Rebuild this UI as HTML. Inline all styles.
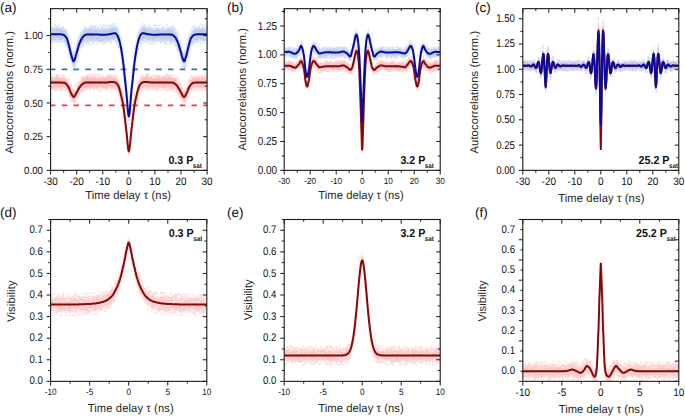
<!DOCTYPE html>
<html><head><meta charset="utf-8"><style>html,body{margin:0;padding:0;background:#fff;}svg{display:block;}</style></head>
<body><svg width="685" height="416" viewBox="0 0 685 416" text-rendering="geometricPrecision">
<rect width="685" height="416" fill="#fff"/>
<filter id="blur" x="-5%" y="-20%" width="110%" height="140%"><feGaussianBlur stdDeviation="1.6"/></filter>
<clipPath id="ca"><rect x="50.6" y="8.65" width="156.5" height="161.7"/></clipPath>
<clipPath id="cb"><rect x="284.2" y="8.65" width="156.0" height="161.7"/></clipPath>
<clipPath id="cc"><rect x="522.8" y="8.65" width="156.0" height="161.7"/></clipPath>
<clipPath id="cd"><rect x="50.6" y="219.5" width="156.20000000000002" height="161.85000000000002"/></clipPath>
<clipPath id="ce"><rect x="284.2" y="219.5" width="156.0" height="161.85000000000002"/></clipPath>
<clipPath id="cf"><rect x="522.8" y="219.5" width="156.0" height="161.85000000000002"/></clipPath>
<g clip-path="url(#ca)">
<path d="M50.6 28.0L51.3 28.0L51.9 28.0L52.6 28.0L53.3 28.0L54.0 28.0L54.6 28.0L55.3 28.0L56.0 28.0L56.6 28.0L57.3 28.0L58.0 28.0L58.7 28.0L59.3 28.0L60.0 28.0L60.7 28.0L61.3 28.1L62.0 28.1L62.7 28.2L63.4 28.5L64.0 28.9L64.7 29.4L65.4 30.1L66.0 30.8L66.7 31.9L67.4 33.7L68.1 36.1L68.7 38.7L69.4 41.2L70.1 43.9L70.8 46.8L71.4 49.5L72.1 51.7L72.8 53.8L73.4 55.0L74.1 54.5L74.8 52.7L75.5 50.8L76.1 48.5L76.8 46.0L77.5 43.6L78.1 41.3L78.8 39.1L79.5 37.2L80.2 35.5L80.8 34.0L81.5 32.6L82.2 31.5L82.8 30.7L83.5 30.0L84.2 29.3L84.9 28.8L85.5 28.5L86.2 28.4L86.9 28.3L87.5 28.3L88.2 28.3L88.9 28.3L89.6 28.3L90.2 28.3L90.9 28.3L91.6 28.2L92.2 28.2L92.9 28.2L93.6 28.2L94.3 28.2L94.9 28.2L95.6 28.2L96.3 28.2L96.9 28.3L97.6 28.3L98.3 28.3L99.0 28.3L99.6 28.4L100.3 28.4L101.0 28.4L101.6 28.5L102.3 28.5L103.0 28.5L103.7 28.5L104.3 28.5L105.0 28.5L105.7 28.4L106.3 28.4L107.0 28.3L107.7 28.2L108.4 28.1L109.0 28.0L109.7 27.9L110.4 27.8L111.1 27.6L111.7 27.5L112.4 27.3L113.1 27.1L113.7 27.0L114.4 26.9L115.1 26.9L115.8 27.2L116.4 27.8L117.1 28.7L117.8 29.8L118.4 31.6L119.1 33.5L119.8 35.9L120.5 38.7L121.1 42.2L121.8 46.3L122.5 50.7L123.1 55.5L123.8 61.3L124.5 67.8L125.2 74.5L125.8 80.5L126.5 86.5L127.2 95.2L127.8 103.0L128.5 109.1L129.2 109.1L129.9 103.0L130.5 95.2L131.2 86.5L131.9 80.5L132.5 74.5L133.2 67.8L133.9 61.3L134.6 55.5L135.2 50.7L135.9 46.3L136.6 42.2L137.2 38.7L137.9 35.9L138.6 33.5L139.3 31.6L139.9 29.8L140.6 28.7L141.3 27.8L141.9 27.2L142.6 26.9L143.3 26.9L144.0 27.0L144.6 27.1L145.3 27.3L146.0 27.5L146.6 27.6L147.3 27.8L148.0 27.9L148.7 28.0L149.3 28.1L150.0 28.2L150.7 28.3L151.4 28.4L152.0 28.4L152.7 28.5L153.4 28.5L154.0 28.5L154.7 28.5L155.4 28.5L156.1 28.5L156.7 28.4L157.4 28.4L158.1 28.4L158.7 28.3L159.4 28.3L160.1 28.3L160.8 28.3L161.4 28.2L162.1 28.2L162.8 28.2L163.4 28.2L164.1 28.2L164.8 28.2L165.5 28.2L166.1 28.2L166.8 28.3L167.5 28.3L168.1 28.3L168.8 28.3L169.5 28.3L170.2 28.3L170.8 28.3L171.5 28.4L172.2 28.5L172.8 28.8L173.5 29.3L174.2 30.0L174.9 30.7L175.5 31.5L176.2 32.6L176.9 34.0L177.5 35.5L178.2 37.2L178.9 39.1L179.6 41.3L180.2 43.6L180.9 46.0L181.6 48.5L182.2 50.8L182.9 52.7L183.6 54.5L184.3 55.0L184.9 53.8L185.6 51.7L186.3 49.5L186.9 46.8L187.6 43.9L188.3 41.2L189.0 38.7L189.6 36.1L190.3 33.7L191.0 31.9L191.7 30.8L192.3 30.1L193.0 29.4L193.7 28.9L194.3 28.5L195.0 28.2L195.7 28.1L196.4 28.1L197.0 28.0L197.7 28.0L198.4 28.0L199.0 28.0L199.7 28.0L200.4 28.0L201.1 28.0L201.7 28.0L202.4 28.0L203.1 28.0L203.7 28.0L204.4 28.0L205.1 28.0L205.8 28.0L206.4 28.0L207.1 28.0L207.1 40.5L206.4 40.5L205.8 40.5L205.1 40.5L204.4 40.5L203.7 40.5L203.1 40.5L202.4 40.5L201.7 40.5L201.1 40.5L200.4 40.5L199.7 40.6L199.0 40.6L198.4 40.6L197.7 40.6L197.0 40.6L196.4 40.6L195.7 40.7L195.0 40.8L194.3 41.0L193.7 41.5L193.0 42.0L192.3 42.7L191.7 43.4L191.0 44.5L190.3 46.3L189.6 48.7L189.0 51.3L188.3 53.8L187.6 56.5L186.9 59.4L186.3 62.0L185.6 64.2L184.9 66.4L184.3 67.6L183.6 67.0L182.9 65.3L182.2 63.4L181.6 61.1L180.9 58.6L180.2 56.2L179.6 53.9L178.9 51.7L178.2 49.7L177.5 48.1L176.9 46.6L176.2 45.2L175.5 44.1L174.9 43.3L174.2 42.6L173.5 41.9L172.8 41.4L172.2 41.1L171.5 40.9L170.8 40.9L170.2 40.9L169.5 40.9L168.8 40.9L168.1 40.9L167.5 40.8L166.8 40.8L166.1 40.8L165.5 40.8L164.8 40.8L164.1 40.8L163.4 40.8L162.8 40.8L162.1 40.8L161.4 40.8L160.8 40.8L160.1 40.9L159.4 40.9L158.7 40.9L158.1 41.0L157.4 41.0L156.7 41.0L156.1 41.0L155.4 41.1L154.7 41.1L154.0 41.1L153.4 41.1L152.7 41.1L152.0 41.0L151.4 40.9L150.7 40.9L150.0 40.8L149.3 40.7L148.7 40.6L148.0 40.5L147.3 40.4L146.6 40.2L146.0 40.1L145.3 39.9L144.6 39.7L144.0 39.6L143.3 39.5L142.6 39.5L141.9 39.8L141.3 40.4L140.6 41.3L139.9 42.4L139.3 44.1L138.6 46.1L137.9 48.5L137.2 51.3L136.6 54.7L135.9 58.9L135.2 63.3L134.6 68.0L133.9 73.9L133.2 80.4L132.5 87.1L131.9 93.1L131.2 99.1L130.5 107.8L129.9 115.6L129.2 121.7L128.5 121.7L127.8 115.6L127.2 107.8L126.5 99.1L125.8 93.1L125.2 87.1L124.5 80.4L123.8 73.9L123.1 68.0L122.5 63.3L121.8 58.9L121.1 54.7L120.5 51.3L119.8 48.5L119.1 46.1L118.4 44.1L117.8 42.4L117.1 41.3L116.4 40.4L115.8 39.8L115.1 39.5L114.4 39.5L113.7 39.6L113.1 39.7L112.4 39.9L111.7 40.1L111.1 40.2L110.4 40.4L109.7 40.5L109.0 40.6L108.4 40.7L107.7 40.8L107.0 40.9L106.3 40.9L105.7 41.0L105.0 41.1L104.3 41.1L103.7 41.1L103.0 41.1L102.3 41.1L101.6 41.0L101.0 41.0L100.3 41.0L99.6 41.0L99.0 40.9L98.3 40.9L97.6 40.9L96.9 40.8L96.3 40.8L95.6 40.8L94.9 40.8L94.3 40.8L93.6 40.8L92.9 40.8L92.2 40.8L91.6 40.8L90.9 40.8L90.2 40.8L89.6 40.9L88.9 40.9L88.2 40.9L87.5 40.9L86.9 40.9L86.2 40.9L85.5 41.1L84.9 41.4L84.2 41.9L83.5 42.6L82.8 43.3L82.2 44.1L81.5 45.2L80.8 46.6L80.2 48.1L79.5 49.7L78.8 51.7L78.1 53.9L77.5 56.2L76.8 58.6L76.1 61.1L75.5 63.4L74.8 65.3L74.1 67.0L73.4 67.6L72.8 66.4L72.1 64.2L71.4 62.0L70.8 59.4L70.1 56.5L69.4 53.8L68.7 51.3L68.1 48.7L67.4 46.3L66.7 44.5L66.0 43.4L65.4 42.7L64.7 42.0L64.0 41.5L63.4 41.0L62.7 40.8L62.0 40.7L61.3 40.6L60.7 40.6L60.0 40.6L59.3 40.6L58.7 40.6L58.0 40.6L57.3 40.5L56.6 40.5L56.0 40.5L55.3 40.5L54.6 40.5L54.0 40.5L53.3 40.5L52.6 40.5L51.9 40.5L51.3 40.5L50.6 40.5Z" fill="#9fb8e2" fill-opacity="0.5" filter="url(#blur)"/>
<path d="M50.7 37.5h0m0-1.6h0m.1-.5h0m0-7.8h0m0 9.6h0m.1-4.7h0m0-1.7h0m0 1.1h0m0 11.8h0m0-3h0m.1-9.2h0m.3 11.4h0m.1-7.2h0m0 6h0m0-8.8h0m.1 2.1h0m0 7h0m0-6.1h0m.1 3.8h0m.1-2.3h0m.3-8.4h0m0 4.5h0m0-.3h0m0-5.5h0m.1 6.6h0m.2-5.6h0m0 4.3h0m0 .6h0m0 2.9h0m.1 2.1h0m.2 1h0m0-.5h0m0-6.7h0m0 .5h0m.1 5.8h0m0-9.6h0m.1 8.6h0m.1-1.1h0m0 4.5h0m.1-2.5h0m0-7.8h0m.1 2h0m.1 4.9h0m0-8.6h0m.1 6h0m0-.7h0m0-4.5h0m.2 2.8h0m0 3.6h0m.1 3.3h0m0-10.7h0m.2 14.8h0m0-6.1h0m.2 5.2h0m.1-5.3h0m.1-6.6h0m0 5.4h0m.1 .4h0m0-1.7h0m0-9.2h0m.2 2.7h0m.1 5.2h0m.1 4h0m.1-1.1h0m0-3.4h0m0 2.6h0m.1-.5h0m.1 4.2h0m.2 1.5h0m0-1.2h0m.1-6.2h0m0 5.3h0m.1-14.1h0m0 7.3h0m.1-.4h0m.1-1.6h0m0 9.3h0m.1 .6h0m.3-4.4h0m0-3.7h0m.1 .1h0m.1-5h0m0 1.1h0m.1 1.6h0m.2-.5h0m.1 3.9h0m0-2.7h0m0 5.2h0m.1 .6h0m0-6.3h0m.1 11.8h0m0-13.9h0m0-2.1h0m0 10.6h0m.2-5.7h0m0 2.7h0m0 5.2h0m.2-6.2h0m.1-.7h0m.1-2.3h0m.1 6.1h0m.1-2.1h0m.1 3.4h0m0-7.4h0m.1 5.1h0m.2-4.4h0m0 7h0m0-3.6h0m0 4.6h0m.1-.7h0m.2-8.4h0m.1 5.8h0m0-.4h0m.1-3.7h0m.1 7h0m.1-12.5h0m0 12.3h0m0-1.7h0m.1-10.9h0m0 16.9h0m.1-15.8h0m.1 6.3h0m.1-.6h0m.1 7.1h0m0-5.5h0m0 6.5h0m.1-10.3h0m0 5.7h0m.2 1.8h0m0-.7h0m.2-1.5h0m.1-5.1h0m.2 2.8h0m.1 5.1h0m0 .5h0m.2 .7h0m0-8.2h0m0 1.4h0m.1 7.2h0m0 2.4h0m.2-7.1h0m0 2.4h0m.1-5h0m0 2.9h0m.1-2.2h0m.1-2h0m0-1h0m0 5.7h0m.1-4.2h0m0 5.8h0m0 2.9h0m0-6.5h0m0-4.4h0m0-1h0m.1 6.8h0m0 7.5h0m0-9.3h0m.1 2.5h0m0-3.8h0m0-2h0m.1 6.8h0m.1 1.2h0m0-1.4h0m.1 1.3h0m0 1.4h0m.1-5.4h0m.1 4.3h0m.1-2h0m0 .2h0m0 1.3h0m.3-5.5h0m.1 4.8h0m.1-1.7h0m0-3.9h0m.1 4.2h0m.1 5.9h0m0-4.4h0m.1 .1h0m0-5h0m.1-4.6h0m.1 6.6h0m0 1.5h0m.3-7h0m.1 9.7h0m0-4.4h0m.1-.8h0m0 2.3h0m0 .7h0m.1-1.6h0m0-6h0m.1 4.3h0m0 5.2h0m.3-3.7h0m.2-3h0m0-3.6h0m.1 4.5h0m0 2.7h0m.1-5.3h0m0 2.3h0m0 3.3h0m.1 3.6h0m0-3.3h0m.1-3.8h0m0 9h0m.1 2.5h0m.1-9.4h0m0 9.2h0m.1-.9h0m.2-4.7h0m0 .2h0m0-1.3h0m.2-.4h0m0-1.6h0m0 2.9h0m.1 3.2h0m.1 5.7h0m.1-14.7h0m.1 2.2h0m.1 .9h0m0 2.9h0m0 3.8h0m.1-6h0m0 2.5h0m0 5.8h0m.1-10.5h0m.2 11.1h0m.2-4.2h0m0-9.8h0m0 11.5h0m0-4.3h0m0-4h0m.2 4.9h0m0 6.4h0m0-4.1h0m0-1.9h0m.1 6.5h0m.1-12.9h0m0 5h0m.2-1.3h0m.1 2.4h0m.2-.1h0m.1 3.7h0m.2 5.6h0m.1-9.3h0m.1 3.2h0m0-6.8h0m0 12.3h0m.1-5.8h0m0-8.9h0m0 15.8h0m.1-.5h0m.1-5.9h0m0-6.5h0m0 12.9h0m0-5.5h0m.1 1.5h0m0 1.7h0m.2-.9h0m0-6.3h0m0 4.9h0m.1 6.5h0m0-2.7h0m.1-3.1h0m0 7h0m.1-3.1h0m0-1h0m.1 7.2h0m.1-16.6h0m0 15.6h0m.1-7.1h0m.1 1.1h0m0 2h0m.1-7.8h0m0 5.1h0m0 4.2h0m.1-8.7h0m0 2.9h0m0 7.1h0m.1 2.6h0m0-10.7h0m.1 4.6h0m0 6.1h0m.1-8.8h0m0 9.1h0m0-3.3h0m0 .6h0m.2 5.7h0m0-11.9h0m0-6.7h0m.1 7.2h0m0 1.1h0m0 3.2h0m0-.8h0m.1-1.3h0m0-1.3h0m.1 5.1h0m0-2.2h0m0 1.2h0m.1-3.4h0m0-1.7h0m.1-.1h0m.1 7.1h0m0 .1h0m0-5h0m.1 4.7h0m0-.2h0m.1-2.9h0m0 .5h0m0-4.2h0m.2 12h0m.1-10.1h0m0 7.3h0m.1-4.6h0m0 8.9h0m.1-5.1h0m.1 2.9h0m.2-10.2h0m.1 12.5h0m0-9.3h0m.1 9.1h0m.3 2.4h0m.2-5.8h0m0-3.3h0m.1 5.4h0m0-2.9h0m.1 1.9h0m.1 1.6h0m0-6.4h0m.2 6.7h0m.2-3.3h0m0 9.3h0m.1-4.2h0m.2-4.6h0m.1 6.5h0m0 7.4h0m0-12.8h0m0 .8h0m0 3.9h0m0-1.7h0m.1 2.1h0m.1-3.1h0m0-3.2h0m.1 3.7h0m0 1.8h0m0 1.8h0m.1-1.4h0m0 1.5h0m.1-6.5h0m.1 9.1h0m0-2.2h0m0-4.2h0m.1 .1h0m0 .3h0m0 3.1h0m0-2.9h0m0 7.4h0m0 .4h0m.1-1.2h0m.1-7.6h0m0-4.5h0m.1 8h0m0 .5h0m.1-1.2h0m0-9.6h0m0 7.2h0m.1 .3h0m0 2.9h0m0-4.8h0m.1-3.9h0m.1 4.9h0m0 4.5h0m0-9.6h0m0 6h0m0-8.2h0m0 12.7h0m.1-4.2h0m0-2h0m.1 9.1h0m0-8.6h0m0-2.3h0m.1 3h0m.1-2.7h0m.1 .9h0m.1 4.3h0m.1-7.3h0m0 6.6h0m0-2.1h0m.1 1.9h0m0-6.3h0m0 5h0m.1-.1h0m0 7.3h0m.1-8.7h0m.1-5.9h0m0 13.8h0m.1-11.1h0m0 1.6h0m.1 7.5h0m.1-6.3h0m0-6.2h0m0 4.2h0m0-1.6h0m.1-3.6h0m.1 6h0m0-5.5h0m.1 9.2h0m0-1.8h0m0-10.3h0m.1 .2h0m0 1.7h0m0 10.8h0m0-5.8h0m0 3h0m.1-12.7h0m.1 14.1h0m0-.4h0m.1-3.3h0m0-4.2h0m0 4h0m.1-1.3h0m0-2.7h0m.1 .5h0m.1 8.4h0m0-2.9h0m.1-13.2h0m0 7.1h0m0-8h0m0 1.6h0m0 1.4h0m.1 4.6h0m0-6.7h0m0 8.8h0m0-11.2h0m0 6.4h0m.1-.2h0m0 4.4h0m0 .7h0m0-1.5h0m.1 1h0m0 1.4h0m.2 .2h0m.1-5.9h0m.2-5.3h0m0-3.4h0m0 5.3h0m0 3.8h0m.1-3.5h0m0-4.9h0m.1 6.8h0m0-3.9h0m0 2.7h0m.1 .8h0m0 3.1h0m.2-6.5h0m0 6.9h0m0 .7h0m.2-6.5h0m0-2.9h0m0 .2h0m0 .3h0m.1 4.9h0m0-.8h0m0-5.6h0m.1-4.1h0m0 18.8h0m0-15.6h0m.1 4.4h0m.1 .8h0m0 3.1h0m.3-1.4h0m0 2.5h0m.1-6.8h0m0 5.4h0m.1-3.7h0m.2 5.4h0m0-12h0m.1 2h0m.2 7.7h0m.1-7.3h0m.1 3.5h0m.1 1.9h0m.1-4.4h0m0-3.5h0m.1-3.3h0m0 5.5h0m.3-4.5h0m.1 1.9h0m.1-.2h0m0-1.4h0m0 10.4h0m.1-4.4h0m0-8.4h0m0 12.5h0m.2-2.6h0m.1-12.2h0m0 12.8h0m.1-5.3h0m0-.6h0m0 2.5h0m.1-5.6h0m0 .3h0m0 6.9h0m0-10.9h0m.1 11.3h0m.1-1.7h0m.1-1.5h0m0-1.6h0m0 5.8h0m.1-6.2h0m.2 10.5h0m0-7.4h0m0 1.8h0m.1-1h0m0-2.8h0m.2-1.5h0m0 4.3h0m.2-3.6h0m0 6.8h0m0-5h0m0-5.8h0m.1 7.1h0m0-1.7h0m0-1.3h0m.1-3.7h0m0 1.9h0m.1 2.3h0m0 3.7h0m.1-5.6h0m0 10.4h0m.4-11.6h0m.2 5h0m.1-6.2h0m0 3.1h0m0-6.3h0m0 8.8h0m.1 5.8h0m0-8.9h0m0 2.3h0m.1-1.7h0m0-5.7h0m0 9.2h0m0-7h0m0-1h0m.1-.8h0m0 13.5h0m0-9.5h0m.1 3.7h0m.2-2.2h0m.1 2.5h0m0-2.2h0m0-5.6h0m.1-3.5h0m0 4.5h0m.1 8.4h0m0-10.9h0m0 10.9h0m.1-3.8h0m0-6.7h0m0 7.6h0m0-5.8h0m.1 4.3h0m0 3.9h0m.2-6.1h0m0 3.3h0m.1-10.2h0m.1-.4h0m0 1.1h0m.1 11.4h0m0-12.9h0m0 7h0m0-.9h0m0 1.4h0m.1 3.2h0m.1-3h0m0-3.3h0m.1-3h0m0 4.3h0m0 2.5h0m0 2.1h0m.2-.7h0m.2-8.7h0m.1 4.2h0m.1 2h0m0 8.3h0m0 .5h0m.1-10.8h0m0 .2h0m0-2.1h0m.1 4h0m.1 3.8h0m.2 4.7h0m0-3.5h0m.1 5.2h0m0-10.6h0m0-.8h0m0-4h0m.1 14.2h0m0-1.8h0m.1-9h0m.1 1.2h0m0 10.4h0m.1-5.7h0m.1-3.6h0m.1 2.1h0m0-3.3h0m.1 1.5h0m.1 2.6h0m0-4.2h0m0 2.1h0m.2-5.5h0m.1 11.6h0m.3-5.4h0m0 1.9h0m0-1.9h0m.1-2.9h0m0-1.1h0m0 12.1h0m.1-14.3h0m0 2.7h0m0 .1h0m0 2h0m.4-3.9h0m0 2.4h0m0 9.8h0m.1-5h0m0-1.9h0m.1 .5h0m0 .4h0m0-4.7h0m.1 7.7h0m.1-1.6h0m0 1h0m.1-4.3h0m0-2.1h0m0 6.1h0m0-5.8h0m.1 4.2h0m0-8.8h0m0 15.5h0m0-9.1h0m0-5.2h0m.1 6.8h0m0 3.3h0m0-1.1h0m.1-6.4h0m0 4.9h0m0-7.1h0m.1 4.5h0m0 2.7h0m0-.6h0m.1-4.1h0m0-2.4h0m.1 8.2h0m0 1.6h0m.1 0h0m.2-7.4h0m.1-6h0m0 10.5h0m.1-5.4h0m0 4.8h0m.1-6h0m.1 10.8h0m0-9.3h0m0 8.5h0m.1-2h0m0-5.3h0m.1 2.5h0m0-.7h0m.1-2.7h0m0 1.5h0m0-5.8h0m0 3.3h0m.1 7.2h0m.1-3.5h0m0 2.1h0m0-.6h0m.1-9.9h0m0 11.5h0m0-9.2h0m0-1h0m.1-2.8h0m0 9.5h0m.1-1.2h0m0-.1h0m.1 2.9h0m0-9.6h0m0-.8h0m0 18.2h0m0-8h0m0-6.8h0m.1 10.1h0m0-1.6h0m0-3.2h0m.1 .2h0m0 .7h0m.2-.1h0m0-8.8h0m0 17.5h0m.1-7.1h0m0 2.9h0m0-6.2h0m0 3.1h0m.1-4.2h0m.2 2.1h0m.1-9.5h0m.1 15.5h0m.1-3.8h0m0-6.1h0m.1 5.7h0m0-2.4h0m.2 7.6h0m.1-10.2h0m0 3.8h0m.1-3.1h0m0 6.7h0m0-1.6h0m0 1.4h0m0-11.4h0m.1 15.4h0m0-9.8h0m.1 .7h0m.1-4.6h0m.1 4.5h0m0 6h0m0-7h0m0 10.2h0m.3-12.7h0m0 5.3h0m0 2.9h0m.1-1.1h0m0-4.9h0m.1 10.2h0m0-15.3h0m.1 10.9h0m0-10.1h0m0 6.2h0m.1-8h0m0 14.3h0m0-9.6h0m.2 4.3h0m.2 2.6h0m.1-6.7h0m0 4.9h0m.1 2.3h0m0-2.4h0m0 2.6h0m.1-2.5h0m0-.8h0m.1-5.2h0m0 5.4h0m.1 3.1h0m.1-7h0m0 5.1h0m.1 2.8h0m0 1.1h0m.1-13.5h0m0 8.5h0m.2-7.9h0m.1 11.9h0m0 .3h0m.1-12.6h0m0 9h0m.1-.3h0m0 .1h0m.1 3.7h0m0-9.3h0m.1 10.2h0m0-9.1h0m.2 8.4h0m0-14.6h0m0 6.4h0m.1-1.7h0m0 12.8h0m0-9.4h0m.1 4.5h0m.1 1.1h0m.2-.1h0m.1-7.6h0m.1 3.6h0m.1 2.4h0m.1 .5h0m.1 .2h0m0-.5h0m.1-1.2h0m.1 4h0m.1-1.1h0m0 5h0m0-9h0m0-2.7h0m.1 4.8h0m0-8.5h0m.1 9.8h0m.1-3.7h0m0-5.1h0m0 4.2h0m0 4.7h0m0-5.3h0m.1 3.5h0m.2-6.9h0m0 1.6h0m0 4.5h0m0-3.4h0m.1-5.5h0m0 2.7h0m.2 1.2h0m0 4.8h0m.1 1.8h0m0 .8h0m.2-8.1h0m0 9.6h0m.1-6.8h0m0-5.4h0m.1 14.5h0m0-8.8h0m.1 6.1h0m.3-3.9h0m0-3h0m.1 6.9h0m0 1.5h0m0-4.2h0m.1-2.8h0m.1 2.8h0m0 2.5h0m0-7.4h0m0 8.2h0m.1 1.5h0m.1-7.1h0m0-9.2h0m.2 12h0m0-1.9h0m0 4.3h0m.1-1.9h0m.1 2.4h0m0-6.4h0m.1 4.3h0m.1 .5h0m.3-7.8h0m0 10.9h0m0-10.9h0m.1 5.1h0m0 3.3h0m.1-4h0m.1 1.1h0m.1-2.7h0m0 2.4h0m.1-9.5h0m0 3.8h0m.1-.3h0m.1 10.5h0m0-3.9h0m0-7h0m0 2.7h0m.2 2.6h0m0 .5h0m.1-5.1h0m0 13.4h0m.1-4.7h0m0 2.3h0m.2-11.5h0m0 11.5h0m.1-5.1h0m0-7.3h0m.1 7.5h0m0-2.7h0m0 1.2h0m.1-3h0m0-6.5h0m0 14.9h0m0-5.1h0m.1-7.7h0m0-2.1h0m.1 10.6h0m0-7.3h0m0 3.2h0m.2 .2h0m0 9.3h0m0 1h0m.1-8h0m0 1.1h0m0-.1h0m0 5h0m.1-12h0m0 7.4h0m0-10.4h0m0 10.6h0m.1-2.7h0m.2-1.8h0m0 5.1h0m.1 2.9h0m0-2h0m.1-2.6h0m0 2.4h0m.2-11.4h0m.1 11.4h0m0-5.9h0m.1-.1h0m0 2.8h0m0 5.7h0m0-7.2h0m.1-2h0m.1 3.5h0m0 .7h0m0 9.5h0m0-4.4h0m.1-4.1h0m.1-1.7h0m.1-2.6h0m.1 4.8h0m0-2.2h0m.1 5.5h0m0-7.5h0m0-.5h0m0 3.8h0m.2-4.9h0m0 5.8h0m.1 .8h0m0-.9h0m.1-10.4h0m0 16.4h0m0-8.2h0m.1 2.5h0m0-2.1h0m0 7.2h0m0-10h0m.1 .3h0m0 4.2h0m.1 .7h0m0-2.2h0m.1-4.1h0m.1 11.3h0m0-13.3h0m0 7.7h0m.2-5.2h0m.2 7.5h0m0-12.6h0m.1 7.6h0m.1-6.8h0m.1 10.8h0m0 .1h0m.1-8.1h0m0 1.9h0m0 1.7h0m0-4.1h0m0 3.7h0m.1 3.4h0m.1 7h0m.1 1.1h0m0-12.6h0m.1 .4h0m0 6.6h0m.2-6.6h0m.3 3.4h0m0-1.1h0m0-4.2h0m.1 11.5h0m0-8.8h0m0-.8h0m.1 3.3h0m.1-1.7h0m.1 6h0m0-5.9h0m.1-2.2h0m0-.7h0m.1 6.7h0m.1-6.8h0m.1 2.2h0m0-1.6h0m0 3.2h0m0-3.1h0m0 2h0m0-8.3h0m.1 10.6h0m0-6.5h0m.1 5.2h0m0 6.7h0m0-8.9h0m0-3.4h0m.2 2.1h0m.1-.2h0m.1 7.2h0m.1-5h0m0 7.6h0m.1-14.3h0m0 1h0m0 11.7h0m0-2.9h0m0 3.8h0m0-2.2h0m.2-1.4h0m0 3.3h0m.1-3.2h0m0-5h0m0 4.2h0m.1-4.6h0m.4 4h0m.2-1.3h0m0 6.2h0m.1-9.9h0m0 9.4h0m.1-3.6h0m.1 4.2h0m0-8.1h0m0 7h0m0-7.3h0m.1-6.2h0m0 7.2h0m.1 11.1h0m0-14.1h0m.1 3.7h0m0-2h0m0 .9h0m0-3.4h0m0 .7h0m0 4.8h0m0 5.4h0m.1-5.3h0m0-3.9h0m.1 12h0m.1-9.2h0m0 8.9h0m.1-13.3h0m.1-3.4h0m.1 4.4h0m0 5.9h0m.1-5.5h0m0-2.5h0m.1-1.6h0m0 1.2h0m.2 1.4h0m0 9.5h0m.1-4.1h0m.1-2.6h0m0 1.9h0m.1 9.1h0m0-8.1h0m0 2.4h0m.1-4.1h0m0-.7h0m0 8.1h0m0-3.1h0m.1-4.1h0m0 5.5h0m.1-4.7h0m0 3.7h0m0-.6h0m0-7.2h0m.1 4.6h0m.1 1.9h0m0-9.5h0m.2 8.4h0m0-1.3h0m0-.3h0m.1-9.1h0m.1 6.3h0m0-1.1h0m.1 5.6h0m0-5.5h0m.1-1.3h0m.1 10.4h0m0-7.3h0m.1-5.5h0m0-.8h0m0 7.1h0m0-8.1h0m.2 12.3h0m0-7.9h0m.1 2.3h0m0 7.2h0m0-9.4h0m0 10.4h0m0-2.8h0m.2-2.6h0m0 5h0m.1-10.8h0m0 7.4h0m.1 3.6h0m0-6.9h0m.1 1.2h0m.1 4.9h0m0-2.4h0m.1-6.6h0m0 .3h0m.1 10.9h0m0-11.6h0m.1 0h0m0-.8h0m0 7.4h0m.1 1.3h0m0-3.1h0m.2 2.5h0m.1-1.8h0m.1 1.6h0m0-1.5h0m.1 1h0m.1-2.4h0m0-.6h0m0 1.9h0m0 1.3h0m.1-9.8h0m.1 3.1h0m.1 2h0m.1 6.2h0m0-6.8h0m.1 3.6h0m0-3.4h0m.1 1.6h0m0-8h0m.1 9h0m0 4.7h0m.1-9.4h0m.1-.3h0m.1-.7h0m.1 15.9h0m0-5.4h0m.1-.5h0m.1 3.8h0m0-7.9h0m.1-2.4h0m.1-1.8h0m0 .8h0m.1 4.1h0m.1-6.8h0m.1 6.1h0m0 10.8h0m0-8.1h0m.1 2.1h0m.1-4.9h0m0 3.6h0m.2-.2h0m.1-7.7h0m0 9.8h0m.1 2.9h0m0-7.3h0m0-1.8h0m.2 3.7h0m0-.5h0m0 2.7h0m0 3.4h0m0-2.5h0m.1 1.5h0m0-10.5h0m0 6.9h0m.1-7.5h0m0 7.1h0m0 3.6h0m0-5h0m.1 .1h0m.1-5h0m.1 15.7h0m.1-7.2h0m.1-3.5h0m0 5.4h0m.2-3.7h0m0 2h0m0-7.8h0m.1 1h0m0 15.1h0m.3-1.5h0m0-3.4h0m0-3.2h0m.1 .7h0m.1 1.7h0m.1-4.7h0m0-1.1h0m0 3.6h0m.1 2h0m.1-1.2h0m0 4h0m.2-7.1h0m0 0h0m.1 8.3h0m0-10.8h0m0 6.9h0m0-4h0m.1 4h0m0 1h0m0-4h0m.1 8.1h0m0-3.3h0m.1 4.4h0m0-7.7h0m.3 4.6h0m.2 1.5h0m.1 1h0m0-5.2h0m.1 2.1h0m0 2.3h0m0 1.4h0m.1-9.9h0m0 1.4h0m0 12h0m.1-10.4h0m0 3.2h0m0 1.1h0m.1-.1h0m.3 9.6h0m0-15.5h0m.2 1h0m0 9.3h0m0 .3h0m0-.6h0m.1 3.9h0m0-5.4h0m0 2.9h0m.1 5.1h0m0-2.2h0m.1 1h0m.1 .7h0m.2 0h0m0-4.1h0m.1 4.9h0m.1 6.2h0m.1-13.3h0m0 9.5h0m.1-9h0m0 5.5h0m0-1.1h0m.2 7.3h0m0-4.1h0m0 2.4h0m0-1.5h0m.1-1.6h0m.1 4.1h0m.2-3.9h0m0 10.5h0m.1-.9h0m.1-6.3h0m.1 .1h0m0-2.4h0m.1-1.7h0m0 5.7h0m.1-.7h0m0 2.3h0m.1 1.1h0m.2 3.2h0m.1 0h0m0 3h0m0-1.6h0m.1-3.9h0m0 1.4h0m.1-1.6h0m0 7.5h0m.1 .2h0m.1-3.2h0m0 6h0m.1 .9h0m0-6.8h0m.2 6.9h0m.1-4.5h0m.2 5h0m0 3.2h0m.1 3.5h0m.1-9.6h0m0 5.8h0m0 4.4h0m.2 3.9h0m0-.9h0m0-3.3h0m.1-7h0m0 9.9h0m0-5.2h0m.1 .8h0m0 10.2h0m0-2.9h0m0-9.4h0m.1 13.3h0m0-13.7h0m.1 5.4h0m0 7.8h0m0-15.8h0m0 9.1h0m.2-5.9h0m0 6.3h0m.1 4.8h0m0-8.3h0m.1-2.3h0m.1 2.8h0m0 11.6h0m.1-7.8h0m0 8.4h0m0-2.3h0m.1-8.1h0m0 12.9h0m0-16.2h0m.1 17.1h0m.1 .5h0m0-9.2h0m0 4.4h0m.1 .4h0m.1 4.7h0m.1-6.4h0m0 2.9h0m.1 1.9h0m.1 4.7h0m0 3.7h0m0-6.7h0m.1 9.4h0m0-5h0m0-5.7h0m.1 .8h0m.1 5.6h0m0 8.2h0m0-11.3h0m0-1.5h0m.1 4.1h0m.1-3.9h0m.1 1.4h0m0 12.8h0m0-6.5h0m.1 2.5h0m0-9.3h0m0 2.3h0m.1 5.3h0m0-2h0m.1-1.3h0m0 7.6h0m.1-1.3h0m.1 .5h0m.1 2.5h0m0-.2h0m.1-2h0m0 7.6h0m.1-.5h0m.1-7.8h0m.1-2.9h0m0-1.5h0m0 16.8h0m.2-9.4h0m.1 5.5h0m0-1.3h0m.1-1.6h0m.1-3.3h0m0-.9h0m.3 9.7h0m0-6.4h0m.1-8.4h0m0 4.2h0m.1 7.3h0m0-3h0m0-1h0m.1-8.6h0m0-3.5h0m0 13h0m.1-8.3h0m.1 2.6h0m0-4.1h0m0 3.6h0m.1 3.1h0m0-2.3h0m.4-4.8h0m0-9.7h0m.1 8.7h0m0-6.1h0m0 6.2h0m.1-1.3h0m.1-5.3h0m.1 2h0m.1-12.8h0m0 2.8h0m.1 9.2h0m.1-8.1h0m.1-5.8h0m0 12h0m.1-3.7h0m0-9h0m.1 9.9h0m0-7h0m.1 2.4h0m0-1.3h0m.1 5h0m0-4.5h0m0 1.2h0m.1-10.8h0m.1 4.3h0m.1 1.4h0m0 .5h0m.1-3.7h0m0 10.1h0m.1-3.1h0m.1-1h0m0-.8h0m0 3.9h0m.1-10.5h0m0 4.4h0m.1-9.2h0m.1 5.4h0m.1 .3h0m0-4.2h0m.1-.1h0m.1 2.4h0m0-4.9h0m.4-6.3h0m.2 5.3h0m.3-10.8h0m0 6.5h0m.2-6.7h0m.1 3.9h0m.1 .1h0m0-3.2h0m0 6.5h0m0 2h0m.1-7.3h0m.1-.1h0m0 3.8h0m0-14.9h0m0 7.6h0m.1 4.5h0m0-5.8h0m.1-.7h0m0 4.2h0m0-.8h0m0 7.4h0m.1-10.3h0m.1-7.9h0m.2 1.7h0m.1 0h0m0 7.2h0m.1 1.4h0m.2-9.7h0m0 2.3h0m0 2.3h0m.1-.1h0m.1-6.3h0m0 1.1h0m.3 3.5h0m0-1.8h0m.1 6.3h0m.1-2.6h0m0-8.4h0m.1 4.5h0m0 1.6h0m0-5.3h0m0-4.5h0m.2 8.7h0m0-2.7h0m.2-1.4h0m.4-13.2h0m0 5.1h0m0 3.4h0m0 7.6h0m.1-10.2h0m0 .8h0m.1 3.1h0m.1 2.1h0m0-1.4h0m.1 5.2h0m0-6.1h0m0 .3h0m.1 1.8h0m.1-3.1h0m.1 5.4h0m.1-13h0m.1 5.7h0m.1 4.3h0m0-9h0m0 .8h0m.1 4.7h0m0 3.7h0m.1-6.2h0m0-2.5h0m0-.8h0m0-1.3h0m.1 .2h0m0 10.5h0m0-7.3h0m0 8.9h0m.2-13.3h0m0 2.4h0m0-2.5h0m.4 2.9h0m0 .2h0m0 2.4h0m0 6.2h0m.1-8h0m0-11.1h0m0 4.3h0m.2 6.3h0m0-2.6h0m.1-.8h0m0 4.7h0m0-2.7h0m0-1.5h0m.1 3.7h0m0-4.5h0m.1-3.8h0m0 1.8h0m.1 2.3h0m.2 1.5h0m0-4.1h0m0 5.7h0m.1 .4h0m0-8.8h0m0 7.4h0m.1 4.2h0m.1-10.2h0m0 .6h0m.1-1.9h0m.1 5.3h0m0-5.7h0m0 5.7h0m.1 3.9h0m0-3.8h0m.1-2.2h0m.1 6h0m0-4.1h0m0-2h0m.1 3h0m.1-2.5h0m.1 .4h0m0 3.5h0m.1-5.2h0m0-1.2h0m.1 11.4h0m0-5.9h0m0-6.7h0m0 1.6h0m.3 10.3h0m.1-9.8h0m0-5.3h0m.1 2.3h0m0 .4h0m.1 3.9h0m0-.9h0m0 5.5h0m.1-5.3h0m0-9.8h0m.1 9.8h0m.1 4h0m0-6.5h0m0 11.4h0m.2-19h0m.1 6.9h0m0 4h0m.1 .4h0m.1 2.4h0m.2-4.6h0m0 .3h0m.1 7.1h0m0-11.4h0m0 6.1h0m0 3.2h0m.1-9.1h0m0 .9h0m0 5.9h0m0 .4h0m.1-7.9h0m0 6.7h0m0-2.7h0m.1-5.3h0m0 11.6h0m0 1.4h0m.1-3h0m.1-1.2h0m.1-2.7h0m.2-4.3h0m0 6.3h0m0-9.5h0m.1 6.6h0m.1 9.9h0m0-8.8h0m.1-3.3h0m0-1.8h0m0 8.2h0m.1-2.8h0m0-9.9h0m.1 8.8h0m0 4.8h0m0 2.7h0m.1-4.8h0m0-3.7h0m.1 6.7h0m0-11.1h0m0 9.5h0m.1 5.2h0m0-11.5h0m.2 2.8h0m0 1.2h0m0-6.8h0m0 8.4h0m.1-5.8h0m0 5.5h0m0-9.7h0m.1 7.3h0m0-.1h0m.1-2.5h0m0 3h0m0-2.4h0m.1 3.1h0m0-3.8h0m.1 2.5h0m0 2.7h0m.1-4.9h0m.1 .4h0m0 6.9h0m0-3.4h0m.1 6.2h0m0-8h0m0-3.3h0m.1-5.6h0m.1 8.1h0m.2-3.4h0m0-1.9h0m.2 3.4h0m0 11.6h0m.3-6.2h0m0-3.6h0m.2 .3h0m0 .8h0m.1 4.6h0m0 4.3h0m.2-10h0m0-3.5h0m.1 7.3h0m.1-4.6h0m0 4.9h0m0-1.8h0m.1 2h0m.1-6.2h0m0 7.8h0m0-4.8h0m.1-3.4h0m.1 4.2h0m0 5.4h0m0-7.2h0m.1 2.5h0m0 5h0m0-5h0m0 .5h0m.1-4h0m.1 4.9h0m0-2.6h0m0-2.3h0m0 11.3h0m0-12.9h0m.2 4.3h0m.2 4.6h0m0-5.1h0m0-4h0m.1 7.7h0m0-.6h0m.1-8.5h0m.2-.9h0m.3-1.8h0m.1 8.6h0m.1 4.5h0m0 0h0m0-2.8h0m0 3h0m.1-6.4h0m0-3.7h0m0 10.4h0m0-11.3h0m.1 10.6h0m0-.9h0m.1 3h0m0-9.3h0m.1 3.6h0m0-.5h0m0 9.6h0m.1-6.8h0m.1-4h0m.1 10.8h0m.1-18.2h0m.1 7.4h0m0-3.5h0m.1 6.2h0m0-5.4h0m0-1.7h0m.2-3.5h0m0 13.9h0m0-13.9h0m.1 14h0m.1-5.5h0m0 2.4h0m.1-.9h0m.2 7.8h0m0-7.3h0m0 4h0m0-4.4h0m0-2.1h0m0 .9h0m.1 .7h0m.1-6.7h0m0 4.7h0m.1-1.1h0m.1-3.4h0m0 6.3h0m.1-.7h0m0-2.6h0m0 4.2h0m.3-6.7h0m0 8.4h0m.1-1.9h0m0-.3h0m0 .8h0m.1-1.3h0m0 2.1h0m0 7.6h0m.1-14.9h0m.1 7.1h0m0-5.2h0m.1 8.1h0m.1-7.4h0m0 8.4h0m.1-12.3h0m0 7.2h0m.1 1.4h0m0 7.7h0m.1 0h0m.1-7.4h0m.2 .6h0m0 0h0m0-.4h0m.2-6.6h0m0 6.1h0m0 0h0m0 1.6h0m0 1.4h0m0-6.4h0m0 3.5h0m.1-.2h0m.1-3h0m0 1.1h0m0-3.3h0m0 .2h0m0 9.1h0m.1-2.2h0m0-7.9h0m0 6h0m.1-4.5h0m.2 6.8h0m.2 5.5h0m0 0h0m0-6.4h0m.3-1.1h0m.1-11.3h0m0 5.9h0m0 .3h0m.3-1h0m0 11.2h0m0-7.4h0m.2 .7h0m.1-9.3h0m.1 11.9h0m0 3.4h0m0-6.8h0m.1 1.1h0m0-1.3h0m.1-.6h0m.1 .3h0m0 3.6h0m.1-.9h0m0-11.2h0m.1 12h0m.1-5.1h0m.1 6.7h0m0 3.2h0m0-11.7h0m.1 3.1h0m.1-5.1h0m.2 1.2h0m0 3.5h0m.1 4.5h0m0-12.1h0m.1 8.3h0m.1-8.5h0m.1 5.6h0m.1-1h0m.1 1.2h0m0 .7h0m0 2.9h0m0-9.4h0m0 12.4h0m0 2.8h0m0-8.1h0m.1 4.3h0m0-7.3h0m.2 5.1h0m.1-6.1h0m.1 4.9h0m.2 3.9h0m.1-2h0m.1-4.6h0m0 5.9h0m.1 .9h0m0-2.9h0m0-2.2h0m.2-4.1h0m0 3.6h0m0-1.9h0m.1 4.7h0m.1-9.1h0m0-.3h0m0 11.5h0m.2-4h0m.1 1.6h0m.1-2h0m.1 2.8h0m.1 1.8h0m0 2.6h0m.2-3.5h0m.1-2.3h0m0-4.6h0m.3 2.1h0m0 4.4h0m0 1.1h0m.2 3.8h0m0-9.8h0m0 2.6h0m.3-2.2h0m0-.7h0m0 .9h0m0 2.9h0m.2 .9h0m0 3.2h0m.1-1.6h0m0-4.8h0m0-6.7h0m.1 10.5h0m.1-2.9h0m.1-7.7h0m.2 8.3h0m0 2h0m0-1.6h0m.1 1.2h0m0 7.5h0m.1-12.3h0m.1 11.7h0m.1-5.4h0m0-.5h0m0-3.9h0m.2 3h0m0 1.2h0m.1 1.8h0m.1-4.9h0m0 2.6h0m.2 1.7h0m.1 2.8h0m.1-2h0m0-4.5h0m.1 7.7h0m0-7.6h0m.1 .2h0m.1-4.7h0m.1 8.2h0m0 1.3h0m0-3.9h0m.1 1.4h0m.1 7.6h0m0-14.6h0m0 4.2h0m.1 .5h0m.1 4.2h0m0-5.2h0m.2 2.9h0m0-8.4h0m0 4h0m.1-3.3h0m0 11.9h0m0-1.6h0m.2-2h0m.2 .8h0m.2-9.9h0m0 5.6h0m0 6.4h0m.1-3.6h0m.2-9.4h0m.1 9.5h0m0-4.1h0m0 10.4h0m.1-5.1h0m.1-1.8h0m0 .4h0m0-1.1h0m.1-1.6h0m0-3.5h0m.1 12.9h0m.2-8.1h0m0-2.9h0m.2 2.2h0m0-4.1h0m.1 5.7h0m0 1.3h0m0 1.8h0m.1-7.8h0m0 9.8h0m0-3.8h0m0-1.7h0m0-2.9h0m.1 4h0m0 2.9h0m.1-6.8h0m0 7.8h0m.1-1.9h0m.2 5.7h0m0-9.7h0m0 .2h0m0 8.4h0m0-6.7h0m.1-3.5h0m.1 5.5h0m0 4.5h0m0-7h0m.1-3.2h0m.1 11h0m0-12.1h0m.1 4.1h0m0-4.3h0m.1 8.7h0m0-8.8h0m.2 2.7h0m.1-2h0m0 3.1h0m0-4h0m0 5.1h0m.1 1.2h0m0 2.6h0m0 2.4h0m0-7.3h0m.1 1.9h0m0-1.1h0m0 .8h0m.1-2.8h0m0 1.3h0m0 2.9h0m.1-6h0m.1-6.1h0m0 13.3h0m.1-1.9h0m0-4.4h0m.1 5.6h0m0-7.8h0m.1 7.6h0m0 2.3h0m0-1.1h0m.1-9h0m0 13.7h0m.1-9.5h0m0 9.7h0m0-12.5h0m.1 1.5h0m0-1.2h0m0-6.7h0m.1 9.8h0m0-5.5h0m.1 2.5h0m.3-2.1h0m0 8h0m0-8.4h0m0 6.3h0m.1-8h0m.1 2.3h0m.1 3.9h0m.2-2.4h0m0 .2h0m0 1.3h0m0-7.9h0m0 12.6h0m.1 2.4h0m0-.2h0m.2-4.8h0m0-1h0m0-3.2h0m0-1.4h0m0 3.3h0m.1 .4h0m.1 4.8h0m.1-8.6h0m.1-1.7h0m0 6.6h0m.1-3.7h0m0 6h0m.2-2.7h0m0-.6h0m0-3.4h0m.1 10.4h0m0-6.8h0m0-3.7h0m.1 2.5h0m0-1.5h0m.1 13.2h0m0-6.3h0m.1-1.9h0m.1 1.5h0m.1 6.7h0m.2-14.8h0m0 3.7h0m.1 9.9h0m0-6.5h0m.1-2.3h0m0-4.2h0m.1 1.4h0m.1 7.5h0m0-1.6h0m0-3.9h0m0-3.4h0m0 6.4h0m0 .9h0m.1-5.4h0m0 2h0m0-5.6h0m.1 4h0m0-2.3h0m0 13.4h0m0-2.8h0m.1 .8h0m0-3.7h0m.1-4.7h0m.1 2.9h0m0-3.5h0m0 5.7h0m.1-7.8h0m.1 .6h0m0 11.6h0m0-2.9h0m.1-2h0m.1-6.5h0m.1 .2h0m0-4.6h0m.1 14.9h0m0-7.7h0m.2 1h0m.1 1.2h0m.1-.6h0m.1 8.8h0m.1-10.7h0m0 3.3h0m0 3.8h0m.2-12h0m.1 9.5h0m0-4.1h0m0 4.2h0m0 3.9h0m.1-4.9h0m0-3.5h0m.1 6h0m0-6.8h0m.1-5.5h0m0 2.4h0m.1 6.8h0m0 2.2h0m0-7.8h0m.1 10.6h0m.1-1.6h0m0-12.6h0m.1 6.1h0m.1-.4h0m0 3.5h0m0-10.7h0m.1 .1h0m.1 10h0m.1-4.4h0m0 5.1h0m.2-3.3h0m0-4h0m0 .2h0m.2 7.1h0m0-3h0m.1-7h0m.2 4.7h0m0-2.1h0m.3 4.2h0m0 3.1h0m.1 4.6h0m.4 0h0m.2 3.3h0m0-2.6h0m.1-.9h0m0-7.3h0m.1 11h0m0-9.4h0m.1 11h0m0-18h0m0 11.6h0m0-3.3h0m.2-7.1h0m.1 9.1h0m.1-1.2h0m0-.2h0m.1-1.7h0m.1 4.9h0m0-10.3h0m0 2.9h0m0 4.6h0m.2-4.7h0m0 6h0m.1 2.2h0m0-1.9h0m0-2.6h0m.1 9.4h0m.1-5.4h0m.2-3.1h0m.1 7.4h0m.3-6.1h0m0 6.7h0m0-5.9h0m.1 1.3h0m0-1.8h0m0 5h0m0 5.7h0m0 .7h0m0-18.8h0m.1 16h0m0-2.6h0m0 3.6h0m.1-13.8h0m.1 3.2h0m0-.5h0m.1 9.3h0m0-9.8h0m0 8.2h0m.3-8.6h0m0 6.2h0m0 9.4h0m.2-8.9h0m0 3.7h0m0-13.2h0m.1 15.6h0m.1-4.7h0m0 0h0m.1 2.8h0m0-.4h0m0-3h0m0-1.8h0m0 3.6h0m.2-.4h0m0-1.2h0m.1 4.9h0m.1-3.1h0m.1-1h0m0-4.6h0m.1 2h0m.1 1.2h0m.1-1.7h0m0 8h0m0-8.8h0m.1 7.1h0m0-1h0m0 1.4h0m.1-4.6h0m.1 6.2h0m.3-4.6h0m.1 4.6h0m0 .9h0m.1-4h0m0 5.9h0m.1-9.1h0m0 8.8h0m.2-.3h0m0-7.7h0m.1 12.4h0m.1-10.5h0m0 4h0m.1 .1h0m0-.4h0m0 5.1h0m.1-11.4h0m0 5.2h0m.1-.5h0m0-.6h0m0-.5h0m.1 3.4h0m0 5.8h0m.2 2h0m0 .5h0m0-4.1h0m0-6.5h0m.1 10.6h0m.1-3.8h0m0-4.2h0m.2 4.8h0m.1 .3h0m.1 4h0m.1-5.3h0m.1 3.6h0m0 .7h0m0-1.3h0m.1-3.2h0m.1-2.3h0m.1 9.8h0m0-7.4h0m0 7.3h0m.1 3.8h0m.1-5.4h0m0-3.2h0m0 .6h0m.3-1.3h0m0 10.9h0m0-15.4h0m.1 2.7h0m.3 1.8h0m.1 10.5h0m0-9.3h0m0 4.4h0m.2 .3h0m0-2.2h0m.1 7.5h0m.1-12h0m0 .3h0m0 1h0m.1-2.6h0m.1 14.2h0m0-6.3h0m.2 .3h0m.1 4.2h0m0-9.4h0m.1-5.9h0m.2 14.3h0m0-7.4h0m.1 2.1h0m.1-.5h0m0 .2h0m.3-3.3h0m0 5.8h0m.2-1.4h0m0-9.4h0m0 7.4h0m0-.1h0m.2 7.6h0m0-10.1h0m0-.7h0m0 1.5h0m0-5.9h0m0 16h0m.1-13.2h0m0 11.3h0m.1-2.8h0m0 4.1h0m.1-12.8h0m0 4.3h0m0 1.2h0m0-2.2h0m.1 9.3h0m0-6.4h0m0-3.8h0m0 3.5h0m.1-2.5h0m0 6.8h0m.1-8.3h0m.1 1.9h0m.1-2.5h0m0-6h0m.1 6.1h0m0 3.1h0m.1-4.5h0m0 6.5h0m.1-12.7h0m.1 7.1h0m.1-.3h0m0-2.3h0m0 7.7h0m.2-6h0m0 .7h0m0-10.8h0m0 3.2h0m0-1.8h0m.2 7.6h0m0-.5h0m0-4.2h0m0 7.8h0m0 1h0m.1-11.5h0m0 4.7h0m.1-.2h0m0 9.8h0m.1-6h0m.2-1.1h0m.1 .7h0m0-4.7h0m.1 5.3h0m.1 .7h0m.1-14.4h0m0 6.5h0m.1 6.7h0m0-14.3h0m0 6.7h0m.1 .8h0m0 10.2h0m.1-15.8h0m0 5.9h0m0-4.9h0m.1-2.7h0m.1 13.4h0m0-14.4h0m0 4.6h0m.1 2.9h0m0 9.7h0m0-18.3h0m.1 7h0m.1-1.6h0m0 8h0m.1-8.4h0m0 .1h0m0-4.2h0m.1 10.7h0m0 5h0m.1-6.5h0m0 1.6h0m0-5.9h0m.1 1.7h0m0-1.8h0m.1-5.1h0m.1-2.1h0m0 7.2h0m0 7.3h0m.1-7.3h0m.1 .6h0m.1-1.1h0m.1-.1h0m.1-.6h0m0 9h0m0-11.7h0m0 .1h0m.1 .6h0m0 2h0m0-4.7h0m.2 11.2h0m.1-7.7h0m.1-3.2h0m0 4.7h0m.1-2h0m.1-5.2h0m0 5.2h0m0 3.1h0m.1-1.9h0m0-3.8h0m0 6.3h0m0-4.8h0m0 1.8h0m0-2.1h0m.1-3.2h0m0 0h0m.2 2.6h0m0-.8h0m0-2.6h0m0 7h0m.1-4.3h0m0 5.8h0m0-10.7h0m0 5h0m.1 6.1h0m.1-3.9h0m0-5.5h0m0 2.1h0m0 8.6h0m.2-15.5h0m.1 6.8h0m0-.8h0m.1 3h0m0 2.2h0m.2 2.9h0m.1-7.5h0m.1 .6h0m0 1.1h0m0-4.6h0m.2 1.8h0m.1 5.8h0m.1-2.8h0m0-6.8h0m.1 11h0m0-15.6h0m.1 11.8h0m.2-12.4h0m0 7.7h0m.1 9.1h0m.1-9.3h0m.1 1.5h0m.1 2.2h0m.1-2.2h0m0 0h0m0 9.4h0m.1-12.5h0m0 4.5h0m.1-1.4h0m0-3.1h0m0 3.2h0m.1 5.3h0m0-9.1h0m.3 4.9h0m.1-2.5h0m0 4.2h0m0-2.5h0m0 3.7h0m.1-11.5h0m0 11.7h0m.1-9h0m0 12.6h0m0-9.5h0m0 2.4h0m0-5.7h0m.3 3.3h0m0-8.7h0m0 0h0m.1 12.1h0m.1-5.6h0m0 7.3h0m0 .1h0m.1-4.1h0m.3-4.3h0m0 1h0m0 3.7h0m.2-5.9h0m0 10.3h0m.3-1.3h0m0-3.7h0m.1 7.8h0m0-14.1h0m.1 6.6h0m0 .8h0m0-3.4h0m.1 7.9h0m0-5.5h0m.1 7.1h0m0-6.9h0m0-1.3h0m.1-6.5h0m0 7h0m.1-6h0m0 6.1h0m.1 7.2h0m.1-10.6h0m.1 3h0m0 2.9h0m.1-6.7h0m.1 8.9h0m0-3h0m.1-4.9h0m.1-.6h0m0 6.7h0m0-4.3h0m0 1h0m.1-2.4h0m0 3.8h0m.1 8.4h0m.1-7.8h0m.1-8.4h0m.1 10.5h0m0-2.8h0m.3-4.7h0m0 4.8h0m.1 3.8h0m0-4.7h0m.2 .7h0m0 3h0m0-3.2h0m.1 5.5h0m0 .8h0m.1-1.9h0m0-4.2h0m0-.9h0m.2 2.7h0m.1-7.6h0m.2 2.2h0m0 2.5h0m0-4.9h0m.1-1.6h0m.2 3.5h0m.1 5.7h0m0-6.4h0m0-1.5h0m0 3.4h0m.1 2.4h0m.1-1.7h0m0-.3h0m.1 9.7h0m.1-15.3h0m.1 6.9h0m0-8.7h0m.1 8.6h0m.1 3.9h0m.2-7.3h0m.1 3.3h0m.2-3.6h0m0 5.9h0m0 .1h0m0 1h0m.1 0h0m0-4.9h0m0 7.5h0m0-6.4h0m.1-4.1h0m0 9.2h0m.1-3.3h0m0 2.5h0m0-1.7h0m.1-2.4h0m0-2.4h0m0-.9h0m0 7h0m0-6h0m0 5.8h0m.1 2.3h0m0-.8h0m.1 4.4h0m.1-8.8h0m0 8.4h0m.1-9.1h0m0-8.7h0m0 13.7h0m.1 5.2h0m0-11h0m0 6.3h0m.1-4.5h0m0-.1h0m.1-1.1h0m0-8.5h0m.1 8.1h0m0 .2h0m.1 1.6h0m0 2.8h0m.1-.4h0m0 1.9h0m0-8.6h0m.1 4.5h0m0-3.7h0m.1 1.5h0m.2-7.9h0m.1 9.8h0m0-3.2h0m0 5.4h0m.1-7.9h0m0 6.1h0m.1-1.1h0m.1 6.3h0m.1-8.7h0m.1-5h0m.1 1.4h0m0 10.9h0m0-8.8h0m.1 7.1h0m.2 4.2h0m0-1.8h0m.2-11.2h0m0 7h0m.1 4.1h0m0-7.1h0m0 .2h0m0 2.8h0m0-3.6h0m0 3.9h0m.1-7.2h0m.1 2.1h0m0 3.7h0m.1-1.9h0m0-2.4h0m.1 4.5h0m.2-2.8h0m0 2.9h0m.1 1h0m0 7.1h0m0-2.9h0m.1-1.1h0m0-4.7h0m0-9.1h0m.1 13.6h0m0-2.2h0m0 3.8h0m.2-4h0m.3-.7h0m0-4.1h0m.1 9.3h0m0-8.5h0m.1 1.2h0m0 2.4h0m0 4.3h0m.1-.8h0m0-3.9h0m.1-3.5h0m.1 3.1h0m0 2.9h0m.1-4.7h0m.1 6h0m.1-8.2h0m.1-6h0m0 12.1h0m.2-7.3h0m0 9h0m.1-4.7h0m0-2.1h0m0-3h0m.1 5.3h0m0-6h0m0 11.8h0m0-4.7h0m.1-1h0m0-.4h0m.1 1h0m.1-9h0m.1 10.1h0m0-6.3h0m.1 2.6h0m0-7.3h0m0 10.2h0m.1-4.2h0m0 .6h0m.2 12.2h0m.1-11.5h0m0-2.8h0m0-2.3h0m.1 11.7h0" stroke="#9fb8e2" stroke-opacity="0.45" stroke-width="1.4" stroke-linecap="round" fill="none"/>
<path d="M50.6 77.2L51.3 77.2L51.9 77.2L52.6 77.2L53.3 77.2L54.0 77.2L54.6 77.2L55.3 77.2L56.0 77.2L56.6 77.2L57.3 77.2L58.0 77.2L58.7 77.2L59.3 77.2L60.0 77.2L60.7 77.2L61.3 77.2L62.0 77.3L62.7 77.3L63.4 77.4L64.0 77.4L64.7 77.5L65.4 77.9L66.0 78.5L66.7 79.2L67.4 80.1L68.1 81.1L68.7 82.3L69.4 84.0L70.1 85.8L70.8 87.3L71.4 88.6L72.1 89.9L72.8 90.9L73.4 91.5L74.1 91.4L74.8 90.6L75.5 89.5L76.1 88.3L76.8 87.1L77.5 85.8L78.1 84.4L78.8 83.2L79.5 82.2L80.2 81.2L80.8 80.3L81.5 79.6L82.2 78.9L82.8 78.5L83.5 78.0L84.2 77.6L84.9 77.3L85.5 77.1L86.2 77.0L86.9 77.1L87.5 77.1L88.2 77.1L88.9 77.1L89.6 77.1L90.2 77.1L90.9 77.1L91.6 77.1L92.2 77.1L92.9 77.1L93.6 77.2L94.3 77.2L94.9 77.2L95.6 77.2L96.3 77.2L96.9 77.2L97.6 77.2L98.3 77.2L99.0 77.3L99.6 77.3L100.3 77.3L101.0 77.3L101.6 77.3L102.3 77.3L103.0 77.3L103.7 77.3L104.3 77.3L105.0 77.3L105.7 77.3L106.3 77.2L107.0 77.1L107.7 77.0L108.4 77.0L109.0 76.9L109.7 76.8L110.4 76.7L111.1 76.7L111.7 76.7L112.4 76.6L113.1 76.7L113.7 76.8L114.4 76.9L115.1 77.1L115.8 77.3L116.4 77.8L117.1 78.6L117.8 79.5L118.4 80.7L119.1 82.5L119.8 84.6L120.5 87.1L121.1 89.9L121.8 92.8L122.5 95.7L123.1 99.4L123.8 104.1L124.5 109.7L125.2 115.9L125.8 121.9L126.5 128.0L127.2 135.3L127.8 142.4L128.5 148.0L129.2 148.0L129.9 142.4L130.5 135.3L131.2 128.0L131.9 121.9L132.5 115.9L133.2 109.7L133.9 104.1L134.6 99.4L135.2 95.7L135.9 92.8L136.6 89.9L137.2 87.1L137.9 84.6L138.6 82.5L139.3 80.7L139.9 79.5L140.6 78.6L141.3 77.8L141.9 77.3L142.6 77.1L143.3 76.9L144.0 76.8L144.6 76.7L145.3 76.6L146.0 76.7L146.6 76.7L147.3 76.7L148.0 76.8L148.7 76.9L149.3 77.0L150.0 77.0L150.7 77.1L151.4 77.2L152.0 77.3L152.7 77.3L153.4 77.3L154.0 77.3L154.7 77.3L155.4 77.3L156.1 77.3L156.7 77.3L157.4 77.3L158.1 77.3L158.7 77.3L159.4 77.2L160.1 77.2L160.8 77.2L161.4 77.2L162.1 77.2L162.8 77.2L163.4 77.2L164.1 77.2L164.8 77.1L165.5 77.1L166.1 77.1L166.8 77.1L167.5 77.1L168.1 77.1L168.8 77.1L169.5 77.1L170.2 77.1L170.8 77.1L171.5 77.0L172.2 77.1L172.8 77.3L173.5 77.6L174.2 78.0L174.9 78.5L175.5 78.9L176.2 79.6L176.9 80.3L177.5 81.2L178.2 82.2L178.9 83.2L179.6 84.4L180.2 85.8L180.9 87.1L181.6 88.3L182.2 89.5L182.9 90.6L183.6 91.4L184.3 91.5L184.9 90.9L185.6 89.9L186.3 88.6L186.9 87.3L187.6 85.8L188.3 84.0L189.0 82.3L189.6 81.1L190.3 80.1L191.0 79.2L191.7 78.5L192.3 77.9L193.0 77.5L193.7 77.4L194.3 77.4L195.0 77.3L195.7 77.3L196.4 77.2L197.0 77.2L197.7 77.2L198.4 77.2L199.0 77.2L199.7 77.2L200.4 77.2L201.1 77.2L201.7 77.2L202.4 77.2L203.1 77.2L203.7 77.2L204.4 77.2L205.1 77.2L205.8 77.2L206.4 77.2L207.1 77.2L207.1 87.8L206.4 87.8L205.8 87.8L205.1 87.8L204.4 87.8L203.7 87.8L203.1 87.8L202.4 87.8L201.7 87.8L201.1 87.8L200.4 87.8L199.7 87.8L199.0 87.8L198.4 87.8L197.7 87.8L197.0 87.8L196.4 87.9L195.7 87.9L195.0 87.9L194.3 88.0L193.7 88.0L193.0 88.1L192.3 88.5L191.7 89.1L191.0 89.9L190.3 90.7L189.6 91.7L189.0 92.9L188.3 94.6L187.6 96.4L186.9 97.9L186.3 99.2L185.6 100.5L184.9 101.6L184.3 102.2L183.6 102.1L182.9 101.3L182.2 100.1L181.6 98.9L180.9 97.7L180.2 96.4L179.6 95.0L178.9 93.8L178.2 92.8L177.5 91.8L176.9 91.0L176.2 90.2L175.5 89.5L174.9 89.1L174.2 88.6L173.5 88.2L172.8 87.9L172.2 87.7L171.5 87.7L170.8 87.7L170.2 87.7L169.5 87.7L168.8 87.7L168.1 87.7L167.5 87.7L166.8 87.7L166.1 87.7L165.5 87.8L164.8 87.8L164.1 87.8L163.4 87.8L162.8 87.8L162.1 87.8L161.4 87.8L160.8 87.8L160.1 87.9L159.4 87.9L158.7 87.9L158.1 87.9L157.4 87.9L156.7 87.9L156.1 87.9L155.4 87.9L154.7 87.9L154.0 87.9L153.4 87.9L152.7 87.9L152.0 87.9L151.4 87.8L150.7 87.7L150.0 87.7L149.3 87.6L148.7 87.5L148.0 87.4L147.3 87.4L146.6 87.3L146.0 87.3L145.3 87.3L144.6 87.3L144.0 87.4L143.3 87.5L142.6 87.7L141.9 87.9L141.3 88.5L140.6 89.2L139.9 90.2L139.3 91.3L138.6 93.1L137.9 95.3L137.2 97.7L136.6 100.6L135.9 103.4L135.2 106.4L134.6 110.0L133.9 114.5L133.2 119.4L132.5 124.9L131.9 130.1L131.2 135.4L130.5 141.9L129.9 148.3L129.2 153.1L128.5 153.1L127.8 148.3L127.2 141.9L126.5 135.4L125.8 130.1L125.2 124.9L124.5 119.4L123.8 114.5L123.1 110.0L122.5 106.4L121.8 103.4L121.1 100.6L120.5 97.7L119.8 95.3L119.1 93.1L118.4 91.3L117.8 90.2L117.1 89.2L116.4 88.5L115.8 87.9L115.1 87.7L114.4 87.5L113.7 87.4L113.1 87.3L112.4 87.3L111.7 87.3L111.1 87.3L110.4 87.4L109.7 87.4L109.0 87.5L108.4 87.6L107.7 87.7L107.0 87.7L106.3 87.8L105.7 87.9L105.0 87.9L104.3 87.9L103.7 87.9L103.0 87.9L102.3 87.9L101.6 87.9L101.0 87.9L100.3 87.9L99.6 87.9L99.0 87.9L98.3 87.9L97.6 87.9L96.9 87.8L96.3 87.8L95.6 87.8L94.9 87.8L94.3 87.8L93.6 87.8L92.9 87.8L92.2 87.8L91.6 87.7L90.9 87.7L90.2 87.7L89.6 87.7L88.9 87.7L88.2 87.7L87.5 87.7L86.9 87.7L86.2 87.7L85.5 87.7L84.9 87.9L84.2 88.2L83.5 88.6L82.8 89.1L82.2 89.5L81.5 90.2L80.8 91.0L80.2 91.8L79.5 92.8L78.8 93.8L78.1 95.0L77.5 96.4L76.8 97.7L76.1 98.9L75.5 100.1L74.8 101.3L74.1 102.1L73.4 102.2L72.8 101.6L72.1 100.5L71.4 99.2L70.8 97.9L70.1 96.4L69.4 94.6L68.7 92.9L68.1 91.7L67.4 90.7L66.7 89.9L66.0 89.1L65.4 88.5L64.7 88.1L64.0 88.0L63.4 88.0L62.7 87.9L62.0 87.9L61.3 87.9L60.7 87.8L60.0 87.8L59.3 87.8L58.7 87.8L58.0 87.8L57.3 87.8L56.6 87.8L56.0 87.8L55.3 87.8L54.6 87.8L54.0 87.8L53.3 87.8L52.6 87.8L51.9 87.8L51.3 87.8L50.6 87.8Z" fill="#f5a2a2" fill-opacity="0.5" filter="url(#blur)"/>
<path d="M50.6 82.9h0m.1 2.2h0m0-2.4h0m0-1h0m0-3.6h0m.1 6.2h0m0 .7h0m0 .2h0m0-10.7h0m.1 3.6h0m0-.2h0m.1 2.4h0m0 1.2h0m.1-4.5h0m0 5.7h0m0 5.4h0m0 .3h0m0-13.9h0m0 11.8h0m.1-1.3h0m.1-2h0m0-4.6h0m0 8.3h0m.1-3.4h0m0-2.3h0m.1 6.3h0m0-5.1h0m.2-3.9h0m.2 3.3h0m0 .5h0m.1-1.5h0m0 2.1h0m.1 1.5h0m.1 .3h0m.1-5.2h0m0 9.4h0m.1-1.6h0m.2-7.6h0m0-1.5h0m.3 4.2h0m0 3.6h0m0 2.9h0m.1-8.4h0m.1 1.6h0m.1-.6h0m.1-.2h0m.1 5.5h0m.1-1h0m0-2.5h0m0 .3h0m0 5.5h0m.1-1.4h0m0-4h0m0-6h0m.1-3h0m0 7.4h0m0 2.2h0m.2-2.4h0m0 .9h0m.1 3.5h0m.3 4.4h0m.1-8.3h0m0 3h0m0-2.1h0m0 3.5h0m0-2.5h0m.1-1.9h0m.1 5.7h0m0-2.4h0m0-5.1h0m.1-.6h0m.1 9.7h0m.2-9.8h0m.2-2h0m0 3.4h0m.1-.2h0m.2 1.2h0m.1-1h0m0 3.3h0m0-6.7h0m.1 5h0m0 5.4h0m0-7.5h0m0-1.4h0m.1 1.9h0m0 5.3h0m0-6.1h0m.1 10.2h0m0-14.3h0m0 4.3h0m.1 9h0m0 1h0m0-16h0m0 7.3h0m.1 3.6h0m0-4h0m0 2.1h0m.1-.1h0m.1-1.9h0m.1 .1h0m0 5.1h0m0-5.2h0m.1 .4h0m0 4.5h0m.1-7.4h0m0 1.6h0m0 5.9h0m0-10.7h0m.1 4.7h0m0-3.1h0m.1 8h0m.1-1h0m0-2.3h0m0 2.6h0m.2-1.3h0m0 4.6h0m0-13.2h0m0 5.8h0m.2-3h0m0-1.6h0m0 6.8h0m0-7.8h0m.1 15.5h0m0-6.5h0m0 .7h0m.3-1.9h0m.1 4.2h0m.1-7.7h0m0-4.2h0m0 6.7h0m.1-1.4h0m0 10.1h0m.1-5h0m0-4.4h0m.1 4.1h0m0-3.7h0m.1 2.7h0m0-2.9h0m0 6.6h0m.1-7.2h0m.1-3.5h0m0 2.8h0m0-5.5h0m.1 8.4h0m.1-3.7h0m0 8.3h0m.1-8.6h0m0 1.7h0m.1 2.9h0m.1-5.3h0m0 8.7h0m0-3.4h0m0-2.2h0m.1 5h0m0-.1h0m0-7.5h0m.1 5.2h0m0 2.6h0m.1-2.2h0m0 .4h0m0 .7h0m.4-4.2h0m.1 5.4h0m0 1.6h0m0-5.8h0m.1 .5h0m.2-4.9h0m0 9.6h0m.1-2.8h0m.1-6h0m.1 2.5h0m0 3.5h0m.2 1h0m0-5.7h0m.1 2.7h0m0 3h0m.1-1.4h0m.1-.2h0m0-5h0m0 11.3h0m.1-5.6h0m.1-6.7h0m0 10.9h0m0-5.2h0m0-4.3h0m0 8.2h0m.1-2.9h0m0 1.2h0m.2-3.9h0m.1 3.2h0m0 1.5h0m.1-4.3h0m0-.5h0m.2-3.5h0m.3 5.8h0m0-.9h0m.1 1.6h0m0-6.6h0m.1-.1h0m0 7.5h0m0 4.7h0m.1-15h0m.2 14.3h0m0-.4h0m0-4.5h0m0-9.2h0m.2 3h0m0 5.1h0m0-3.6h0m.1 3.3h0m0-4.8h0m.1 5.8h0m0-7.6h0m.1 3.8h0m0 4.3h0m0 4.4h0m.1-10.8h0m.1 2.3h0m0 5.7h0m.1-.2h0m0-1.6h0m.2-.5h0m0-.6h0m0-.6h0m0-.1h0m.1 2.2h0m.1-9.9h0m.1 8.8h0m0 1.4h0m.1-4.5h0m0 5.3h0m.1-4.9h0m0 1.1h0m.3-3.3h0m0 7.5h0m.1 3.5h0m0-11.5h0m0 5.1h0m.3-7.2h0m.1 3.8h0m0 4.5h0m0-3h0m.1 5.7h0m.1-.7h0m.1-3.7h0m.2-.2h0m0 6.7h0m.2-9.1h0m0 1h0m.1-1.9h0m0 9.4h0m.1-7.6h0m.1 4.6h0m.1-.5h0m0-5.6h0m.1 3.7h0m.1-1.8h0m.1-1.1h0m.1-.8h0m.1 7.8h0m0 .1h0m0-4.9h0m0-.7h0m0 4.7h0m.1-4.1h0m.4 5.2h0m0-2.2h0m0-.6h0m.1-1.2h0m0-1.7h0m0 3.7h0m.1-1.8h0m.2 4h0m.1-5.8h0m0 .7h0m.2 4.2h0m0-9.1h0m0 7.3h0m0 .7h0m.1 .7h0m0-3h0m0 .8h0m.1 2.9h0m0-4h0m.2-1.9h0m.1-1.4h0m0 3.2h0m0 3.3h0m.1 1.7h0m.2-4.4h0m.1-2.5h0m.1-2.2h0m0 8.1h0m.1 3h0m0-.4h0m.1-4.5h0m.2-.8h0m0 5.2h0m.1 1.9h0m.2 3.3h0m0-9.6h0m0 8.4h0m0-7.6h0m.1 2.9h0m.1 6.9h0m0-2.8h0m.1-7.7h0m0 3.8h0m.1 1.2h0m0-5.3h0m.1 4.7h0m0-.3h0m.1 .1h0m0 .1h0m.2-3.2h0m0 6h0m0-6h0m.1-1.5h0m0 7.7h0m.1-3.5h0m0 6.1h0m.1-4.4h0m0-4.2h0m.1 1.3h0m0 5h0m0-3.6h0m.1 .4h0m0 1.5h0m.1 0h0m.1-6.5h0m.1 15.8h0m0-6.1h0m.1-5.4h0m0 3.7h0m0-1.6h0m.1 .3h0m.2 2.3h0m0-.8h0m0 2.9h0m.1-2.6h0m0-2.8h0m0-.9h0m.1 1.9h0m.1 3h0m0 .5h0m.2 5.2h0m.1-5.3h0m0 2.8h0m0-.9h0m.2-1h0m0-1.3h0m.1-.3h0m0 .6h0m.1 4.3h0m0-2.5h0m0-4h0m.1 2.9h0m0-1.8h0m0 1.3h0m.2-5.1h0m0-.6h0m.1-1.5h0m.1 9.2h0m.1-4.2h0m.1 7.7h0m.1-7.2h0m0 .9h0m.1 3.1h0m0-6.7h0m0 4.7h0m.2 6.3h0m.1-11.1h0m.1 5.1h0m0-2.6h0m0 5.4h0m.1 .4h0m0 1.6h0m.2-.6h0m0-6.5h0m.1 .5h0m0 8h0m.1-6h0m0-.1h0m0 2.9h0m0-3.8h0m.2 3.7h0m.1-6.5h0m.1 4.6h0m0-1.7h0m0 8.8h0m.1-6.5h0m.2-2h0m.1 2.2h0m.1-1.5h0m0 2.6h0m0-6.6h0m0 6.9h0m0-2.5h0m.1-6.5h0m.1 .8h0m.1 4.2h0m0 4.5h0m0 2.3h0m.1-8.6h0m.1 .5h0m.1 1.7h0m.1-.1h0m0-8.8h0m.3 3.9h0m0 3.2h0m0 .8h0m0 .5h0m.1-2.6h0m0 2.1h0m0-1.4h0m.1 1.9h0m0-4.4h0m0 1.9h0m.1 4.8h0m.3-12.8h0m0 7.1h0m0 2.7h0m0 2.7h0m.2-5.2h0m0 2.5h0m.3-9h0m.3 3.6h0m.1 4.1h0m0 4.3h0m0-9.5h0m.1 9h0m.2-8.4h0m0 1.3h0m0 8.3h0m0-6.9h0m.2-7.4h0m0 9.2h0m0 4.6h0m.2-1.8h0m0-6h0m.1-1.5h0m0-2.1h0m0 2.1h0m.1 4.4h0m.1-2.1h0m.1-.9h0m0-.4h0m.1 3.9h0m.1-7.1h0m0-1.6h0m0 4.5h0m0-1.1h0m.1 5.1h0m0-5.4h0m0 3.7h0m0 .3h0m.2-6.5h0m0 2.4h0m.1 2.1h0m0 4.3h0m0-6.2h0m.1-6.2h0m.1 4.8h0m.1 .1h0m.1-3.8h0m.3-3.7h0m.2 5.3h0m.2-2h0m.1 3h0m0-1.1h0m0 .1h0m.1-2.7h0m.1 5.9h0m0-3h0m0 0h0m0 1.5h0m.1 1.8h0m.1-5.4h0m.1 4.3h0m.1 4.2h0m0-8.4h0m0 7.9h0m.2-8.5h0m.2 10.9h0m.1-8.3h0m.1-6.8h0m0 7.5h0m0-5.2h0m.2 5.7h0m0 1.3h0m0-1.8h0m0-4.6h0m0-1.3h0m.1-.5h0m0 1.9h0m0 3.4h0m.1 7.4h0m0-4.7h0m0-8.5h0m0 11.7h0m0-7.8h0m.1 .2h0m0 7.9h0m.1-7.6h0m0 2.7h0m0-2.2h0m0 1.1h0m.1 .4h0m0 2.7h0m0 4h0m.1-14.2h0m0 9.9h0m0-2.3h0m0 .5h0m.1-.4h0m0 1.7h0m.1-5h0m.1 2.1h0m0 1.8h0m0 .4h0m.1-4.2h0m0 5.3h0m.2-5.5h0m0-3.1h0m.1 .9h0m.1 1.9h0m.3 8.1h0m0-9h0m.1 1.6h0m.1-4.2h0m0 7.2h0m.2-.5h0m0-7.2h0m0 8.5h0m0-7.4h0m.1 3h0m.1 9.6h0m.3-6.8h0m.1 0h0m.1 3.3h0m0 2.1h0m.3-7.5h0m.1 4.1h0m0-1.3h0m0 1.1h0m0-2.7h0m.2-2.9h0m0-1.1h0m.1 1h0m0 3.3h0m.1-.7h0m.2-2.8h0m0-2.6h0m0 5.1h0m.1 4.5h0m.2-6h0m0-1.3h0m0 4.2h0m0-6.3h0m.1 6.3h0m0-1.8h0m0-1.4h0m0-4.7h0m0 10.6h0m.1-6.5h0m0-.9h0m0 3.4h0m0-4.4h0m.1 6.4h0m.2 2h0m0 .2h0m.1-2.1h0m.1 1.5h0m.1-6h0m0 1.9h0m.1 5.5h0m0-11.5h0m.1 5.1h0m0 7.2h0m0 .8h0m.1-7.3h0m0-4.9h0m.1 6.3h0m.1-4.8h0m0-2.5h0m0 3.4h0m.2 4h0m0 3.7h0m0-2.4h0m.2-7.6h0m0 5h0m0 3.8h0m.1-2.2h0m0-.8h0m.1-5h0m0 6.5h0m.1-9.4h0m0 6.3h0m.1-.5h0m0 5.6h0m0-5.8h0m.1 .5h0m0-1.7h0m.1 5.5h0m.3-3.6h0m0 6.7h0m.2-2h0m0-11.6h0m0 9.6h0m0 1.2h0m.1-6.4h0m.1 4.1h0m0-8.5h0m0 7.5h0m.1-2.4h0m0 3.7h0m0-5.4h0m0 4.3h0m.2-7.7h0m.1 10.6h0m.1-4.5h0m.1-1.1h0m0 7.2h0m0-2.3h0m.1 1h0m.1 3.5h0m0-7.7h0m0 9.3h0m.1-3.1h0m0-.6h0m0-5.4h0m0 1.6h0m.1-4.5h0m0-.7h0m0 4h0m.1 4.4h0m0-6.5h0m0 5.6h0m.1-1.6h0m0-1.3h0m.1-5.7h0m0-2.2h0m0 3.2h0m.1 6.5h0m0-5.4h0m0-1.4h0m.4 8.3h0m.1-3.9h0m0 3.1h0m0-.2h0m0-2.7h0m.1-.2h0m0 3.5h0m0-3.1h0m.1 4.9h0m.1-4.1h0m0-1.2h0m.1 2.3h0m0 4.1h0m.1-2.9h0m0-4.4h0m0-2.2h0m.1 0h0m.1-.2h0m.1-2.8h0m.2 8.3h0m0-6h0m0 7.5h0m.1-9.8h0m0 2.9h0m.1 7.6h0m0-6.5h0m0-1.1h0m.1 6.9h0m.1-4.4h0m.1-2.1h0m.1-3.7h0m0 9.2h0m.1-8h0m.1 9.7h0m.1-.7h0m0-8.3h0m.1 2.3h0m0 5.8h0m0-8.8h0m.1 3.9h0m0 1.2h0m.1 1.9h0m0 7h0m0-8.1h0m0-3.6h0m0 3.8h0m.1-3h0m.2 3.2h0m0-5.7h0m0 13.4h0m0-9.9h0m.1 5.4h0m.1-4.4h0m0-1.7h0m0-1.9h0m.1 1.3h0m0-1.5h0m0 8.5h0m.1-4.4h0m.1 8.6h0m.1-9.3h0m0 7.6h0m0-10.4h0m0 3.3h0m.1 1.9h0m0 1.4h0m.1-3.2h0m0 3h0m0 3.2h0m.1-7h0m0 4.8h0m.1-5.1h0m0 5.5h0m0 1h0m0-12.6h0m.1 5.7h0m0-2.4h0m.1 5.7h0m0-.9h0m.1-.1h0m0-7.5h0m.3 4.9h0m.1 2.2h0m.1 .5h0m.1-.4h0m.1-3.7h0m0 3.8h0m0-.1h0m0-5h0m0 1.5h0m.1 .6h0m.2-4.4h0m0 7.9h0m0 3.9h0m.1 1.9h0m0-6h0m.1-1.1h0m0-2.8h0m.3 9.2h0m0-.4h0m.1-4.2h0m0 .2h0m0 4.3h0m0-4.6h0m.1-3.4h0m0 3.6h0m.1-8.8h0m.1 5.2h0m.2 5.9h0m.1-2.3h0m.1 4.6h0m.1-13.4h0m0 9.1h0m.1 .1h0m0-4h0m.1 4.1h0m0 1.3h0m0-2.3h0m.1-4.1h0m.2 0h0m0 9.2h0m.1 1h0m0-8h0m.1 2.9h0m0 .6h0m0-5.8h0m.1 2.3h0m0 3.7h0m.1-4.3h0m0 5.2h0m0-.9h0m.1-9.2h0m0 8.1h0m0-3h0m.2 3.1h0m.1 .2h0m0 3.1h0m.2 .1h0m0-9.3h0m.1-3.2h0m.1 5.4h0m.1 .4h0m0 4.3h0m0-1.9h0m0-6h0m0-2.2h0m.1 5.3h0m0 1.1h0m.1-2.7h0m.1 3.7h0m.2 3.5h0m.1 .4h0m.2-2.3h0m0 .5h0m.1 6.4h0m0-1h0m.1-10h0m.6-.6h0m0 .5h0m.1 4h0m.2 1.8h0m0-2.4h0m.1-1.5h0m.1 3.1h0m0-6h0m0 6.8h0m.1 5.4h0m0-10.6h0m.2-.9h0m0 4.2h0m0-4.7h0m.2-.6h0m.1 12.6h0m0-9.6h0m0 6.2h0m.1-7.3h0m0 1.7h0m0-2.3h0m.1 4.3h0m0 1.3h0m0-3.4h0m.1-6.9h0m0 6.2h0m0 5.7h0m.1-3.8h0m0 .8h0m.1-5.9h0m.1 4.4h0m.1 1.7h0m0-1.9h0m.1 3.4h0m0-4.5h0m.1 6h0m0-2.4h0m.1-2.6h0m.2 6.1h0m0-.1h0m.1-2.2h0m.1-8.6h0m.1 2.3h0m.1 3h0m0-3.6h0m.1 .5h0m.2 5.7h0m0 1.9h0m.1-8.9h0m0 7.2h0m.1-5.1h0m.1 8.5h0m0-5.7h0m0 4.5h0m.1-7.3h0m.1-.4h0m.2 1.4h0m0-1.5h0m.1 5.1h0m0-3.6h0m.2-.8h0m.1 5.7h0m0-5.7h0m.1 1.2h0m0-.7h0m0 2.7h0m.1-.7h0m.1-2.1h0m.1 1.4h0m0-1.7h0m0 7.4h0m0-8.9h0m.1 6.8h0m0-7.1h0m.1 9.6h0m.1-3.2h0m0-3.4h0m.2-.6h0m0 3.4h0m.1 1.7h0m.1-5.9h0m.1-1.6h0m.1 7.4h0m.1 1.2h0m0-2.3h0m.2-1.9h0m0 6.4h0m.1-2.9h0m0-6.5h0m.1 5.6h0m0 .1h0m.1-9h0m.2 1.7h0m.1-2.3h0m0 6.4h0m0 .5h0m0 1.1h0m.1 4h0m0 2.5h0m0-7.8h0m.1 2.7h0m0-5.5h0m0-1.3h0m.1 9.6h0m.2-.6h0m0-6.2h0m.1-4.5h0m0-.7h0m0 8.7h0m.1-2.9h0m0-5.3h0m.1 8.4h0m.1 .9h0m0-9h0m.1 7.9h0m0 1.9h0m0-10.8h0m0 7.8h0m.1-.1h0m.2-3.9h0m0-3.5h0m0 2.7h0m0 2.1h0m.1-.7h0m0-.1h0m0 .6h0m.1 7.7h0m.2-7.8h0m0 6.4h0m0-2.4h0m0-3.4h0m.2 1h0m.1-1.9h0m0 1.5h0m0-1.9h0m.1-5.2h0m0 11.2h0m0-8.4h0m0-2.9h0m0 8.7h0m.3-.2h0m0-1h0m0-2.2h0m.1 4.5h0m0-1.3h0m.1-1.3h0m0-.4h0m0-5.2h0m0 7.3h0m.2-5.1h0m.1 .2h0m.1 2.3h0m0 .1h0m0 3.7h0m.1-.4h0m0-4.2h0m0 .5h0m.1 1.9h0m.1-5.4h0m.1 3.9h0m.1 .2h0m.1 .9h0m0-4.7h0m.1 1.9h0m0 1h0m.1 6h0m.1-11.3h0m.1 11.8h0m0-6.9h0m0 6.1h0m.2 1.4h0m0 2.5h0m0-8.8h0m0-.5h0m.1 2.5h0m.1 .5h0m.1 3.4h0m0-5h0m0 .9h0m.1 4.7h0m0-3.9h0m0-.5h0m0 3h0m.1-8.5h0m0 9.2h0m0-12.4h0m0 3h0m0 6.2h0m.1-8h0m0 1.9h0m.1-.5h0m0 4.1h0m.2 4.4h0m.2 4.2h0m0-9h0m0 1.5h0m.1 1.8h0m0-10.1h0m0 5.9h0m.1 7.7h0m0-5.3h0m0-2.4h0m0 6.7h0m.1-5.6h0m.1 2.1h0m0 4.4h0m0-7.2h0m.1-1.1h0m.1 10.6h0m0-9.7h0m0 3.9h0m0-.9h0m0 5.1h0m.1-2.6h0m0-10.5h0m0 4h0m.1 3.4h0m.1-1h0m0 3.5h0m.3-2.7h0m.1 2.8h0m0-4.2h0m.1 5.3h0m.1-5h0m0-2.3h0m.1 4.3h0m.1-2h0m0-.3h0m0 3.1h0m.2 3.4h0m0-9.5h0m0 3.7h0m.1 1.5h0m0-5.9h0m.1 7.9h0m0-1.2h0m.2 .8h0m0 1.3h0m.1-3.4h0m.1 1.9h0m0-7.8h0m.2 7.9h0m0-7.2h0m0 8.2h0m.1-2.2h0m0-1.4h0m0 3.5h0m.1-5.9h0m0 4.8h0m0 .3h0m0-5.1h0m0 5.4h0m0-5.2h0m0-1.7h0m.2 1.1h0m0-2.3h0m0 6.9h0m.1-6.3h0m0 6.8h0m0 4.2h0m0-5.6h0m.1-8h0m0 11.2h0m0-10.5h0m.1 12.1h0m0-8.8h0m.1 1.6h0m0 3.6h0m.1 6.4h0m0-10.6h0m.1 .2h0m.2 .6h0m.1-1.7h0m0 6.8h0m0-10.7h0m.2 4.3h0m0 6.4h0m.1-10.8h0m0 7.9h0m.1-1.6h0m.1-1.4h0m0 6.5h0m.3 .4h0m0-2.7h0m.1 3.9h0m.2-3.3h0m0-6h0m.2 9.8h0m0-4.6h0m.2 2.7h0m0-5.3h0m0 7.6h0m.1-.1h0m0-3.5h0m.1-8.1h0m0 11.3h0m.1 3h0m0-2.7h0m.1-6.3h0m.1-.7h0m0 3.8h0m.2-.9h0m0 6.3h0m0-6.8h0m0 2.2h0m.1 2h0m.2-5.6h0m.1 0h0m.2 6.3h0m.1-2.3h0m.1 8.4h0m.2-2.8h0m0-8.8h0m.2 9.7h0m0-.7h0m0-7.6h0m0 12h0m.1-5h0m.1-5.1h0m0 4.7h0m0 1.7h0m.1 .8h0m0-4.7h0m0 4.4h0m.2-4.2h0m0 1.8h0m0-.6h0m0-4.1h0m.1 6.1h0m0 1.8h0m0-3.4h0m.2-.3h0m.2 2.4h0m0 5.9h0m0-9h0m0 9.2h0m.1 1h0m0-11h0m0-2.2h0m0 7h0m.1 2.3h0m.1-7.8h0m0 10.3h0m.1-4.7h0m.1 2.6h0m0-4.4h0m.1 1.3h0m0 4.4h0m.2-6.5h0m.1 1.7h0m0 2.9h0m0 1.2h0m0-.8h0m.1 4.7h0m.1-3.5h0m.1 .8h0m0-3.1h0m.1 3h0m0 1h0m.1-2.3h0m0-2.6h0m.1 1.8h0m0 3h0m.3 2.3h0m0-6.7h0m0 5.2h0m.1 4.9h0m0-5.4h0m0 7.6h0m0-4.6h0m.1-4h0m.2 3.8h0m0 .8h0m.1-3.6h0m0-1.5h0m0 8.1h0m.1 1.2h0m.1-1.3h0m.1 2h0m.1-4.9h0m0-1h0m.1 3.4h0m0 3.9h0m.2 3h0m0-5.3h0m.1 3h0m0-4.3h0m0 6.6h0m.1-2.4h0m0-.5h0m0-5.3h0m0 1h0m0 1.4h0m.1 1.5h0m0-1.6h0m0 9.3h0m.1-9.7h0m0 4.4h0m0-6.2h0m.1 2.7h0m0-1.1h0m.1 7.8h0m.1-9.4h0m0 5.6h0m.1 1.5h0m0 3.1h0m0-3h0m.1 9h0m0-11.5h0m.2 4h0m.1 2.6h0m0-4.4h0m.1 3.5h0m.1 1.2h0m0 3.3h0m0-2.4h0m.1 5.1h0m0 .3h0m.1-3.8h0m.1 3.9h0m.1 2.7h0m0-3.1h0m.1 5.7h0m0-10.3h0m.1 8.5h0m.1 .3h0m0-7.3h0m.1 10.2h0m0 2h0m.1-5.9h0m.1 1.4h0m0-3.5h0m0 3.4h0m.1 5.1h0m.1-4.4h0m0 1.6h0m0-4h0m.1 3.3h0m0 3.4h0m0-.6h0m.1-1.4h0m0 1.2h0m0-1.4h0m0-.2h0m.1 4.2h0m0-3.8h0m0-1.5h0m.1 6.1h0m0 .8h0m0-5.7h0m.1 1.6h0m.1-.3h0m0-2h0m.2 7.1h0m.1 2.7h0m0-2.8h0m.1 3.1h0m0-2.4h0m.2 1.6h0m0 1.6h0m.1-.1h0m0 1.9h0m.1 0h0m0 3.3h0m.1-5.5h0m.1 6.1h0m.1-.1h0m0 .8h0m0-.9h0m0 .4h0m0 3.8h0m0-7.5h0m.1 2.7h0m.1 2.2h0m0-.5h0m.1-1.2h0m.4 3.7h0m.1 1.3h0m.1-.6h0m0 5.5h0m0-5.3h0m.1 2.1h0m0 .9h0m.1 .5h0m.1-2h0m.2 2.6h0m0-4.2h0m.1 1.8h0m0-3h0m0 4.6h0m0-4.1h0m0 1.5h0m.1 1.3h0m0-4.9h0m.1-.2h0m0 3.8h0m0-1.6h0m.1-3.8h0m0 2.5h0m0 1.2h0m.2-.4h0m0-.5h0m0-2.9h0m0-1.1h0m.1 2.4h0m.1 .5h0m0-.9h0m0 2.1h0m0-4.9h0m0 .9h0m.1-2.5h0m.1-3.8h0m0 1.6h0m.1 3.5h0m0-.6h0m0 2.1h0m.1 1.3h0m0-9.5h0m0 3.6h0m0 4.1h0m.1-5.6h0m0 5.6h0m.1-4.7h0m0-1.5h0m.1 .8h0m0-.3h0m0-3.4h0m.1 2.9h0m0-4.2h0m0 7.2h0m0-3.7h0m0-5.6h0m.1 5.9h0m.1-.2h0m0-3.1h0m.1 .7h0m.1-2.7h0m0-2.7h0m0 1.1h0m.1 .2h0m.1 1.3h0m0-1.9h0m0-2.2h0m.1 4.7h0m.1-2.2h0m0 1.8h0m.1-4.1h0m.1-1.2h0m0 2h0m.1 1.2h0m0-1.1h0m0-4.6h0m.1 3.1h0m.1-4.9h0m.1 3.4h0m0 .2h0m.1-5.4h0m0 4.8h0m.1-6.6h0m0 9.5h0m0-6.2h0m0 1.6h0m0-.5h0m0-2.2h0m.1 6.8h0m0-13.7h0m.1 8h0m0-8.6h0m0 4h0m.1 1.7h0m0 5.4h0m0-10.8h0m0 3.4h0m.1-2.3h0m0 9.1h0m0 .1h0m.1-5.1h0m.1-3.5h0m0-1.1h0m.3-4.3h0m0 7.3h0m.1 1.2h0m0-7.9h0m.1 6h0m0-3.5h0m0-7.7h0m0 8.6h0m.2-4.2h0m0 .4h0m0 .6h0m.1-1.9h0m.1-.9h0m0 1.5h0m0-5.8h0m0 2.1h0m0 7.5h0m0-9.4h0m.2 4h0m0 .9h0m.1 1.8h0m0-6h0m.1 2.4h0m0 2.4h0m.1-.2h0m.1-8.2h0m.1 5.3h0m0-.3h0m.1-9.9h0m0 6.9h0m0-1.5h0m0 2h0m0 .4h0m.1 3.6h0m0-6.6h0m0 1.3h0m.1 4.1h0m0-2.9h0m.1-7.5h0m0 5.3h0m.1 .4h0m0 2.6h0m.1-.6h0m.1-4.7h0m0-1.2h0m.1 1.8h0m.1-2.9h0m.1 6.1h0m0-1.7h0m.1-2.9h0m0-3.3h0m0 6.1h0m.2-6.1h0m0 7.7h0m0-8.5h0m0-.7h0m.1 6h0m0-2.8h0m0-1.6h0m0 5.4h0m.1-1.3h0m0 0h0m.3-5h0m0-1.5h0m.1 6.7h0m0-.8h0m0-5.3h0m.1 4.8h0m.1-2.2h0m0-4.1h0m.2 2.3h0m0-4.1h0m.1 3.6h0m0 .5h0m.1 2.2h0m0 4.9h0m.1-6.7h0m0 5.2h0m.1-10.2h0m.1-.3h0m0 1.1h0m.2-3.1h0m0-3.8h0m0 14.5h0m.2-6.6h0m0-3.6h0m.1 3.6h0m0-.4h0m0-4.6h0m0 1.9h0m.2 6.8h0m0-11h0m.1 8.6h0m0-4h0m.1-1.8h0m0 8.6h0m.1-13.2h0m0 3.9h0m.1 .9h0m0-1.6h0m0 3.7h0m0-3.5h0m.1 0h0m0 10.3h0m0-3.4h0m0-8.2h0m.1 7.5h0m0-6.1h0m0 2.7h0m.1-3.6h0m.1 9.1h0m0-7.3h0m.1 .3h0m0-1h0m0 0h0m.1 .5h0m0-1.2h0m0-.4h0m0 4h0m.1-7.7h0m0 5.2h0m.1 2.3h0m0-5h0m.1 7.9h0m0-9.6h0m.1 5.2h0m.1-1.5h0m0 .1h0m0-1.7h0m0 4.2h0m.1-.7h0m0-3.2h0m0 3.7h0m.1-2.2h0m.1 .2h0m.1 .7h0m0 1.3h0m0 .5h0m.1-1.7h0m.1 2.9h0m0-.3h0m0-12.7h0m.1 8.1h0m0-3.4h0m0 2.4h0m.1-1.7h0m0 2.1h0m.1-3.4h0m0 3h0m0-.4h0m.2 5.5h0m0-8.3h0m.1 4.3h0m.1-.8h0m0-1.6h0m.1 .4h0m.1 .9h0m.1-4.8h0m.2 7.7h0m.1 4.2h0m.3-6.5h0m0 6.5h0m.1-7.1h0m0-5.4h0m0-1.1h0m0 9.8h0m.2-5.6h0m0 6h0m.1-5.8h0m.1-3.9h0m0 7.4h0m0-8.1h0m.1 4.7h0m0-7.1h0m.1 10.3h0m0 1h0m.1-8.3h0m0 1.5h0m.1 1.1h0m.1 5.1h0m0-3.5h0m0 2.5h0m.1-7.7h0m0 3.4h0m.1 4.7h0m.1 .6h0m.2 2.3h0m.2-3.3h0m.1-2.2h0m.1-1.6h0m0-2.5h0m.1 5.8h0m.1-6.6h0m.3 12.3h0m.2-7.3h0m.1-2.8h0m0 4.3h0m.1-2.8h0m0-2.1h0m0 5.1h0m0-2.9h0m.1-3.4h0m.1 8.7h0m.1-8.7h0m.1 4.6h0m.1 5h0m.1-6.9h0m.1-1.1h0m0 3.2h0m0-2h0m.1-.5h0m.1 1.5h0m0-.2h0m.1-2.7h0m0 .2h0m.3 3h0m0 6.9h0m0-2.2h0m0-3.3h0m0-5.8h0m.1 2.4h0m0-4.7h0m.2 4.9h0m.1 .1h0m0 2.8h0m0-5.8h0m0 9.7h0m0-6.4h0m0 1.8h0m.1 1.5h0m.1-5.5h0m.1 1h0m0 1h0m.2 2.7h0m.2 4.3h0m.1-.4h0m0 3.4h0m.1-3.4h0m0-6.2h0m0-4h0m.1 9.4h0m0-8.8h0m0-2.5h0m.1 3h0m.1-2.3h0m0 6.5h0m0 1.7h0m.1-2.9h0m0-2.6h0m.2 1.9h0m0 1.1h0m.1-2.4h0m.2 6.4h0m0-6.3h0m.1 10.4h0m0-12.8h0m0 .1h0m.1-2.1h0m0 10.8h0m.1-1.3h0m0 1.8h0m0 1.6h0m0 3h0m0-11.5h0m.1 3.8h0m0-.3h0m0 6.3h0m.1-7.4h0m0-6.8h0m.3 6.8h0m0-2.5h0m.1 7.6h0m.1-8.5h0m.1 4.2h0m.1-.6h0m.1-.9h0m.1 2.3h0m.1-3.5h0m0 3h0m.1 1.3h0m0 2.4h0m.2 .3h0m0-7.6h0m.2-.8h0m0 4.4h0m.2 .4h0m0 1.4h0m.1-2.8h0m0-4.6h0m.3 4.3h0m.1 3h0m0-6h0m.1 1.1h0m.1 9.7h0m.3-5h0m0-6.5h0m.2 3.2h0m0 1.7h0m0-1.8h0m0 6.1h0m.2 0h0m.1-4h0m0-.9h0m0-5.7h0m.1 6.5h0m0-1.5h0m.1-4.8h0m0 8.2h0m0-1.2h0m.1-1.2h0m0-.9h0m.1 .4h0m0-2h0m0 7.2h0m.1 .5h0m0-4.7h0m0 5.9h0m.1-12.2h0m0 9h0m.1-.8h0m0-4.4h0m0 1h0m0-.9h0m.1 2.3h0m0 4.9h0m0-4.4h0m.2 2h0m0 3.9h0m0-5.3h0m.2-4.7h0m.1 7.2h0m.1-.8h0m0 .1h0m0-5.7h0m.1 10.7h0m0-9.6h0m.1 1.4h0m.2 .8h0m.1 3.2h0m0-2.6h0m.2-8.3h0m0 6.5h0m0 2.4h0m0-4.7h0m.1 7.9h0m0-9h0m0 4.7h0m.1-8h0m.1 0h0m.2 5.3h0m.1 .6h0m.1 3.2h0m.2-3.8h0m0-.5h0m0 7.9h0m.3 .6h0m.1-7.8h0m0 4.2h0m0-2.7h0m.2 .2h0m0-.2h0m.1 1.5h0m0-3.2h0m0-3.2h0m.1-.7h0m0 7.6h0m0-1.8h0m.1 .1h0m.1 6.1h0m.1 .2h0m0-5.4h0m.1-2.3h0m0-1.1h0m0 5.4h0m0-4.9h0m.1 2.9h0m.1 1.2h0m.1-5.4h0m0 10.2h0m.1 1.7h0m.2-15.5h0m.2 7.5h0m0-3.1h0m0 3.3h0m0 2.3h0m.1 1.7h0m0 2.5h0m0-7.6h0m.1 4.8h0m.1-3.6h0m.1-1.5h0m0 1.3h0m0-.6h0m0-5.3h0m0 4.6h0m.1 .1h0m0 1.6h0m.1-6.1h0m.1 .6h0m.1 7.1h0m0-3.7h0m.1 2h0m0 1.1h0m0 1.8h0m.1-10.3h0m0 4.7h0m0 10.2h0m.1-12.1h0m.1-2.7h0m0 6.3h0m.1 .6h0m0-.8h0m0-2.9h0m.1 5.6h0m0-3.6h0m.2 7.2h0m.1-10.1h0m0 8.7h0m.1-2.9h0m0-2.9h0m.1-2.3h0m.1 6.6h0m0-.2h0m0-8.3h0m.1 8.2h0m0 .7h0m.1-1.2h0m.1-4.5h0m0-.1h0m.2-1.2h0m0 2.2h0m0 3.2h0m0-3.3h0m0-1.1h0m.1 7.2h0m0-2h0m.1-2.3h0m0-6.3h0m.3 7.4h0m0-1.4h0m.1 .1h0m.1-1.3h0m0-1h0m.1 6.3h0m.1 4.2h0m.1-11.1h0m0 11h0m.1-9.2h0m0-.4h0m.2-1.1h0m.1 6.7h0m0-5.3h0m.2-1.3h0m0-.1h0m.1-2.1h0m0 8.6h0m.1-1.8h0m0-1h0m.1-.9h0m0-4h0m0 .7h0m.1 2.8h0m.1-6.3h0m.1 4.3h0m0 6.7h0m0-9.3h0m.1 9.9h0m.1-.1h0m.1-3.3h0m0 .3h0m.1-1.4h0m.1-.5h0m.1 3.1h0m.1-.2h0m0-5.4h0m0 1.5h0m.1 2h0m0 2.2h0m.1-3.2h0m0 3.9h0m0 1.1h0m0-8.8h0m0 1.2h0m.1 4h0m0-7.4h0m.1 6.5h0m0-2.9h0m0 .6h0m.2 1.4h0m0-.1h0m0-5.3h0m.2 2.3h0m0 10.5h0m.1-9.3h0m.3 10.4h0m0-4.2h0m.1-5.7h0m0 5.9h0m.1-8.9h0m0 6.1h0m.1-3.6h0m.1 1.1h0m0-1.9h0m0-2h0m0 10.5h0m.1-5.3h0m0-1h0m.1-3.2h0m.1 1.9h0m.1 3.1h0m0 4.2h0m0 .9h0m0-2.6h0m.1-4.2h0m.1 .1h0m0-4.9h0m.1 4.4h0m0-1.9h0m.1 8.3h0m0-6.3h0m.1 2.9h0m0 .3h0m0-7h0m.1 4.8h0m0 .3h0m0-.3h0m.1 5.1h0m.1 1.1h0m.1-13.5h0m0 7.1h0m0 .2h0m0-.9h0m.1 2.6h0m0-.6h0m.1 2.2h0m.1-4.6h0m0 1.9h0m.1-4.5h0m0-2h0m.1 10h0m0-6.7h0m.1 4.2h0m0-9.3h0m0 6.9h0m0-2.9h0m.1 5.5h0m.1-6.6h0m0 7.6h0m.2 1.9h0m0 3.5h0m0-8h0m.1 1.3h0m.2-2.2h0m0 4.2h0m0-3.4h0m.1 .1h0m.1 4h0m.1-11.5h0m.1-.4h0m0 6.6h0m.1-1h0m.1-.4h0m0-.3h0m0 5.8h0m0-4.2h0m0-5.7h0m.1 7.5h0m0 .3h0m0 2.5h0m0-1.9h0m0 6.7h0m0-8.2h0m.2-4.2h0m0 2.8h0m0 .6h0m.1 .4h0m0 0h0m.1 4.2h0m0 3.2h0m.1-14.2h0m0 5.1h0m0 10.3h0m.1-14.5h0m0 7.7h0m.1-5.3h0m0 4.1h0m.1 2.1h0m.1-5.7h0m.1 4.5h0m0 7.1h0m.2-10.5h0m0 2.4h0m0 0h0m.3 .9h0m.1-2.8h0m0-4.2h0m.2 2h0m0 2.6h0m0 .8h0m.1 3.2h0m0-9.6h0m0 14.2h0m0-3.6h0m.1-3.2h0m.1-1.1h0m0-.6h0m.1 2.6h0m.1-8.8h0m0 2.5h0m0 12h0m0-3.6h0m0 1.6h0m0-10.7h0m.1 7.1h0m0 4.3h0m0-4.8h0m.1 3.9h0m0-5.2h0m0-2.5h0m0 7.1h0m0-5.3h0m.1-.4h0m0 4h0m.1-4.6h0m0 4.4h0m0-5.1h0m.2 3h0m0 1.2h0m0-7.1h0m0 1.6h0m.1 5h0m.1 7.2h0m0-9.4h0m0 3h0m0-3.5h0m.3 1.6h0m0 1.1h0m.1 .2h0m0-6.7h0m0-.3h0m0 .7h0m.1 9.4h0m.2-2.9h0m.1-2.1h0m.1 8.2h0m0-11.5h0m.1 8.3h0m.1-8h0m0 5.9h0m0-3.7h0m0 8.3h0m0 1.4h0m.1-5.1h0m0 2.4h0m.1-.1h0m.1-3.2h0m0-2.9h0m.1-2.1h0m.1 6.8h0m.1 2.2h0m0-5.3h0m.3 3.9h0m.1 .5h0m0-2.9h0m.2-6h0m.1 3.3h0m0 8.7h0m.1-15.1h0m0 12.7h0m0-5.7h0m.2 3.7h0m.1-6.8h0m.2 2.2h0m.1-3h0m0 3.8h0m0 1.5h0m.1-5.3h0m.1 12.2h0m0-2.4h0m.1 .6h0m0-4.9h0m0 1.2h0m0 1.4h0m0-6.1h0m.1 .8h0m0 3.9h0m0 3.6h0m.1-13.7h0m0 7h0m.1 3.5h0m0-2.8h0m.1-.7h0m0 3.8h0m0-5.4h0m.2 2.4h0m0 2.4h0m.1-6.2h0m.1 6.1h0m.1-6.6h0m.2 4.6h0m.1 1.5h0m.1-5.5h0m.1 6h0m.1-3.5h0m.1-3h0m0 6.7h0m.1 .9h0m.2-5.1h0m.1-.9h0m0 11.9h0m0-10h0m.1-2.3h0m.2 6.7h0m0-6h0m0 5.1h0m.1 1.3h0m0-1.2h0m0-4.1h0m0 4.3h0m.1 .7h0m0-2.2h0m0-3h0m0 11h0m.1-12.1h0m0-1.1h0m.1 9.6h0m.1-3.7h0m0-1.9h0m0 1.3h0m0-6.8h0m.2 6.9h0m.1 2.8h0m0-.6h0m0-2.8h0m.1 4.2h0m0-.5h0m.1-.2h0m.1-8.4h0m.1 4.2h0m0 7h0m.2-6.3h0m0 10.1h0m0-8.1h0m.1-2.3h0m0 1h0m0-.7h0m.1 1.3h0m.1 3.6h0m.2-1.6h0m.1 .3h0m0 4.7h0m0-5.9h0m0 4.1h0m.1-6.3h0m0-5.1h0m0 0h0m0 .1h0m.1 9.1h0m.1 .3h0m0-4.2h0m.1 6.2h0m.1-5.9h0m.2 4.9h0m.1-3.3h0m0 2.9h0m.1-7.6h0m0 1.6h0m0 1.4h0m0 8h0m.1-9.4h0m.1 6.4h0m0 3.6h0m.1-6.2h0m0-2.9h0m.1 10h0m.1-8.6h0m.1 4.1h0m0-.1h0m.1-2.6h0m.1 3.5h0m.1 1.4h0m0-6.8h0m0 12.9h0m0-12.4h0m.1 8.9h0m.1-9.5h0m.1 9.5h0m0-9.8h0m.1 12.1h0m.2-13.1h0m.1 6.4h0m.1 1.7h0m0 .4h0m0-5.1h0m.1 4.6h0m0-3h0m0 1.9h0m.1 4.9h0m0-10.7h0m0 7.2h0m0-1.7h0m.1 .1h0m.1 1.3h0m0-6.5h0m.2 5.4h0m0 2.6h0m.1-1.3h0m0 1.6h0m0 3.1h0m0-8.6h0m0 8.1h0m0-8.5h0m.1 4.4h0m0-2.8h0m0 3.3h0m.1 1.2h0m0-8.4h0m0 8.8h0m0 2.2h0m.1-5.2h0m0-3.7h0m0 10.4h0m.1-2.9h0m0-5.3h0m0-.3h0m0 1.5h0m.1 4h0m.1-2.5h0m0 3.6h0m0-4.4h0m.1 2h0m.1-1.1h0m0 2h0m0-3.4h0m.3 3h0m0 3.1h0m0-8.3h0m.1 4.6h0m0 2.1h0m.1-.4h0m0-6.3h0m0 5.4h0m0-.8h0m0 4.3h0m0-1.8h0m0 1h0m.2 1.4h0m.1 .8h0m0-2.6h0m0 3.7h0m0-7.3h0m0-.5h0m.2 6.6h0m.2-4.6h0m.1 4.4h0m.1-3.8h0m.1-.3h0m0 8.1h0m0 1.8h0m.1-9.9h0m.1 .1h0m.2 2h0m0 2.1h0m0 .6h0m.1 5.4h0m0-13.3h0m0 13.3h0m.1-8.8h0m0 1.7h0m0-2h0m0 5.9h0m.1-1.5h0m.1-4.9h0m.1 5.9h0m0-4.6h0m.1 5.3h0m0-5.7h0m0-1.1h0m.1 1.6h0m0-1.9h0m.1 6.4h0m.1-2.5h0m0-.7h0m.1-6.8h0m0 7.5h0m0-2.2h0m.2-4.8h0m.1 3.7h0m.1-2.8h0m.1 7.3h0m0-7.7h0m0 3.7h0m.1-2.1h0m0-.7h0m0 9.9h0m.1-11.6h0m0 5.8h0m0-6h0m0 5.4h0m.3-2.4h0m.2 6.4h0m0-1.6h0m0-8.3h0m.1 7h0m0-4.1h0m.1 1.1h0m.1 3.8h0m0-3.4h0m0-.3h0m.1-3h0m0 3.8h0m0 .7h0m.1-7.8h0m.1-.2h0m0 5h0m0 4h0m.2-5.7h0m0 3.5h0m0-7.3h0m0 5.4h0m.1 2.3h0m0-1.5h0m.1 2.3h0m.1-3.5h0m0 4.6h0m.1-5.9h0m0-2.3h0m0 1.3h0m0 5.2h0m.1-5.1h0m0 2.9h0m.2 3.4h0m.1-5.2h0m0-3.6h0m.1 2.1h0m.2 1.8h0m0 1h0m0-2.2h0m.2-2.4h0m0 1.1h0m0-3.8h0m.1 1.2h0m0-.8h0m.2 4.2h0m.1-2.9h0m0 1.5h0m0-1.4h0m.1 .1h0m0-7.3h0m.2 12.2h0m0-5.7h0m.1 2.9h0m0-3.3h0m.1 .4h0m0-4.9h0m.1 6.1h0m.3 1.5h0m0-3.9h0m.2-.1h0m.2 8.5h0m0-14.8h0m.1 10.3h0m.1-9.2h0m0 1.1h0m.1-.7h0m0 4.3h0m.1 3.6h0m0-.3h0m.1-7.5h0m.1 6.3h0m0-3.3h0m.1 2.7h0m0 .7h0m0-5.7h0m.1 7h0m.1-2.9h0m.1 .2h0m.1-1.8h0m.1 .9h0m0 3.4h0m.1-2.4h0m.1-.5h0m.1-8.6h0m0 4.4h0m.1 3.2h0m0-1h0m.1 1.5h0m.2-7.4h0m.1 6.8h0m.1 2.8h0m.1-11.7h0m0 10.9h0m.1-.8h0m.1 1.4h0m.1-5.2h0m0 4h0m.1 .3h0m0-6.5h0m.1-1.8h0m0 4.2h0m0 5.1h0m.2-5.9h0m0 4.2h0m.3-3.6h0m.2 0h0m.1 5.5h0m0-7.7h0m.1 3.3h0m0 .2h0m.1 3.8h0m0-7.5h0m.1 6.1h0m0-3h0m0 4.1h0m.3 .9h0m0 0h0m.1 1.5h0m.2-4.6h0m.1-6.5h0m0 1h0m.1 7.2h0m.2-.3h0m0-8.7h0m0 2.9h0m.1 2.8h0m.1 1.5h0m.1 0h0m0 6.4h0m0-5.5h0m.1-10.1h0m0 1.9h0m.1 6.9h0m.1-4h0m.2 .8h0m.1 4.3h0m0 1.2h0m.1-1.2h0m.1-2.8h0m0-4.2h0m.1 3.9h0m.1 .9h0m0 1h0m.1-5.6h0m.1-1.5h0m.1 5.2h0m.2 1.8h0m.2-2.1h0m0-1h0m.3-2.2h0m.1 .8h0m0 6.5h0m0-2.5h0m0 1.1h0m.1-3.9h0m0 6.5h0m0 2.5h0m.1-6.9h0m0 2.1h0m.1-.2h0m0-1.2h0m0 3h0m0-3.7h0m.1 4.5h0m.1 .1h0m0-6.3h0m0 3.2h0m0-5.3h0m.1 3.1h0m.2 3.6h0m0-.5h0m.1 1.7h0m.1-3.7h0m0-2h0m0 2h0m0-.9h0m.1 4.4h0m0-8.1h0m.1 2.4h0m0-1.5h0m.1 7.8h0m0-3.4h0m0 2h0m0-8.5h0m.1 6.5h0m.1-9h0m.1 6.6h0m0 3.8h0m.1-6.7h0m.1-1.8h0m.1 7h0m0 1.4h0m.1-1.9h0m0 4.2h0m.1-.5h0m0 3.9h0m0-5.6h0m.1 2.6h0m.1-5.3h0m0-.5h0m.2-2.7h0m0 2.8h0m.1 1.8h0m0-5.5h0m0 7.2h0m.1 5.2h0m0-2.7h0m.1-3.4h0m0-3.6h0m.1-1.7h0m.1 7.4h0m0-7.6h0m.1 2.5h0m.2-.9h0m0 6h0m.1-2.9h0m0 6.9h0m.1-8h0m0 1.7h0m.2-4h0m0-1.5h0m0 7.4h0m0-6.6h0m.2-.7h0m0 5h0m.1-7.9h0m.1 9.7h0m.1 2.4h0m.1-5.3h0m.1-6.3h0m.1 4.4h0m.1 8.2h0m.2-4.4h0m.1-6.4h0m0 7.2h0m0-2.1h0m0 3.1h0m0-10.9h0m.1 .9h0m0 11h0m0 1.9h0m.1-8.7h0m.1 .5h0m.1 1.5h0m.1-.4h0m0 1.5h0m.2-4.5h0m.1 .2h0m.1-1.6h0m0 1.5h0m0 5.3h0m0-.5h0m.1-.6h0m0-1.4h0m0 2.9h0m.2 .6h0m.1-2.1h0m.1 .7h0m0-1.2h0m0-6.3h0m0 1h0m.2 6.7h0m.1-2.2h0m0 1.5h0m.1 2h0m0-5h0m.2 9.1h0m0-7.8h0m0 1.9h0m0 3.5h0m.1-6.3h0m.1-1.8h0m0 2.7h0m.1-.7h0m0 4.9h0m0-4.9h0m0-3.8h0m.1 9.6h0m0-12.3h0m0 14.7h0m.1-9.8h0m.1 5.5h0m.1-3h0m.1 .8h0m0-.1h0m.1-3.6h0m0 4.7h0m0-1.8h0m.1-3.6h0m0 4.8h0m.1 7.1h0m.1-5.6h0m0 .2h0m.1 1.1h0m.2-5.6h0m0 2h0m0 3.3h0m0-.8h0m0 3.2h0m.1-3.4h0m0-8.9h0m.1 13.3h0m.1-13.3h0m.1 7.1h0m0 .6h0m.1 1.3h0m0 2.5h0m0-6.8h0m0 3.5h0m.2 1.2h0m.2-2.2h0m.1-5.9h0m0 7.4h0m.2-1.1h0m.1-5.6h0m0 8.8h0m.1-6.9h0m0-5.4h0m.1 8.6h0" stroke="#f5a2a2" stroke-opacity="0.45" stroke-width="1.4" stroke-linecap="round" fill="none"/>
<path d="M50.60 69.29H207.1" stroke="#3a6cc4" stroke-width="1.8" stroke-dasharray="5.6 6.2" stroke-dashoffset="0.7" fill="none"/>
<path d="M50.60 105.40H207.1" stroke="#f03c3c" stroke-width="1.6" stroke-dasharray="5.6 6.2" stroke-dashoffset="0.7" fill="none"/>
<path d="M50.6 82.5L51.0 82.5L51.4 82.5L51.8 82.5L52.2 82.5L52.6 82.5L53.0 82.5L53.4 82.5L53.8 82.5L54.2 82.5L54.6 82.5L55.0 82.5L55.4 82.5L55.8 82.5L56.2 82.5L56.6 82.5L57.0 82.5L57.4 82.5L57.8 82.5L58.2 82.5L58.6 82.5L59.0 82.5L59.4 82.5L59.8 82.5L60.2 82.5L60.6 82.5L61.0 82.5L61.4 82.6L61.8 82.6L62.2 82.6L62.6 82.6L63.0 82.7L63.4 82.7L63.8 82.7L64.2 82.7L64.6 82.8L65.0 83.0L65.4 83.2L65.8 83.6L66.2 84.0L66.7 84.5L67.1 85.0L67.5 85.5L67.9 86.1L68.3 86.7L68.7 87.5L69.1 88.4L69.5 89.4L69.9 90.5L70.3 91.5L70.7 92.5L71.1 93.2L71.5 94.0L71.9 94.7L72.3 95.5L72.7 96.1L73.1 96.6L73.5 96.9L73.6 96.9L73.7 96.9L73.9 96.9L74.3 96.6L74.7 96.1L75.1 95.5L75.5 94.7L75.9 94.0L76.3 93.3L76.7 92.6L77.1 91.9L77.5 91.0L77.9 90.2L78.3 89.4L78.7 88.7L79.1 88.1L79.5 87.5L79.9 86.9L80.3 86.3L80.7 85.8L81.1 85.3L81.5 84.9L81.9 84.5L82.3 84.1L82.7 83.9L83.1 83.6L83.5 83.3L83.9 83.1L84.3 82.9L84.7 82.7L85.1 82.5L85.5 82.4L85.9 82.4L86.3 82.4L86.7 82.4L87.1 82.4L87.5 82.4L87.9 82.4L88.3 82.4L88.7 82.4L89.1 82.4L89.5 82.4L89.9 82.4L90.3 82.4L90.7 82.4L91.1 82.4L91.5 82.4L91.9 82.4L92.3 82.4L92.7 82.5L93.1 82.5L93.5 82.5L93.9 82.5L94.3 82.5L94.7 82.5L95.1 82.5L95.5 82.5L95.9 82.5L96.3 82.5L96.7 82.5L97.1 82.5L97.5 82.5L98.0 82.5L98.4 82.6L98.8 82.6L99.2 82.6L99.6 82.6L100.0 82.6L100.4 82.6L100.8 82.6L101.2 82.6L101.6 82.6L102.0 82.6L102.4 82.6L102.8 82.6L103.2 82.6L103.6 82.6L104.0 82.6L104.4 82.6L104.8 82.6L105.2 82.6L105.6 82.6L106.0 82.5L106.4 82.5L106.8 82.5L107.2 82.4L107.6 82.4L108.0 82.3L108.4 82.3L108.8 82.2L109.2 82.2L109.6 82.1L110.0 82.1L110.4 82.1L110.8 82.0L111.2 82.0L111.6 82.0L112.0 82.0L112.4 82.0L112.8 82.0L113.2 82.0L113.6 82.1L114.0 82.1L114.4 82.2L114.8 82.3L115.2 82.4L115.6 82.6L116.0 82.8L116.4 83.1L116.8 83.6L117.2 84.1L117.6 84.6L118.0 85.2L118.4 85.9L118.8 86.9L119.2 88.1L119.6 89.4L120.0 90.8L120.4 92.3L120.8 94.0L121.2 95.7L121.6 97.4L122.0 99.1L122.4 100.9L122.8 102.9L123.2 105.2L123.6 108.0L124.0 110.9L124.4 114.1L124.8 117.6L125.2 121.1L125.6 124.5L126.0 127.8L126.4 131.2L126.8 134.9L127.2 139.5L127.6 143.6L128.0 147.1L128.4 150.2L128.8 151.5L129.3 150.2L129.7 147.1L130.1 143.6L130.5 139.5L130.9 134.9L131.3 131.2L131.7 127.8L132.1 124.5L132.5 121.1L132.9 117.6L133.3 114.1L133.7 110.9L134.1 108.0L134.5 105.2L134.9 102.9L135.3 100.9L135.7 99.1L136.1 97.4L136.5 95.7L136.9 94.0L137.3 92.3L137.7 90.8L138.1 89.4L138.5 88.1L138.9 86.9L139.3 85.9L139.7 85.2L140.1 84.6L140.5 84.1L140.9 83.6L141.3 83.1L141.7 82.8L142.1 82.6L142.5 82.4L142.9 82.3L143.3 82.2L143.7 82.1L144.1 82.1L144.5 82.0L144.9 82.0L145.3 82.0L145.7 82.0L146.1 82.0L146.5 82.0L146.9 82.0L147.3 82.1L147.7 82.1L148.1 82.1L148.5 82.2L148.9 82.2L149.3 82.3L149.7 82.3L150.1 82.4L150.5 82.4L150.9 82.5L151.3 82.5L151.7 82.5L152.1 82.6L152.5 82.6L152.9 82.6L153.3 82.6L153.7 82.6L154.1 82.6L154.5 82.6L154.9 82.6L155.3 82.6L155.7 82.6L156.1 82.6L156.5 82.6L156.9 82.6L157.3 82.6L157.7 82.6L158.1 82.6L158.5 82.6L158.9 82.6L159.3 82.6L159.7 82.5L160.2 82.5L160.6 82.5L161.0 82.5L161.4 82.5L161.8 82.5L162.2 82.5L162.6 82.5L163.0 82.5L163.4 82.5L163.8 82.5L164.2 82.5L164.6 82.5L165.0 82.5L165.4 82.4L165.8 82.4L166.2 82.4L166.6 82.4L167.0 82.4L167.4 82.4L167.8 82.4L168.2 82.4L168.6 82.4L169.0 82.4L169.4 82.4L169.8 82.4L170.2 82.4L170.6 82.4L171.0 82.4L171.4 82.4L171.8 82.4L172.2 82.4L172.6 82.5L173.0 82.7L173.4 82.9L173.8 83.1L174.2 83.3L174.6 83.6L175.0 83.9L175.4 84.1L175.8 84.5L176.2 84.9L176.6 85.3L177.0 85.8L177.4 86.3L177.8 86.9L178.2 87.5L178.6 88.1L179.0 88.7L179.4 89.4L179.8 90.2L180.2 91.0L180.6 91.9L181.0 92.6L181.4 93.3L181.8 94.0L182.2 94.7L182.6 95.5L183.0 96.1L183.4 96.6L183.8 96.9L184.0 96.9L184.1 96.9L184.2 96.9L184.6 96.6L185.0 96.1L185.4 95.5L185.8 94.7L186.2 94.0L186.6 93.2L187.0 92.5L187.4 91.5L187.8 90.5L188.2 89.4L188.6 88.4L189.0 87.5L189.4 86.7L189.8 86.1L190.2 85.5L190.6 85.0L191.0 84.5L191.4 84.0L191.9 83.6L192.3 83.2L192.7 83.0L193.1 82.8L193.5 82.7L193.9 82.7L194.3 82.7L194.7 82.7L195.1 82.6L195.5 82.6L195.9 82.6L196.3 82.6L196.7 82.5L197.1 82.5L197.5 82.5L197.9 82.5L198.3 82.5L198.7 82.5L199.1 82.5L199.5 82.5L199.9 82.5L200.3 82.5L200.7 82.5L201.1 82.5L201.5 82.5L201.9 82.5L202.3 82.5L202.7 82.5L203.1 82.5L203.5 82.5L203.9 82.5L204.3 82.5L204.7 82.5L205.1 82.5L205.5 82.5L205.9 82.5L206.3 82.5L206.7 82.5L207.1 82.5" stroke="#880707" stroke-width="2.0" fill="none" stroke-linejoin="round"/>
<path d="M50.6 34.3L51.0 34.3L51.4 34.3L51.8 34.3L52.2 34.3L52.6 34.3L53.0 34.3L53.4 34.3L53.8 34.3L54.2 34.3L54.6 34.3L55.0 34.3L55.4 34.3L55.8 34.3L56.2 34.3L56.6 34.3L57.0 34.3L57.4 34.3L57.8 34.3L58.2 34.3L58.6 34.3L59.0 34.3L59.4 34.3L59.8 34.3L60.2 34.3L60.6 34.3L61.0 34.3L61.4 34.4L61.8 34.4L62.2 34.4L62.6 34.5L63.0 34.6L63.4 34.8L63.8 35.0L64.2 35.3L64.6 35.7L65.0 36.0L65.4 36.4L65.8 36.9L66.2 37.4L66.7 38.0L67.1 39.0L67.5 40.2L67.9 41.6L68.3 43.2L68.7 44.7L69.1 46.2L69.5 47.7L69.9 49.3L70.3 51.0L70.7 52.7L71.1 54.4L71.5 55.9L71.9 57.2L72.3 58.5L72.7 59.8L73.1 60.8L73.5 61.3L73.6 61.3L73.7 61.3L73.9 61.1L74.3 60.4L74.7 59.3L75.1 58.2L75.5 57.0L75.9 55.7L76.3 54.2L76.7 52.7L77.1 51.2L77.5 49.9L77.9 48.5L78.3 47.1L78.7 45.8L79.1 44.5L79.5 43.4L79.9 42.4L80.3 41.5L80.7 40.6L81.1 39.7L81.5 38.9L81.9 38.2L82.3 37.6L82.7 37.2L83.1 36.7L83.5 36.3L83.9 35.9L84.3 35.5L84.7 35.2L85.1 35.0L85.5 34.8L85.9 34.7L86.3 34.6L86.7 34.6L87.1 34.6L87.5 34.6L87.9 34.6L88.3 34.6L88.7 34.6L89.1 34.6L89.5 34.6L89.9 34.6L90.3 34.6L90.7 34.5L91.1 34.5L91.5 34.5L91.9 34.5L92.3 34.5L92.7 34.5L93.1 34.5L93.5 34.5L93.9 34.5L94.3 34.5L94.7 34.5L95.1 34.5L95.5 34.5L95.9 34.5L96.3 34.5L96.7 34.5L97.1 34.6L97.5 34.6L98.0 34.6L98.4 34.6L98.8 34.6L99.2 34.6L99.6 34.7L100.0 34.7L100.4 34.7L100.8 34.7L101.2 34.7L101.6 34.7L102.0 34.8L102.4 34.8L102.8 34.8L103.2 34.8L103.6 34.8L104.0 34.8L104.4 34.8L104.8 34.8L105.2 34.8L105.6 34.7L106.0 34.7L106.4 34.6L106.8 34.6L107.2 34.5L107.6 34.5L108.0 34.4L108.4 34.4L108.8 34.3L109.2 34.2L109.6 34.2L110.0 34.1L110.4 34.1L110.8 34.0L111.2 33.9L111.6 33.8L112.0 33.7L112.4 33.6L112.8 33.5L113.2 33.4L113.6 33.3L114.0 33.3L114.4 33.2L114.8 33.2L115.2 33.2L115.6 33.4L116.0 33.7L116.4 34.1L116.8 34.6L117.2 35.1L117.6 35.8L118.0 36.7L118.4 37.8L118.8 38.9L119.2 40.2L119.6 41.6L120.0 43.1L120.4 44.9L120.8 46.8L121.2 49.0L121.6 51.5L122.0 54.1L122.4 56.7L122.8 59.5L123.2 62.5L123.6 65.9L124.0 69.7L124.4 73.6L124.8 77.7L125.2 81.6L125.6 85.2L126.0 88.6L126.4 92.3L126.8 96.8L127.2 102.5L127.6 107.2L128.0 111.5L128.4 115.0L128.8 116.4L129.3 115.0L129.7 111.5L130.1 107.2L130.5 102.5L130.9 96.8L131.3 92.3L131.7 88.6L132.1 85.2L132.5 81.6L132.9 77.7L133.3 73.6L133.7 69.7L134.1 65.9L134.5 62.5L134.9 59.5L135.3 56.7L135.7 54.1L136.1 51.5L136.5 49.0L136.9 46.8L137.3 44.9L137.7 43.1L138.1 41.6L138.5 40.2L138.9 38.9L139.3 37.8L139.7 36.7L140.1 35.8L140.5 35.1L140.9 34.6L141.3 34.1L141.7 33.7L142.1 33.4L142.5 33.2L142.9 33.2L143.3 33.2L143.7 33.3L144.1 33.3L144.5 33.4L144.9 33.5L145.3 33.6L145.7 33.7L146.1 33.8L146.5 33.9L146.9 34.0L147.3 34.1L147.7 34.1L148.1 34.2L148.5 34.2L148.9 34.3L149.3 34.4L149.7 34.4L150.1 34.5L150.5 34.5L150.9 34.6L151.3 34.6L151.7 34.7L152.1 34.7L152.5 34.8L152.9 34.8L153.3 34.8L153.7 34.8L154.1 34.8L154.5 34.8L154.9 34.8L155.3 34.8L155.7 34.8L156.1 34.7L156.5 34.7L156.9 34.7L157.3 34.7L157.7 34.7L158.1 34.7L158.5 34.6L158.9 34.6L159.3 34.6L159.7 34.6L160.2 34.6L160.6 34.6L161.0 34.5L161.4 34.5L161.8 34.5L162.2 34.5L162.6 34.5L163.0 34.5L163.4 34.5L163.8 34.5L164.2 34.5L164.6 34.5L165.0 34.5L165.4 34.5L165.8 34.5L166.2 34.5L166.6 34.5L167.0 34.5L167.4 34.6L167.8 34.6L168.2 34.6L168.6 34.6L169.0 34.6L169.4 34.6L169.8 34.6L170.2 34.6L170.6 34.6L171.0 34.6L171.4 34.6L171.8 34.7L172.2 34.8L172.6 35.0L173.0 35.2L173.4 35.5L173.8 35.9L174.2 36.3L174.6 36.7L175.0 37.2L175.4 37.6L175.8 38.2L176.2 38.9L176.6 39.7L177.0 40.6L177.4 41.5L177.8 42.4L178.2 43.4L178.6 44.5L179.0 45.8L179.4 47.1L179.8 48.5L180.2 49.9L180.6 51.2L181.0 52.7L181.4 54.2L181.8 55.7L182.2 57.0L182.6 58.2L183.0 59.3L183.4 60.4L183.8 61.1L184.0 61.3L184.1 61.3L184.2 61.3L184.6 60.8L185.0 59.8L185.4 58.5L185.8 57.2L186.2 55.9L186.6 54.4L187.0 52.7L187.4 51.0L187.8 49.3L188.2 47.7L188.6 46.2L189.0 44.7L189.4 43.2L189.8 41.6L190.2 40.2L190.6 39.0L191.0 38.0L191.4 37.4L191.9 36.9L192.3 36.4L192.7 36.0L193.1 35.7L193.5 35.3L193.9 35.0L194.3 34.8L194.7 34.6L195.1 34.5L195.5 34.4L195.9 34.4L196.3 34.4L196.7 34.3L197.1 34.3L197.5 34.3L197.9 34.3L198.3 34.3L198.7 34.3L199.1 34.3L199.5 34.3L199.9 34.3L200.3 34.3L200.7 34.3L201.1 34.3L201.5 34.3L201.9 34.3L202.3 34.3L202.7 34.3L203.1 34.3L203.5 34.3L203.9 34.3L204.3 34.3L204.7 34.3L205.1 34.3L205.5 34.3L205.9 34.3L206.3 34.3L206.7 34.3L207.1 34.3" stroke="#0a0a9e" stroke-width="2.0" fill="none" stroke-linejoin="round"/>
</g>
<g clip-path="url(#cb)">
<path d="M284.2 48.3L284.9 48.3L285.5 48.2L286.2 48.2L286.9 48.2L287.5 48.2L288.2 48.2L288.9 48.2L289.6 48.3L290.2 48.4L290.9 48.7L291.6 49.0L292.2 49.3L292.9 49.6L293.6 49.9L294.2 50.1L294.9 50.2L295.6 50.1L296.3 49.7L296.9 49.2L297.6 48.4L298.3 47.6L298.9 46.7L299.6 45.4L300.3 43.6L300.9 42.4L301.6 42.8L302.3 44.4L302.9 46.7L303.6 50.4L304.3 55.4L305.0 62.4L305.6 68.0L306.3 71.4L307.0 73.3L307.6 72.3L308.3 69.2L309.0 65.2L309.6 59.5L310.3 54.1L311.0 49.2L311.7 46.1L312.3 44.1L313.0 42.8L313.7 42.3L314.3 42.8L315.0 43.7L315.7 45.0L316.3 46.2L317.0 47.2L317.7 48.2L318.3 49.1L319.0 49.8L319.7 49.8L320.4 49.8L321.0 49.6L321.7 49.5L322.4 49.4L323.0 49.2L323.7 49.0L324.4 48.9L325.0 48.8L325.7 48.7L326.4 48.7L327.0 48.7L327.7 48.7L328.4 48.7L329.1 48.7L329.7 48.7L330.4 48.7L331.1 48.7L331.7 48.7L332.4 48.7L333.1 48.7L333.7 48.7L334.4 48.8L335.1 48.8L335.8 48.8L336.4 48.8L337.1 48.8L337.8 48.8L338.4 48.8L339.1 48.7L339.8 48.6L340.4 48.5L341.1 48.3L341.8 48.1L342.4 48.0L343.1 48.0L343.8 48.0L344.5 48.2L345.1 48.6L345.8 49.0L346.5 49.4L347.1 49.9L347.8 50.4L348.5 51.3L349.1 52.2L349.8 52.8L350.5 52.8L351.2 51.1L351.8 48.4L352.5 46.0L353.2 43.3L353.8 40.4L354.5 37.2L355.2 33.7L355.8 31.5L356.5 31.1L357.2 32.7L357.8 36.1L358.5 41.7L359.2 50.5L359.9 62.7L360.5 78.4L361.2 96.4L361.9 113.7L362.5 113.7L363.2 96.4L363.9 78.4L364.5 62.7L365.2 50.5L365.9 41.7L366.6 36.1L367.2 32.7L367.9 31.1L368.6 31.5L369.2 33.7L369.9 37.2L370.6 40.4L371.2 43.3L371.9 46.0L372.6 48.4L373.2 51.1L373.9 52.8L374.6 52.8L375.3 52.2L375.9 51.3L376.6 50.4L377.3 49.9L377.9 49.4L378.6 49.0L379.3 48.6L379.9 48.2L380.6 48.0L381.3 48.0L382.0 48.0L382.6 48.1L383.3 48.3L384.0 48.5L384.6 48.6L385.3 48.7L386.0 48.8L386.6 48.8L387.3 48.8L388.0 48.8L388.6 48.8L389.3 48.8L390.0 48.8L390.7 48.7L391.3 48.7L392.0 48.7L392.7 48.7L393.3 48.7L394.0 48.7L394.7 48.7L395.3 48.7L396.0 48.7L396.7 48.7L397.4 48.7L398.0 48.7L398.7 48.7L399.4 48.8L400.0 48.9L400.7 49.0L401.4 49.2L402.0 49.4L402.7 49.5L403.4 49.6L404.0 49.8L404.7 49.8L405.4 49.8L406.1 49.1L406.7 48.2L407.4 47.2L408.1 46.2L408.7 45.0L409.4 43.7L410.1 42.8L410.7 42.3L411.4 42.8L412.1 44.1L412.7 46.1L413.4 49.2L414.1 54.1L414.8 59.5L415.4 65.2L416.1 69.2L416.8 72.3L417.4 73.3L418.1 71.4L418.8 68.0L419.4 62.4L420.1 55.4L420.8 50.4L421.5 46.7L422.1 44.4L422.8 42.8L423.5 42.4L424.1 43.6L424.8 45.4L425.5 46.7L426.1 47.6L426.8 48.4L427.5 49.2L428.1 49.7L428.8 50.1L429.5 50.2L430.2 50.1L430.8 49.9L431.5 49.6L432.2 49.3L432.8 49.0L433.5 48.7L434.2 48.4L434.8 48.3L435.5 48.2L436.2 48.2L436.9 48.2L437.5 48.2L438.2 48.2L438.9 48.2L439.5 48.3L440.2 48.3L440.2 55.6L439.5 55.6L438.9 55.5L438.2 55.5L437.5 55.5L436.9 55.5L436.2 55.5L435.5 55.5L434.8 55.6L434.2 55.7L433.5 56.0L432.8 56.3L432.2 56.6L431.5 56.9L430.8 57.2L430.2 57.3L429.5 57.4L428.8 57.4L428.1 57.0L427.5 56.5L426.8 55.7L426.1 54.9L425.5 54.0L424.8 52.7L424.1 50.8L423.5 49.7L422.8 50.1L422.1 51.7L421.5 54.0L420.8 57.7L420.1 62.7L419.4 69.7L418.8 75.2L418.1 78.7L417.4 80.6L416.8 79.6L416.1 76.5L415.4 72.5L414.8 66.8L414.1 61.4L413.4 56.5L412.7 53.4L412.1 51.4L411.4 50.0L410.7 49.6L410.1 50.0L409.4 51.0L408.7 52.2L408.1 53.5L407.4 54.5L406.7 55.5L406.1 56.4L405.4 57.0L404.7 57.1L404.0 57.0L403.4 56.9L402.7 56.8L402.0 56.6L401.4 56.5L400.7 56.3L400.0 56.2L399.4 56.1L398.7 56.0L398.0 56.0L397.4 56.0L396.7 56.0L396.0 56.0L395.3 56.0L394.7 56.0L394.0 56.0L393.3 56.0L392.7 56.0L392.0 56.0L391.3 56.0L390.7 56.0L390.0 56.0L389.3 56.0L388.6 56.1L388.0 56.1L387.3 56.1L386.6 56.1L386.0 56.1L385.3 56.0L384.6 55.9L384.0 55.8L383.3 55.6L382.6 55.4L382.0 55.3L381.3 55.3L380.6 55.3L379.9 55.5L379.3 55.8L378.6 56.2L377.9 56.7L377.3 57.2L376.6 57.7L375.9 58.6L375.3 59.5L374.6 60.1L373.9 60.1L373.2 58.4L372.6 55.7L371.9 53.2L371.2 50.6L370.6 47.7L369.9 44.5L369.2 41.0L368.6 38.8L367.9 38.4L367.2 40.0L366.6 43.4L365.9 49.0L365.2 57.7L364.5 70.0L363.9 85.7L363.2 103.6L362.5 121.0L361.9 121.0L361.2 103.6L360.5 85.7L359.9 70.0L359.2 57.7L358.5 49.0L357.8 43.4L357.2 40.0L356.5 38.4L355.8 38.8L355.2 41.0L354.5 44.5L353.8 47.7L353.2 50.6L352.5 53.2L351.8 55.7L351.2 58.4L350.5 60.1L349.8 60.1L349.1 59.5L348.5 58.6L347.8 57.7L347.1 57.2L346.5 56.7L345.8 56.2L345.1 55.8L344.5 55.5L343.8 55.3L343.1 55.3L342.4 55.3L341.8 55.4L341.1 55.6L340.4 55.8L339.8 55.9L339.1 56.0L338.4 56.1L337.8 56.1L337.1 56.1L336.4 56.1L335.8 56.1L335.1 56.0L334.4 56.0L333.7 56.0L333.1 56.0L332.4 56.0L331.7 56.0L331.1 56.0L330.4 56.0L329.7 56.0L329.1 56.0L328.4 56.0L327.7 56.0L327.0 56.0L326.4 56.0L325.7 56.0L325.0 56.1L324.4 56.2L323.7 56.3L323.0 56.5L322.4 56.6L321.7 56.8L321.0 56.9L320.4 57.0L319.7 57.1L319.0 57.0L318.3 56.4L317.7 55.5L317.0 54.5L316.3 53.5L315.7 52.2L315.0 51.0L314.3 50.0L313.7 49.6L313.0 50.0L312.3 51.4L311.7 53.4L311.0 56.5L310.3 61.4L309.6 66.8L309.0 72.5L308.3 76.5L307.6 79.6L307.0 80.6L306.3 78.7L305.6 75.2L305.0 69.7L304.3 62.7L303.6 57.7L302.9 54.0L302.3 51.7L301.6 50.1L300.9 49.7L300.3 50.8L299.6 52.7L298.9 54.0L298.3 54.9L297.6 55.7L296.9 56.5L296.3 57.0L295.6 57.4L294.9 57.4L294.2 57.3L293.6 57.2L292.9 56.9L292.2 56.6L291.6 56.3L290.9 56.0L290.2 55.7L289.6 55.6L288.9 55.5L288.2 55.5L287.5 55.5L286.9 55.5L286.2 55.5L285.5 55.5L284.9 55.6L284.2 55.6Z" fill="#9fb8e2" fill-opacity="0.5" filter="url(#blur)"/>
<path d="M284.3 47.6h0m0 6.1h0m.1-1.9h0m.1-1.4h0m0 .3h0m.1-.3h0m0 4.7h0m.1-3h0m.2 3.7h0m0-3.3h0m.1-1.6h0m0-.9h0m.1 7.4h0m0-5.9h0m.1 4.2h0m.1-4.8h0m0 .2h0m.2 .5h0m0-2h0m0 1.8h0m.1 2.7h0m0-1.2h0m0-1.7h0m.1 5.1h0m.1-3.6h0m0-1.6h0m0 3.7h0m.1-5.9h0m.3 .3h0m.1 1.5h0m0 1.6h0m.1 .6h0m0-2.4h0m0 .3h0m0-1.2h0m.1 4.2h0m0-3.3h0m.1-1.3h0m.1 5.3h0m0-2.8h0m.2 .3h0m0 .5h0m.1-2.9h0m0 2.9h0m0-2.3h0m0 .8h0m.1-.9h0m0 2.6h0m.1 1h0m0-3.3h0m0 1.5h0m.1-1.9h0m0 3.3h0m.1 .2h0m.1-3.2h0m.1 1.4h0m.3 .7h0m.1-2.1h0m0 2.2h0m.2-.9h0m0-.9h0m.1 4h0m.1-5.1h0m.2 2.4h0m.1 .7h0m.1-.6h0m0 1.5h0m.1 2.9h0m0-4.7h0m0 1.3h0m.1-5.2h0m0 .4h0m0 4.9h0m0-2.1h0m.1-1.9h0m0 1.8h0m.1 1.3h0m0 .4h0m0 1.7h0m.1-4.6h0m.2 .6h0m.2 1.2h0m.2 .4h0m.1-4.2h0m0 3.2h0m.1-2.3h0m0 6.4h0m0-.9h0m.1-.1h0m0-3.8h0m.1 2.7h0m.1-4.1h0m.1 3h0m0-2.2h0m0 3.3h0m.1-3h0m.1 3h0m.1-.6h0m.1 2.3h0m0 2h0m0-1.5h0m.1-3.6h0m.1 .1h0m.1 4.7h0m0-1.1h0m0 .6h0m0-4.9h0m.2 3.7h0m.1 .4h0m.2-3.5h0m0 2.6h0m.2-2.7h0m.2-.5h0m.1 3.3h0m0 2.8h0m0-3.5h0m.1-5.9h0m.1 8h0m0-5.9h0m0 4.8h0m.1 .9h0m.1-6h0m0 4.7h0m0 4.2h0m0-1.9h0m.1-1.2h0m.1-.6h0m0-4.5h0m.1 .8h0m0 2.3h0m0-1.1h0m.2 2.3h0m.1 3h0m0-4.1h0m0 .6h0m.1-2.8h0m0 1.5h0m0-2.1h0m.1 3.9h0m.1-.1h0m0 .3h0m.1 .9h0m.1-4.7h0m0 2.3h0m.1 3.4h0m.1-1.4h0m.1-6.2h0m.1-.8h0m0 2.1h0m.2 3.1h0m0-3.6h0m.1 4.1h0m0 2.8h0m.2-3.1h0m0 2.9h0m.2-2.1h0m.1-6.1h0m0 4.2h0m.1 .8h0m.1-1.5h0m.1 3.1h0m0-1.7h0m0 3.1h0m.1 .9h0m0-2.2h0m.1 1.8h0m.1 2.4h0m0-4.1h0m.1 1.3h0m.1-.4h0m0-5.8h0m.1 2h0m.1-.9h0m0 2.9h0m0 2.1h0m.1-.4h0m0-6.7h0m.1 9.8h0m0-4.1h0m.1-1.8h0m0 4.1h0m.1-6.3h0m0 4.6h0m.1-2.1h0m0-3.9h0m0 1.7h0m.1 2.6h0m0-.3h0m.1-4h0m.1-1.1h0m.1 3.3h0m.1 5.8h0m0-3.4h0m0-3.9h0m.1 4.4h0m.1-1.2h0m.1 1.6h0m0-1.5h0m.1-3.5h0m0 .7h0m0 4.3h0m.1-5.9h0m0 6.7h0m0-6h0m.1 .1h0m0 5.5h0m.1 1.1h0m.1-7.1h0m.2 .6h0m0 1h0m.2 2.3h0m0-3h0m0 4.7h0m.1-5.8h0m.1-3.5h0m.2 5.6h0m0-3.1h0m.1 4.6h0m0-3h0m.1 1.3h0m0-1.7h0m0 1.8h0m.1 3.5h0m0-6.9h0m.1 5.4h0m.1-5.7h0m0 5.7h0m.1-5.1h0m.1 .8h0m.2 1.8h0m.2-4.3h0m.1 1.7h0m0-3.4h0m0 2.2h0m.1-1.6h0m.2 7.8h0m0-8.6h0m0 3.9h0m.2-.6h0m.1 2.5h0m0-1.5h0m0-1.1h0m.1-1h0m.1-.2h0m0 1.1h0m0-1.4h0m0-1.8h0m.2 3.1h0m0 .4h0m.1-4.5h0m.2 1.5h0m0 3.4h0m.1-4.1h0m.1 .7h0m.1-4.4h0m.2 3.4h0m0 .3h0m0 2.2h0m0 2.2h0m0-2.1h0m0 .4h0m.1 .1h0m0-3.5h0m0 5.4h0m0-6.8h0m.3 7.3h0m.2 1.5h0m.1-5.6h0m0 3h0m.1 1.5h0m0-2.8h0m0 2.3h0m0-1.4h0m.1 1.5h0m0-1.2h0m0 2.5h0m.1-3.6h0m.1 3h0m0-1.2h0m.1 6h0m0-6.6h0m0 2.7h0m.1-.6h0m.1 .6h0m0 .6h0m0 1.2h0m.1-4.6h0m0 3.6h0m.1-.1h0m0 .4h0m.1 1.7h0m.1-4.2h0m.1 4.8h0m0-2.2h0m.1 3.1h0m.1 2.4h0m0 .5h0m.1-4.5h0m0 6.4h0m0-.5h0m.1-2.1h0m.1-2.8h0m0 3.9h0m.1-4.3h0m0 3.2h0m0 .3h0m0-4.4h0m0 2.6h0m.1 3h0m.2 1.9h0m0-3.1h0m0-1.4h0m.1 4.4h0m0 0h0m0-3h0m.1 5.5h0m0-2.7h0m0 .6h0m.1 1.8h0m.1 2.6h0m.1 4.2h0m0-4.6h0m0 3.1h0m.1-3.4h0m0 2.2h0m.2 2.1h0m0-4.3h0m.1 2.6h0m.1 4.4h0m.1-3.1h0m.1 3.6h0m.5 4.8h0m.1-3.2h0m0 .6h0m0-2.4h0m.1 .1h0m0 .2h0m.1 4.7h0m.2-.9h0m0 4.3h0m0-5h0m0 1.3h0m.3 5.2h0m0-6.5h0m.1 .5h0m0 5.1h0m.2 1.3h0m.1-4.3h0m.1-1.5h0m0 .8h0m0-3.8h0m.1-2.4h0m0 5.4h0m.2 .5h0m0 .4h0m.1-6.6h0m.1 4.4h0m.1-2h0m0-.6h0m.1-.4h0m0 1.4h0m0-3.9h0m.1 2.9h0m0 .9h0m0 3h0m.1-2.2h0m0-.7h0m.1-3.1h0m0 3.9h0m0-2.1h0m.1 .8h0m0 4.7h0m0-6.1h0m.1-4.4h0m.1 7.9h0m.1-7.2h0m0 5.6h0m.2-2.8h0m.1-2.1h0m.3-4.7h0m0 2.2h0m.1-.6h0m0-2.6h0m0-.2h0m0 2.6h0m.1-2.2h0m0-2.2h0m.1 1h0m.1 3.6h0m0-3.2h0m.2 2.6h0m0-9.5h0m.1 4.1h0m0 4.6h0m0-3.3h0m.3-4h0m0-1h0m.4-.4h0m.2-1.3h0m.1 1.1h0m.2-5.9h0m0-1.2h0m.1 1.9h0m.2-.3h0m.1-.3h0m0 1.7h0m0-.5h0m.1-2.4h0m0 .7h0m0-.6h0m0 3h0m.1-4h0m0 4.5h0m.1-6h0m.1 3.3h0m0-1.3h0m0 2.5h0m0-1.5h0m.1 1.5h0m0-2.3h0m.2 4.3h0m0-7.6h0m.1 2.2h0m.1-1.3h0m0 2h0m0-1.6h0m0 3h0m.1 .3h0m.1-1.4h0m0 2.6h0m.1-5.9h0m.1 2.8h0m.1-.4h0m.1 1.4h0m0-3.6h0m0-1.3h0m.1 3.4h0m0-3.6h0m.1 1.8h0m0 .3h0m.1 4.8h0m0-2h0m0-5.3h0m.1 .3h0m.1-3h0m.1 7.2h0m0-3.6h0m.1 5.9h0m0-1.7h0m.2 .7h0m0-.6h0m0-3h0m.1-2.8h0m.1 3.2h0m0 3.7h0m0-6.6h0m.2 2.7h0m0 4.9h0m.2-7.3h0m.1 3.6h0m.1-1.7h0m.2 3.8h0m0-.3h0m0-2.4h0m.1 5.5h0m0-4.3h0m.1-2h0m0 1.2h0m0 1.4h0m0 .8h0m.1 .1h0m.1-4.6h0m.1 3.3h0m.1 .4h0m0 2.9h0m.1-3.3h0m0-.9h0m0 7.4h0m0-9.8h0m0 2.2h0m0 2.6h0m0 4.2h0m.1-9.9h0m0 3.7h0m0 3.1h0m.2 2.7h0m0-6.3h0m.1 7.5h0m0-4.7h0m0 .8h0m.2 2.8h0m0-1.2h0m.1 0h0m0-4.1h0m0 1.3h0m0-1.9h0m.4 6.1h0m0-5.9h0m.2 2.7h0m0-2.3h0m.1 4.1h0m.4-1.5h0m0 3.8h0m0-5.4h0m0 2.7h0m.2 2.1h0m0-1.2h0m.1-.3h0m0 5h0m.1-5h0m0 3.2h0m0-2.5h0m.2-.5h0m0-5.2h0m0 4.6h0m.1 4.7h0m.1-4.7h0m0 4.4h0m.1-.3h0m.1-.5h0m0-4.4h0m.1-1.9h0m0 2.7h0m.2 5.3h0m.1-3.8h0m0-1.7h0m0 7.4h0m.1-4.2h0m.2-6.6h0m0 9.3h0m0-.9h0m.1 .3h0m.1-6.7h0m0 1.2h0m.1 .4h0m0-1.1h0m0 4.8h0m0 3.2h0m0-6.4h0m.3 5.7h0m0-5.9h0m.1 .2h0m.1 .9h0m0-2.9h0m0 2.3h0m0 4.2h0m0-1.1h0m.1-3.9h0m.1 3.5h0m0-3.4h0m.2 2.4h0m0-1.5h0m.1 3.2h0m0-2.1h0m.1 3.9h0m0-2.4h0m0-3.3h0m.1 3.1h0m.1 .8h0m0-4.8h0m.1 .3h0m.2 5h0m0-3.7h0m.1-.7h0m.1 3.6h0m.1-.3h0m0-1.6h0m.1-4.3h0m.1 3.9h0m0 .1h0m.3 5.3h0m0-6.5h0m0-1.5h0m.1 5.4h0m0-5h0m.1 1.1h0m0-1.1h0m0 2.1h0m.2-.2h0m.1-5.4h0m.1 .7h0m.1 7.1h0m0 1.9h0m0-5.3h0m.3-.2h0m0 .8h0m.1 .7h0m.1-4.2h0m0 9.3h0m.1-3h0m0-4.2h0m.2 .4h0m.1 0h0m0 3.2h0m.2-6.4h0m0 1.9h0m0 .3h0m.1 1h0m.1 4.9h0m0-2.2h0m.1 1.8h0m0-3.2h0m.1 3.9h0m.1-3.8h0m.3 1.6h0m0-1.6h0m0 5.1h0m.1-2.2h0m0-3.2h0m.1-1.5h0m0 5.1h0m.2-5h0m.1-4.2h0m.3 6.3h0m0 1.6h0m.1 2.8h0m.1-.6h0m0-2.7h0m0-.7h0m.1-2.3h0m0-3.2h0m.1 6.9h0m.2-3h0m.1-3.2h0m0 2.3h0m0 .8h0m0 .1h0m.1 3.9h0m.1 .2h0m0-5.6h0m0-1.7h0m.1 .8h0m0 .1h0m.1-1.6h0m.1 .4h0m0 4.8h0m0-1.7h0m.1 6.1h0m.1-8.1h0m.2 2.3h0m0 .1h0m.1-2.3h0m0 6h0m.1-3.8h0m.1 2.6h0m0-6.3h0m.1 7.4h0m0-1.8h0m0-2.6h0m0-3.3h0m0 4.5h0m.1 3.6h0m0-1.8h0m0-2.7h0m.1-.6h0m0 4.6h0m0-6.2h0m.1 5.3h0m0 .1h0m.1-1.9h0m.1 2.7h0m.1 0h0m0-2.6h0m0 4.8h0m.1-4.4h0m.1 2.2h0m.1-3.9h0m0 3.2h0m.1-4.7h0m0 1.4h0m0-.4h0m0 .7h0m.1 2.8h0m0-3.2h0m.1-.6h0m0 1.3h0m.1-.6h0m.1 0h0m.1 1.5h0m.1 .7h0m0-1.6h0m.2-.1h0m0-1.3h0m.1-1.5h0m.1 4h0m0 .3h0m.2-6.2h0m0 5.2h0m0-.1h0m.1 2.1h0m0-3.2h0m.1 6.4h0m0-3.4h0m.2-1.3h0m.1 1.2h0m0-2.4h0m.1-2.4h0m0 2h0m0 2h0m0 4.3h0m0-3.2h0m.1-5.2h0m.1-.7h0m.1 2.4h0m.1-.7h0m.1 .1h0m0 5.9h0m0-2.7h0m.1 .3h0m.2-2.9h0m0-1.3h0m.1 2.7h0m0-4.7h0m.1 5.2h0m0 1h0m0 .1h0m0 3.7h0m0-6.9h0m.1 3.1h0m.1-3h0m.1 .6h0m0-.3h0m.2 5.6h0m0-3.2h0m.1-.3h0m0-1.5h0m.1 3.4h0m0 .1h0m.1-5.6h0m0 6.6h0m.1-4.2h0m0 3.4h0m0-4.9h0m0 3.3h0m.3-.3h0m.1 1.4h0m0 2.7h0m.1-9.6h0m0 4.7h0m.1-4h0m.1 2.1h0m0 4.2h0m0-1.1h0m.1-2.8h0m0 1.2h0m.1 2h0m.2-2.8h0m.2-1.2h0m.1-.9h0m.1-1.3h0m0 4.1h0m.1 1.1h0m0 0h0m.1 4.3h0m.3-8.7h0m.1-.7h0m.1 9.5h0m.1-5.6h0m.2 1.8h0m0-.8h0m.1 4h0m.1-4.2h0m0 4.8h0m.3-6.8h0m0-.8h0m0-.8h0m0 7.6h0m.1-1.2h0m0-1.5h0m.1-5.1h0m.1 4.1h0m.1-4.6h0m.1 3.5h0m0-1.2h0m.1 5.5h0m.1 .6h0m0-2.3h0m0 1.1h0m.2 .7h0m.1-5.3h0m0-2.7h0m.1 6.1h0m.3-1.7h0m.1-3.8h0m0 3.3h0m.2-1.8h0m0 .1h0m0-1.3h0m.1 .1h0m0 2.2h0m0 3.3h0m.1-5.4h0m.3 5.7h0m0-3.2h0m.1-.9h0m0-4.4h0m.1 3.7h0m.1 .6h0m.1 2.1h0m.2-.5h0m0 3.6h0m.1 1.4h0m.1-5h0m0-.8h0m0 1.7h0m.3-.5h0m0 0h0m.1-5.4h0m0 6.3h0m.1-6.7h0m0 6.9h0m0-1.3h0m.1-.4h0m.1-1.7h0m0-2.3h0m.1 1.1h0m.2-.3h0m.1 2.1h0m0 .8h0m0 .3h0m0 2.7h0m.1-8.5h0m0 5.7h0m0 1.7h0m.1 1.2h0m.2-2.4h0m0 2.1h0m0-5.5h0m0-.4h0m.1 4.8h0m.1-5.1h0m0 1.2h0m.1 1.2h0m0 .1h0m.1 1.5h0m.1-3.2h0m0 6.9h0m.1-6.4h0m.1 2.1h0m.1 5.2h0m0-4.6h0m0-1.2h0m.1-1.3h0m0 1.4h0m.1 2.8h0m0-3.2h0m0 .4h0m.1 5.6h0m.1-2.4h0m.1-2h0m0 .8h0m.1-2.2h0m.1-5h0m.1 5.4h0m0 1.3h0m.1-1.1h0m0 2.3h0m0-.9h0m.1 .4h0m.1-3.5h0m.1 2.9h0m0-1.7h0m.1-.7h0m.2 3.6h0m0-4.2h0m.1-2.7h0m.1 4.8h0m.1-1.4h0m0-2.2h0m.1-.6h0m0 2.7h0m.1 1.3h0m0-1.9h0m.1 4.2h0m0-.7h0m.1-.7h0m.1-2.6h0m.1 4.1h0m.1-3.7h0m.3 5.1h0m.1-1.8h0m.1-.3h0m.2-3.8h0m0-3.2h0m0 8.9h0m.1-4.8h0m0 1h0m0-1.5h0m0 2.6h0m.1-3.7h0m0 7.5h0m.1-7.8h0m0-1.2h0m.2 6h0m0-2.6h0m.1 3.4h0m.1-2.1h0m0-.1h0m.3 4.7h0m0-7.6h0m0 .6h0m.2-3.1h0m0 5.1h0m.1-.5h0m.2-2.7h0m.1 8h0m0-6.3h0m.1 2.4h0m0-5.9h0m.1 5.5h0m.1-3.1h0m0 3.8h0m0 4.2h0m.1-9h0m.2 1h0m.1 .2h0m0 3.5h0m.1-3.9h0m0 5.7h0m0-.4h0m0-4.7h0m.2 .5h0m0-2.7h0m.1 6.8h0m0-3.1h0m.1-.2h0m0-1.5h0m.1 5.8h0m0-3h0m0 1.3h0m.1-2.4h0m.1-4h0m.1 3.5h0m.1-2.2h0m.1 2.6h0m0 2.6h0m0-1.7h0m0 .8h0m.2 .4h0m.1-2.5h0m0 .8h0m.2 3.8h0m.2 3.5h0m.1-4.1h0m.1-2.4h0m0-2.5h0m.1 3.2h0m.1-.8h0m0-1.3h0m.1-.3h0m0 5.1h0m0-1.4h0m.1-2.1h0m.1 3.2h0m0 1h0m.3-1.3h0m0-.8h0m.1-2.6h0m.1 4.2h0m0 .9h0m.1-1h0m0-3.3h0m.1 7h0m.1-5.4h0m.2-1.7h0m0 3.8h0m.1 .5h0m.1 1.7h0m.2-.5h0m.1-2h0m0-3.6h0m.1 1.9h0m0 2.5h0m0 2.8h0m.1-.7h0m0-6h0m0 6.6h0m.1-6.3h0m0 2.3h0m.1-2.3h0m.1 1.7h0m0 2.4h0m.1-1.4h0m.1 .9h0m.1 2h0m.1-2.9h0m.1-.6h0m0 2.7h0m.2-2.5h0m.1-3.3h0m.1 1.8h0m.2 2.3h0m0-7.2h0m.3 4.8h0m0-5.1h0m.1 2h0m0-2.1h0m0 2.1h0m0 3.5h0m.1-6.3h0m0 5h0m.2 1.1h0m0 .1h0m.1-5.2h0m0 2.3h0m.1-.4h0m0 2.6h0m.1-9.1h0m.1 2.9h0m0-1h0m.1 1.6h0m.1-2.8h0m.1 4.1h0m0-5.1h0m.1 3.2h0m0 1.1h0m.1-3.6h0m0 .7h0m.4-1.2h0m0 4.9h0m.1-1.8h0m0 .9h0m0-1.6h0m0-2.3h0m.1 2.4h0m.2-3.2h0m0 2.7h0m0-1.9h0m0-2.5h0m.1-1.7h0m.2-2.8h0m0 4.3h0m0-.4h0m.1-3.6h0m.1 7.7h0m.1-1.9h0m.1-5.8h0m0-.3h0m.1-3h0m.1 .1h0m0 .1h0m.2 1h0m0 1.8h0m.1-3.1h0m0 7.6h0m.1-4.7h0m0 3.4h0m.1-3.5h0m0 5.3h0m.1-7.6h0m0 1.3h0m.1-3.1h0m0 7h0m.1-3.7h0m.1-3.4h0m.1 6.5h0m.1-4.5h0m.2 4.9h0m0-10.7h0m0 7.4h0m.1-2.7h0m.1-.7h0m0 5.6h0m.1-3.2h0m0 2.9h0m0-5.8h0m.1-2.3h0m.1 9.5h0m0-5.4h0m0 3.7h0m0-4.8h0m0-.5h0m.1-.8h0m0 .8h0m.1 6.1h0m0-.8h0m.1-3h0m0-1.9h0m.1 4h0m0-1h0m.1-2.1h0m.2 1.6h0m.1-2.3h0m.1 6.2h0m.2-3.4h0m0 1.1h0m0 .4h0m.1 1.1h0m.1 1.5h0m0-4.9h0m.1 5.9h0m.3-1h0m0 .8h0m0 2.7h0m.3-.3h0m0 .7h0m.1-2.1h0m.1 7.3h0m.1-2.3h0m.1 .4h0m.1 1h0m0 4.6h0m.1-1.9h0m0 4.3h0m0-3.7h0m.1-1.7h0m0-1h0m.2 12.7h0m0-4.1h0m.2 1.8h0m0 5.8h0m0-9.1h0m.1 5.3h0m.2 8.9h0m.2-5.7h0m0 5.2h0m0 6.9h0m.1-1h0m.2 4.6h0m.1 .3h0m0-3.3h0m.2 11.3h0m.1 1.5h0m0-.9h0m.1-.3h0m0 2.1h0m.1 6.3h0m0-4.9h0m.2 9.8h0m.1 2h0m.1-4.5h0m.1 12.2h0m.1-3.3h0m0 2.8h0m0-4.4h0m.2 6.5h0m.1 6.1h0m0-.5h0m.1 2.1h0m.1-2h0m0 6.1h0m.1-5.2h0m0 .2h0m.1-.1h0m.1 1h0m0-3.5h0m0-.6h0m.2-2.7h0m0 .3h0m0-1.8h0m.1-1.7h0m.1 2.3h0m.1-4.5h0m.2-5h0m0-1h0m.1-1h0m0-2.6h0m.1-5.8h0m0 1.7h0m.1-2.8h0m0-1.7h0m.1 2.8h0m0-1.7h0m0 3.8h0m0-3.3h0m0-4h0m.1 .2h0m0-.2h0m.1-7.2h0m0-.6h0m.2-.5h0m0 2.7h0m0 .5h0m0-3.5h0m.1 2.2h0m.1-7.3h0m.1 1.1h0m0-1.2h0m.1-2h0m.1-7.4h0m0 3.5h0m.1-7h0m.1 3.9h0m.3-10.6h0m0 5.9h0m0-3.5h0m.1 .3h0m.2-.6h0m.1-9.8h0m0 4.8h0m0 2.7h0m0 1.2h0m.1-7h0m.1-1.3h0m0 1.3h0m.3-1.7h0m0-.8h0m.1 1.8h0m0-2.3h0m.1-1h0m.1-3.6h0m0-.8h0m0 4.8h0m0 2.4h0m.1-10.3h0m0 3.7h0m0 2.2h0m.1-2.9h0m0 2.6h0m0-1h0m.1 3.4h0m.1-4.3h0m.5-8.3h0m.1 1.6h0m0 2.7h0m.1-1.3h0m.1-1.9h0m.1-1h0m0 4.8h0m.3-2.2h0m0-1.1h0m0-1.9h0m.1 3.1h0m.1-2.4h0m.1-.9h0m0 1.9h0m0-1.3h0m.1-1.9h0m0 6.3h0m.3-3.4h0m.2 .1h0m0-4.6h0m.1 10.7h0m0-2.9h0m.1 2h0m0-1h0m.1-3.2h0m0 3.5h0m.1-2.1h0m0-.1h0m.1 .9h0m0-2.7h0m.1 1.4h0m.1 3.3h0m.1-.2h0m.1-1.7h0m0 2.5h0m.1-2.3h0m.1 1.9h0m.1 1.8h0m0-.3h0m.1 2.2h0m0-3.5h0m0 2.5h0m.1 .4h0m.2 0h0m0-6.1h0m0 2.7h0m.1 4.9h0m0 1.1h0m.2-3.7h0m0 4.5h0m.1-5.2h0m0 5h0m0-4.6h0m.2-1.9h0m0 6.1h0m0-2.6h0m.1 .3h0m0-3.4h0m0 0h0m.1 7.8h0m.2-4.8h0m0 .7h0m0 2h0m0-.4h0m0 4.1h0m.2 .1h0m0-2h0m0 3.2h0m.1-4.2h0m0 .6h0m0-3.3h0m.1 6.9h0m.3-5.3h0m.1 2.8h0m.1 .9h0m.1 1.1h0m.1 .3h0m.1 1.9h0m0 .7h0m0-5.7h0m.4 10.8h0m.1-8.1h0m0 1.8h0m.1 .5h0m.1-1.6h0m.2 3.2h0m.1-.3h0m0-.9h0m.1 2.2h0m0-2.7h0m0 .2h0m0 2.6h0m.1-1.1h0m.2 3.8h0m0-3h0m0 .4h0m.3 4.4h0m0-3.7h0m.2-1.4h0m0 3.9h0m.1 .9h0m0-3.3h0m.1 1.4h0m.2 .9h0m.1-2.8h0m0 2.6h0m0-2.8h0m.1-2.5h0m0 1.9h0m.3 .1h0m0 3.1h0m.1-6.2h0m0 4.1h0m.1-5.2h0m0 5.8h0m0-1.6h0m.1 3.5h0m0-4.2h0m.2 4.2h0m.2-4.1h0m.2-4.5h0m0 2.5h0m.1 5.1h0m.2-5.9h0m.2 5.3h0m.1-2.4h0m0 .5h0m.1-.4h0m.1-.9h0m0 5.5h0m.1-8.5h0m.1 3h0m.1 2.4h0m0-3.5h0m.1-3.1h0m.3 6.2h0m.1-4.4h0m0 2h0m.1-.6h0m.1 1.6h0m0-1.5h0m.1-1.5h0m.2 5.4h0m0-2h0m.1-.7h0m0 .2h0m.1 2.9h0m0-2.9h0m0 1.5h0m0-4h0m0 1h0m.1-.5h0m.1-.6h0m.1 2.2h0m.1 1.2h0m.1-4.4h0m.1 2.8h0m0 .5h0m.1-5.9h0m.2 8h0m0-6h0m.1-1.4h0m0 4.4h0m.1 .6h0m.2-2.6h0m0 3h0m0 3.1h0m.2-8.1h0m0-1.3h0m0 7.6h0m0-5.3h0m.1 1.3h0m.1 .5h0m.1-2h0m.1 3h0m.2-.4h0m0-1.2h0m0-.5h0m.1 6.5h0m0-8.8h0m0 1.6h0m.2-1.3h0m.1 3.2h0m0 2.3h0m.1-4.2h0m.1 .1h0m0-1.2h0m.2 .7h0m0 4.1h0m0 .6h0m.1-2.3h0m.1-1.6h0m0 1.3h0m0 1.2h0m.1-1.8h0m.1 5.2h0m0-4.5h0m0 5.3h0m.2-10h0m.2 9.2h0m.1-9.5h0m.1 2.4h0m0-.4h0m0 .6h0m.2 3.2h0m.1-1.2h0m.1-4h0m0 7h0m.3-2.1h0m0-3.1h0m.1 4.2h0m0-6.2h0m0 7.6h0m0-1.1h0m.1-2.2h0m.1 2.2h0m.1-1.2h0m.2-.6h0m0 .4h0m.1-1.3h0m.2-.1h0m.2 .2h0m.1 .3h0m.1 .4h0m.2-.7h0m.2 0h0m.2-1.1h0m0-2.2h0m.1 5.9h0m0-6.3h0m0 2.4h0m.2-.4h0m.1 4h0m.1-2.1h0m.1-.1h0m.2 1.6h0m.1-2.6h0m0 4.9h0m.1-.8h0m0-4.3h0m0 1.1h0m.1 5.3h0m.2-5.3h0m0 .7h0m0-1.8h0m.1 2.4h0m0-.1h0m.1 2.7h0m0-2.3h0m.1 .8h0m0-2.5h0m.1 6.7h0m0-5.2h0m.1-2.9h0m.1 8.3h0m0-7.2h0m.1 .7h0m.1 .8h0m.2-.6h0m0 2.7h0m.1-4h0m.1 1.6h0m.1 5.3h0m0-6.4h0m.1 4.8h0m0-.4h0m.1-3.6h0m.1 2.1h0m0-1.5h0m0-.2h0m.1 1h0m0-1.4h0m0 5.1h0m0-8.5h0m.1 2.2h0m0 3.9h0m.1-1.1h0m0-4.4h0m.1 6.2h0m.1 1.9h0m0-9.7h0m.1 1.9h0m.1 2.5h0m.4-3.4h0m.1 3.1h0m0-.7h0m0 .4h0m.1-.5h0m0 4.5h0m.2-2.7h0m0-.8h0m.1 3.7h0m0 .6h0m.1-3.2h0m.1-4.3h0m.3 4.5h0m0-3.1h0m.1-.5h0m0-.3h0m.1 1.8h0m.2 6.2h0m.4 1h0m.1-2.6h0m0-2.1h0m0-.5h0m.3 1h0m0-.4h0m0-2.5h0m.1 4.7h0m0-4.6h0m0 .1h0m.2 6h0m.1-5h0m0 .5h0m.1-1.4h0m.1 .1h0m.1 6.6h0m0-10.4h0m0 4.7h0m0-2.2h0m.2 .2h0m.1 4.9h0m0-2.5h0m.1 .4h0m0-6h0m.1 9h0m0-7.5h0m.3 1.6h0m0 2.6h0m.2 2.5h0m0-2.2h0m0-2.3h0m.1 4.2h0m0-3h0m0-1.1h0m0-.2h0m.2 2.8h0m.2-2.6h0m0-.3h0m.2 7.2h0m.1-2.2h0m.2 .7h0m.1-1.8h0m0-3.9h0m.1 .7h0m0 .3h0m0 2.4h0m0-4.1h0m0 6.8h0m.2-.4h0m.1-5.5h0m.1 2.5h0m.1-3.5h0m.1 .5h0m.1-.2h0m.1 4.6h0m0-.7h0m.1 2.9h0m0-4.3h0m.1 0h0m0 1.5h0m0-.8h0m.1-1.2h0m0-1.9h0m0 3.9h0m.2 .1h0m0-1.3h0m.1-1.8h0m0-3.4h0m0 2.4h0m.1 7.9h0m.1-.9h0m0-2.4h0m.1 3.3h0m0-7.2h0m0 4.2h0m.1 1.1h0m.2-2.9h0m.1-1.3h0m0 1.7h0m.1-.8h0m0-2.5h0m0 5.2h0m.1-2.8h0m.1 5h0m.1-1.8h0m.4-5.9h0m.1 4.7h0m.1 .7h0m.1-4.8h0m0 3.4h0m.1-3.7h0m.1-2.6h0m0-.7h0m0 6.3h0m.2-1.5h0m.1 2.4h0m.1-6h0m0 3h0m.1-4.2h0m0 6.9h0m0-1.1h0m.1 5.2h0m0-3.4h0m.2-.2h0m0-2.9h0m.1-1.3h0m0 4.6h0m.1-1.7h0m.1-1.9h0m0 1.7h0m0-1.9h0m.3-2.3h0m0 5.7h0m.1-2.4h0m.2-2.3h0m.1 2.9h0m.1-3.9h0m0 4.9h0m0-3.7h0m.1 2.2h0m.2-.9h0m.1 3.4h0m.1-4.6h0m0 5.8h0m0-5.8h0m.1 2.8h0m0-.7h0m.2-2.7h0m0 7h0m.2-5.6h0m0 1.1h0m0 2.3h0m0-3.5h0m.1 2.2h0m0-5h0m.2 6.3h0m0-5.4h0m0 .4h0m0 2.7h0m0 2.7h0m.2-1.6h0m.1 3.3h0m0-1.5h0m.1-.3h0m0-2.5h0m.2 4.7h0m0-4.8h0m.2 2.3h0m0-3.6h0m.1 .9h0m0 3.2h0m.2-2.2h0m.1 .1h0m.2 2h0m0-.7h0m0-.3h0m.1 2.3h0m0 .6h0m.1-3.7h0m0 5.1h0m.1-5.8h0m.1-.9h0m0 3.2h0m0-2.2h0m0 3.1h0m.1-3.6h0m0-3.8h0m.1 4.2h0m.2 1.5h0m.1-.1h0m0 3.6h0m.1-1.7h0m.1-1.1h0m.1 .8h0m.1-1.8h0m0-3h0m0 6.9h0m.1-1.9h0m0-2h0m.1 3.4h0m.1-.6h0m0-3.7h0m.1-.2h0m.1 .7h0m0 3.5h0m.1-4h0m0-.8h0m.1 3.4h0m.1-1.3h0m.1 .8h0m.1 0h0m0 .7h0m0-2.4h0m.1 3.1h0m.3-6.5h0m.1 2.8h0m.1 2.3h0m.1-6.3h0m.1 5.2h0m.1 5.7h0m0-8.1h0m.1 1h0m0 1.9h0m0-.3h0m0 1.7h0m.1 1.5h0m0-.3h0m0-8.4h0m.1 7.2h0m0-2h0m.2-4.4h0m0 6.4h0m.1-1.6h0m0 .9h0m.3 2.3h0m.1-5.3h0m.1-.3h0m.1 2h0m0-.1h0m0-2.2h0m.1-.3h0m.1-3.4h0m0 3.2h0m.2-.5h0m0 3.7h0m.1 1.6h0m0-6.8h0m.1 5.4h0m.2-4.3h0m0 1.5h0m.1 2.3h0m0-2.9h0m.1-3.8h0m.1 .8h0m0 4.7h0m0-.6h0m.2 4.4h0m.1-2.3h0m.2-2h0m0-1.4h0m0-1.2h0m.2 1.8h0m.1-4.5h0m.2 5.1h0m0-4.1h0m.1 4.3h0m0-1.8h0m0-1.4h0m0-1.5h0m.1 3.6h0m0-.8h0m.2-.7h0m0-1.4h0m.1-3.1h0m0 1.9h0m0 2.5h0m.1-.2h0m.1-4.1h0m.1-.4h0m0 .8h0m.1 2.4h0m0 2.3h0m0-.4h0m.1-2.4h0m.1 2.9h0m0-2.4h0m.2-6h0m0 4.4h0m.2-1.4h0m.2 4.4h0m0-6.1h0m.2 4.3h0m.1-1.2h0m.1-.3h0m0 .3h0m0 1.5h0m0-2.9h0m0-3.7h0m.1 6.1h0m0-3h0m.2 4.9h0m0-3.6h0m.1 2.4h0m.1-5.1h0m.3 5h0m.1-2.5h0m.1 1.4h0m0 3.4h0m.1-3h0m.1 .3h0m.2-1.6h0m0 2.6h0m.1 4.2h0m0-1.8h0m0-1.3h0m.1-2.7h0m.1 2.7h0m0-3.1h0m0 3.1h0m.3-1h0m.1-1.2h0m.2 2.7h0m0 4.7h0m.1-6.5h0m.2 4.1h0m0-2.4h0m.1 8.3h0m.2-4.7h0m0 .2h0m.1 1.8h0m0-.3h0m.1 2.3h0m0-.1h0m.3-1.4h0m0 1.9h0m.2-.9h0m0 1.2h0m.2 4.4h0m.1-1.4h0m0 .9h0m0-2.1h0m.1-2.4h0m.1 5.3h0m.1 2.5h0m0-6.4h0m.3 8.7h0m.3 3h0m0-.9h0m.1 5.6h0m0-9.2h0m.2 1.8h0m0 .5h0m.1 1.6h0m0 2h0m0 1.1h0m.1 .8h0m.1-3.2h0m0-.4h0m.1 1h0m.1 5.1h0m.1-7.3h0m.1 7.4h0m0-1.9h0m0 .2h0m0 1.2h0m.1 4.5h0m0-2.4h0m0-1.4h0m0-3.8h0m.1 3.7h0m0-1.6h0m.1 4h0m.1-1.6h0m0-3.9h0m.1-1.4h0m.1 3.9h0m0-.4h0m.1 1.2h0m0 .8h0m.1-.5h0m.1-2.2h0m0 4.3h0m0 1.1h0m.1-4.4h0m.1 3h0m0-2.6h0m0 3.7h0m0-3.4h0m.3 1.3h0m.1-.1h0m.1-3.6h0m.1 3.2h0m0 3.5h0m0-2.3h0m.2-3.2h0m0-4.9h0m0 4.9h0m.1 1.7h0m0-1.7h0m.1-4.3h0m.1 1.3h0m.1-1.1h0m.1-.8h0m.1-3h0m0 7h0m.1-7.5h0m0 1.8h0m.1 3.8h0m0-4.3h0m.1-2.6h0m0 3.7h0m0-3.5h0m.2 6.6h0m0-2.3h0m.1-5.2h0m0 .3h0m.1-1.9h0m0 .3h0m0-1.2h0m0 5.4h0m.1-.2h0m0-7.3h0m.1 .6h0m.2-1.1h0m.1 .3h0m0-4.8h0m0 5.5h0m.1-3.1h0m0-3.3h0m.1 5h0m0 0h0m.2-2.5h0m.3 2.3h0m0-7.9h0m0 0h0m0-2.3h0m.2 3.7h0m.1-1.7h0m0-.9h0m0-2.7h0m.3 2h0m0-.4h0m.1 2.6h0m0-2.6h0m.1 .5h0m.2-3.4h0m.1 .7h0m0 4.7h0m0-.2h0m0-3.7h0m.1 1.8h0m0-2h0m.2-2.6h0m.1 5.9h0m0-4.2h0m0 3.4h0m.1-2.6h0m.1 0h0m.1 2.3h0m0 3h0m0-4.8h0m0 2.1h0m.1-3.8h0m.1 .1h0m0-2.1h0m.6 .6h0m0 6.3h0m0-.5h0m.2-1.9h0m.1-1.9h0m.1-.8h0m0 2.5h0m.1-2.5h0m0 3.2h0m.1-4.9h0m.1 4.2h0m.1 .4h0m.2 .4h0m.1-.9h0m.4-2.7h0m.1 3.6h0m.2-1.7h0m.1 4.5h0m0-3.5h0m.1-.3h0m0-.5h0m.1 5h0m.1 0h0m0-2.3h0m.2-1.2h0m.1 3.7h0m0-2.5h0m.2-3.2h0m.1 9h0m0-1.7h0m.1-2.6h0m0-1.7h0m.1 1.3h0m0-1.3h0m0-2.3h0m.1 4.9h0m0 1h0m.1-5.6h0m.1 7.9h0m0-6.5h0m0-1.1h0m.1 2.7h0m0 2.2h0m.1-1.8h0m0 1.9h0m0-6.5h0m.1 3.5h0m0 1.5h0m.2-.7h0m0-.2h0m.1-1.3h0m.1 2h0m0 2.8h0m.1-1.3h0m0 2.1h0m.2 1h0m0-4.2h0m0 2h0m.1-.8h0m.1-2h0m0-.7h0m0 2.1h0m0 1.6h0m.1-3h0m0 3.8h0m0-5.9h0m0 5h0m.1-4.1h0m0 5.6h0m0-4.7h0m.1 1h0m0 1.5h0m.1-3h0m.1 1.5h0m.1 1.1h0m0 .5h0m.1-1.5h0m.1 .9h0m0 2.4h0m.1-.2h0m0-1.3h0m.1 2.6h0m.2 2h0m0-7.1h0m0 3.6h0m.1-6.5h0m0 4.5h0m.2-1.5h0m.1 .1h0m.1 1.8h0m0 1.1h0m.1 3.1h0m0-1.3h0m.2 .7h0m0 .2h0m0 .3h0m.1-4.4h0m0 5.5h0m0-9.1h0m.1 6.2h0m0-3.2h0m.1 .3h0m0-.3h0m0 1.3h0m.1 .2h0m0-.8h0m0-1.9h0m.2 .4h0m0 1.3h0m.1 4.2h0m0-1.5h0m0-2.5h0m.1-2.8h0m.1-.7h0m.1 5.1h0m.1-2.3h0m0 2.3h0m.2 .8h0m0-2.6h0m.1-1.2h0m0 .8h0m.1 6.3h0m0-8.7h0m.1 8.3h0m.2-8.1h0m0-.9h0m.1-1.7h0m.1 8.9h0m.1-2.5h0m.1-1.6h0m0-.9h0m.1 2.3h0m.2-4.1h0m0 3.9h0m0-1.1h0m.1 .1h0m0-2h0m.2 .5h0m0 5.3h0m0-6.1h0m.1 4.6h0m0-.2h0m.1-.5h0m0-1.3h0m.2-2.3h0m.3-.1h0m0 5.3h0m.1-3.6h0m0-2.9h0m.1 .3h0m0 1.9h0m.1 2.3h0m0-3.4h0m0 2.1h0m.1 2.9h0m0 2.3h0m0-7.1h0m.1-1.8h0m0-2h0m0 1.6h0m.1 2.2h0m.1 1.5h0m0-.8h0m0-1.2h0m.1 4.7h0m0-3.4h0m.1 1.3h0m0-2.7h0m.1 .2h0m0 7h0m.2-1.4h0m.2-4.1h0m0-1.4h0m.2 3.5h0m.1-2.4h0m0 .3h0m.1 1.4h0m.1 .2h0m0-2.5h0m0-2.1h0m.1 4.5h0m.2-2.9h0m.1 .8h0m.1 2h0m.1 0h0m.1 1h0m0-2.8h0m0-1.1h0m0 2.3h0m.1 3.8h0m0-4.7h0m.3 .5h0m.3 .7h0m.1-3.8h0m0 4.9h0m0-1.3h0m.1-1.2h0m.1-3.4h0m.3 6.5h0m0-3.2h0m.1 5.2h0m0-2.9h0m.1-1h0m0 2.6h0m.2-4.7h0m0 .7h0m0 2.6h0m.1-2.2h0m0 2.1h0m.1-1.1h0m.1-.1h0m.1-4.1h0m0 5.8h0m0-3.7h0m0-1.6h0m.3 2.7h0m.1-1.3h0m.1-3.6h0m.1 7.9h0m.2 .1h0m0-4.4h0m0 1.4h0m0-3.8h0m.2 5.3h0m.1-1.6h0m0-1.5h0m.3 7.1h0m.1-9h0m0 3.4h0m0 2.4h0m.1-.7h0m0-.3h0m0-4.6h0m0 5.6h0m.1-5.6h0m.1 4.9h0m.1-2.7h0m0 2.1h0m0-.8h0m0-2.6h0m.2 2.7h0m0 1.3h0" stroke="#9fb8e2" stroke-opacity="0.45" stroke-width="1.4" stroke-linecap="round" fill="none"/>
<path d="M284.2 62.3L284.9 62.2L285.5 62.2L286.2 62.2L286.9 62.2L287.5 62.2L288.2 62.2L288.9 62.2L289.6 62.3L290.2 62.4L290.9 62.7L291.6 63.0L292.2 63.3L292.9 63.6L293.6 63.9L294.2 64.1L294.9 64.2L295.6 64.1L296.3 63.7L296.9 63.1L297.6 62.3L298.3 61.5L298.9 60.7L299.6 59.7L300.3 58.4L300.9 57.6L301.6 58.0L302.3 59.4L302.9 61.2L303.6 64.1L304.3 67.9L305.0 73.7L305.6 78.4L306.3 81.4L307.0 83.1L307.6 82.2L308.3 79.5L309.0 76.1L309.6 71.3L310.3 66.9L311.0 63.2L311.7 60.8L312.3 59.1L313.0 58.0L313.7 57.6L314.3 57.9L315.0 58.6L315.7 59.5L316.3 60.4L317.0 61.2L317.7 62.1L318.3 63.0L319.0 63.6L319.7 63.7L320.4 63.6L321.0 63.6L321.7 63.5L322.4 63.3L323.0 63.2L323.7 63.1L324.4 63.0L325.0 62.9L325.7 62.8L326.4 62.8L327.0 62.8L327.7 62.8L328.4 62.8L329.1 62.8L329.7 62.8L330.4 62.8L331.1 62.8L331.7 62.8L332.4 62.8L333.1 62.8L333.7 62.8L334.4 62.8L335.1 62.8L335.8 62.8L336.4 62.8L337.1 62.8L337.8 62.8L338.4 62.8L339.1 62.7L339.8 62.6L340.4 62.4L341.1 62.2L341.8 62.1L342.4 61.9L343.1 61.9L343.8 61.9L344.5 62.2L345.1 62.5L345.8 62.9L346.5 63.4L347.1 63.9L347.8 64.4L348.5 65.1L349.1 65.8L349.8 66.3L350.5 66.3L351.2 65.7L351.8 64.7L352.5 63.3L353.2 60.6L353.8 57.3L354.5 54.3L355.2 51.3L355.8 48.5L356.5 47.2L357.2 48.3L357.8 51.3L358.5 56.7L359.2 65.8L359.9 81.3L360.5 100.0L361.2 121.0L361.9 141.0L362.5 141.0L363.2 121.0L363.9 100.0L364.5 81.3L365.2 65.8L365.9 56.7L366.6 51.3L367.2 48.3L367.9 47.2L368.6 48.5L369.2 51.3L369.9 54.3L370.6 57.3L371.2 60.6L371.9 63.3L372.6 64.7L373.2 65.7L373.9 66.3L374.6 66.3L375.3 65.8L375.9 65.1L376.6 64.4L377.3 63.9L377.9 63.4L378.6 62.9L379.3 62.5L379.9 62.2L380.6 61.9L381.3 61.9L382.0 61.9L382.6 62.1L383.3 62.2L384.0 62.4L384.6 62.6L385.3 62.7L386.0 62.8L386.6 62.8L387.3 62.8L388.0 62.8L388.6 62.8L389.3 62.8L390.0 62.8L390.7 62.8L391.3 62.8L392.0 62.8L392.7 62.8L393.3 62.8L394.0 62.8L394.7 62.8L395.3 62.8L396.0 62.8L396.7 62.8L397.4 62.8L398.0 62.8L398.7 62.8L399.4 62.9L400.0 63.0L400.7 63.1L401.4 63.2L402.0 63.3L402.7 63.5L403.4 63.6L404.0 63.6L404.7 63.7L405.4 63.6L406.1 63.0L406.7 62.1L407.4 61.2L408.1 60.4L408.7 59.5L409.4 58.6L410.1 57.9L410.7 57.6L411.4 58.0L412.1 59.1L412.7 60.8L413.4 63.2L414.1 66.9L414.8 71.3L415.4 76.1L416.1 79.5L416.8 82.2L417.4 83.1L418.1 81.4L418.8 78.4L419.4 73.7L420.1 67.9L420.8 64.1L421.5 61.2L422.1 59.4L422.8 58.0L423.5 57.6L424.1 58.4L424.8 59.7L425.5 60.7L426.1 61.5L426.8 62.3L427.5 63.1L428.1 63.7L428.8 64.1L429.5 64.2L430.2 64.1L430.8 63.9L431.5 63.6L432.2 63.3L432.8 63.0L433.5 62.7L434.2 62.4L434.8 62.3L435.5 62.2L436.2 62.2L436.9 62.2L437.5 62.2L438.2 62.2L438.9 62.2L439.5 62.2L440.2 62.3L440.2 69.3L439.5 69.2L438.9 69.2L438.2 69.2L437.5 69.2L436.9 69.2L436.2 69.2L435.5 69.2L434.8 69.3L434.2 69.4L433.5 69.7L432.8 70.0L432.2 70.3L431.5 70.6L430.8 70.9L430.2 71.1L429.5 71.2L428.8 71.1L428.1 70.7L427.5 70.1L426.8 69.3L426.1 68.5L425.5 67.7L424.8 66.7L424.1 65.4L423.5 64.6L422.8 65.0L422.1 66.4L421.5 68.2L420.8 71.1L420.1 74.9L419.4 80.7L418.8 85.4L418.1 88.4L417.4 90.1L416.8 89.2L416.1 86.5L415.4 83.1L414.8 78.3L414.1 73.9L413.4 70.2L412.7 67.8L412.1 66.1L411.4 65.0L410.7 64.6L410.1 64.9L409.4 65.6L408.7 66.5L408.1 67.4L407.4 68.2L406.7 69.1L406.1 70.0L405.4 70.6L404.7 70.7L404.0 70.7L403.4 70.6L402.7 70.5L402.0 70.3L401.4 70.2L400.7 70.1L400.0 70.0L399.4 69.9L398.7 69.8L398.0 69.8L397.4 69.8L396.7 69.8L396.0 69.8L395.3 69.8L394.7 69.8L394.0 69.8L393.3 69.8L392.7 69.8L392.0 69.8L391.3 69.8L390.7 69.8L390.0 69.8L389.3 69.8L388.6 69.8L388.0 69.8L387.3 69.8L386.6 69.8L386.0 69.8L385.3 69.7L384.6 69.6L384.0 69.4L383.3 69.2L382.6 69.1L382.0 68.9L381.3 68.9L380.6 68.9L379.9 69.2L379.3 69.5L378.6 70.0L377.9 70.4L377.3 70.9L376.6 71.4L375.9 72.1L375.3 72.8L374.6 73.3L373.9 73.3L373.2 72.7L372.6 71.7L371.9 70.3L371.2 67.6L370.6 64.3L369.9 61.3L369.2 58.3L368.6 55.5L367.9 54.3L367.2 55.3L366.6 58.3L365.9 63.7L365.2 72.8L364.5 88.3L363.9 107.0L363.2 128.0L362.5 148.0L361.9 148.0L361.2 128.0L360.5 107.0L359.9 88.3L359.2 72.8L358.5 63.7L357.8 58.3L357.2 55.3L356.5 54.3L355.8 55.5L355.2 58.3L354.5 61.3L353.8 64.3L353.2 67.6L352.5 70.3L351.8 71.7L351.2 72.7L350.5 73.3L349.8 73.3L349.1 72.8L348.5 72.1L347.8 71.4L347.1 70.9L346.5 70.4L345.8 70.0L345.1 69.5L344.5 69.2L343.8 68.9L343.1 68.9L342.4 68.9L341.8 69.1L341.1 69.2L340.4 69.4L339.8 69.6L339.1 69.7L338.4 69.8L337.8 69.8L337.1 69.8L336.4 69.8L335.8 69.8L335.1 69.8L334.4 69.8L333.7 69.8L333.1 69.8L332.4 69.8L331.7 69.8L331.1 69.8L330.4 69.8L329.7 69.8L329.1 69.8L328.4 69.8L327.7 69.8L327.0 69.8L326.4 69.8L325.7 69.8L325.0 69.9L324.4 70.0L323.7 70.1L323.0 70.2L322.4 70.3L321.7 70.5L321.0 70.6L320.4 70.7L319.7 70.7L319.0 70.6L318.3 70.0L317.7 69.1L317.0 68.2L316.3 67.4L315.7 66.5L315.0 65.6L314.3 64.9L313.7 64.6L313.0 65.0L312.3 66.1L311.7 67.8L311.0 70.2L310.3 73.9L309.6 78.3L309.0 83.1L308.3 86.5L307.6 89.2L307.0 90.1L306.3 88.4L305.6 85.4L305.0 80.7L304.3 74.9L303.6 71.1L302.9 68.2L302.3 66.4L301.6 65.0L300.9 64.6L300.3 65.4L299.6 66.7L298.9 67.7L298.3 68.5L297.6 69.3L296.9 70.1L296.3 70.7L295.6 71.1L294.9 71.2L294.2 71.1L293.6 70.9L292.9 70.6L292.2 70.3L291.6 70.0L290.9 69.7L290.2 69.4L289.6 69.3L288.9 69.2L288.2 69.2L287.5 69.2L286.9 69.2L286.2 69.2L285.5 69.2L284.9 69.2L284.2 69.3Z" fill="#f5a2a2" fill-opacity="0.5" filter="url(#blur)"/>
<path d="M284.3 67.5h0m.1-3.4h0m.1 4.4h0m0-4.4h0m.1 5.2h0m0-1.5h0m.1-7.3h0m0 9.1h0m.1-6h0m.1 4.5h0m0-2.9h0m0-.6h0m.1-.9h0m0 2.5h0m.1 1.2h0m.3-6.9h0m0 3.7h0m.1 0h0m0 3.7h0m.1 .7h0m.1-4.2h0m0-2.3h0m.1 5.2h0m.1 1.4h0m0-5.2h0m.1 3.8h0m.1-2.6h0m0 3.8h0m.1-2.6h0m0 1.9h0m.1-1h0m0 1.1h0m.1-2.7h0m.1 1.5h0m.1-1.5h0m0 1.9h0m.2-4.1h0m.1 4.6h0m0-1h0m.1-3.4h0m0 2.3h0m.2 2.1h0m0-.4h0m0 .6h0m.3-4.6h0m.2 2.6h0m.1 .1h0m.1 3.8h0m0-6.1h0m0 0h0m0-.9h0m.1 5.9h0m0-5.8h0m.4 4.5h0m0-2.5h0m.1 .6h0m.1-1.7h0m.1 5.6h0m.1-3.7h0m0-1.6h0m.1-2.9h0m0 5.2h0m0-1.7h0m0-2.3h0m.1 4.4h0m.1-.2h0m.3-.8h0m0-3.3h0m.1 4.2h0m0-1.5h0m.1 1.6h0m.1-1.4h0m0-3.9h0m.1 2.6h0m.1 .4h0m.1 2.4h0m.1 .6h0m0-3.9h0m.1-.7h0m0 4.9h0m.1-1.1h0m.1 .4h0m0-.3h0m0-2.9h0m.1 4.9h0m.1-5.4h0m0-1.1h0m.1 7.2h0m.1-3.6h0m.1 .8h0m.1 2h0m.1-7.2h0m0 1.1h0m0 5h0m.2 0h0m.1-1.7h0m.1-2.7h0m0 .5h0m0 2.1h0m.2 3.5h0m0 1.3h0m0-3.9h0m.1-1.7h0m.1-.6h0m0-1.6h0m.1 3.9h0m0 .2h0m.1-3.2h0m0 3.3h0m.1-2.4h0m.1 7.6h0m.1-8.5h0m0 2.3h0m.1-.1h0m.1-1.4h0m0 2.1h0m.1 4h0m.1-2.5h0m.1-5.3h0m.1 4.6h0m0-.3h0m0 1.2h0m0-.8h0m.1 1.1h0m0 1.3h0m.2-2.7h0m.1 1.7h0m0 1.2h0m0-5.7h0m.1 3.4h0m.1-1.3h0m0-3.2h0m0-.3h0m0 5.6h0m.1-2.3h0m.5 1.2h0m.2 1.8h0m0-2.4h0m0 2h0m.1 .4h0m0-1.7h0m.1-.7h0m0-.9h0m0 1.8h0m.1-2.7h0m.1 3.5h0m.3 0h0m.1-2.8h0m.1 3.9h0m0-3.4h0m.1-.6h0m0 3.1h0m.3 .2h0m0-1.7h0m.1-1.2h0m.1 2.5h0m0-.3h0m.1 2.8h0m0-4.4h0m0-1.2h0m0-.3h0m0 2.4h0m.1-1.7h0m.1-2.4h0m0 1.7h0m.1 1.5h0m.3 0h0m0-1.2h0m0 .4h0m0 1.4h0m.2-3.2h0m0 2.5h0m.1-1.9h0m0 2.6h0m.1-3.9h0m0 2.5h0m0 1.7h0m.1 .2h0m.1-6h0m.1 2.9h0m0-1.3h0m.1 3.5h0m0-.6h0m.1 .4h0m.1-2.1h0m0 1.4h0m.1-1.3h0m.1 3.1h0m0-7.4h0m0 7.6h0m.1-7.7h0m0 4h0m.3-2.8h0m0 3.2h0m.1-2.7h0m.1 1.5h0m0 3.8h0m0-.5h0m.2 .4h0m0-5h0m0 2.6h0m.1-.5h0m0-.5h0m.2 .4h0m.1-.3h0m.2 1.6h0m0 .5h0m.2-3.7h0m.1 .2h0m0 .6h0m0-1.6h0m0 .3h0m0 .2h0m.1-2.3h0m.3 7.7h0m.1-6.3h0m0 6.6h0m.1-7.9h0m.1 .2h0m0 2.1h0m.1-.4h0m0-1.9h0m0 2.7h0m.1-.7h0m0-2.4h0m.2 7.4h0m0-6.5h0m0-.3h0m.1-.9h0m0 .8h0m.1 5h0m.1-7h0m.1 5.6h0m0 3h0m0-6.1h0m.1 .4h0m0-.6h0m0-.8h0m.1-2.3h0m0 1.5h0m.1 5.8h0m0-4.6h0m0 .1h0m.1 1.5h0m0-.4h0m.1 .5h0m0-2.1h0m.1 4h0m.2 3.7h0m0-5.1h0m.1 2h0m.1-1.1h0m.1-2.4h0m0 4.6h0m0-3h0m.1 3.2h0m0-.3h0m0-.8h0m0 .7h0m.1-3.2h0m.2 4.3h0m.1-2.1h0m0 .1h0m0 .5h0m.3-1.9h0m0-.8h0m.1 1.3h0m0-1.2h0m.2 3.4h0m0-2.7h0m.1 1.2h0m0 2.1h0m.2-2.2h0m0 5.5h0m.1 .4h0m0 .6h0m0-3.6h0m.2 5h0m0-5h0m.2 6.1h0m0-2h0m.1-.6h0m.1-.6h0m0 3.2h0m.1-2.8h0m.1 .5h0m.1 2.9h0m.2 5.5h0m0-6.3h0m0 3.6h0m.1 1h0m0-1.6h0m.1 5.7h0m0-6.9h0m0 5.4h0m.1-3.3h0m.2 2.5h0m0 2.4h0m.3-1h0m.1 .6h0m.1 1.6h0m0-.5h0m.1-.1h0m.1 2.7h0m0 .8h0m0-1.8h0m.1 4.3h0m0-1.5h0m.1-3.9h0m.1 .3h0m.1 2.4h0m.2-1h0m.1 2.3h0m.1 1.5h0m.1-3h0m.2 1.7h0m0-.1h0m.1 .4h0m0-5.6h0m.1 3.8h0m0-.9h0m.1 2.6h0m.1-1.9h0m.3 2.3h0m0-1.1h0m.2-1.1h0m.1-.4h0m0-4.6h0m.1 5.7h0m0-4.1h0m0 1.4h0m0 .3h0m.1-4.8h0m.1 5h0m0 3.4h0m.1-7h0m0 .9h0m0 5.4h0m.1-5.7h0m.1 3.4h0m.1-2.5h0m0-3.6h0m.1 5.3h0m.1-2.7h0m.1-4.3h0m.2 1.9h0m.2-.2h0m.1-4.3h0m0-.4h0m0-.3h0m.1-2.9h0m0 8.9h0m0-.1h0m.1-2.7h0m0 2.4h0m.1-2.8h0m.2-.3h0m.1-5.2h0m0-1h0m.1 3.2h0m.2-7.4h0m0 1h0m0 5.5h0m.1-1.2h0m0-.3h0m.1-2.4h0m.1-.9h0m.1 .8h0m0-.7h0m.3-1.3h0m.1-1.2h0m.1 2.8h0m.1-2.2h0m0 2.1h0m.1-2.3h0m0 .7h0m.3-1.7h0m0 4.6h0m.1-1.1h0m0-7.6h0m0 3.3h0m0 2.7h0m.1-3.4h0m.1-4.1h0m0 2.1h0m.1 5.2h0m.1-.9h0m.1 2.4h0m.1-2.1h0m0-4.9h0m.1-1.5h0m.1 3.2h0m.1 3.7h0m0 1.8h0m0-5.8h0m.1 .5h0m.1 .1h0m0-.4h0m.1-4.8h0m0 5.4h0m0-1.4h0m0-.9h0m.1-2.3h0m.2 3.9h0m.1 .1h0m0-1.9h0m.1 1.5h0m0 2.5h0m.1-2.3h0m.2 .3h0m0 1.6h0m0 1.6h0m.1-1.6h0m0-.6h0m0-3.2h0m.2-.9h0m.1 8.2h0m0-5.6h0m.3 1.1h0m.1-.7h0m.1-1.1h0m0 3.6h0m.2 3.4h0m.2-5.9h0m0 1.3h0m.1-1.9h0m0 .6h0m0 1.9h0m.1-2.3h0m0 2.2h0m.1-1.5h0m0 3h0m0-2.6h0m.1 0h0m0 2.4h0m.2-1.5h0m0-3.9h0m.1 5.2h0m0 1.9h0m.1-6.4h0m0-1.4h0m.2 4.7h0m0-.5h0m.1-.5h0m.1 2.6h0m0-2.9h0m0 2.8h0m.2 4.9h0m0-4.3h0m0-1.7h0m.1-3.7h0m.1 5h0m.2 1.5h0m0-1.7h0m0 .4h0m0 1.1h0m.1-4.3h0m.1 2.1h0m0 3h0m.4-1.7h0m.3-1.5h0m0 5.8h0m0 .4h0m0-3.3h0m.1 .9h0m.2 1.3h0m0-1.2h0m.1 2.3h0m0-7.9h0m.3 4.2h0m0-.9h0m0 3.1h0m.1-2.8h0m0 6.6h0m.1-3.4h0m.2-2.5h0m.1 2.5h0m0-1.5h0m.2 5.2h0m.1-4.5h0m0-1.6h0m0-.5h0m0 1.5h0m0 1.6h0m.2-4.9h0m0 5.4h0m.1-.8h0m.1-1h0m.1-1h0m.1-.7h0m0 3.2h0m.1-3.4h0m.1 .2h0m0 4.4h0m.1-4.4h0m.1 3.4h0m.1-5.6h0m.1-.8h0m0 7.3h0m.1 2.1h0m0-3.1h0m0-1.3h0m0-.5h0m.1 .7h0m.1-4.4h0m0 2.7h0m.1-.8h0m.2 6h0m.1-5.6h0m0 2h0m.1-1.2h0m0 .3h0m.2-3.2h0m.1 6.4h0m.1-4.7h0m0 6.1h0m0-5.8h0m0 1h0m.1-3.6h0m.1 3.8h0m0-1.3h0m0 3h0m.1-2.5h0m.1 .4h0m0 .6h0m.1 .2h0m.1-1.2h0m.4 2.8h0m.1-2.4h0m.1-2.8h0m.1 .7h0m0 .9h0m.1 5.4h0m.2-1.4h0m.1 .7h0m0-2.3h0m.1-.8h0m0-2.1h0m.1 2.8h0m0 .2h0m0-3.8h0m0 3.2h0m0 3.5h0m.3-5.1h0m0 3.2h0m0-2.7h0m.2-2.3h0m.1 1h0m0 3.1h0m0-1.1h0m.1 1.5h0m0-4.8h0m.1 .9h0m.1 1.5h0m.1-1.3h0m.1-1.2h0m0 3.8h0m0-2.5h0m.2-2.3h0m0 4.4h0m0-3.7h0m.3 1.7h0m0 3.7h0m0-2.1h0m0 3h0m0-4.9h0m.1 3.7h0m.1-1.9h0m0 .3h0m0-5.2h0m.1 3h0m0 1.3h0m.1-3.9h0m0 6h0m.1-3.7h0m.2 .8h0m.2 .4h0m.1-1.5h0m0 4h0m.1-6h0m0 2.9h0m0-.2h0m.1 .3h0m0 .5h0m0-4.6h0m.1 5.1h0m.2 2.2h0m0-1.2h0m.1 4.4h0m.1-6.5h0m0 2.3h0m.1-.8h0m.1 1.4h0m.1-3.3h0m.2-3.4h0m0 7.1h0m.1-4.6h0m0 .8h0m0-.1h0m0 1.2h0m.2-1.7h0m0-.8h0m.2 4h0m.1 4.4h0m.1-6.6h0m.2 2.5h0m0-4.6h0m.2 4.6h0m.1-1.9h0m.1 6h0m.1-6.2h0m.1 .4h0m0-2.9h0m.1 2.3h0m0-.3h0m.1 .3h0m.1 5.7h0m.1-7.1h0m0 1.8h0m.2 0h0m0-.7h0m0 2.6h0m0-.8h0m.1-.6h0m0-.9h0m.1-2.1h0m.2 2.3h0m.4-.6h0m0 3.3h0m.1-6.5h0m.1 1.3h0m.1 1.2h0m.1 5h0m0-4.4h0m.2 4.4h0m.1-2h0m.2 .7h0m.1 1.2h0m.1-3.5h0m0-3.6h0m.4 5.9h0m.1-4h0m0 2.4h0m0 .6h0m0-1.3h0m0-.5h0m.1 3h0m.2 1.3h0m.4-1.5h0m0 3.8h0m.2 0h0m.1-3.3h0m.1-2.4h0m0 1.1h0m0 .6h0m.1 .7h0m.1 .2h0m.1-1.7h0m.2-.3h0m.1 .6h0m.1-1h0m0-1.6h0m0 5.1h0m.2 .9h0m.1-7.4h0m.1 6.1h0m0-1h0m0-2.9h0m.1 1.7h0m0-3.3h0m.1 2.7h0m0-1.9h0m.1 1.3h0m.2-.8h0m.1 2.4h0m.1 .4h0m0-2h0m.1 3h0m.1-5.6h0m0 3.3h0m0 .6h0m.1-4.7h0m0 5.3h0m.1 .4h0m.1-3.2h0m.1 1.9h0m.2-.5h0m.1-.5h0m0-1.3h0m.1 2.7h0m.1-3.9h0m.1 4.8h0m.1-2.3h0m.1 1.3h0m.1-4.2h0m0 5.2h0m.1-7h0m.1 7.2h0m0-3.1h0m0 .3h0m0-.8h0m.1 .2h0m0 4.5h0m0 .2h0m.1-3h0m0-.9h0m.1 2.9h0m.1-3.2h0m.1-2.6h0m.1 3h0m0-1.2h0m0 3.3h0m0-6.8h0m.1 5.1h0m.1-.4h0m0-.1h0m.1 1.2h0m0-.9h0m0-.5h0m.1 3.2h0m0-4.3h0m0 .4h0m.3 2.2h0m.2 2.1h0m0-2.1h0m.1 1.7h0m0-7.2h0m.1 1.6h0m.1 2.5h0m.1 1.2h0m.2-3.2h0m0 .8h0m.1-2.9h0m0 9.2h0m0-6h0m.2 4.8h0m.1-8.4h0m0 9.8h0m.1-2.1h0m.1-.4h0m.1-1.4h0m0-.2h0m.1-3.2h0m.2 2.8h0m0-.7h0m.1-.5h0m0 4.5h0m0-6.7h0m.1 6h0m0-4.6h0m0 0h0m.1 4.3h0m.1-5.4h0m0 1.2h0m.2 .3h0m.1 .4h0m0-.1h0m.1-.9h0m0-1.3h0m.1 8h0m0-9.9h0m.1 3.9h0m.1-.4h0m.1 2.4h0m.1-.3h0m0-2.4h0m.3 3.5h0m0 .9h0m.1-4.9h0m.2 1.1h0m0 1.6h0m0-5.4h0m.2 3.7h0m0-.5h0m.1 1.2h0m0-.3h0m.1 2h0m0-5.4h0m.1 7.3h0m.2-2.4h0m.2 3.2h0m.1-3.8h0m.1-1.4h0m0 .4h0m.1-1.5h0m0 3.1h0m.1-2.6h0m0 3h0m.1 .2h0m0-1.8h0m.1-2.4h0m0 7.1h0m0-2.8h0m.1 0h0m.1-3.1h0m0 2.1h0m0-1.8h0m.1-2.3h0m0 2.2h0m.3 .7h0m.1 2.1h0m0 1.7h0m0-2.7h0m.1-4.8h0m.2 6.7h0m0-2.6h0m0 2.3h0m0-3.5h0m.1-1.4h0m0 5.7h0m0-3.2h0m.2 .7h0m0 .6h0m0 1.4h0m.1-3.3h0m.1 .1h0m0-3h0m.1 5.5h0m.1-1.8h0m0 2h0m.1-.4h0m0-6.4h0m.1 2.2h0m.1 3.6h0m.1-.1h0m0-.9h0m0-3.4h0m.2 1.2h0m0 2.7h0m.1 3h0m.1-2h0m0-5h0m0 6.3h0m.1-1.4h0m.1 4.1h0m.2-5.8h0m0 1h0m.1-4.1h0m.1 9.3h0m.1-2.1h0m0 0h0m0-4.5h0m.1 1.9h0m0 3.3h0m0-4.6h0m.1 6.8h0m.1-8.5h0m0 .9h0m0 6.2h0m.1-1.7h0m0 1.8h0m0-4.3h0m.3-.5h0m0 3.3h0m0-6h0m.1 4.8h0m0-2.5h0m.1 .5h0m0 .3h0m.1-.2h0m0 1.7h0m.3 1.5h0m0 .9h0m.1-2h0m0-2.4h0m0-2.5h0m0 3.5h0m0 1.2h0m0 .1h0m.1-.5h0m0 3.1h0m.1-.5h0m0-3.4h0m0-1.6h0m.1-.9h0m0 2h0m0 2.8h0m0-4.1h0m.4 2.2h0m.1 1.6h0m.1-5.1h0m.1 4.8h0m0-3.3h0m.1 4h0m.2-.5h0m.1-.1h0m0 .1h0m.1 .2h0m0-.7h0m.1-2.4h0m0 2.9h0m0 2.3h0m.1 3.2h0m0-7.1h0m0-2.3h0m.1 7.2h0m.1-3.7h0m0-3.7h0m0 6h0m.1-.4h0m0-3.2h0m0 3.9h0m.1 1.4h0m.1-2.3h0m0 4.9h0m.1-2.8h0m0-4.4h0m.1 2.8h0m.3-.1h0m.2-.7h0m0 1h0m.1 .7h0m0-1.3h0m0 2.9h0m0-4.3h0m.1 1.1h0m0-1.9h0m0 2.6h0m.2-5.4h0m0 4.2h0m.1 1.1h0m.1-3.9h0m0 4.9h0m.1-6.3h0m.1-1.6h0m.2 7.7h0m0 .7h0m.2-4.7h0m0-.9h0m0 .2h0m0 4.1h0m0 .7h0m.1 1.9h0m.1-6.2h0m.1 2.6h0m.1 3.1h0m0-5.9h0m0-1.3h0m0 1.1h0m.1 2h0m.1-3.4h0m0 6.9h0m.1-6h0m.1-1.3h0m.3 1.2h0m0 1.3h0m0-.7h0m.1-5.2h0m.2 4.5h0m0 3.2h0m0-5.4h0m.2 3.3h0m.1-3.9h0m.1 .7h0m.1-1.9h0m0 2.9h0m0-5h0m.2-.7h0m.1 .2h0m0-.1h0m0-.2h0m.3 .6h0m0-.9h0m.1-1.8h0m0 2.2h0m0 2.2h0m.1 1.5h0m0-6.1h0m.2-2.9h0m0 2.7h0m0 .5h0m0 1.6h0m.1-1.4h0m.1-3.1h0m0-3.1h0m.1 2.6h0m.1 .9h0m0-3.3h0m0 .1h0m.1 8.6h0m0-3.9h0m.2 2.6h0m0 .3h0m.1-5.9h0m.1 .2h0m0 .2h0m.3-3.5h0m0 1.8h0m.1-1h0m.1-.6h0m0 2.8h0m.1-7.4h0m0 2.8h0m0 2.5h0m.1-1.3h0m0 2.6h0m0-2.4h0m.1-.2h0m0 2.8h0m0 .3h0m.1-7.3h0m0 7.3h0m.1-5.3h0m.1 5.3h0m0-.6h0m.1-2.9h0m.1 5.2h0m0-8.1h0m0 2.9h0m0 1.9h0m0-4.8h0m0 6.4h0m.1-5.1h0m0 3.4h0m.2-1h0m.1 2.2h0m0 1.5h0m.1-.5h0m0-3.2h0m.1 2.7h0m0 1.2h0m.1 .8h0m0 3.4h0m.1-7.5h0m.1 3.2h0m.1 4.9h0m.1-2.6h0m0-1.2h0m.1 2.6h0m0-.6h0m.2 1.3h0m0-1.3h0m.1 1.7h0m0-1.6h0m0-.2h0m.1 2.9h0m.1 .3h0m0 1.5h0m0-2.8h0m0-2h0m0 3.5h0m.1 0h0m0-.9h0m.1 5.2h0m0-1.2h0m0-2.1h0m.1 2.7h0m0-1.6h0m.1 3.7h0m.1-3.2h0m.1 4.3h0m.1 4.8h0m0 3h0m.3-.8h0m0 4.6h0m.1 2.2h0m0 2.7h0m.3 9.2h0m.2-2.1h0m0 4.1h0m.1 .8h0m.1 6.3h0m0 .6h0m.1-1.4h0m0 2.5h0m0-2.8h0m.1 1.3h0m0 3.3h0m.1-1.4h0m0 4.4h0m.2 7.8h0m.1-2.1h0m0-1.1h0m0 7.1h0m.1-2.3h0m.1 4.7h0m.1 3.5h0m0 4.5h0m.1-.1h0m0 1.1h0m.2 .7h0m0 7.2h0m.1-3.8h0m0-.3h0m.1 6.1h0m.1 3.8h0m0 1.5h0m0-2.1h0m.1 2.6h0m0 .2h0m0 1.1h0m.2 .9h0m0-4.4h0m0 4.3h0m0 1.6h0m.1-.7h0m.2-6.5h0m.1 .5h0m0-2.6h0m.1-1.6h0m0 1.4h0m0 2.8h0m.1-8.6h0m0 4.5h0m.2-10.7h0m0 4.3h0m.1-3.6h0m0-1.1h0m0 1.6h0m0-4.8h0m0 3.9h0m0-2.4h0m0-1.3h0m0-3h0m.1 .6h0m0-2.4h0m.2-4.4h0m0 4.8h0m.1-6.6h0m0 .3h0m0-2.3h0m.2-3.4h0m0-3.2h0m0 7.2h0m0-5.9h0m.1-.6h0m0 1.6h0m0-2.6h0m0-1.6h0m0 .9h0m.1-1.4h0m0 1h0m0-3.5h0m0 .3h0m0 2.5h0m.1-8.1h0m0 5.5h0m.1-6.8h0m0 3.7h0m0 .3h0m0-3.5h0m.1 .6h0m.3-6.9h0m0-2.5h0m.1-6.2h0m0 6.1h0m0-8.5h0m0 1.7h0m.1-.6h0m0-.5h0m.1 2.2h0m0-1.4h0m0-2.7h0m.1-3.8h0m.1-.3h0m0 1.2h0m0 .4h0m0-6.7h0m.1 6.7h0m0-3.4h0m.1 2.1h0m0-7.5h0m.1 3.6h0m.2-5.5h0m.2-4.7h0m0 8.7h0m.1-3.5h0m0 2h0m.1-2h0m.1-1h0m0-1.5h0m0-5.6h0m0 3.4h0m.2-3.1h0m.1-3.8h0m.2 2.3h0m0 .7h0m.2-4.3h0m0 2.1h0m.1 2.9h0m.1 2h0m0-3.3h0m0-2.1h0m.2 1.5h0m0-3.7h0m.2-3.3h0m0 1.9h0m.1 7.5h0m.1-4.4h0m0 1.4h0m0-4.9h0m.1 .8h0m0 1.4h0m.1 .2h0m.1 .6h0m.1 1.9h0m0-2.9h0m0 2.2h0m0-1.4h0m.1-3.9h0m.2 3.6h0m0-2.6h0m0 1.4h0m0 2.7h0m.1-3.6h0m.2 3.4h0m.1-1.7h0m0 1.3h0m0-2.9h0m.1 1.5h0m0 1.5h0m0 1.9h0m0-6.8h0m0 5.5h0m.1-.5h0m.1 .6h0m.1 1.5h0m.1 2.6h0m0-2.1h0m.2 2.4h0m.1-4.8h0m0-2.4h0m.1 7.1h0m0-1.7h0m.1-1.3h0m0 4.4h0m.1-.2h0m.1 .2h0m0-5.3h0m0 2.4h0m0 3.8h0m.1-1.9h0m0 .1h0m.2 .8h0m0 4.9h0m.1-4.3h0m.1-.3h0m0-.8h0m.2 1.7h0m.1 2.3h0m0-.4h0m0-2.9h0m0-3h0m0 7.2h0m.1-4.5h0m.1 .3h0m0 3.3h0m0 5.3h0m.1-6.4h0m0 2.6h0m.1 .6h0m0-2.6h0m.1 3.7h0m.1 1.2h0m0-4.9h0m.1-.1h0m0-.1h0m0 1.6h0m0 1h0m0-1.3h0m.1-1.3h0m0-1.1h0m.2 3.4h0m0-.6h0m.1 3.6h0m.1-3.7h0m0-1.6h0m.1 .2h0m0 4.3h0m.1 5.2h0m.1-2.1h0m0-2.8h0m.2 3.8h0m.1-.7h0m.2-6.1h0m.1 8.4h0m.2 .3h0m0-3.5h0m0 .1h0m.1-4.8h0m0 3.8h0m.1-.3h0m0 .5h0m.1 4.7h0m.2 1.3h0m0-.8h0m.1-3.2h0m.1 3.8h0m0-6.2h0m0 2.1h0m.1-1.3h0m0-.3h0m0 1.5h0m.2 4.5h0m.1-2h0m.1-2.5h0m0 4.2h0m0-3h0m0 2.5h0m0-4.6h0m.1 .4h0m0 .8h0m.1-1h0m.1-1.3h0m.1 2.4h0m0-.6h0m.1-1.7h0m0 1.7h0m.1 .3h0m.2 .6h0m0 .6h0m0 .7h0m.3-3.4h0m0 .8h0m.2 1.4h0m.2-3.9h0m.1-.5h0m.1 2.6h0m0 2.4h0m0-3h0m.1 .7h0m0-1.4h0m0 1.3h0m0-2.4h0m.1 5.3h0m0-2.8h0m.3 .4h0m.2-1.8h0m.1 2.5h0m0 0h0m0 1.6h0m0-3.4h0m.1-4.4h0m.1 .2h0m0 5.2h0m.1-1.1h0m.1-1.1h0m0 5h0m.1-5.7h0m.2-1.9h0m0 3.7h0m.1 4.1h0m.2-.9h0m.2-5.2h0m.1 2.2h0m0-.6h0m0-1.9h0m.1 1.4h0m.1 .9h0m.1-.1h0m.1 3.6h0m.2-7.7h0m0-.2h0m.1 4.3h0m0-2.1h0m.1 3h0m0-3.7h0m.1 1.6h0m0 1.1h0m.1 .3h0m0-4.2h0m.2 2.5h0m.1-1.4h0m0 3.3h0m0-7.1h0m.1 4.1h0m0 4.1h0m0-6.5h0m0 6.1h0m.1-5.7h0m0 .3h0m.1-2.2h0m0 5.3h0m0 3.2h0m.1-5.2h0m0-.8h0m.1 1.3h0m0 .5h0m0-4h0m.1 1.5h0m.1 4.8h0m0-3.1h0m.2 3.9h0m0-2.4h0m.1 3.7h0m0-2.1h0m.1 .5h0m.1 1.8h0m0-4.4h0m.1-.8h0m.1 2h0m0 2.4h0m.1-7.6h0m.1 4.2h0m.1 .7h0m0 .2h0m.1-3.7h0m.3 5.1h0m0-2.8h0m0 3.4h0m0-5.8h0m.1 4.7h0m0 .3h0m0-3.8h0m.1 .3h0m0-1.1h0m.2 .6h0m.1-3.1h0m.1 6.8h0m.2-3.2h0m0-.7h0m0 .9h0m.2-2.5h0m.1 1h0m0 1.4h0m0-2.2h0m.2 4.6h0m0-1.9h0m.2 2h0m.2-4.5h0m0 5.1h0m.2 .2h0m0-3.1h0m.3 1h0m.1 3h0m.1-2.9h0m.2-2.9h0m0 3h0m0 3.3h0m.1-2.6h0m.1 2.3h0m0-.5h0m.1-4.4h0m.3 1h0m0-2.1h0m.4 5.4h0m.1-1.4h0m.2 2.2h0m0-5h0m0 4.6h0m.1 .1h0m0 .5h0m0-4.3h0m.1 .6h0m0 .4h0m0-2.8h0m.1 2.9h0m.2 2.1h0m.1-7.1h0m.1 6.8h0m0-.2h0m.1-4.6h0m0 3h0m.2-.6h0m0 4.6h0m0-2h0m.2 .4h0m0-3.2h0m0 1.7h0m.1-1.9h0m.3 3h0m0-1.2h0m.2-1.5h0m0 3.9h0m.2-.7h0m.1-5h0m0 4h0m0-6.5h0m.1 3.2h0m0 .3h0m.1 2h0m.2-1.3h0m.1 .7h0m.2 3.7h0m.2-2.2h0m.1-.3h0m0-2.9h0m0 2.6h0m.1 4.7h0m0-5.8h0m.1 1.2h0m0-2h0m.1 .7h0m0 3.9h0m0 .5h0m.3-2.1h0m0 .8h0m.1-2.2h0m0 1.3h0m.1-1h0m0-1.8h0m.1 2h0m0 .5h0m0-2.6h0m.1-1h0m.1 .9h0m.1 5.3h0m0-4.2h0m0 1h0m.1-3.1h0m0 7.7h0m.2-5.1h0m0-.2h0m0-1h0m.1 2h0m.1 0h0m0-1.2h0m0 4h0m.1-4h0m.1 4.3h0m.1-1.9h0m0-4.2h0m0 1.1h0m.1-.1h0m0-1.8h0m.1 1.8h0m0 .2h0m.1 2.7h0m.2-.2h0m0-5.2h0m0 5.4h0m0-4.3h0m0 1.4h0m.1-3h0m.2 5.8h0m0-4.6h0m0 4.2h0m0-.6h0m0-5.2h0m0 .3h0m.1 3.5h0m.1-3.1h0m.1 2.3h0m0 1.5h0m.1-2.7h0m0 5.6h0m0 0h0m.1 2.3h0m.1-6h0m0 2.7h0m0-1h0m.1-1.2h0m.1 .2h0m0-1.6h0m.1 1.6h0m.1-3.1h0m.2 7.4h0m.1-6.7h0m.1-.2h0m0 3.4h0m.1-4.6h0m.1 4.3h0m.2-5.7h0m.1 1.7h0m0 2.3h0m0 1h0m0-1.3h0m.3 .7h0m.1 .6h0m.1-.8h0m.1-2.4h0m.3 3.7h0m.1 1.7h0m0-7.2h0m.2 4.5h0m0-1h0m0 1.8h0m.1 1.2h0m.1-3.9h0m.1-.6h0m0 4.2h0m.1 .6h0m0-2.2h0m.1-.4h0m0 2h0m.1-3.5h0m0 1.7h0m.1 2.9h0m0-1.9h0m0-.6h0m.1-.1h0m.5 1.7h0m.1-3h0m.2 4h0m0-3.5h0m.1 1.4h0m0 2.2h0m.2-.6h0m0 2.1h0m.1 .1h0m.1 0h0m0-4.5h0m.1 1h0m.1 2.7h0m.1-1.4h0m0 1.2h0m.2-4.9h0m0 4.3h0m0-2.4h0m.1-.8h0m.1-.5h0m0-1.2h0m.1 3.3h0m.1 3.5h0m0-5.4h0m0-.2h0m.2 5.9h0m.1-4.1h0m0-1.1h0m.1 1.8h0m0-.9h0m.2 3.4h0m0-1.2h0m.1 .6h0m0-6.8h0m0 3.9h0m0 .9h0m.1 1.3h0m0-2.4h0m0-.1h0m.1 .9h0m0 2.2h0m.3-.5h0m0 1.4h0m0 .6h0m0-5.2h0m0 2.3h0m.1-2.6h0m.1 1.5h0m0 .3h0m.1 .2h0m0-.8h0m.1-4.6h0m0 3.1h0m.1 3.3h0m.1-4.8h0m0 4.1h0m0 2.2h0m.1 1.6h0m0-.5h0m.1-5.8h0m.1-.3h0m.1 4.3h0m.1-2h0m.1 2.9h0m.1-3h0m0-2.7h0m.1 1.4h0m.1 1.9h0m0 1.3h0m0-2.6h0m.1-.6h0m.1 2h0m.1-.6h0m.2-2.5h0m.1 1.9h0m0 3.4h0m0-6.1h0m.2 3.2h0m.2 4.5h0m.1-7.5h0m.1-.8h0m0 2.7h0m.1 2.4h0m.1 1.3h0m.1-1.5h0m.2 3.9h0m0-6.4h0m.3 .1h0m.1 3.9h0m0-6.8h0m.1 2.1h0m.2-1.7h0m0 2.4h0m0-1.7h0m.1 2.2h0m.1 3.5h0m0-2.8h0m.2 3.6h0m.1-.9h0m.1-2.1h0m.2 2.6h0m0 .7h0m0-5h0m0 2h0m0-.1h0m.1-.8h0m0 3.9h0m0-3.8h0m.1 2.6h0m0-3.2h0m.2 .2h0m0 .7h0m0-3.7h0m.1 3.5h0m.1-1h0m0 .9h0m0-.4h0m.1-2.3h0m.1-2h0m.2 4.5h0m.3 1.2h0m0 .1h0m0-.3h0m.1-3.5h0m.3 4.6h0m.1 1.8h0m0 2.1h0m.1-4.6h0m0-.6h0m0 .8h0m.2-.4h0m0-.4h0m.2 1.8h0m0-1.9h0m0 2.5h0m0-1.8h0m.1-6.1h0m0 4.2h0m0 .7h0m0 .7h0m.1-.4h0m0-3.2h0m0 5.2h0m.1-2.1h0m.1 .7h0m0-3.5h0m.1 1.3h0m.1 2.9h0m.2 2.8h0m0-6.5h0m.2-1.6h0m0 4.5h0m.1-5h0m.1 7h0m.1-.3h0m.1 .9h0m0-5.9h0m0 2.5h0m.1-2.9h0m0 6.7h0m.3-6.9h0m.1 1.2h0m0-3.8h0m0 2.7h0m.2 4.6h0m0-7.6h0m0 3.7h0m0-2.8h0m.1 5.3h0m0-3.3h0m.1-1.5h0m0-.3h0m.1 .6h0m0 4.9h0m0-2.2h0m.1 1.7h0m.4-3.9h0m.1 5.1h0m0-8.5h0m0 6h0m.1-4h0m.2 4h0m.1-7.9h0m0 .8h0m.1 8.7h0m.1-.3h0m0-5.1h0m.3 4.6h0m0-3.5h0m0-3h0m.1 4.8h0m.1-1.2h0m.1-.3h0m0-1.4h0m.1-2.1h0m0 .7h0m0 4.8h0m.1-.4h0m0-3.5h0m0-2.7h0m.1 4.4h0m.1 .8h0m0-1.4h0m0-.2h0m.2-1.2h0m.1 1h0m0-1.1h0m0 2.2h0m.1-4.1h0m.2 .4h0m0 .9h0m.2 .7h0m0 1.8h0m0 1.4h0m.1-3.7h0m0 1.3h0m0 .2h0m.1-4.4h0m0 4.3h0m.3-3.9h0m.1-1.4h0m0 1.9h0m0 3.7h0m0-1.8h0m.1 1.8h0m0-1.1h0m0-.2h0m.1 4.2h0m.1-3h0m0-.8h0m0-.9h0m.2 1h0m.1 .7h0m0 1.1h0m.1-3.5h0m0 4.3h0m.1 .3h0m.1-1.2h0m0 .7h0m.2 2.9h0m.2-4.4h0m0-.9h0m0 2.4h0m.3 1h0m0-.4h0m0-1.6h0m.1 4.7h0m0-2.6h0m0-2.5h0m.1 5.3h0m.1-3.4h0m0 6.6h0m.2-6.2h0m.1-1.4h0m0 2.3h0m.1 1.3h0m.3 5.3h0m.1 .3h0m0 .4h0m.1-3.4h0m0 1.9h0m.1-2.4h0m.2 4.2h0m0-2.1h0m.1 1.5h0m.2 2.5h0m.1 1.8h0m0-3h0m0 7.5h0m0-10.5h0m.2 7.4h0m0-2.4h0m0-3.7h0m.1 9.3h0m.1-.4h0m.2-3.6h0m.2 6.6h0m0-2.6h0m0 .3h0m0-1.3h0m0 1.3h0m.1-1.8h0m.1 3.7h0m.1-.9h0m.1 3.4h0m0-4.4h0m.1 6.1h0m.1-5.3h0m.1 3.1h0m0-5h0m.1 3.2h0m.1 .3h0m.1 2.7h0m0-2.2h0m.1-1.2h0m.1 1.1h0m0-3h0m0 4.4h0m.1-4.7h0m0 8.4h0m0-2.2h0m.1-.8h0m0 .3h0m.1-1.8h0m.2 2.2h0m0 2.2h0m.2-2.3h0m0 2.1h0m.2-3.3h0m.1-.8h0m.1 5.5h0m0-7.4h0m0 4h0m.1-1.9h0m0-.9h0m0 .6h0m.2-3.4h0m.1-1h0m.1 7.9h0m0-10.6h0m0 6h0m.1-1.5h0m.2 0h0m0 1.8h0m0-2.1h0m.1-.7h0m0-.6h0m0-2.1h0m.1 .8h0m0 2.7h0m.1-5.6h0m0 1.5h0m.1 2.6h0m0-3h0m.1-1.4h0m.1 1.9h0m.1-1.8h0m.1 4.4h0m.1-1.8h0m.1-3.8h0m0-.9h0m0-2.8h0m.1 5.3h0m0-1.4h0m0-2h0m0 2.1h0m.1-.5h0m.1-6.2h0m.1 1.8h0m.1-3.7h0m0 6h0m0-5h0m.3-1.7h0m0-2.8h0m.3 2.9h0m.1-2.9h0m0 .4h0m0 2.6h0m.3 2.2h0m.1-1.9h0m.1-.4h0m0-1h0m.3-3.1h0m0-.9h0m.1 5h0m.2-4.5h0m.1-.4h0m.2-.9h0m0 4.6h0m0 .4h0m.1-5.1h0m0 2.1h0m0-.1h0m.1-4.2h0m.1 5.3h0m.2 1.7h0m0-2h0m0-5.4h0m0 4.1h0m.1-2h0m.1 0h0m.1-3.9h0m0 7h0m0-2.9h0m0 .3h0m.2 1.3h0m.2-1h0m.1 4.8h0m.3-4.9h0m0 4.4h0m.1-5.6h0m0 2.7h0m0 4h0m0-2.9h0m.1-2.9h0m.1 4.2h0m.1 3h0m0-4.5h0m0-.4h0m0 .2h0m.1-.6h0m.3-1.9h0m.2 .8h0m0-.3h0m.2 3.6h0m0-4.9h0m.2 8.5h0m0-.3h0m.1-.5h0m.1-2.2h0m.1-.8h0m.1 3.1h0m.2-2.4h0m0-2.2h0m.1 1.4h0m.1 .2h0m0-1.7h0m0-.8h0m0 5.5h0m.1-1.5h0m0 3.6h0m0-1.8h0m.1 .2h0m.1-1h0m0 3.1h0m0-3.6h0m.1-.4h0m.1 3h0m0-1.5h0m0-3.2h0m.1 .3h0m.2 4h0m0-.9h0m.1-.7h0m.1-1.8h0m.1-.6h0m0 3.4h0m.2 0h0m0-1.6h0m.1 2.1h0m0-2.2h0m0 4.3h0m.1-1.5h0m0-6.1h0m0 4h0m.2 3h0m0-5.1h0m.1 2.4h0m.3 .4h0m.2-.3h0m.1-4.6h0m0 6.1h0m.1 1.3h0m.1-3.8h0m.1-.2h0m.1 4.1h0m.2-1.3h0m.1-5.1h0m.2 2.2h0m.1-1.8h0m0 4.3h0m.1-.8h0m0 2.9h0m.1 2.2h0m.1-7.3h0m0 5.2h0m.3-2.7h0m0 2h0m.2-2h0m.1 1.3h0m.1-6h0m0 4.4h0m.1 1.5h0m0-1.4h0m0 4.8h0m0-6.2h0m.1 3.3h0m.1-4.7h0m.1 5.6h0m.1-6.4h0m0 8.2h0m0-2.9h0m.2-4.6h0m0 1.1h0m.2 2.8h0m.1-3.6h0m.1 4.4h0m.1-4.7h0m.2-1.5h0m0-.3h0m.1 6.6h0m0-6.2h0m.1 .1h0m0 2.8h0m.1-.1h0m0-.5h0m0 2.3h0m.1-.5h0m.3-2.2h0m0-1h0m.1 2.3h0m0 4.4h0m0-5.8h0m.1 6.3h0m0-8.1h0m.1 1.3h0m0 4.2h0m.1-4.7h0m.2 0h0m0 3.3h0m.1 2.6h0m0-6.5h0m.2 2.2h0m.2 1.6h0m0-3.4h0m0 3.9h0m0-4.5h0m0-1.4h0m.1 5.8h0m0-.2h0m.1-3.4h0m0 1.7h0m.1 4.8h0m0-7.5h0m.1 4h0m0-4.2h0m.1 6.4h0m.1-4.4h0m0-.2h0m0-.3h0m0 3.7h0m0 1.5h0m0-5.5h0m.2-1h0m0 2.2h0m.3-.9h0m.1 3h0m0 .9h0m0-5.8h0m0-.8h0m0-1h0m.2 3.8h0m0 3.3h0m0 2.9h0m.1-6h0m.1-2.1h0m0 1.2h0m.1-.1h0m.1 4.6h0m0-5.9h0m.1-.6h0m.2-1.6h0m.6 1.8h0m0-.8h0m0 8.8h0m0-1h0m.1-.2h0m0-5.7h0m.1 2.2h0m0 2.6h0m0-.2h0m.2-3.8h0m0 5.7h0m0-5.4h0m.1 0h0m.1-4h0m.1 5h0m.1 4.8h0m0-8.3h0m.1 3.1h0m0 .7h0m0 1.5h0m0-2.3h0m0 2.4h0m.2-.7h0m.1 .2h0m0-4.3h0m.1 1.1h0m0 5.1h0m0-3.3h0m0 1.4h0m.1-1.9h0m.1-.7h0m0 1.9h0m.1-3.8h0m.1 .1h0m.1 5.6h0m0-2.5h0m.2 2.8h0m0 1.2h0m.1-.4h0m0-.5h0m0-.3h0m.1-3.9h0m.1 .4h0m0 2.6h0m0 .7h0m.1-3h0m.1-.7h0m0-2.2h0m.1 2.9h0m0-.6h0m.1 5.1h0m.1-3h0m.1-2.1h0m0 3h0m.1 .3h0m0-7.4h0m0 2.8h0m.1 2.5h0m0-2.5h0m0 1.8h0m0 2.4h0m.1-1.3h0m.3 .2h0m0-3h0m0 3h0m.1-.3h0m0 2.9h0" stroke="#f5a2a2" stroke-opacity="0.45" stroke-width="1.4" stroke-linecap="round" fill="none"/>
<path d="M284.2 65.8L284.6 65.8L285.0 65.7L285.4 65.7L285.8 65.7L286.2 65.7L286.6 65.7L287.0 65.7L287.4 65.7L287.8 65.7L288.2 65.7L288.6 65.7L289.0 65.7L289.4 65.7L289.8 65.8L290.2 65.9L290.6 66.1L291.0 66.2L291.4 66.4L291.8 66.6L292.2 66.8L292.6 67.0L293.0 67.2L293.4 67.3L293.8 67.5L294.2 67.6L294.6 67.6L295.0 67.7L295.4 67.6L295.8 67.5L296.2 67.2L296.6 66.9L297.0 66.5L297.4 66.0L297.8 65.5L298.2 65.0L298.6 64.5L299.0 64.1L299.4 63.5L299.8 62.7L300.2 62.0L300.6 61.4L301.0 61.1L301.4 61.3L301.8 61.9L302.2 62.8L302.6 63.9L303.0 65.1L303.4 66.7L303.9 68.8L304.3 71.2L304.7 74.4L305.1 78.1L305.5 81.1L305.9 83.0L306.3 84.8L306.7 86.1L307.1 86.6L307.1 86.6L307.2 86.6L307.5 86.1L307.9 84.9L308.3 83.1L308.7 81.3L309.1 79.0L309.5 76.1L309.9 73.2L310.3 70.6L310.7 68.4L311.1 66.3L311.5 64.7L311.9 63.7L312.3 62.7L312.7 61.9L313.1 61.4L313.5 61.1L313.9 61.1L314.3 61.4L314.7 61.7L315.1 62.2L315.5 62.7L315.9 63.3L316.3 63.8L316.7 64.3L317.1 64.8L317.5 65.3L317.9 65.9L318.3 66.5L318.7 66.9L319.1 67.2L319.5 67.2L319.9 67.2L320.3 67.2L320.7 67.1L321.1 67.1L321.5 67.0L321.9 66.9L322.3 66.8L322.7 66.8L323.1 66.7L323.5 66.6L323.9 66.5L324.3 66.5L324.7 66.4L325.1 66.4L325.5 66.3L325.9 66.3L326.3 66.3L326.7 66.3L327.1 66.3L327.5 66.3L327.9 66.3L328.3 66.3L328.7 66.3L329.1 66.3L329.5 66.3L329.9 66.3L330.3 66.3L330.7 66.3L331.1 66.3L331.5 66.3L331.9 66.3L332.3 66.3L332.7 66.3L333.1 66.3L333.5 66.3L333.9 66.3L334.3 66.3L334.7 66.3L335.1 66.3L335.5 66.3L335.9 66.3L336.3 66.3L336.7 66.3L337.1 66.3L337.5 66.3L337.9 66.3L338.3 66.3L338.7 66.3L339.1 66.2L339.5 66.2L339.9 66.1L340.3 66.0L340.7 65.8L341.1 65.7L341.5 65.6L341.9 65.5L342.3 65.4L342.8 65.4L343.2 65.4L343.6 65.4L344.0 65.5L344.4 65.6L344.8 65.8L345.2 66.0L345.6 66.3L346.0 66.6L346.4 66.8L346.8 67.1L347.2 67.4L347.6 67.7L348.0 68.0L348.4 68.5L348.8 68.9L349.2 69.3L349.6 69.6L350.0 69.8L350.4 69.9L350.8 69.6L351.2 69.2L351.6 68.6L352.0 68.0L352.4 67.1L352.8 65.8L353.2 64.0L353.6 62.0L354.0 60.2L354.4 58.4L354.8 56.5L355.2 54.7L355.6 53.1L356.0 51.4L356.4 50.7L356.8 51.1L357.2 51.8L357.6 53.4L358.0 55.7L358.4 58.9L358.8 63.5L359.2 69.4L359.6 78.2L360.0 88.3L360.4 99.6L360.8 111.6L361.2 124.6L361.6 136.4L362.0 147.6L362.2 149.6L362.4 147.6L362.8 136.4L363.2 124.6L363.6 111.6L364.0 99.6L364.4 88.3L364.8 78.2L365.2 69.4L365.6 63.5L366.0 58.9L366.4 55.7L366.8 53.4L367.2 51.8L367.6 51.1L368.0 50.7L368.4 51.4L368.8 53.1L369.2 54.7L369.6 56.5L370.0 58.4L370.4 60.2L370.8 62.0L371.2 64.0L371.6 65.8L372.0 67.1L372.4 68.0L372.8 68.6L373.2 69.2L373.6 69.6L374.0 69.9L374.4 69.8L374.8 69.6L375.2 69.3L375.6 68.9L376.0 68.5L376.4 68.0L376.8 67.7L377.2 67.4L377.6 67.1L378.0 66.8L378.4 66.6L378.8 66.3L379.2 66.0L379.6 65.8L380.0 65.6L380.4 65.5L380.8 65.4L381.2 65.4L381.6 65.4L382.1 65.4L382.5 65.5L382.9 65.6L383.3 65.7L383.7 65.8L384.1 66.0L384.5 66.1L384.9 66.2L385.3 66.2L385.7 66.3L386.1 66.3L386.5 66.3L386.9 66.3L387.3 66.3L387.7 66.3L388.1 66.3L388.5 66.3L388.9 66.3L389.3 66.3L389.7 66.3L390.1 66.3L390.5 66.3L390.9 66.3L391.3 66.3L391.7 66.3L392.1 66.3L392.5 66.3L392.9 66.3L393.3 66.3L393.7 66.3L394.1 66.3L394.5 66.3L394.9 66.3L395.3 66.3L395.7 66.3L396.1 66.3L396.5 66.3L396.9 66.3L397.3 66.3L397.7 66.3L398.1 66.3L398.5 66.3L398.9 66.3L399.3 66.4L399.7 66.4L400.1 66.5L400.5 66.5L400.9 66.6L401.3 66.7L401.7 66.8L402.1 66.8L402.5 66.9L402.9 67.0L403.3 67.1L403.7 67.1L404.1 67.2L404.5 67.2L404.9 67.2L405.3 67.2L405.7 66.9L406.1 66.5L406.5 65.9L406.9 65.3L407.3 64.8L407.7 64.3L408.1 63.8L408.5 63.3L408.9 62.7L409.3 62.2L409.7 61.7L410.1 61.4L410.5 61.1L410.9 61.1L411.3 61.4L411.7 61.9L412.1 62.7L412.5 63.7L412.9 64.7L413.3 66.3L413.7 68.4L414.1 70.6L414.5 73.2L414.9 76.1L415.3 79.0L415.7 81.3L416.1 83.1L416.5 84.9L416.9 86.1L417.2 86.6L417.3 86.6L417.3 86.6L417.7 86.1L418.1 84.8L418.5 83.0L418.9 81.1L419.3 78.1L419.7 74.4L420.1 71.2L420.5 68.8L421.0 66.7L421.4 65.1L421.8 63.9L422.2 62.8L422.6 61.9L423.0 61.3L423.4 61.1L423.8 61.4L424.2 62.0L424.6 62.7L425.0 63.5L425.4 64.1L425.8 64.5L426.2 65.0L426.6 65.5L427.0 66.0L427.4 66.5L427.8 66.9L428.2 67.2L428.6 67.5L429.0 67.6L429.4 67.7L429.8 67.6L430.2 67.6L430.6 67.5L431.0 67.3L431.4 67.2L431.8 67.0L432.2 66.8L432.6 66.6L433.0 66.4L433.4 66.2L433.8 66.1L434.2 65.9L434.6 65.8L435.0 65.7L435.4 65.7L435.8 65.7L436.2 65.7L436.6 65.7L437.0 65.7L437.4 65.7L437.8 65.7L438.2 65.7L438.6 65.7L439.0 65.7L439.4 65.7L439.8 65.8L440.2 65.8" stroke="#880707" stroke-width="2.0" fill="none" stroke-linejoin="round"/>
<path d="M284.2 52.0L284.6 51.9L285.0 51.9L285.4 51.9L285.8 51.9L286.2 51.9L286.6 51.9L287.0 51.9L287.4 51.9L287.8 51.8L288.2 51.8L288.6 51.8L289.0 51.8L289.4 51.9L289.8 52.0L290.2 52.1L290.6 52.2L291.0 52.4L291.4 52.6L291.8 52.7L292.2 52.9L292.6 53.1L293.0 53.3L293.4 53.5L293.8 53.6L294.2 53.7L294.6 53.8L295.0 53.8L295.4 53.8L295.8 53.6L296.2 53.4L296.6 53.1L297.0 52.7L297.4 52.3L297.8 51.8L298.2 51.3L298.6 50.7L299.0 50.2L299.4 49.4L299.8 48.4L300.2 47.3L300.6 46.4L301.0 46.0L301.4 46.2L301.8 46.9L302.2 48.0L302.6 49.3L303.0 50.7L303.4 52.9L303.9 55.7L304.3 58.8L304.7 62.7L305.1 67.1L305.5 70.6L305.9 72.9L306.3 74.9L306.7 76.4L307.1 77.0L307.1 77.0L307.2 77.0L307.5 76.5L307.9 75.0L308.3 73.0L308.7 70.9L309.1 68.2L309.5 64.8L309.9 61.2L310.3 58.1L310.7 55.1L311.1 52.3L311.5 50.3L311.9 49.1L312.3 47.9L312.7 47.0L313.1 46.3L313.5 46.0L313.9 46.0L314.3 46.3L314.7 46.9L315.1 47.5L315.5 48.2L315.9 49.0L316.3 49.8L316.7 50.4L317.1 51.0L317.5 51.5L317.9 52.2L318.3 52.7L318.7 53.2L319.1 53.4L319.5 53.5L319.9 53.4L320.3 53.4L320.7 53.3L321.1 53.3L321.5 53.2L321.9 53.1L322.3 53.0L322.7 52.9L323.1 52.8L323.5 52.7L323.9 52.6L324.3 52.5L324.7 52.5L325.1 52.4L325.5 52.4L325.9 52.3L326.3 52.3L326.7 52.3L327.1 52.3L327.5 52.3L327.9 52.3L328.3 52.3L328.7 52.3L329.1 52.3L329.5 52.3L329.9 52.3L330.3 52.3L330.7 52.3L331.1 52.3L331.5 52.4L331.9 52.4L332.3 52.4L332.7 52.4L333.1 52.4L333.5 52.4L333.9 52.4L334.3 52.4L334.7 52.4L335.1 52.4L335.5 52.4L335.9 52.4L336.3 52.4L336.7 52.4L337.1 52.4L337.5 52.4L337.9 52.4L338.3 52.4L338.7 52.4L339.1 52.4L339.5 52.3L339.9 52.2L340.3 52.1L340.7 52.0L341.1 51.9L341.5 51.8L341.9 51.8L342.3 51.7L342.8 51.6L343.2 51.6L343.6 51.6L344.0 51.7L344.4 51.8L344.8 52.0L345.2 52.2L345.6 52.5L346.0 52.7L346.4 53.0L346.8 53.3L347.2 53.5L347.6 53.8L348.0 54.3L348.4 54.8L348.8 55.3L349.2 55.8L349.6 56.3L350.0 56.5L350.4 56.5L350.8 55.9L351.2 54.6L351.6 53.1L352.0 51.5L352.4 50.0L352.8 48.5L353.2 46.9L353.6 45.2L354.0 43.4L354.4 41.5L354.8 39.3L355.2 37.3L355.6 35.9L356.0 34.8L356.4 34.6L356.8 35.3L357.2 36.3L357.6 38.2L358.0 40.6L358.4 44.0L358.8 48.7L359.2 54.2L359.6 61.1L360.0 69.2L360.4 78.7L360.8 89.0L361.2 100.0L361.6 110.3L362.0 120.1L362.2 121.8L362.4 120.1L362.8 110.3L363.2 100.0L363.6 89.0L364.0 78.7L364.4 69.2L364.8 61.1L365.2 54.2L365.6 48.7L366.0 44.0L366.4 40.6L366.8 38.2L367.2 36.3L367.6 35.3L368.0 34.6L368.4 34.8L368.8 35.9L369.2 37.3L369.6 39.3L370.0 41.5L370.4 43.4L370.8 45.2L371.2 46.9L371.6 48.5L372.0 50.0L372.4 51.5L372.8 53.1L373.2 54.6L373.6 55.9L374.0 56.5L374.4 56.5L374.8 56.3L375.2 55.8L375.6 55.3L376.0 54.8L376.4 54.3L376.8 53.8L377.2 53.5L377.6 53.3L378.0 53.0L378.4 52.7L378.8 52.5L379.2 52.2L379.6 52.0L380.0 51.8L380.4 51.7L380.8 51.6L381.2 51.6L381.6 51.6L382.1 51.7L382.5 51.8L382.9 51.8L383.3 51.9L383.7 52.0L384.1 52.1L384.5 52.2L384.9 52.3L385.3 52.4L385.7 52.4L386.1 52.4L386.5 52.4L386.9 52.4L387.3 52.4L387.7 52.4L388.1 52.4L388.5 52.4L388.9 52.4L389.3 52.4L389.7 52.4L390.1 52.4L390.5 52.4L390.9 52.4L391.3 52.4L391.7 52.4L392.1 52.4L392.5 52.4L392.9 52.4L393.3 52.3L393.7 52.3L394.1 52.3L394.5 52.3L394.9 52.3L395.3 52.3L395.7 52.3L396.1 52.3L396.5 52.3L396.9 52.3L397.3 52.3L397.7 52.3L398.1 52.3L398.5 52.3L398.9 52.4L399.3 52.4L399.7 52.5L400.1 52.5L400.5 52.6L400.9 52.7L401.3 52.8L401.7 52.9L402.1 53.0L402.5 53.1L402.9 53.2L403.3 53.3L403.7 53.3L404.1 53.4L404.5 53.4L404.9 53.5L405.3 53.4L405.7 53.2L406.1 52.7L406.5 52.2L406.9 51.5L407.3 51.0L407.7 50.4L408.1 49.8L408.5 49.0L408.9 48.2L409.3 47.5L409.7 46.9L410.1 46.3L410.5 46.0L410.9 46.0L411.3 46.3L411.7 47.0L412.1 47.9L412.5 49.1L412.9 50.3L413.3 52.3L413.7 55.1L414.1 58.1L414.5 61.2L414.9 64.8L415.3 68.2L415.7 70.9L416.1 73.0L416.5 75.0L416.9 76.5L417.2 77.0L417.3 77.0L417.3 77.0L417.7 76.4L418.1 74.9L418.5 72.9L418.9 70.6L419.3 67.1L419.7 62.7L420.1 58.8L420.5 55.7L421.0 52.9L421.4 50.7L421.8 49.3L422.2 48.0L422.6 46.9L423.0 46.2L423.4 46.0L423.8 46.4L424.2 47.3L424.6 48.4L425.0 49.4L425.4 50.2L425.8 50.7L426.2 51.3L426.6 51.8L427.0 52.3L427.4 52.7L427.8 53.1L428.2 53.4L428.6 53.6L429.0 53.8L429.4 53.8L429.8 53.8L430.2 53.7L430.6 53.6L431.0 53.5L431.4 53.3L431.8 53.1L432.2 52.9L432.6 52.7L433.0 52.6L433.4 52.4L433.8 52.2L434.2 52.1L434.6 52.0L435.0 51.9L435.4 51.8L435.8 51.8L436.2 51.8L436.6 51.8L437.0 51.9L437.4 51.9L437.8 51.9L438.2 51.9L438.6 51.9L439.0 51.9L439.4 51.9L439.8 51.9L440.2 52.0" stroke="#0a0a9e" stroke-width="2.0" fill="none" stroke-linejoin="round"/>
</g>
<g clip-path="url(#cc)">
<path d="M523.0 65.2h0m0-.8h0m.1 .3h0m0-2h0m.1-1h0m.1 7.2h0m.1-1.1h0m.2-4.9h0m.1 2.4h0m0-.7h0m0 .8h0m0-1.5h0m.1 2.6h0m.1-3.7h0m.1 1.8h0m.1-3.3h0m0 7h0m.1-.1h0m.2-2h0m0 3h0m.1-.3h0m.1-1.7h0m.1 .5h0m.1-6.4h0m0 6.8h0m.1-2.7h0m.2 1.7h0m.3 1.4h0m0-3.2h0m.6-1.9h0m0-.6h0m0 3.7h0m.2-3.5h0m0 1.7h0m.1 1.7h0m.5-2.6h0m0 3.5h0m.6-4.8h0m.2 6.3h0m.3-.3h0m.1 2.1h0m0-5.5h0m.5 2.6h0m.2-.5h0m0-2.6h0m.7-2.2h0m0 3.5h0m.1 3.5h0m0-7.5h0m.1 6.5h0m.1-3.1h0m.2-.6h0m.1-1.3h0m0 2.4h0m.3-2.3h0m0 .9h0m.1 .9h0m.2 1.2h0m.1-.8h0m0 2.6h0m.2 0h0m.1-2.9h0m0-4h0m0 9h0m.4-4.3h0m.1-1.6h0m.1 3.6h0m.1-1.1h0m.2-3.2h0m.2 5.6h0m.2-5.4h0m0 0h0m.2 .9h0m.1-2.3h0m.1 1h0m.2 1.3h0m0-.6h0m.2 4h0m.1-.9h0m.1-5.4h0m.1 1.8h0m.2-1.4h0m.1-1h0m0 4.8h0m0-6.8h0m.1 7.9h0m.1-6.1h0m.6 7.6h0m.1-4.9h0m.1 2.2h0m.1 2.9h0m0-2h0m0-.1h0m0 .8h0m.2-1.1h0m0 1.2h0m.1-1.7h0m0-2.2h0m.5 5.4h0m0 1.4h0m.3-7.9h0m0 8h0m.1 1.2h0m.1-7.2h0m0 5.9h0m0-3.7h0m.1 1.7h0m.1 1.5h0m.1-4.1h0m.1 4.6h0m.3-6.1h0m0 7.3h0m.2-7h0m.2 .2h0m.2 1.5h0m.5 1.4h0m.2-4.4h0m0-1.7h0m.2-.3h0m.4-3.2h0m.5 2.8h0m.4 7.7h0m0-.2h0m.5 5.4h0m.2-1.4h0m.1-.1h0m.1-.5h0m.1 3.3h0m.1-3.6h0m.2 4.8h0m.3-3.7h0m.2-5.2h0m.1 6.1h0m.1-2.9h0m.1 4.5h0m.1-10.1h0m.1-1.2h0m.1 .5h0m.3-5.8h0m.1 5.9h0m0-8.4h0m.1-1.1h0m0-3.5h0m.3 3.7h0m0-1.8h0m.4 1.6h0m.4 1.8h0m.1-6h0m.1 2.7h0m.2 5.9h0m.2-.9h0m.1-1.6h0m0 7.5h0m.1-1.1h0m.1 2h0m0 .7h0m.3 3.7h0m0 6h0m0-3.2h0m.1 10.7h0m.4 .3h0m0-6.4h0m.1 3.2h0m.1 4.1h0m.1 8h0m.1-6h0m.1 2.1h0m.3-1.9h0m.2-7.6h0m.1-1.2h0m.2-8.5h0m.2-1.7h0m.3 1.3h0m.2-11.5h0m.1-6.2h0m.5-.6h0m0-3h0m0 .7h0m.1 2.2h0m.1-3.5h0m.2 .3h0m0-.2h0m.1 7.5h0m0-3.4h0m.4 4.9h0m.1 1h0m.1 6.9h0m.1-.8h0m0-3.7h0m.1-.6h0m0 4.2h0m.1 3.9h0m0-8.3h0m.2 6.5h0m0-1.4h0m.1 5.6h0m.7 4.1h0m.3-.5h0m0-.8h0m.1 4.8h0m.1-3.3h0m0 5.4h0m.2-8.2h0m0 4.6h0m0-8.9h0m.1 2h0m0-.6h0m.1-.5h0m.1 .3h0m0 2.4h0m.3-2.3h0m0-1h0m0 2.4h0m.3-2.2h0m.3-5.8h0m0-3.6h0m.2 3.9h0m.2 3h0m0 2.9h0m0 0h0m.2-3.3h0m.2-4.4h0m.1 2.5h0m.5 3.5h0m0-3h0m.2 1.2h0m.3-1.4h0m0 .8h0m.2 2.1h0m0 3.2h0m.3 1.2h0m.1-2.3h0m.2 1.6h0m.1-4.7h0m.1 .2h0m0 7h0m0-7.5h0m.2 6.9h0m.1-3.1h0m0-1.8h0m.1 4.9h0m.1-3.2h0m0 .8h0m.1-3.1h0m.2 3h0m0 1h0m0-4.1h0m.1 .9h0m.1-1.3h0m.1 2.6h0m.3 1.7h0m.2-6.6h0m.3 1.3h0m0-4.2h0m.2 4.7h0m.2 4.4h0m.1-3.6h0m.1-2.2h0m0 5.6h0m.2-1.8h0m0-2.7h0m.1 1.1h0m0-2.3h0m.1 2.7h0m0-6.7h0m.1 6.8h0m.3-1.6h0m.1 2.8h0m0-2.4h0m.1-.2h0m.2 2.3h0m0 1.3h0m0-8.2h0m0 5.9h0m.1-.2h0m.4 3.2h0m.1-8h0m.1 7.4h0m.1-2.4h0m.1-.1h0m.4-2.7h0m.3 5.6h0m.1-3.5h0m0 .2h0m.2 1.7h0m0 1.6h0m.4 .5h0m.2-2.8h0m.2 .8h0m0-2.1h0m.3-2.3h0m.2 1.9h0m.1-.8h0m0 4.1h0m.1 2.4h0m0-4.8h0m0-1.8h0m.3 3h0m.1 1.9h0m0-2.1h0m.5-.8h0m0-1.9h0m0 2.9h0m.1-1.6h0m.2 1.5h0m.1 3.8h0m0-7.1h0m.2 4h0m.1-5.9h0m.2 .1h0m.1 5.3h0m.3-.5h0m.1-2.2h0m.1 1.2h0m.1-3.4h0m.1-.2h0m.1 7.5h0m.2 1.3h0m.1-7.2h0m.3-1.6h0m.1 4.4h0m.3 .9h0m0-1.9h0m.1 1.9h0m.2 3.5h0m.1-.4h0m.2-2.6h0m0-3.9h0m0 3.6h0m.1-1.2h0m.1 3.4h0m.4-5.7h0m.6 6.8h0m.3-6h0m.2 1h0m0 .3h0m0 .2h0m.1-.1h0m.2 1.1h0m.1-2h0m.1-4.4h0m0 4.5h0m.3 5.2h0m0-3h0m.2-3h0m.1 .6h0m.3 .1h0m0 1.4h0m.4 .5h0m.1 .9h0m.2 1.7h0m0-5.1h0m.2-.2h0m0-3.6h0m0 3.3h0m.2 2.3h0m.1-3h0m0 .3h0m.3 5.7h0m0-4.1h0m.1-1h0m.4 4h0m0-1.1h0m0-.2h0m.1-3.3h0m.1 3.7h0m.1-2.7h0m.3 5h0m.3-6.3h0m.2 .2h0m.3-1.4h0m0 3.6h0m.1 1.1h0m.1 3h0m.1-6.1h0m0-1.2h0m.1 3.1h0m.3 .3h0m0 2h0m0-5.7h0m.2 4.7h0m.2-2.8h0m.4 6.4h0m.1-5.2h0m.3 0h0m.4-1.7h0m0-1.2h0m.2 5.2h0m0 .1h0m.1-3.2h0m.2-1.2h0m.3 7h0m.5-2.2h0m.1-6.2h0m0 5.4h0m0-.7h0m0 .1h0m.1-2h0m.1 .2h0m0 2h0m.1-5.5h0m.1 1h0m.1 2.8h0m.1 .9h0m.2 1.8h0m.1-3.4h0m0 4.5h0m.1-2.1h0m.2-.8h0m0-.5h0m0 1h0m.2-4.8h0m0 4.2h0m.2-2.4h0m.1 .8h0m.2 1.7h0m0-1.7h0m.2 1.6h0m.3 1.6h0m.5 .5h0m0-3.2h0m.1 2.7h0m.2-2.2h0m0 .4h0m0-.9h0m.3 .7h0m.2 1.9h0m.3-2h0m.3 1.4h0m0-.9h0m.1 1h0m.2 1.2h0m.1 0h0m.1 0h0m.3-1.3h0m.2 1.5h0m.1-2.9h0m.1 .5h0m0 .3h0m.4 .4h0m0-4.3h0m.1-.3h0m.2 .5h0m.1 2.8h0m.1-1h0m.1-2.1h0m0 .1h0m.1 .5h0m.1-.4h0m.1-1.3h0m.1 3h0m.1 3.3h0m0-4h0m.1 .5h0m0-3.8h0m0 4.4h0m.1-.2h0m0-.8h0m.1 3.1h0m0 0h0m.2 1.1h0m0 0h0m.1-4.8h0m.1-.6h0m.1 7.7h0m.2-4.8h0m.1-.3h0m.2 .3h0m.5-.3h0m.1 7.8h0m.1-8.1h0m.2 6h0m.5 2.3h0m.3-7.9h0m.3 .7h0m.1 4.8h0m.2-.4h0m.2-5h0m.6-6h0m.2 .1h0m.3 4.1h0m.1-.3h0m0-3.5h0m.2 3.1h0m.2 1.3h0m0-1.3h0m0 2h0m.1 3.3h0m0-4.5h0m.1 2.5h0m.4-2.7h0m0 2.5h0m.2 3.4h0m0 2.8h0m.2-.9h0m.1-.6h0m.2 2.7h0m0-4.6h0m.1-.7h0m0 2.8h0m.1 5.5h0m.1-.4h0m.1 2.9h0m.1-3.8h0m.2 .7h0m.1-1.8h0m0 2.4h0m0 1.9h0m.4-7.7h0m.4-.7h0m0-3.1h0m.3-6.7h0m0 5.8h0m.6-12.8h0m.4 1.4h0m0-.9h0m.1-2.7h0m.2 7.3h0m0-6.2h0m.3 1.7h0m.3 2.2h0m.1 .1h0m.2 7.4h0m.1 1.6h0m.3 5.3h0m.2 5.9h0m0-2.5h0m0 6.3h0m.3 2.3h0m.2 3.2h0m0-.5h0m.1 4.4h0m0 1h0m.1 5.5h0m.5-6.1h0m.1 3.8h0m.2-10.2h0m.1-.5h0m0-.7h0m0-1.5h0m.1-3.3h0m0-3.8h0m.4-11.8h0m0 .1h0m.1-1.4h0m.2-9.6h0m.7-26.2h0m.2 3.5h0m0-5.2h0m.2-4.3h0m.2 9.1h0m0 4h0m.1-6.4h0m.2 7.9h0m0 6.5h0m.2 9h0m.2 11.2h0m0-.3h0m.1 11.7h0m.2 12.7h0m0 9h0m.2 7.1h0m.2 19.8h0m.3 16.4h0m.1 5.3h0m.2 3.6h0m.2-5.5h0m.4-14h0m.2-27.5h0m.3-24.9h0m0 6.4h0m.3-23.9h0m.4-28h0m.1 3.2h0m0 2.4h0m.1-6.9h0m0 2.9h0m.1-5.1h0m.4 4h0m0-2.1h0m.2 4.5h0m.4 13.2h0m0-2.5h0m0-7.1h0m0 3.5h0m.9 33h0m.1 11.6h0m0-2.5h0m.1 2.3h0m.2 7.6h0m.2 1.8h0m.5-3.8h0m.1-5.8h0m.2 3.6h0m0 3h0m0-6.6h0m.1-4.5h0m.3-3h0m.3-6.9h0m.1-2.3h0m0 3.5h0m0-.6h0m.1-5.6h0m.4-9.1h0m0 .3h0m.3 1.2h0m.1-2.2h0m.1-4.2h0m.4 3.6h0m0 2.1h0m.1-3.8h0m.2 0h0m.6 14.3h0m.4 7.2h0m.3 .6h0m0 3h0m.2 .4h0m.3-.9h0m.2-.1h0m.1 .1h0m0-.2h0m.3 1.3h0m0-5.7h0m.2 .8h0m.2-.8h0m.1-3.3h0m.1 1.6h0m0-2.1h0m0-4.6h0m.2 6.6h0m.3-1.8h0m.3-2.9h0m0-2.4h0m.2 5.4h0m.1-5.5h0m0-.2h0m.1 0h0m.4 2.4h0m.1-1.3h0m.2 .1h0m0 .1h0m.1 3.5h0m.1-3.6h0m0 3.9h0m.1-4.6h0m.1 7.6h0m.1-4.3h0m.2 2.2h0m.2-1.7h0m.5 4.3h0m.1-6.9h0m0 6.4h0m.1-4h0m0 2.5h0m.3 .4h0m.1-3.9h0m.2 2.7h0m0 3.5h0m.1-2.5h0m.6 .5h0m.2-3.7h0m.1 1.4h0m.1 4.5h0m.2-2.5h0m.3-2.5h0m.2-2.4h0m.1-.2h0m.1 6.4h0m0-5.1h0m.6 1.7h0m.1-.3h0m.1-.6h0m0 1.1h0m.1 .8h0m0 2.7h0m.1-8.8h0m0 5h0m.2-.9h0m.3-4.5h0m.4 2.4h0m0 1.2h0m0 1.2h0m.1 3h0m.1-.9h0m0-1.1h0m.5-2.6h0m.2 1.5h0m0-.2h0m.3 .2h0m.4 .3h0m0-.6h0m0 6.2h0m.2-.5h0m0-.5h0m.1-3.9h0m0-2h0m.1 .7h0m.9-1.6h0m0 1.8h0m.3-1.2h0m0 4.6h0m.2-5.4h0m.3 4.4h0m.2-1.4h0m.1 .2h0m.1-1.3h0m0 3.3h0m.1 .3h0m.1-6.7h0m.1 7h0m.3-6.3h0m0 2.9h0m0 .9h0m.2-.7h0m.2-3.3h0m0 3.6h0m.2-.4h0m0-2.2h0m0 4.7h0m.1-3h0m.3-.2h0m.1 2.2h0m0-5h0m.1 4.7h0m.2-1.1h0m.1-1.9h0m.1 1.8h0m.1-.6h0m.2 3h0m.1-5.8h0m.2-1.5h0m.2 1.8h0m.1 2.2h0m.1-2.7h0m.1 1.2h0m.1 3.1h0m0-.6h0m.2-2h0m.2 1.2h0m.3 2.1h0m.1-1.7h0m.2-2.6h0m.1 2.8h0m0 .6h0m.4-1.5h0m.2 5.7h0m.1-6h0m.4-3.1h0m.1 4.4h0m0 4.2h0m.3-5h0m.1 .9h0m.1 3.7h0m0-1.7h0m.1-3.7h0m0-1h0m.2 2.3h0m0 .3h0m.1-1.7h0m.1 3.5h0m.1-1h0m0-.7h0m0 0h0m.1 .3h0m.1-.8h0m.4-1.4h0m.3 3.2h0m0-1.5h0m.1 .3h0m.1-.2h0m.1-3.2h0m.3 3.2h0m0-4.3h0m.1 3.8h0m.2 3.6h0m.1-3.2h0m.1 1.4h0m.2-4h0m0 5.9h0m.1-2.9h0m0 4.6h0m.1-4.7h0m.2 3.6h0m0-6.2h0m0 1.1h0m.2 1.3h0m0-1.6h0m.5 3.9h0m.1-1.7h0m0 1.1h0m0-2.4h0m.3 4.5h0m.1-7.1h0m.1 4.2h0m0 1.3h0m.4-6.7h0m.1-.5h0m.1 2.7h0m.5 7.2h0m.1-5.6h0m0 2.2h0m.2 0h0m0 1.7h0m.1-3.1h0m.3 1.4h0m.6-3.4h0m.1 4.5h0m.1-4.2h0m.2 .6h0m.1-1.8h0m0 6.3h0m0-2.6h0m.1-.2h0m.2-1.5h0m0 .8h0m0 1.5h0m.4-.9h0m.2-1.8h0m.8 1.9h0m.7-.9h0m0 4.1h0m.1-3.6h0m.2-2.9h0m.1 0h0m0 3.6h0m.4 .9h0m0-1.9h0m0 1.3h0m.4 2.5h0m0-4.7h0m.1 1.1h0m.2-.9h0m.1-3.8h0m0 6.2h0m0-3.8h0m.3 .5h0m0-2.1h0m0-.6h0m.1 3.7h0m.5 2.5h0m.1-.9h0m.3-.7h0m.7-6.7h0m.2 8.3h0m.1-4.9h0m.1 3.9h0m.1 1.1h0m.1-4.1h0m.1 2.2h0m.3-2h0m.1 3h0m.2-3.7h0m.1-1.2h0m.6 6.8h0m.1-2.5h0m0 2.6h0m.3 3h0m0 .7h0m.2-9.8h0m.1 6h0m.1 3.1h0m0-4.3h0m.2 .3h0m.2 1.2h0m.1-1.5h0m.4 0h0m.3-.2h0m0-3.1h0m0-4.2h0m.1 2.2h0m0 .9h0m.3-1h0m.2-1h0m.3-3h0m0-.7h0m0 7h0m.1 1.1h0m.1-2.8h0m.2-5.1h0m0-.6h0m0 3.8h0m.4-1.1h0m0 3.8h0m.5 .5h0m.1 3.6h0m.2-2.3h0m0 6.5h0m.1 1.3h0m.1-.6h0m.1-2.7h0m.1 .1h0m.2-1.1h0m.3 5h0m.1-2.6h0m.1 3.8h0m.2-.3h0m.1-2.9h0m.2 5.5h0m0-2.4h0m.5-5.3h0m.1 0h0m.1-1.8h0m.4-7.1h0m.1-2.1h0m.1 3.3h0m0-6.5h0m0 1.9h0m0-2.1h0m.1 1h0m0-1.4h0m.4-.6h0m.1-2.9h0m0 3.6h0m.1-4.8h0m0-3.3h0m.2 6.5h0m.1-2.6h0m.1 7.6h0m.2-.7h0m.3 .3h0m0 4.3h0m.3 3h0m0-1.9h0m0 5h0m.3 .2h0m0 11.9h0m.2-.1h0m.3 4.9h0m.4 3.4h0m.5 2.8h0m.1-14.5h0m0 4.9h0m0-.5h0m.1-4.3h0m.2-.2h0m.1-6.6h0m.5-9h0m.2-3h0m0 1.6h0m.1-11.8h0m.2 10.3h0m0 .2h0m.1-6.5h0m0 2.1h0m.1-10.5h0m0 .8h0m.1 5.2h0m.1 3.6h0m0-4.9h0m0 4.6h0m.2-7.3h0m0 4.9h0m0-3.3h0m.6 5.6h0m.1 6h0m0-4.5h0m0 8.7h0m0-4.3h0m.1 1.4h0m.1 1h0m.2 4.6h0m.1-4.2h0m0 7h0m.3 .4h0m.2 4.9h0m.2-5.2h0m.1 2.4h0m0 1.8h0m.8-.9h0m.1-1.2h0m.2 .2h0m.1 1.6h0m.2-.7h0m.4-11.2h0m0 7.1h0m0-7.5h0m.1 5.6h0m.1-3.2h0m.1-2.2h0m.2 7.3h0m.3-1.4h0m.1-5h0m.1-5.3h0m.2 11.3h0m.4-4.5h0m.7 4.3h0m.1-.7h0m.2 .7h0m0 1.3h0m.1-3h0m0-1.6h0m.2 1.1h0m0 8.2h0m.1-7.7h0m0 3.8h0m.1 .8h0m.2-4.4h0m.1 1.8h0m.1-3.5h0m.3 7.9h0m.1-6.9h0m.4 2.8h0m.3-2.8h0m0 1.6h0m.1-.1h0m.1 1.9h0m.3 .1h0m0-8.6h0m.1 5.2h0m.1-4.1h0m.1 4.8h0m0-4.4h0m0 2.8h0m0 .5h0m0 1.3h0m.1-3.8h0m.1 5h0m.5-.4h0m.2-6.2h0m.1 3.9h0m0 .3h0m0 4.3h0m.2-2.1h0m.1-4.7h0m0 4.4h0m.6 4h0m.1-6.6h0m.3 6h0m.2-4.9h0m.2-3.9h0m.2 1.7h0m.1 3.6h0m.2 1.6h0m.1 .5h0m.2-3h0m0 .7h0m.1-3.7h0m0 3.5h0m0-3h0m.1 1.7h0m0-3.2h0m.1 9.3h0m.2-5.7h0m.3 2.5h0m.2-1h0m.1 3.7h0m.2-5.4h0m.2 3.5h0m.1-5.6h0m.1-1.9h0m0 1.1h0m.2 7.3h0m.1-3.5h0m.1-2.9h0m0 5.7h0m0-5.7h0m.1-.2h0m0 5.4h0m.1-3.8h0m0 .7h0m.2 0h0m.1-2.2h0m.1 2.9h0m0-1.9h0m0 2h0m.1 1h0m0 1.5h0m.1-4.6h0m.1 3.2h0m0-5.2h0m.5 3.9h0m.1 2.2h0m.1-.5h0m.2-2.8h0m0-.7h0m.1 2.7h0m.1 1.5h0m0-2.6h0m.2 .2h0m.3-2.3h0m.3 5.2h0m.5-6.2h0m0 5.9h0m.1-.8h0m0-4h0m.1-.6h0m0 3.2h0m.1-.1h0m.3-.7h0m0 1.9h0m0-1.3h0m.1-3.4h0m.1-.5h0m.1 3.4h0m.2-.3h0m0 .1h0m.1-3h0m.3 6.9h0m.2-4.2h0m.3 .5h0" stroke="#f5a2a2" stroke-opacity="0.45" stroke-width="1.4" stroke-linecap="round" fill="none"/>
<path d="M522.8 62.7L523.5 62.7L524.1 62.7L524.8 62.7L525.5 62.7L526.1 62.7L526.8 62.7L527.5 62.6L528.2 62.5L528.8 62.4L529.5 62.6L530.2 62.9L530.8 63.2L531.5 63.1L532.2 62.5L532.8 61.7L533.5 61.3L534.2 61.8L534.9 63.2L535.5 64.6L536.2 64.7L536.9 63.0L537.5 60.3L538.2 58.3L538.9 58.8L539.5 62.4L540.2 67.5L540.9 70.2L541.5 67.1L542.2 58.1L542.9 48.6L543.6 46.7L544.2 56.2L544.9 72.2L545.6 83.4L546.2 77.2L546.9 61.5L547.6 48.8L548.2 46.7L548.9 54.4L549.6 64.4L550.3 69.9L550.9 68.9L551.6 64.1L552.3 59.7L552.9 58.1L553.6 59.4L554.3 62.1L554.9 64.3L555.6 64.8L556.3 63.7L556.9 62.2L557.6 61.4L558.3 61.5L559.0 62.2L559.6 62.9L560.3 63.2L561.0 63.1L561.6 62.7L562.3 62.5L563.0 62.5L563.6 62.6L564.3 62.7L565.0 62.7L565.6 62.7L566.3 62.7L567.0 62.7L567.7 62.7L568.3 62.7L569.0 62.7L569.7 62.7L570.3 62.7L571.0 62.7L571.7 62.7L572.3 62.7L573.0 62.7L573.7 62.7L574.4 62.7L575.0 62.7L575.7 62.8L576.4 62.8L577.0 62.8L577.7 62.6L578.4 62.3L579.0 62.3L579.7 62.6L580.4 63.4L581.0 63.9L581.7 63.5L582.4 62.5L583.1 61.6L583.7 61.5L584.4 62.0L585.1 63.4L585.7 64.9L586.4 65.0L587.1 63.1L587.7 60.4L588.4 58.5L589.1 59.2L589.8 63.0L590.4 68.2L591.1 70.6L591.8 67.0L592.4 58.6L593.1 50.8L593.8 49.4L594.4 58.1L595.1 74.2L595.8 86.7L596.4 82.8L597.1 60.8L597.8 33.4L598.5 20.6L599.1 36.6L599.8 76.3L600.5 114.8L601.1 114.8L601.8 76.3L602.5 36.6L603.1 20.6L603.8 33.4L604.5 60.8L605.2 82.8L605.8 86.7L606.5 74.2L607.2 58.1L607.8 49.4L608.5 50.8L609.2 58.6L609.8 67.0L610.5 70.6L611.2 68.2L611.8 63.0L612.5 59.2L613.2 58.5L613.9 60.4L614.5 63.1L615.2 65.0L615.9 64.9L616.5 63.4L617.2 62.0L617.9 61.5L618.5 61.6L619.2 62.5L619.9 63.5L620.6 63.9L621.2 63.4L621.9 62.6L622.6 62.3L623.2 62.3L623.9 62.6L624.6 62.8L625.2 62.8L625.9 62.8L626.6 62.7L627.2 62.7L627.9 62.7L628.6 62.7L629.3 62.7L629.9 62.7L630.6 62.7L631.3 62.7L631.9 62.7L632.6 62.7L633.3 62.7L633.9 62.7L634.6 62.7L635.3 62.7L636.0 62.7L636.6 62.7L637.3 62.7L638.0 62.6L638.6 62.5L639.3 62.5L640.0 62.7L640.6 63.1L641.3 63.2L642.0 62.9L642.6 62.2L643.3 61.5L644.0 61.4L644.7 62.2L645.3 63.7L646.0 64.8L646.7 64.3L647.3 62.1L648.0 59.4L648.7 58.1L649.3 59.7L650.0 64.1L650.7 68.9L651.3 69.9L652.0 64.4L652.7 54.4L653.4 46.7L654.0 48.8L654.7 61.5L655.4 77.2L656.0 83.4L656.7 72.2L657.4 56.2L658.0 46.7L658.7 48.6L659.4 58.1L660.1 67.1L660.7 70.2L661.4 67.5L662.1 62.4L662.7 58.8L663.4 58.3L664.1 60.3L664.7 63.0L665.4 64.7L666.1 64.6L666.7 63.2L667.4 61.8L668.1 61.3L668.8 61.7L669.4 62.5L670.1 63.1L670.8 63.2L671.4 62.9L672.1 62.6L672.8 62.4L673.4 62.5L674.1 62.6L674.8 62.7L675.5 62.7L676.1 62.7L676.8 62.7L677.5 62.7L678.1 62.7L678.8 62.7L678.8 68.8L678.1 68.8L677.5 68.8L676.8 68.8L676.1 68.8L675.5 68.8L674.8 68.8L674.1 68.8L673.4 68.7L672.8 68.6L672.1 68.8L671.4 69.2L670.8 69.5L670.1 69.4L669.4 68.8L668.8 68.1L668.1 67.7L667.4 68.3L666.7 69.7L666.1 71.2L665.4 71.4L664.7 69.8L664.1 67.2L663.4 65.3L662.7 65.9L662.1 69.6L661.4 74.9L660.7 77.8L660.1 74.9L659.4 66.1L658.7 57.0L658.0 55.4L657.4 65.2L656.7 81.6L656.0 93.3L655.4 86.8L654.7 70.6L654.0 57.6L653.4 55.2L652.7 62.6L652.0 72.4L651.3 77.5L650.7 76.4L650.0 71.4L649.3 66.8L648.7 65.1L648.0 66.3L647.3 68.9L646.7 71.0L646.0 71.5L645.3 70.3L644.7 68.7L644.0 67.8L643.3 67.9L642.6 68.6L642.0 69.2L641.3 69.5L640.6 69.3L640.0 68.9L639.3 68.7L638.6 68.6L638.0 68.8L637.3 68.8L636.6 68.8L636.0 68.8L635.3 68.8L634.6 68.8L633.9 68.8L633.3 68.8L632.6 68.8L631.9 68.8L631.3 68.8L630.6 68.8L629.9 68.8L629.3 68.8L628.6 68.8L627.9 68.8L627.2 68.8L626.6 68.8L625.9 68.9L625.2 68.9L624.6 68.9L623.9 68.7L623.2 68.4L622.6 68.4L621.9 68.7L621.2 69.5L620.6 70.0L619.9 69.6L619.2 68.7L618.5 67.8L617.9 67.7L617.2 68.2L616.5 69.6L615.9 71.1L615.2 71.3L614.5 69.5L613.9 66.7L613.2 64.9L612.5 65.7L611.8 69.5L611.2 74.8L610.5 77.3L609.8 73.7L609.2 65.4L608.5 57.7L607.8 56.5L607.2 65.3L606.5 81.6L605.8 94.2L605.2 90.5L604.5 68.8L603.8 41.6L603.1 29.2L602.5 45.5L601.8 85.6L601.1 124.6L600.5 124.6L599.8 85.6L599.1 45.5L598.5 29.2L597.8 41.6L597.1 68.8L596.4 90.5L595.8 94.2L595.1 81.6L594.4 65.3L593.8 56.5L593.1 57.7L592.4 65.4L591.8 73.7L591.1 77.3L590.4 74.8L589.8 69.5L589.1 65.7L588.4 64.9L587.7 66.7L587.1 69.5L586.4 71.3L585.7 71.1L585.1 69.6L584.4 68.2L583.7 67.7L583.1 67.8L582.4 68.7L581.7 69.6L581.0 70.0L580.4 69.5L579.7 68.7L579.0 68.4L578.4 68.4L577.7 68.7L577.0 68.9L576.4 68.9L575.7 68.9L575.0 68.8L574.4 68.8L573.7 68.8L573.0 68.8L572.3 68.8L571.7 68.8L571.0 68.8L570.3 68.8L569.7 68.8L569.0 68.8L568.3 68.8L567.7 68.8L567.0 68.8L566.3 68.8L565.6 68.8L565.0 68.8L564.3 68.8L563.6 68.8L563.0 68.6L562.3 68.7L561.6 68.9L561.0 69.3L560.3 69.5L559.6 69.2L559.0 68.6L558.3 67.9L557.6 67.8L556.9 68.7L556.3 70.3L555.6 71.5L554.9 71.0L554.3 68.9L553.6 66.3L552.9 65.1L552.3 66.8L551.6 71.4L550.9 76.4L550.3 77.5L549.6 72.4L548.9 62.6L548.2 55.2L547.6 57.6L546.9 70.6L546.2 86.8L545.6 93.3L544.9 81.6L544.2 65.2L543.6 55.4L542.9 57.0L542.2 66.1L541.5 74.9L540.9 77.8L540.2 74.9L539.5 69.6L538.9 65.9L538.2 65.3L537.5 67.2L536.9 69.8L536.2 71.4L535.5 71.2L534.9 69.7L534.2 68.3L533.5 67.7L532.8 68.1L532.2 68.8L531.5 69.4L530.8 69.5L530.2 69.2L529.5 68.8L528.8 68.6L528.2 68.7L527.5 68.8L526.8 68.8L526.1 68.8L525.5 68.8L524.8 68.8L524.1 68.8L523.5 68.8L522.8 68.8Z" fill="#9fb8e2" fill-opacity="0.5" filter="url(#blur)"/>
<path d="M522.8 65.6h0m.1-1.4h0m.1 2.6h0m0-1.5h0m.2 .6h0m.1 .4h0m0-3.3h0m.1 5.4h0m0-4.3h0m.1-2.2h0m.1 2h0m0 4h0m.1-3h0m.1-.7h0m.1-.3h0m0 6.3h0m.1 .4h0m0-8.2h0m.1 1.8h0m.1 .9h0m.1 1.2h0m.2-2.5h0m0-1.5h0m.2 1.7h0m.2 3.4h0m0-2.3h0m0-4h0m.1 4.7h0m.1 2h0m.1-4.6h0m0 3.7h0m.1-1.4h0m0-3.9h0m.1 1.3h0m0 5h0m0-4.4h0m.1-.6h0m0-.7h0m0 3.3h0m.2-.3h0m.1-4h0m0 8.3h0m0-1.7h0m0-.1h0m0-4h0m.2 0h0m.1 1.6h0m.1-2.2h0m0 3.8h0m0 .5h0m.1-1.2h0m0 3.8h0m.1-1.3h0m.1-3.6h0m0 1h0m0 1.3h0m.1-4.3h0m0 1.3h0m.1 1.1h0m0 .1h0m0-2.5h0m0-2.3h0m.1 6.8h0m0-1.6h0m.1 .9h0m0-2.2h0m0 3.7h0m.1-2.4h0m0-4.1h0m.1 4.3h0m0 1.9h0m0-3.6h0m.1-.6h0m0 3.2h0m.1-4.6h0m0 2.9h0m0-2.8h0m0 1.3h0m0 1.7h0m.1 .8h0m0-2.6h0m.1 3.8h0m.1 1.2h0m0-7.3h0m.1 7h0m.2-1.9h0m.2-.1h0m0-.8h0m0 2.9h0m0-.8h0m.1-3.8h0m.2 .8h0m.1 5.1h0m.1-6.4h0m.1 .5h0m0 1.9h0m.2 2.7h0m.3-6.8h0m.3-1.1h0m.1 6.2h0m0 3.3h0m.1-9.4h0m0 4.4h0m.1-.7h0m0 .1h0m0 3.1h0m.1-1.1h0m0 .4h0m.1-1.8h0m0 1.7h0m0-4.3h0m0 3.6h0m.1-3.4h0m.1 6.2h0m.2-3.1h0m.2-.2h0m.1 2.5h0m.1-3h0m0 1.4h0m.1-4.3h0m0 .9h0m0 2.7h0m0 1.5h0m0-1.2h0m0-3.2h0m.1 2.4h0m0 1.3h0m0 .7h0m.1 3.4h0m.1-7h0m.1 4h0m0-1.8h0m0-.6h0m.1 2.6h0m.1-1h0m0-1.6h0m0-2.8h0m.1 3.8h0m0 .2h0m.1-.4h0m0 .9h0m0-3.2h0m0 4.9h0m0-2.4h0m.1-.4h0m0-2h0m0 .7h0m0 2.9h0m.1-.7h0m.2 1.7h0m0-2.5h0m.1 0h0m0 3.1h0m0-4.1h0m0-4.6h0m0 4.4h0m.2 1.7h0m.2 0h0m0-4.5h0m0 3.1h0m.1 1.4h0m.2 2h0m0-6.1h0m0 7.4h0m.1-5.9h0m0 2.7h0m.1-4.7h0m.2 2.9h0m0 1h0m.2-4.3h0m0 6.3h0m.1-5.4h0m.1 .3h0m0 6.9h0m0-2.6h0m0-.1h0m0-1.1h0m0-1.5h0m.1 .8h0m.1-1.9h0m.1 2.8h0m0 2.5h0m.1 1.5h0m0-2.2h0m0-1h0m0 .3h0m0-3.4h0m.1 1.7h0m.1 4.1h0m0-2.1h0m0-.8h0m.4-6h0m0 4h0m.1 2.6h0m.1-1.6h0m.1-1.4h0m0 5.5h0m.1-7.2h0m0 6.8h0m.1-4.1h0m0-2.3h0m.1 4.2h0m.2-1.1h0m0 4.3h0m.1-5.9h0m0 1.1h0m0-2.9h0m0 2.8h0m.1 4.2h0m0 .6h0m.1 .1h0m.1-.2h0m.1-5.2h0m.1 7.4h0m.2-.9h0m.2-1.4h0m0 1.6h0m.3-2h0m0-5.3h0m0 3.7h0m0-1.7h0m.2 .5h0m0-2h0m.1-2.1h0m.1 1h0m.1 .7h0m0 2.3h0m.2 .6h0m.1-4.2h0m0-.7h0m0-1.2h0m.1 1.3h0m.2 2.1h0m0 0h0m.2-4.1h0m.1 2.9h0m0 1.3h0m.1 1.1h0m0-1.5h0m0-4.3h0m0 .5h0m.1-2.8h0m.1 2.7h0m.2 .9h0m.1-2.1h0m.1-.1h0m0 4.1h0m.1 5.1h0m0-4.8h0m0 1.8h0m.1-5.6h0m0 3.1h0m0 2.9h0m.1 2.4h0m0-5.2h0m.1-1.2h0m.1 7.6h0m0-5.1h0m0 3h0m0-2.6h0m.2-3.4h0m.1 10.6h0m.1-4.7h0m.1-3.3h0m.1 6.5h0m0 3.6h0m.1 2.7h0m.1-2.3h0m0-3.4h0m.1 4.1h0m0-6.8h0m0 9.6h0m.1-.5h0m.1-5.1h0m0 1.5h0m0-1.8h0m.1 1.1h0m.1 3.7h0m.2-.7h0m0-5.6h0m.1 3.5h0m0-2.8h0m.2 1.8h0m.1-3.1h0m0 1.9h0m0 2.6h0m.2 1.5h0m.1-7.9h0m.3 .5h0m.1 2.8h0m0-9.5h0m.1 2.5h0m0-.6h0m.1 2.9h0m0-6.4h0m.1 2.2h0m0 2.5h0m.1-3h0m0 1h0m.1-9.2h0m.1 5.3h0m0-3.2h0m.1-3.8h0m0-3.5h0m.1 7.5h0m0 1.5h0m0-6.7h0m.1 .2h0m.1-5.6h0m0 7.9h0m.1-7.2h0m0 1.6h0m0 2.9h0m.2 6.7h0m.4-4.6h0m.1 2.1h0m.4 12.7h0m0-8.8h0m.1 5.9h0m0 1.2h0m0-2.7h0m.2 .1h0m0-2.7h0m0 4.4h0m.2 5.7h0m0 1.5h0m.2 11.8h0m.1-1.1h0m0-2h0m.1 .3h0m0 3.6h0m0-8.1h0m.2 3.3h0m0 9.2h0m.1-5.7h0m.1 3.7h0m.3-6.8h0m0 3.6h0m.1 .1h0m.1 .5h0m0-2.3h0m0 3.1h0m.1-7.8h0m0 7.3h0m.1 3.2h0m.1-6h0m0-3.1h0m0 6.6h0m.1 .1h0m0-6.6h0m.1-7.1h0m0 .8h0m.1 8.9h0m.1-12.5h0m0 3.8h0m.1-.1h0m0-4.5h0m.1-9.7h0m.1 10.4h0m0-4.3h0m0 6.3h0m.1-10.9h0m0-.5h0m.1-.1h0m0-1.7h0m.1 3.8h0m.1-4.6h0m.1-1.2h0m0 1.3h0m.1-6.1h0m0-.3h0m0 5.4h0m.1-4.1h0m0-1.3h0m0 .6h0m0-1.5h0m0 1.9h0m.1 .9h0m.1 2.9h0m0-1.7h0m0-3.1h0m0 0h0m0 4.5h0m0-3.7h0m.1-2.4h0m.2-2.4h0m0 2.6h0m.3 4.6h0m.1-2.3h0m0 7.8h0m0-5.3h0m0 3.7h0m.1-8.1h0m.1 11.1h0m.1-4.9h0m.1-1.5h0m.2 10.5h0m.1 2.1h0m0-1.7h0m.2 3.5h0m.1 2.8h0m0-.9h0m0-4.2h0m0 .5h0m0 5.3h0m0 .4h0m.2-2.3h0m0-.1h0m.1 1.2h0m0-.2h0m0-5.2h0m.1 2.9h0m0 1.5h0m0 4.3h0m.1-6.8h0m0 5.6h0m0-1.1h0m0 6.9h0m0-8.7h0m.3 8.4h0m0-3.1h0m.1-5h0m0 3.9h0m0 1.6h0m.2-5h0m.1-1h0m.1 1.9h0m0-1.7h0m.1 4.9h0m0-3.7h0m.1 1.5h0m.1 3.5h0m.1-7.3h0m.1 1.5h0m0-.3h0m0-1.4h0m.1-.2h0m0-3.1h0m.1 3.7h0m.1-4.1h0m0 2.7h0m.1-3.3h0m0 1.4h0m0-2.4h0m0-4.1h0m.1 5.6h0m0-1.9h0m.1 3.9h0m.1-1.8h0m0-2.3h0m.2-3.4h0m0 6.2h0m.1-2.9h0m0-4.3h0m.2 7.8h0m.1-6.2h0m.1 1.8h0m0-5.8h0m0 5.8h0m0 2h0m.1-6.7h0m.1-.2h0m0 2.8h0m.3-3.5h0m0 6.1h0m.1-1h0m0 2.3h0m0 .5h0m.1-3.1h0m.1 2.1h0m0-5.6h0m.1 6.8h0m.1-1.9h0m0 6h0m0-5.9h0m.1 2.2h0m0 .3h0m0-1.9h0m.1 1.3h0m0 2.5h0m.1-4.5h0m0 1.5h0m0 2h0m.1-5.3h0m0 4.3h0m.1-1.9h0m.2 .4h0m0 3.4h0m0-1.7h0m0 1.4h0m.1 1.9h0m.1-.9h0m0-5.3h0m.1 4.3h0m.4-3.2h0m.1 2.3h0m.1 5.8h0m0-3.3h0m0-2.4h0m0 1.7h0m.1-.8h0m.1 .2h0m.1 2.5h0m0-4.3h0m.1-2.5h0m0 6h0m.1-.5h0m0-1.3h0m0-1.8h0m.2 2.6h0m0-3.5h0m.1 3.3h0m0 .8h0m.2 2.9h0m0-6.1h0m.1-1.4h0m0 4.2h0m.1-2.3h0m0 2h0m0 .2h0m.1-6.2h0m0 1.2h0m.1 7.6h0m0-7.1h0m0 1.3h0m0-3.8h0m0 3.7h0m.1 0h0m.1 2.4h0m.2-1.9h0m.1 .3h0m0 3h0m0-5.8h0m.1 3.2h0m.1-1.8h0m.1-1.2h0m.1 6.2h0m0-3.5h0m.1 .9h0m0-.4h0m0 1.6h0m.2-3.3h0m.1 3.8h0m0-1.9h0m.1 0h0m.1 .1h0m.1-.8h0m.1-.4h0m0-.8h0m.1-4.3h0m0 6.8h0m.2-.9h0m0 1.2h0m.1-6h0m0 8.7h0m.1-1.5h0m0-4.8h0m.1 1.3h0m0 4.5h0m.1-6.2h0m.1 5.3h0m0-.1h0m0-5.7h0m0 0h0m.2 1.1h0m0 1.8h0m0-1.4h0m.1 3.9h0m.1-6.7h0m.1 9.1h0m0-5.7h0m.2-1.8h0m.1 5.8h0m0-1.7h0m.1-1.6h0m0-3.4h0m0 1.8h0m.1-.4h0m0 2.9h0m.1-1.4h0m0-.1h0m.2-2.3h0m0 6.9h0m.1-3.7h0m.2 .5h0m.1 .8h0m.1-5.6h0m0 6.3h0m.1-3.3h0m.3 .8h0m0-1.1h0m.1 3.3h0m.1 1.1h0m.1-8.1h0m0 2.5h0m.1 2.9h0m0 1.4h0m.1-2.1h0m0 .4h0m.2 .8h0m.1-2.8h0m0 1.1h0m0 1.1h0m.3-1.1h0m0 2.2h0m0-2.9h0m.2 .6h0m.1 5.6h0m.1-6.4h0m0 2.7h0m.2-.6h0m0-2h0m.1 1.6h0m0-1h0m0 4.2h0m0-6h0m.1 3.4h0m0-3.4h0m0 2.3h0m0-.2h0m.1-2.1h0m0 .9h0m.1 1.7h0m0-1.1h0m0-3.7h0m.1 4.7h0m.1 1h0m0-2.4h0m.1 4.6h0m.1-3.9h0m.1 1.4h0m0-1.3h0m0 5.8h0m0-7.3h0m.1 1.8h0m0 2.4h0m.1-4.1h0m0 3.4h0m.1 2.2h0m0-.4h0m.1-2.3h0m.1 .6h0m.2-.9h0m0 1h0m.1-2.3h0m.1-.7h0m0 4h0m.1-5.1h0m0 5h0m0-3.9h0m.1-.3h0m.1 2.2h0m0 1h0m.1 1.3h0m0-7.2h0m.1 8.4h0m0-3.4h0m.1-.1h0m0-2.8h0m0 .8h0m0 2.3h0m0 1.2h0m0-6.7h0m.1 5.5h0m.1 1.4h0m.1-5.8h0m0 4.6h0m0 2h0m.1-4h0m.1 2.3h0m.1 3.9h0m0-4h0m0-1.6h0m.1 4.5h0m.1-3.3h0m0-3.2h0m0 3.7h0m0 1.8h0m0-.7h0m.1-3.8h0m0 3.1h0m.1-2.3h0m0 1.3h0m.2 1.7h0m0-4.2h0m.1-2h0m.1 6.8h0m0-3.3h0m0-.2h0m.1 .2h0m.1 .3h0m.1-3.6h0m.1-1.1h0m.4 4.3h0m0 .7h0m0-2.3h0m0 3.8h0m.2 0h0m.1-3.1h0m.1-1h0m0 1.8h0m.1-.7h0m0 6.4h0m0-2.8h0m.2-1.9h0m.1-2h0m.1 4.3h0m0-3.7h0m.2 1.2h0m0-1.2h0m0 1.7h0m0-3.1h0m.3 4.1h0m.1-5.1h0m0 4.5h0m.2-2.2h0m.1 3.9h0m0-1h0m.1-2.5h0m.1 5.8h0m.1-5.2h0m0 .1h0m0-4.8h0m.1 4.9h0m0-4.2h0m0 4.2h0m.1 1.2h0m.1-4.3h0m.1 1.8h0m.1-2.8h0m.1 6.8h0m0 .6h0m.1-6.1h0m.1-.4h0m0 .2h0m.2 3h0m0-3h0m.2 2.7h0m0 1.4h0m.4-1.2h0m.1 4h0m0-6.2h0m0 .1h0m.2 3.8h0m.1 1.7h0m.3-4.5h0m0-1.9h0m.1 8.1h0m0-4.6h0m0 .7h0m.1-4.9h0m.1-.2h0m0 6.9h0m.1-1.6h0m0 2.9h0m0-4.4h0m0-.7h0m0-2.1h0m.1 7.4h0m.2-.3h0m0-4.9h0m.1 .1h0m.1 2.3h0m0-1.6h0m.1-1.2h0m.2 1.6h0m.1-4.4h0m0-.3h0m0 3.1h0m.1 1.6h0m0 2.5h0m.1-2.1h0m.1 .2h0m.1 3.9h0m0-4.6h0m.2-1h0m.1 .9h0m.1 3.7h0m.2-.2h0m0-4.8h0m0-.8h0m.1 4.1h0m0 1.5h0m0-2h0m.1-1.7h0m0-4.5h0m.1 2.6h0m0 1h0m0 2.3h0m0-1.2h0m.1 2.4h0m0-4.7h0m0 1.8h0m.1 2.6h0m0-2.5h0m0-3.9h0m.1 5.8h0m0 .9h0m.1-1.9h0m0-.6h0m0-.9h0m.2 1h0m.1-2.1h0m0 1.8h0m0-.8h0m.1-3.3h0m.3 7.2h0m.1-.5h0m.1-2.8h0m.1 2.7h0m.1-.8h0m0-6.3h0m0 7.1h0m.2-.2h0m.2-3.4h0m.1 1.1h0m0 4.3h0m.1-4.9h0m0-2.6h0m.2 3.7h0m0-1.5h0m.1 1.4h0m0 2h0m0-.1h0m0-3.7h0m.1 .5h0m0 5.1h0m0-6.3h0m.1 1.4h0m.1-.7h0m.1-1h0m0 6.5h0m.1-3.1h0m0 .7h0m0 .3h0m.1-1.7h0m0-1.4h0m0 1.6h0m0-5.4h0m0 7.5h0m.2-7.6h0m.1 4.3h0m0-4h0m.1 3.4h0m0 3h0m.1-1.5h0m.1 .8h0m.1-3h0m0 1h0m.2 3.6h0m.1-7.8h0m.1 2.4h0m.1 6.4h0m0-1.9h0m0-1h0m.1-1.3h0m0-.1h0m.1 1.4h0m.1-5.1h0m.1 7.8h0m.1-4.8h0m0 .9h0m0-2.7h0m.1 4.1h0m.1-.6h0m0-5h0m.1 4.2h0m.1 .8h0m0 .4h0m.2 .7h0m0 2.4h0m0 0h0m0-2h0m.2-1h0m0-2h0m.1 3.1h0m0 .1h0m.2-.9h0m.1 1.6h0m0-1.3h0m0-2.9h0m0 4.8h0m.1 1.1h0m0-1.7h0m.1-1.3h0m0 2.5h0m.1-4.1h0m0-3.3h0m.2 2.4h0m.1-1h0m0-.4h0m0 1.7h0m0 1.6h0m.3-.3h0m0 4.2h0m0-.6h0m.1-1.6h0m0 1.1h0m.1-.9h0m0-3h0m0 1.3h0m.1 .5h0m0-5.7h0m.1 6h0m0-.9h0m0-2.8h0m.1 3h0m.1-3.7h0m.1 4.6h0m0-5.5h0m0 2.6h0m.2 4.9h0m0-3.8h0m.2-2h0m0 2.2h0m.1-2h0m0 2h0m.1-2.5h0m0 1.8h0m0-3.2h0m.2 1.2h0m0-1.2h0m.1 .1h0m0 3.3h0m.1-.5h0m.1-1.5h0m.1-2h0m.1 1.5h0m.1 4.4h0m0-6h0m0 2h0m.1-2.2h0m.1 5.5h0m.2-1h0m0 .4h0m0 1.4h0m.2-6.2h0m0 4.1h0m0 1.4h0m.1 1.4h0m.1-1.5h0m0-3.5h0m0-1.2h0m.1 1.7h0m0 2.4h0m.1-.9h0m.1 4.8h0m0-.8h0m.1-2.8h0m0-1.1h0m.1 1.3h0m0-.8h0m.3 2.5h0m.1-.3h0m0-.9h0m.1 1.4h0m.1 .4h0m0-.5h0m.1-4.5h0m0 6.5h0m.1-7.3h0m.1 7.2h0m.1-4.3h0m0-.8h0m.1-.4h0m0 4.3h0m.2 4.2h0m0-2.9h0m.1-3.1h0m0-4.3h0m.2 5.5h0m0-1.9h0m.1-.3h0m0-3.5h0m.1 2.6h0m0-2.6h0m0 5.7h0m.1 2.2h0m.1-4.1h0m.1 1.6h0m0-4.1h0m.1 1.6h0m0-2.6h0m0 5h0m0-1.2h0m.1-.7h0m0-4h0m.1 3.4h0m0-.5h0m0-4.1h0m.2 4.5h0m0-.4h0m0-5.2h0m.1 9.1h0m0-8.4h0m.2 2.9h0m.1-.6h0m0-.6h0m0-.5h0m0 .8h0m.2-4.3h0m0 8.9h0m0 0h0m.1-5.8h0m0 4.1h0m.1-3h0m.1 .3h0m.1-.7h0m0-1.7h0m.1 6.5h0m0-2.7h0m0-6.3h0m.1 5.3h0m0 .2h0m.1-6.6h0m.1 4.6h0m.1 3.5h0m0-3.7h0m0-.1h0m0 4.6h0m.1-4.8h0m0 2.9h0m.1 4.5h0m.1-6.5h0m0 .4h0m0 .7h0m0 .2h0m.1 3h0m0-.4h0m0 1.7h0m.1-5h0m0 1.3h0m.2-1.4h0m0 3.7h0m.3 4.3h0m0 .7h0m.1 1.2h0m0 .5h0m0-7.8h0m.2 11.9h0m.2-1.1h0m0 1.3h0m.1-6.5h0m0 2h0m0 1.3h0m0-2.8h0m.1 3.6h0m0-2.2h0m.1-3.1h0m0 4.8h0m.2 .3h0m.1-2h0m.2-1.2h0m0-.3h0m.1 2.6h0m0-1.9h0m0 .4h0m.1-2.7h0m0 2.9h0m.1-.3h0m0 2h0m0-2.1h0m.2-1.1h0m.1-3.6h0m.1-3.8h0m0 4.6h0m0-7.2h0m.1 5h0m.1-4.8h0m0 1.4h0m0 2.8h0m0-1.5h0m0 3.9h0m.2-8.1h0m.4-7.9h0m0 4.2h0m0-4.1h0m.3 2h0m0 .1h0m.1-1.3h0m.2 1h0m.1-2.1h0m0-4.1h0m.1 5.1h0m.1 2h0m.1-.8h0m0-2.1h0m.1 3.3h0m.1 5.8h0m0-1.4h0m.1-6.5h0m0 5.4h0m.1-3.4h0m0 3.6h0m0 2h0m0-1.1h0m.1-1h0m.1 5.8h0m.1 4.6h0m.1-.8h0m.1 4.7h0m0-4.8h0m.1 6.6h0m0 1.2h0m0 2.2h0m.1-3.6h0m.1 4.2h0m0 1.4h0m.1-1.4h0m0 3.5h0m.1-5.8h0m0 1.2h0m0 7.7h0m.1-6.6h0m0 6h0m0-.9h0m0 4.7h0m.2-1.7h0m0-1.5h0m0 1.5h0m0 .9h0m.1-1.4h0m.1 2.6h0m.1 6.9h0m0-3.9h0m.1-1.6h0m0 3.2h0m.1-7.9h0m0 4.1h0m.1 1.2h0m0-.9h0m0-1h0m0 2.4h0m.1 .4h0m0 2.8h0m0-8.3h0m.1 1.3h0m0 3.4h0m.1-7.6h0m0 2.8h0m0 .9h0m.1-1.2h0m0-8.7h0m.1 1.3h0m0 .6h0m.1-3.1h0m.1-2.7h0m.1-2.1h0m0-6.5h0m0 5.5h0m.1-2.8h0m.1-8.8h0m0 6.7h0m.1-5.9h0m.1-4.1h0m0-3.7h0m.1 2.1h0m.1-6.8h0m.1-4.7h0m.1-3.9h0m.1-6.3h0m.1-5.2h0m.1 1.8h0m.3-2h0m0 .6h0m.1-.9h0m0-7.8h0m0 1.6h0m.1 2.3h0m.3 6.5h0m.1 9.1h0m.1-3.3h0m0 4.8h0m0 3.3h0m0 2.3h0m.1-2h0m.1 6.4h0m0-7.1h0m0 1.1h0m0 4h0m.1 5.7h0m.1 2.7h0m0 11h0m0 1.4h0m0-4.7h0m0 1.9h0m0 6.4h0m0-8.5h0m.1 7.6h0m0 2.5h0m.1-4.7h0m0 3.7h0m.2 17.2h0m0-1.6h0m.1 2.4h0m0 4h0m0 .6h0m.1 7.5h0m0-.5h0m0-4.6h0m0 3.7h0m.1-2.8h0m0 9.4h0m.1 6.3h0m.2 4.6h0m.1 3.9h0m.1 2.5h0m.1-2.3h0m0 4.2h0m.1-3.9h0m0 5.5h0m.2-9.8h0m.1-3h0m.2-2.6h0m.2-24.3h0m.1-3.1h0m0 6.2h0m0-7.3h0m.2-17.1h0m.2-3.8h0m0-5.9h0m0 3.2h0m.1-7.7h0m0 1h0m0 8h0m.1-11.3h0m0 0h0m.1-5.3h0m0 .3h0m.1-9.4h0m0 .8h0m.1-.1h0m0-2.8h0m0-.1h0m.1-.4h0m.1-4.8h0m0 3.1h0m0-1.6h0m.1 .1h0m.1-9.2h0m.1-.9h0m.1 6.8h0m0-1h0m0 3.7h0m0 .3h0m.1-6.5h0m.1-3.5h0m0 8.9h0m.1-2.6h0m.1 7.9h0m.1-7.5h0m0-.7h0m0 6.3h0m.1 2h0m0-3h0m.1 8.6h0m.2 12h0m.1-.6h0m0 5.9h0m.1-5.1h0m0 4.6h0m.1 .9h0m.1 5h0m0 .5h0m.3 14.2h0m.1-1h0m.1 5.2h0m0 1.2h0m0-5.6h0m.1 12.5h0m0-4.1h0m.1 2.8h0m0-.3h0m0-1.5h0m0 .8h0m.1-1.3h0m.1 9.4h0m.1-6.4h0m0 2.1h0m.1-3.5h0m.1 6.2h0m0 3.3h0m.1-6.4h0m.1 0h0m.2-2.2h0m.1-2.7h0m.1-6.3h0m0 3.5h0m0-4.8h0m.2-2.2h0m.1 1.3h0m.2-1.2h0m.1-9.9h0m0 4.4h0m.2-4h0m.2-8.6h0m0-3.4h0m.1-.3h0m0 3.4h0m.1-1h0m0 2.2h0m.1-4.5h0m0-.9h0m.1-4.7h0m0 5h0m.2 1.4h0m0-5.5h0m.1 4.8h0m.1 1h0m0-3.4h0m.1 .1h0m.1 .8h0m0 3.2h0m.1-2h0m.1 3.1h0m0 1.2h0m.2-4.2h0m0-1.6h0m0 2.7h0m.1-2.3h0m.1 3.8h0m0-3.6h0m.1 8h0m.1-.3h0m.1 2.1h0m.2 .1h0m.1 .1h0m0 4.1h0m0 1.6h0m0 2.4h0m.1 .9h0m0-6.4h0m.1 5.9h0m.2-4.1h0m0 4.1h0m.2-1.4h0m0-.1h0m0 .2h0m.1-.6h0m0 3.7h0m0-2.6h0m.1 3h0m.1 1.9h0m.1-1.8h0m.1-1.4h0m.1 2.5h0m.1-5h0m.1 5.6h0m0 .5h0m0-1.1h0m.1-5.2h0m.1 2.9h0m.1-2.4h0m0-.7h0m.1 4.2h0m.1-3.7h0m0-3h0m0 .2h0m.1 1.4h0m.1-1.8h0m0 .4h0m.1-2.1h0m0 5.8h0m.1-1.5h0m.1-6.7h0m0 2.9h0m.1 2h0m.1-4.5h0m.2-.4h0m.1 2.5h0m.1-3.1h0m0 .6h0m.1-2.6h0m0 2h0m0-.7h0m.1-1.8h0m.1 1.2h0m0 2.1h0m0 1.4h0m.1-.9h0m0-.2h0m.2-1.4h0m.1 .3h0m0 .3h0m.2 1.2h0m.1-4.7h0m.1 3.7h0m.1 3.6h0m.1-3.3h0m0-2h0m.1 2.6h0m.1-.8h0m0 3.5h0m.1-4.2h0m.1 1.2h0m0-1.2h0m.1 1.8h0m0-4h0m0 2.5h0m0-.1h0m.1-.2h0m0 6h0m.1-4h0m0-.5h0m0 0h0m.2 3.6h0m.1 1.9h0m.1-.4h0m.1 2h0m.2-3.7h0m0 2.7h0m.1-1.9h0m.1 .2h0m.1 .6h0m0 1.3h0m0-.1h0m0-4.7h0m.1 6.6h0m0-4.3h0m.1 2.9h0m0-.6h0m.1-1.2h0m0-5.6h0m0 3.9h0m0-.7h0m.1-.3h0m.2-1h0m0 1.5h0m.1-2.7h0m0 2.8h0m0 1.9h0m0-1.3h0m.1-.3h0m0-3.8h0m.1 7.3h0m.2-2.4h0m.1-1.8h0m0-.2h0m0 .6h0m.1 1.5h0m.1-2.3h0m0-.8h0m.1 3.5h0m.2-2.9h0m.2-.7h0m0 0h0m.1-4.1h0m0 7h0m.1-4.1h0m0 0h0m.1 4.2h0m0-5.4h0m0 4.7h0m0-3.1h0m0 2.4h0m.1-1h0m0-2.4h0m0-1.1h0m.1 2.2h0m0-.2h0m0 .8h0m0-2.7h0m.1 1.1h0m0 6.2h0m0-9.2h0m.2 6.2h0m0 2.1h0m.1-1.8h0m0-1.6h0m.1 .5h0m.3 2.6h0m0-4.5h0m.1 2.6h0m.1-1.3h0m.3-3.6h0m0 3.5h0m0 5.5h0m0-2h0m0-1.4h0m.1-2.2h0m0-1.6h0m0 4.3h0m.1-.8h0m0-1.3h0m.1-.8h0m.1-.8h0m.1 .1h0m.2 5h0m0-3.7h0m.1 3.7h0m0-2.3h0m0-1.5h0m.1 .2h0m.2 1.7h0m0 1.8h0m.1-3.9h0m.1 .8h0m0 6.1h0m0-7.8h0m0 .7h0m0 6.5h0m.3-7.5h0m0 1.4h0m.1 .6h0m0 3.6h0m0-.8h0m.2-2.4h0m0-1.4h0m.1 .7h0m.1-2.9h0m0 4.8h0m.1 2.2h0m0-1.2h0m.1-3.9h0m.1-.2h0m.2-1.2h0m0 1.1h0m.1-.7h0m0 1.5h0m0-1h0m0-.9h0m.2 .6h0m0 3h0m0 1.2h0m.1-2.3h0m0-5.1h0m.3 4.1h0m0 2.8h0m0-.3h0m.1-.1h0m0-3.8h0m.2-.5h0m0 5.6h0m0-1.3h0m0-.2h0m0 3.4h0m.1-4.4h0m.1 .1h0m.1-1.1h0m.1 2.7h0m.1-.9h0m.1-1.8h0m0 1.3h0m.2-3.1h0m.1 .1h0m0 2.5h0m.1-.4h0m.3 .8h0m.1-5.2h0m0 6.4h0m.1 1.6h0m0 1.2h0m0-.6h0m0-3.8h0m0 .7h0m.1 .2h0m0 4.2h0m0-8.1h0m0 2.1h0m0 5.9h0m0-5.3h0m.1 3h0m0-7.4h0m.2 4.4h0m0 2.4h0m0 1.6h0m.1-6.2h0m.1 4.8h0m.1-.4h0m0-1.6h0m.2 .6h0m0 2.8h0m0-5.1h0m.1 2.7h0m.1-3.9h0m0 3h0m.1-1.7h0m.1-1.9h0m.3 2.1h0m.1 2.1h0m.1 2.5h0m.2-2.8h0m0 2.9h0m.1-2.2h0m0 0h0m0-1h0m0-2.4h0m.1 .5h0m0 .1h0m0 1.7h0m0-.2h0m.1 2.7h0m0-5.7h0m.2 3.9h0m0-1.9h0m.1 .4h0m0 4.1h0m0-5.1h0m.2 2.6h0m.1-2.6h0m0-2h0m.1 4.5h0m0-1.7h0m.1 2.1h0m.1-1.9h0m0 .4h0m.2 1.2h0m0-1.1h0m.1-1.3h0m0 .6h0m0-.8h0m0 .9h0m.1 1.6h0m.2 2.2h0m0-4h0m0 .6h0m.2-2h0m.1 2.8h0m0-1.4h0m0 1.2h0m0 1.6h0m.1-.5h0m.1 3.5h0m0-5.1h0m.3 2.6h0m.1-3.5h0m.1-.9h0m.1 3.7h0m0-.3h0m0-1.6h0m0-.1h0m.1-1.6h0m.1 4.4h0m0-2h0m.1-4.5h0m0 4h0m.1-3.9h0m0 3.1h0m.1 2.5h0m0-3.2h0m0-.3h0m.1 3.8h0m0-6.9h0m.4 2.1h0m.1 .2h0m.1 6.3h0m.1-1.5h0m0 .2h0m.1-1.6h0m0-2.2h0m.1-1.1h0m.1 .4h0m0 3.6h0m.1-5.7h0m.1 5.6h0m0 .2h0m.1-1.1h0m.2-4h0m0 8.5h0m.1-7.8h0m0 4h0m.1 .6h0m0 3.2h0m.1-4.3h0m0 .9h0m0-.7h0m0 1.7h0m0-2h0m0 2.4h0m.1-3h0m.1-2.4h0m0-2.5h0m.1 6.2h0m.2-4.8h0m.3 2.1h0m.1-2h0m.1 6.5h0m0 .8h0m0-2.4h0m.1-2.4h0m.1-.7h0m0 6.6h0m0-5.6h0m0-3.1h0m.1 4.6h0m.1-3.2h0m0 4.5h0m.2-3h0m.1 2.8h0m.2-1h0m0 3h0m.2-6.4h0m0-2.4h0m0 6.3h0m0-1.9h0m.1 1.8h0m0-.7h0m.2-1.1h0m0 .2h0m.2 .3h0m.1-.6h0m.2-1.1h0m0-3.3h0m.1 3.2h0m0 .4h0m0 3h0m.1 0h0m0-1.8h0m.1 .2h0m0-.5h0m0 2h0m0-1.4h0m.3 .6h0m.1-1h0m.1 .4h0m0-1.5h0m.1-.1h0m0 2.4h0m0-3.3h0m0 1.3h0m.2-2.5h0m.1 8.5h0m.1-3.7h0m.1 .1h0m.1-5.1h0m0 2.6h0m0-.4h0m0 1h0m0 1.3h0m0-.2h0m.1-.8h0m0 4.8h0m.1-3.5h0m0 .8h0m.2-1.7h0m.1 .8h0m.1 1.9h0m0-1.1h0m0 1.6h0m.1-1.9h0m0-3.6h0m.1 3.7h0m.1-5.1h0m0 7.2h0m.1-5.8h0m0 3.4h0m0-3.4h0m.1 4.4h0m0-3.6h0m.1-2.5h0m.1 5.6h0m0-3.6h0m.2-.8h0m0 5.8h0m.1-3.6h0m.1 .8h0m.1 2.2h0m0-4h0m0 .1h0m.3 .5h0m0 2.4h0m.1-1.5h0m.1 .2h0m0-1h0m.1-1.5h0m0 3.2h0m.1 .4h0m.1-4.9h0m0 2h0m0 4.3h0m.1-5.6h0m0-.7h0m.1-.1h0m.1 1.5h0m.1 3.5h0m.1-.6h0m0-2.1h0m.1-.3h0m0 2.7h0m.1-2.4h0m0 .2h0m.1 4.1h0m.1-2.2h0m.1-5.9h0m.4 7.4h0m.1-2.5h0m0 2.7h0m0-1.7h0m0-.7h0m.1 2.2h0m0-3.7h0m.1-1.6h0m0 1.8h0m.1 6.1h0m.1-4.3h0m0 .7h0m0-.9h0m.1-2.6h0m0 5.5h0m.1-4.5h0m.1 3.1h0m.1-2.6h0m0 1h0m0 0h0m0-1.8h0m0-1.3h0m0 6.6h0m0-3.5h0m.1 5.4h0m.2-3.9h0m0-4.2h0m.1 5.8h0m0-1.4h0m0 .5h0m0-.6h0m0-2.5h0m.2 0h0m0 3.1h0m0 .9h0m.1-2.4h0m0-2.1h0m.1 .8h0m0-1.9h0m0 1.3h0m.2 1.8h0m0-1.5h0m.1 3.5h0m.1-5.7h0m0 4.2h0m.1 .2h0m0-.4h0m0-2.4h0m0 2.4h0m0 3.2h0m0-8.4h0m.3 4.9h0m.2 3.1h0m0 .4h0m.1-4.4h0m.1 3.6h0m0-2.4h0m.1 2.1h0m0-2.9h0m.1-1.4h0m0 4.4h0m.1-7.9h0m0 6h0m.1-2.9h0m0-3.5h0m.1 2.3h0m0-.2h0m0 5.5h0m.1 .3h0m.1-4h0m0-.6h0m.2-1.5h0m0 1h0m.1 1h0m0 .7h0m.1 .3h0m0-.7h0m0 3.1h0m.1-1.9h0m.1-1.5h0m0-.9h0m.3 2.1h0m0-2.4h0m.2 .3h0m.2 .6h0m.1 1.3h0m0 1.8h0m0-3.5h0m.1 1.1h0m.2 2.9h0m0-2.6h0m.1-.5h0m0 2.3h0m.1 .2h0m0 3.4h0m0-1.9h0m.1-1.9h0m0-.1h0m.1 3.5h0m0-6.4h0m0 4.1h0m.1 .3h0m0 2.4h0m0-3.7h0m.2 4h0m0-4.2h0m.1 3h0m0-2.7h0m0 5.3h0m.1-4.3h0m0-1.9h0m.1 2.1h0m.1-1.8h0m.1 2.3h0m.1-5.1h0m.2 4.2h0m0 2.2h0m.2 2h0m0-9.3h0m.1 5.6h0m.1-4.8h0m.1 5.2h0m0-.7h0m0-6.1h0m.1 6.1h0m0-4h0m.1 4.1h0m0-.1h0m.1-2.8h0m0 .9h0m.2 .3h0m0-3.8h0m.2 4.2h0m0-5.7h0m0 1.4h0m.1 4.3h0m.1-5.7h0m0 .7h0m0-5h0m0 3.5h0m.1 .2h0m.1-2.5h0m0 9h0m0-1.6h0m0-.7h0m.1 .6h0m0-5h0m0 .7h0m.1-5.1h0m0 8.6h0m0-.4h0m.1-4h0m0 1h0m.1-.1h0m.2 2.7h0m.1-3.1h0m.1 1.1h0m0 2h0m0-3.2h0m0 6.9h0m.1-6.3h0m.2-1.6h0m0 6.5h0m0-7.6h0m0 3.5h0m.2 4.6h0m.1-3.8h0m0 7.2h0m.1 .1h0m0-1.5h0m.1-1.8h0m.1 4.5h0m.3 2.1h0m0 .6h0m.1-7.2h0m.1 3.8h0m.3 7.5h0m.1-.4h0m0-4.4h0m.1-2.9h0m.1 4.5h0m.1-5.2h0m.1 1.9h0m0 4.8h0m.1-1h0m.1-4.6h0m0-.4h0m.1 3.3h0m.1-2.1h0m0 3h0m.1-6.5h0m.1-2.1h0m.2 .6h0m0-2.6h0m.1-3h0m0 5.4h0m0-6.6h0m.1 5h0m0-4.4h0m0 1.6h0m0 .5h0m0-1.1h0m.1-5.1h0m0 5.5h0m.1-3.5h0m.1-3.8h0m0 .3h0m0 2.3h0m.1 1.4h0m0-3.7h0m0 2.1h0m0 1.2h0m0-4.1h0m.1-2.8h0m0 2.5h0m.1 1.5h0m0 .6h0m0-5.4h0m.1 1.1h0m0 .3h0m.1 1.2h0m0 .5h0m.1 2.2h0m.2-7.3h0m.1 3.8h0m.2 3.6h0m.1-1h0m0 1.9h0m.3 4.1h0m.1-6.7h0m0 4.3h0m0 2.3h0m0-.4h0m.1 3.7h0m0 .1h0m.1-4.7h0m0 3.9h0m.1 1.5h0m0 6.1h0m.1-.5h0m.1-5.8h0m0 6.1h0m.1-2.5h0m0 5.3h0m0-5.6h0m0 1.6h0m.1 2h0m0 2.3h0m.1 4.9h0m0-1h0m0-.7h0m.2 3.9h0m0 2.6h0m.1 2.1h0m0-1.6h0m.2 3.9h0m0-4.5h0m.1 2.9h0m0-6.9h0m0 5.3h0m.1 6.9h0m0-2.3h0m.2-3.8h0m.1-5h0m.1 8.2h0m.1-2.7h0m0-1.7h0m.1-.8h0m0 5h0m.2-11.2h0m0 .8h0m0-4.8h0m0 6.1h0m.1-9.1h0m.1 3.1h0m0-.3h0m0 1.9h0m0 3.1h0m.2-2h0m.1-7.9h0m0 5.1h0m.1-9.6h0m.1 3.5h0m0 0h0m.2-12.8h0m0-.1h0m0-2h0m.3 3.3h0m.1-1.1h0m0-2.2h0m0-.9h0m0-2.9h0m.2 2.5h0m0 1.2h0m.4-.7h0m0 4.2h0m0-6.1h0m.3 5.6h0m0-7h0m.3 10.6h0m0-1h0m.1 2.9h0m0-4.9h0m.1-.6h0m.1 .8h0m.1 9.3h0m0-5.3h0m.2 3.9h0m0-.6h0m.1 4.6h0m.2 1.4h0m0 .4h0m.1 4.1h0m.2-1.6h0m0-4.3h0m.1 9.1h0m.1-6.1h0m0 5.3h0m0-2.8h0m.1-4.1h0m0 7.9h0m.1-7.3h0m.1 9.1h0m0-9.8h0m0 6.3h0m0-7.7h0m0 6.9h0m.1 2h0m.1-.2h0m0-2.9h0m.1 1.1h0m.1-2.4h0m0 2.4h0m0-5.6h0m0-2.6h0m.2 6.9h0m0-5h0m0 2.3h0m.1-2.7h0m.2-2.1h0m0 2.3h0m.1 .6h0m0 4.9h0m.1-12h0m0 9h0m.1-7.7h0m0 4.1h0m0-2.4h0m.1 4.6h0m0-5.5h0m.1 2.9h0m0 .1h0m0-.5h0m0-1.7h0m0 2.7h0m.2-3.2h0m.1 2.4h0m0-6.2h0m.2 4.7h0m0-4.3h0m.2 2.8h0m.1 .9h0m.1-.9h0m0-2.1h0m0-1h0m0-1.6h0m0 2.8h0m.2-1.9h0m0 4.2h0m0 3.4h0m0-8.6h0m.2 3.2h0m0-1h0m.1 5.8h0m0-4.8h0m.1 0h0m0-2.4h0m.1 5.7h0m0-3.5h0m0 1.4h0m.1-.7h0m0-2.5h0m0 3h0m.1-1.1h0m.1 1.1h0m.1 1.1h0m0 .6h0m0 .4h0m.1-.6h0m.2 .8h0m0 .2h0m0 2.3h0m.2 2.4h0m0-2h0m.1 2.7h0m0-7.9h0m.1 7h0m.1-1.1h0m0-3h0m.1 3.3h0m0-1.3h0m.1-2.6h0m0 4.9h0m.1-6.2h0m.1 6.7h0m0-4.1h0m0 4h0m.1-.5h0m0 2.7h0m.1-6.8h0m0 1.5h0m.1 5.1h0m.1-7.9h0m.1 6.1h0m0-1.4h0m.1 .9h0m.1 2.5h0m.1-10.3h0m0 8h0m0-.1h0m0-5.3h0m.1 3.3h0m.1 2h0m.1-5.4h0m.1-3.4h0m.1 3.9h0m0 3.7h0m.1-.4h0m.1-.4h0m.1 1h0m0-.9h0m.1-1.4h0m.1-.6h0m.1-1h0m0-4.4h0m.2 8.1h0m.1-4.5h0m0 .3h0m.1 3.7h0m0-8h0m.3 1.8h0m0 7.2h0m0-9.2h0m0 7.5h0m.1-4.3h0m.1-2.6h0m0 4.6h0m.1-3h0m.1 5.5h0m0-1.2h0m.1 0h0m0-1.5h0m.1-4.6h0m0 .2h0m0 7.1h0m.1 1h0m.1-3.9h0m.1 2.8h0m0 .7h0m.1-2.6h0m0-1.5h0m.1 1.9h0m.1 .3h0m.1 .4h0m.1-2.7h0m.1-1h0m0 2h0m0 2.4h0m.1-2.2h0m0 1.4h0m0 2.4h0m.2-3h0m0-.5h0m.2-1.2h0m0 .1h0m.1 2.6h0m.1 .9h0m.1-2.6h0m.1-2.2h0m0 2.6h0m0-.3h0m.1 3.4h0m0 .9h0m.1-3.3h0m.1 1.7h0m0 2.8h0m0-5.1h0m.1-1.8h0m0-2.2h0m0 6.2h0m.2 .2h0m0-1.2h0m0 1.2h0m0-4.9h0m.1 1.7h0m0 3.8h0m.1-4.2h0m0 1.6h0m.1-.6h0m0 4.1h0m.1 .9h0m0-5.6h0m0 2.4h0m.1-1.4h0m0-.5h0m.1 1.1h0m.1-4.6h0m.2 2.3h0m0 6h0m.2-4.4h0m.1-1.6h0m0 .5h0m.1 .3h0m0 2.2h0m.1-1.6h0m0-.1h0m0-1.9h0m.2 1.6h0m.1 .5h0m0-.9h0m.2 1.6h0m0-3.4h0m.1 3.1h0m0-5h0m.1 5.2h0m.1-2h0m0 1.3h0m.1-2.8h0m.1 .7h0m.1 3.8h0m0-6.5h0m0 1h0m.2 1.8h0m.1 1.9h0m.1 2.8h0m0-5.1h0m.1 3h0m0-1.9h0m.1 5.8h0m.2-3.8h0m0-3.9h0m.1 .2h0m0 1.9h0m.1-1.5h0m0 4h0m.1-6.1h0m.1 5.2h0m0 1.2h0m.1-.9h0m.1-2.4h0m0-.7h0m.1 4.8h0m0-4.2h0m.1-1h0m0-.5h0m0 2.7h0m.3-1h0m0 4.4h0m.2-.1h0m0-7.8h0m0 4.1h0m.2 .9h0m0-3.8h0m.2 3.5h0m.1 .5h0m0-2.4h0m0-.8h0m0 7.4h0m.1-.2h0m0-6.5h0m.1-.3h0m0 5.5h0m.1-3.5h0m0-2.7h0m.1 .9h0m0 1.3h0m.1-3.2h0m.2 5.4h0m.2-1.9h0m0-.1h0m.1 1.9h0m.1-.2h0m.1-2.9h0m0 .5h0m.3 .3h0m0 4.9h0m.1-7.4h0m0 2.5h0m.1 .3h0m0 .4h0m0-2.4h0m0 3.8h0m.1-1h0m0 1.1h0m0-4.3h0m0-.3h0m0 4.1h0m.1-5.8h0m.1 6.7h0m.1-1.3h0m0-1h0m0 2.5h0m.1-1.5h0m0 2h0m0-.8h0m.1-2h0m0-2.1h0m0 4.6h0m.2 2.4h0m0-1.9h0m0 1h0m0-2.9h0m0-2h0m.1-.6h0m0 5.3h0m0-7.8h0" stroke="#9fb8e2" stroke-opacity="0.45" stroke-width="1.4" stroke-linecap="round" fill="none"/>
<path d="M522.8 65.8L523.0 65.8L523.2 65.8L523.5 65.8L523.7 65.8L523.9 65.8L524.1 65.8L524.4 65.8L524.6 65.8L524.8 65.8L525.0 65.8L525.3 65.8L525.5 65.8L525.7 65.8L525.9 65.8L526.1 65.8L526.4 65.8L526.6 65.8L526.8 65.8L527.0 65.8L527.3 65.7L527.5 65.7L527.7 65.7L527.9 65.6L528.2 65.6L528.4 65.6L528.6 65.5L528.8 65.5L529.0 65.6L529.3 65.6L529.5 65.7L529.7 65.8L529.9 65.9L530.2 66.1L530.4 66.2L530.6 66.3L530.8 66.4L531.1 66.4L531.3 66.3L531.5 66.2L531.7 66.1L532.0 65.9L532.2 65.7L532.4 65.4L532.6 65.1L532.8 64.9L533.1 64.7L533.3 64.6L533.5 64.5L533.7 64.6L534.0 64.7L534.2 65.0L534.4 65.4L534.6 65.9L534.9 66.4L535.1 66.9L535.3 67.4L535.5 67.8L535.7 68.0L536.0 68.1L536.2 68.0L536.4 67.6L536.6 67.1L536.9 66.4L537.1 65.6L537.3 64.7L537.5 63.8L537.8 63.0L538.0 62.4L538.2 62.0L538.4 61.8L538.6 62.0L538.9 62.5L539.1 63.4L539.3 64.5L539.5 66.0L539.8 67.6L540.0 69.2L540.2 70.8L540.4 72.0L540.7 72.8L540.9 73.1L541.1 72.8L541.3 71.8L541.5 70.2L541.8 68.1L542.0 65.5L542.2 62.8L542.4 60.1L542.7 57.6L542.9 55.5L543.1 54.2L543.3 53.7L543.6 54.1L543.8 55.6L544.0 58.1L544.2 61.6L544.4 65.8L544.7 70.6L544.9 75.5L545.1 80.0L545.3 83.9L545.6 86.6L545.7 87.4L545.8 86.7L545.8 86.5L546.0 84.0L546.2 80.2L546.5 75.6L546.7 70.8L546.9 66.0L547.1 61.7L547.3 58.2L547.6 55.6L547.8 54.1L548.0 53.6L548.2 54.1L548.5 55.5L548.7 57.5L548.9 60.0L549.1 62.7L549.4 65.4L549.6 68.0L549.8 70.1L550.0 71.7L550.3 72.8L550.5 73.1L550.7 72.9L550.9 72.1L551.1 70.8L551.4 69.3L551.6 67.6L551.8 66.0L552.0 64.6L552.3 63.4L552.5 62.5L552.7 62.0L552.9 61.8L553.2 62.0L553.4 62.4L553.6 63.0L553.8 63.8L554.0 64.7L554.3 65.5L554.5 66.4L554.7 67.1L554.9 67.6L555.2 68.0L555.4 68.1L555.6 68.0L555.8 67.8L556.1 67.4L556.3 66.9L556.5 66.4L556.7 65.9L556.9 65.4L557.2 65.0L557.4 64.8L557.6 64.6L557.8 64.5L558.1 64.5L558.3 64.7L558.5 64.9L558.7 65.1L559.0 65.4L559.2 65.7L559.4 65.9L559.6 66.1L559.8 66.2L560.1 66.3L560.3 66.4L560.5 66.4L560.7 66.3L561.0 66.2L561.2 66.1L561.4 65.9L561.6 65.8L561.9 65.7L562.1 65.6L562.3 65.6L562.5 65.5L562.7 65.5L563.0 65.6L563.2 65.6L563.4 65.6L563.6 65.7L563.9 65.7L564.1 65.7L564.3 65.8L564.5 65.8L564.8 65.8L565.0 65.8L565.2 65.8L565.4 65.8L565.6 65.8L565.9 65.8L566.1 65.8L566.3 65.8L566.5 65.8L566.8 65.8L567.0 65.8L567.2 65.8L567.4 65.8L567.7 65.8L567.9 65.8L568.1 65.8L568.3 65.8L568.6 65.8L568.8 65.8L569.0 65.8L569.2 65.8L569.4 65.8L569.7 65.8L569.9 65.8L570.1 65.8L570.3 65.8L570.6 65.8L570.8 65.8L571.0 65.8L571.2 65.8L571.5 65.8L571.7 65.8L571.9 65.8L572.1 65.8L572.3 65.8L572.6 65.8L572.8 65.8L573.0 65.8L573.2 65.8L573.5 65.8L573.7 65.8L573.9 65.7L574.1 65.7L574.4 65.7L574.6 65.7L574.8 65.7L575.0 65.8L575.2 65.8L575.5 65.8L575.7 65.8L575.9 65.8L576.1 65.9L576.4 65.9L576.6 65.9L576.8 65.9L577.0 65.8L577.3 65.8L577.5 65.7L577.7 65.6L577.9 65.5L578.1 65.5L578.4 65.4L578.6 65.3L578.8 65.3L579.0 65.3L579.3 65.4L579.5 65.5L579.7 65.7L579.9 65.9L580.2 66.2L580.4 66.5L580.6 66.7L580.8 66.9L581.0 67.0L581.3 66.9L581.5 66.8L581.7 66.5L581.9 66.2L582.2 65.9L582.4 65.6L582.6 65.3L582.8 65.0L583.1 64.8L583.3 64.7L583.5 64.6L583.7 64.7L584.0 64.7L584.2 64.9L584.4 65.2L584.6 65.5L584.8 66.0L585.1 66.5L585.3 67.0L585.5 67.5L585.7 67.8L586.0 68.1L586.2 68.1L586.4 67.9L586.6 67.5L586.9 67.0L587.1 66.3L587.3 65.4L587.5 64.6L587.7 63.8L588.0 63.1L588.2 62.5L588.4 62.1L588.6 62.0L588.9 62.2L589.1 62.7L589.3 63.6L589.5 64.8L589.8 66.2L590.0 67.9L590.2 69.6L590.4 71.2L590.6 72.4L590.9 73.2L591.1 73.4L591.3 72.9L591.5 71.8L591.8 70.0L592.0 67.7L592.2 65.1L592.4 62.4L592.7 59.7L592.9 57.4L593.1 55.5L593.3 54.3L593.5 54.0L593.8 54.5L594.0 56.0L594.2 58.5L594.4 62.1L594.7 66.5L594.9 71.5L595.1 76.7L595.3 81.5L595.6 85.4L595.8 88.0L596.0 88.8L596.2 87.5L596.4 84.3L596.7 79.2L596.9 72.6L597.1 64.9L597.3 56.9L597.6 48.9L597.8 41.7L598.0 35.8L598.2 31.9L598.5 30.3L598.7 31.1L598.9 34.9L599.1 42.0L599.3 52.5L599.6 66.3L599.8 82.6L600.0 100.3L600.2 117.9L600.5 133.6L600.7 145.3L600.8 149.1L600.9 145.3L601.1 133.6L601.4 117.9L601.6 100.3L601.8 82.6L602.0 66.3L602.3 52.5L602.5 42.0L602.7 34.9L602.9 31.1L603.1 30.3L603.4 31.9L603.6 35.8L603.8 41.7L604.0 48.9L604.3 56.9L604.5 64.9L604.7 72.6L604.9 79.2L605.2 84.3L605.4 87.5L605.6 88.8L605.8 88.0L606.0 85.4L606.3 81.5L606.5 76.7L606.7 71.5L606.9 66.5L607.2 62.1L607.4 58.5L607.6 56.0L607.8 54.5L608.1 54.0L608.3 54.3L608.5 55.5L608.7 57.4L608.9 59.7L609.2 62.4L609.4 65.1L609.6 67.7L609.8 70.0L610.1 71.8L610.3 72.9L610.5 73.4L610.7 73.2L611.0 72.4L611.2 71.2L611.4 69.6L611.6 67.9L611.8 66.2L612.1 64.8L612.3 63.6L612.5 62.7L612.7 62.2L613.0 62.0L613.2 62.1L613.4 62.5L613.6 63.1L613.9 63.8L614.1 64.6L614.3 65.4L614.5 66.3L614.7 67.0L615.0 67.5L615.2 67.9L615.4 68.1L615.6 68.1L615.9 67.8L616.1 67.5L616.3 67.0L616.5 66.5L616.8 66.0L617.0 65.5L617.2 65.2L617.4 64.9L617.6 64.7L617.9 64.7L618.1 64.6L618.3 64.7L618.5 64.8L618.8 65.0L619.0 65.3L619.2 65.6L619.4 65.9L619.7 66.2L619.9 66.5L620.1 66.8L620.3 66.9L620.6 67.0L620.8 66.9L621.0 66.7L621.2 66.5L621.4 66.2L621.7 65.9L621.9 65.7L622.1 65.5L622.3 65.4L622.6 65.3L622.8 65.3L623.0 65.3L623.2 65.4L623.5 65.5L623.7 65.5L623.9 65.6L624.1 65.7L624.3 65.8L624.6 65.8L624.8 65.9L625.0 65.9L625.2 65.9L625.5 65.9L625.7 65.8L625.9 65.8L626.1 65.8L626.4 65.8L626.6 65.8L626.8 65.7L627.0 65.7L627.2 65.7L627.5 65.7L627.7 65.7L627.9 65.8L628.1 65.8L628.4 65.8L628.6 65.8L628.8 65.8L629.0 65.8L629.3 65.8L629.5 65.8L629.7 65.8L629.9 65.8L630.1 65.8L630.4 65.8L630.6 65.8L630.8 65.8L631.0 65.8L631.3 65.8L631.5 65.8L631.7 65.8L631.9 65.8L632.2 65.8L632.4 65.8L632.6 65.8L632.8 65.8L633.0 65.8L633.3 65.8L633.5 65.8L633.7 65.8L633.9 65.8L634.2 65.8L634.4 65.8L634.6 65.8L634.8 65.8L635.1 65.8L635.3 65.8L635.5 65.8L635.7 65.8L636.0 65.8L636.2 65.8L636.4 65.8L636.6 65.8L636.8 65.8L637.1 65.8L637.3 65.8L637.5 65.7L637.7 65.7L638.0 65.7L638.2 65.6L638.4 65.6L638.6 65.6L638.9 65.5L639.1 65.5L639.3 65.6L639.5 65.6L639.7 65.7L640.0 65.8L640.2 65.9L640.4 66.1L640.6 66.2L640.9 66.3L641.1 66.4L641.3 66.4L641.5 66.3L641.8 66.2L642.0 66.1L642.2 65.9L642.4 65.7L642.6 65.4L642.9 65.1L643.1 64.9L643.3 64.7L643.5 64.5L643.8 64.5L644.0 64.6L644.2 64.8L644.4 65.0L644.7 65.4L644.9 65.9L645.1 66.4L645.3 66.9L645.5 67.4L645.8 67.8L646.0 68.0L646.2 68.1L646.4 68.0L646.7 67.6L646.9 67.1L647.1 66.4L647.3 65.5L647.6 64.7L647.8 63.8L648.0 63.0L648.2 62.4L648.4 62.0L648.7 61.8L648.9 62.0L649.1 62.5L649.3 63.4L649.6 64.6L649.8 66.0L650.0 67.6L650.2 69.3L650.5 70.8L650.7 72.1L650.9 72.9L651.1 73.1L651.3 72.8L651.6 71.7L651.8 70.1L652.0 68.0L652.2 65.4L652.5 62.7L652.7 60.0L652.9 57.5L653.1 55.5L653.4 54.1L653.6 53.6L653.8 54.1L654.0 55.6L654.3 58.2L654.5 61.7L654.7 66.0L654.9 70.8L655.1 75.6L655.4 80.2L655.6 84.0L655.8 86.5L655.8 86.7L655.9 87.4L656.0 86.6L656.3 83.9L656.5 80.0L656.7 75.5L656.9 70.6L657.2 65.8L657.4 61.6L657.6 58.1L657.8 55.6L658.0 54.1L658.3 53.7L658.5 54.2L658.7 55.5L658.9 57.6L659.2 60.1L659.4 62.8L659.6 65.5L659.8 68.1L660.1 70.2L660.3 71.8L660.5 72.8L660.7 73.1L660.9 72.8L661.2 72.0L661.4 70.8L661.6 69.2L661.8 67.6L662.1 66.0L662.3 64.5L662.5 63.4L662.7 62.5L663.0 62.0L663.2 61.8L663.4 62.0L663.6 62.4L663.8 63.0L664.1 63.8L664.3 64.7L664.5 65.6L664.7 66.4L665.0 67.1L665.2 67.6L665.4 68.0L665.6 68.1L665.9 68.0L666.1 67.8L666.3 67.4L666.5 66.9L666.7 66.4L667.0 65.9L667.2 65.4L667.4 65.0L667.6 64.7L667.9 64.6L668.1 64.5L668.3 64.6L668.5 64.7L668.8 64.9L669.0 65.1L669.2 65.4L669.4 65.7L669.6 65.9L669.9 66.1L670.1 66.2L670.3 66.3L670.5 66.4L670.8 66.4L671.0 66.3L671.2 66.2L671.4 66.1L671.7 65.9L671.9 65.8L672.1 65.7L672.3 65.6L672.6 65.6L672.8 65.5L673.0 65.5L673.2 65.6L673.4 65.6L673.7 65.6L673.9 65.7L674.1 65.7L674.3 65.7L674.6 65.8L674.8 65.8L675.0 65.8L675.2 65.8L675.5 65.8L675.7 65.8L675.9 65.8L676.1 65.8L676.3 65.8L676.6 65.8L676.8 65.8L677.0 65.8L677.2 65.8L677.5 65.8L677.7 65.8L677.9 65.8L678.1 65.8L678.4 65.8L678.6 65.8L678.8 65.8" stroke="#880707" stroke-width="2.0" fill="none" stroke-linejoin="round"/>
<path d="M522.8 65.8L523.0 65.8L523.2 65.8L523.5 65.8L523.7 65.8L523.9 65.8L524.1 65.8L524.4 65.8L524.6 65.8L524.8 65.8L525.0 65.8L525.3 65.8L525.5 65.8L525.7 65.8L525.9 65.8L526.1 65.8L526.4 65.8L526.6 65.8L526.8 65.8L527.0 65.8L527.3 65.7L527.5 65.7L527.7 65.7L527.9 65.6L528.2 65.6L528.4 65.5L528.6 65.5L528.8 65.5L529.0 65.5L529.3 65.6L529.5 65.7L529.7 65.8L529.9 65.9L530.2 66.1L530.4 66.2L530.6 66.3L530.8 66.4L531.1 66.4L531.3 66.3L531.5 66.2L531.7 66.1L532.0 65.9L532.2 65.7L532.4 65.4L532.6 65.2L532.8 64.9L533.1 64.8L533.3 64.7L533.5 64.6L533.7 64.7L534.0 64.8L534.2 65.1L534.4 65.4L534.6 65.9L534.9 66.4L535.1 66.9L535.3 67.3L535.5 67.7L535.7 67.9L536.0 68.0L536.2 67.9L536.4 67.5L536.6 67.0L536.9 66.4L537.1 65.6L537.3 64.7L537.5 63.9L537.8 63.2L538.0 62.6L538.2 62.2L538.4 62.1L538.6 62.2L538.9 62.7L539.1 63.5L539.3 64.6L539.5 66.0L539.8 67.5L540.0 69.0L540.2 70.5L540.4 71.7L540.7 72.5L540.9 72.7L541.1 72.4L541.3 71.5L541.5 70.0L541.8 67.9L542.0 65.5L542.2 63.0L542.4 60.4L542.7 58.0L542.9 56.1L543.1 54.8L543.3 54.3L543.6 54.7L543.8 56.1L544.0 58.5L544.2 61.8L544.4 65.8L544.7 70.3L544.9 75.0L545.1 79.4L545.3 83.0L545.6 85.6L545.7 86.4L545.8 85.7L545.8 85.5L546.0 83.2L546.2 79.5L546.5 75.2L546.7 70.5L546.9 66.0L547.1 61.9L547.3 58.6L547.6 56.1L547.8 54.7L548.0 54.3L548.2 54.7L548.5 56.0L548.7 57.9L548.9 60.3L549.1 62.9L549.4 65.4L549.6 67.8L549.8 69.9L550.0 71.4L550.3 72.4L550.5 72.7L550.7 72.5L550.9 71.7L551.1 70.5L551.4 69.1L551.6 67.5L551.8 66.0L552.0 64.7L552.3 63.5L552.5 62.7L552.7 62.2L552.9 62.1L553.2 62.2L553.4 62.5L553.6 63.1L553.8 63.9L554.0 64.7L554.3 65.5L554.5 66.3L554.7 67.0L554.9 67.5L555.2 67.9L555.4 68.0L555.6 67.9L555.8 67.7L556.1 67.3L556.3 66.9L556.5 66.4L556.7 65.9L556.9 65.5L557.2 65.1L557.4 64.8L557.6 64.7L557.8 64.6L558.1 64.6L558.3 64.8L558.5 64.9L558.7 65.2L559.0 65.4L559.2 65.7L559.4 65.9L559.6 66.1L559.8 66.2L560.1 66.3L560.3 66.4L560.5 66.4L560.7 66.3L561.0 66.2L561.2 66.1L561.4 65.9L561.6 65.8L561.9 65.7L562.1 65.6L562.3 65.5L562.5 65.5L562.7 65.5L563.0 65.5L563.2 65.6L563.4 65.6L563.6 65.7L563.9 65.7L564.1 65.7L564.3 65.8L564.5 65.8L564.8 65.8L565.0 65.8L565.2 65.8L565.4 65.8L565.6 65.8L565.9 65.8L566.1 65.8L566.3 65.8L566.5 65.8L566.8 65.8L567.0 65.8L567.2 65.8L567.4 65.8L567.7 65.8L567.9 65.8L568.1 65.8L568.3 65.8L568.6 65.8L568.8 65.8L569.0 65.8L569.2 65.8L569.4 65.8L569.7 65.8L569.9 65.8L570.1 65.8L570.3 65.8L570.6 65.8L570.8 65.8L571.0 65.8L571.2 65.8L571.5 65.8L571.7 65.8L571.9 65.8L572.1 65.8L572.3 65.8L572.6 65.8L572.8 65.8L573.0 65.8L573.2 65.8L573.5 65.8L573.7 65.8L573.9 65.7L574.1 65.7L574.4 65.7L574.6 65.7L574.8 65.7L575.0 65.8L575.2 65.8L575.5 65.8L575.7 65.8L575.9 65.8L576.1 65.9L576.4 65.9L576.6 65.9L576.8 65.9L577.0 65.8L577.3 65.8L577.5 65.7L577.7 65.6L577.9 65.5L578.1 65.5L578.4 65.4L578.6 65.3L578.8 65.3L579.0 65.3L579.3 65.4L579.5 65.5L579.7 65.7L579.9 65.9L580.2 66.2L580.4 66.5L580.6 66.7L580.8 66.9L581.0 67.0L581.3 66.9L581.5 66.8L581.7 66.5L581.9 66.2L582.2 65.9L582.4 65.6L582.6 65.3L582.8 65.1L583.1 64.9L583.3 64.8L583.5 64.7L583.7 64.8L584.0 64.8L584.2 65.0L584.4 65.2L584.6 65.5L584.8 65.9L585.1 66.4L585.3 66.9L585.5 67.4L585.7 67.7L586.0 68.0L586.2 68.0L586.4 67.8L586.6 67.5L586.9 66.9L587.1 66.2L587.3 65.5L587.5 64.7L587.7 63.9L588.0 63.2L588.2 62.7L588.4 62.3L588.6 62.3L588.9 62.4L589.1 62.9L589.3 63.7L589.5 64.8L589.8 66.2L590.0 67.8L590.2 69.4L590.4 70.9L590.6 72.1L590.9 72.8L591.1 73.0L591.3 72.5L591.5 71.4L591.8 69.7L592.0 67.6L592.2 65.2L592.4 62.6L592.7 60.1L592.9 57.9L593.1 56.1L593.3 55.0L593.5 54.7L593.8 55.1L594.0 56.5L594.2 58.9L594.4 62.3L594.7 66.5L594.9 71.3L595.1 76.2L595.3 80.7L595.6 84.5L595.8 86.9L596.0 87.6L596.2 86.4L596.4 83.4L596.7 78.5L596.9 72.2L597.1 65.0L597.3 57.3L597.6 49.8L597.8 43.0L598.0 37.6L598.2 34.0L598.5 32.8L598.7 34.1L598.9 38.3L599.1 45.1L599.3 54.6L599.6 66.2L599.8 79.1L600.0 92.4L600.2 104.9L600.5 115.4L600.7 122.7L600.8 124.9L600.9 122.7L601.1 115.4L601.4 104.9L601.6 92.4L601.8 79.1L602.0 66.2L602.3 54.6L602.5 45.1L602.7 38.3L602.9 34.1L603.1 32.8L603.4 34.0L603.6 37.6L603.8 43.0L604.0 49.8L604.3 57.3L604.5 65.0L604.7 72.2L604.9 78.5L605.2 83.4L605.4 86.4L605.6 87.6L605.8 86.9L606.0 84.5L606.3 80.7L606.5 76.2L606.7 71.3L606.9 66.5L607.2 62.3L607.4 58.9L607.6 56.5L607.8 55.1L608.1 54.7L608.3 55.0L608.5 56.1L608.7 57.9L608.9 60.1L609.2 62.6L609.4 65.2L609.6 67.6L609.8 69.7L610.1 71.4L610.3 72.5L610.5 73.0L610.7 72.8L611.0 72.1L611.2 70.9L611.4 69.4L611.6 67.8L611.8 66.2L612.1 64.8L612.3 63.7L612.5 62.9L612.7 62.4L613.0 62.3L613.2 62.3L613.4 62.7L613.6 63.2L613.9 63.9L614.1 64.7L614.3 65.5L614.5 66.2L614.7 66.9L615.0 67.5L615.2 67.8L615.4 68.0L615.6 68.0L615.9 67.7L616.1 67.4L616.3 66.9L616.5 66.4L616.8 65.9L617.0 65.5L617.2 65.2L617.4 65.0L617.6 64.8L617.9 64.8L618.1 64.7L618.3 64.8L618.5 64.9L618.8 65.1L619.0 65.3L619.2 65.6L619.4 65.9L619.7 66.2L619.9 66.5L620.1 66.8L620.3 66.9L620.6 67.0L620.8 66.9L621.0 66.7L621.2 66.5L621.4 66.2L621.7 65.9L621.9 65.7L622.1 65.5L622.3 65.4L622.6 65.3L622.8 65.3L623.0 65.3L623.2 65.4L623.5 65.5L623.7 65.5L623.9 65.6L624.1 65.7L624.3 65.8L624.6 65.8L624.8 65.9L625.0 65.9L625.2 65.9L625.5 65.9L625.7 65.8L625.9 65.8L626.1 65.8L626.4 65.8L626.6 65.8L626.8 65.7L627.0 65.7L627.2 65.7L627.5 65.7L627.7 65.7L627.9 65.8L628.1 65.8L628.4 65.8L628.6 65.8L628.8 65.8L629.0 65.8L629.3 65.8L629.5 65.8L629.7 65.8L629.9 65.8L630.1 65.8L630.4 65.8L630.6 65.8L630.8 65.8L631.0 65.8L631.3 65.8L631.5 65.8L631.7 65.8L631.9 65.8L632.2 65.8L632.4 65.8L632.6 65.8L632.8 65.8L633.0 65.8L633.3 65.8L633.5 65.8L633.7 65.8L633.9 65.8L634.2 65.8L634.4 65.8L634.6 65.8L634.8 65.8L635.1 65.8L635.3 65.8L635.5 65.8L635.7 65.8L636.0 65.8L636.2 65.8L636.4 65.8L636.6 65.8L636.8 65.8L637.1 65.8L637.3 65.8L637.5 65.7L637.7 65.7L638.0 65.7L638.2 65.6L638.4 65.6L638.6 65.5L638.9 65.5L639.1 65.5L639.3 65.5L639.5 65.6L639.7 65.7L640.0 65.8L640.2 65.9L640.4 66.1L640.6 66.2L640.9 66.3L641.1 66.4L641.3 66.4L641.5 66.3L641.8 66.2L642.0 66.1L642.2 65.9L642.4 65.7L642.6 65.4L642.9 65.2L643.1 64.9L643.3 64.8L643.5 64.6L643.8 64.6L644.0 64.7L644.2 64.8L644.4 65.1L644.7 65.5L644.9 65.9L645.1 66.4L645.3 66.9L645.5 67.3L645.8 67.7L646.0 67.9L646.2 68.0L646.4 67.9L646.7 67.5L646.9 67.0L647.1 66.3L647.3 65.5L647.6 64.7L647.8 63.9L648.0 63.1L648.2 62.5L648.4 62.2L648.7 62.1L648.9 62.2L649.1 62.7L649.3 63.5L649.6 64.7L649.8 66.0L650.0 67.5L650.2 69.1L650.5 70.5L650.7 71.7L650.9 72.5L651.1 72.7L651.3 72.4L651.6 71.4L651.8 69.9L652.0 67.8L652.2 65.4L652.5 62.9L652.7 60.3L652.9 57.9L653.1 56.0L653.4 54.7L653.6 54.3L653.8 54.7L654.0 56.1L654.3 58.6L654.5 61.9L654.7 66.0L654.9 70.5L655.1 75.2L655.4 79.5L655.6 83.2L655.8 85.5L655.8 85.7L655.9 86.4L656.0 85.6L656.3 83.0L656.5 79.4L656.7 75.0L656.9 70.3L657.2 65.8L657.4 61.8L657.6 58.5L657.8 56.1L658.0 54.7L658.3 54.3L658.5 54.8L658.7 56.1L658.9 58.0L659.2 60.4L659.4 63.0L659.6 65.5L659.8 67.9L660.1 70.0L660.3 71.5L660.5 72.4L660.7 72.7L660.9 72.5L661.2 71.7L661.4 70.5L661.6 69.0L661.8 67.5L662.1 66.0L662.3 64.6L662.5 63.5L662.7 62.7L663.0 62.2L663.2 62.1L663.4 62.2L663.6 62.6L663.8 63.2L664.1 63.9L664.3 64.7L664.5 65.6L664.7 66.4L665.0 67.0L665.2 67.5L665.4 67.9L665.6 68.0L665.9 67.9L666.1 67.7L666.3 67.3L666.5 66.9L666.7 66.4L667.0 65.9L667.2 65.4L667.4 65.1L667.6 64.8L667.9 64.7L668.1 64.6L668.3 64.7L668.5 64.8L668.8 64.9L669.0 65.2L669.2 65.4L669.4 65.7L669.6 65.9L669.9 66.1L670.1 66.2L670.3 66.3L670.5 66.4L670.8 66.4L671.0 66.3L671.2 66.2L671.4 66.1L671.7 65.9L671.9 65.8L672.1 65.7L672.3 65.6L672.6 65.5L672.8 65.5L673.0 65.5L673.2 65.5L673.4 65.6L673.7 65.6L673.9 65.7L674.1 65.7L674.3 65.7L674.6 65.8L674.8 65.8L675.0 65.8L675.2 65.8L675.5 65.8L675.7 65.8L675.9 65.8L676.1 65.8L676.3 65.8L676.6 65.8L676.8 65.8L677.0 65.8L677.2 65.8L677.5 65.8L677.7 65.8L677.9 65.8L678.1 65.8L678.4 65.8L678.6 65.8L678.8 65.8" stroke="#0a0a9e" stroke-width="2.0" fill="none" stroke-linejoin="round"/>
</g>
<g clip-path="url(#cd)">
<path d="M50.6 297.3L51.3 297.3L51.9 297.3L52.6 297.3L53.3 297.3L54.0 297.3L54.6 297.3L55.3 297.3L56.0 297.3L56.6 297.3L57.3 297.3L58.0 297.3L58.6 297.3L59.3 297.3L60.0 297.3L60.7 297.3L61.3 297.3L62.0 297.3L62.7 297.3L63.3 297.3L64.0 297.3L64.7 297.3L65.3 297.3L66.0 297.3L66.7 297.3L67.4 297.3L68.0 297.2L68.7 297.2L69.4 297.2L70.0 297.2L70.7 297.2L71.4 297.2L72.1 297.2L72.7 297.2L73.4 297.2L74.1 297.2L74.7 297.2L75.4 297.2L76.1 297.1L76.7 297.1L77.4 297.1L78.1 297.1L78.8 297.1L79.4 297.1L80.1 297.0L80.8 297.0L81.4 297.0L82.1 297.0L82.8 297.0L83.4 297.0L84.1 296.9L84.8 296.9L85.5 296.9L86.1 296.8L86.8 296.8L87.5 296.8L88.1 296.7L88.8 296.7L89.5 296.7L90.2 296.6L90.8 296.6L91.5 296.5L92.2 296.5L92.8 296.4L93.5 296.4L94.2 296.3L94.8 296.2L95.5 296.2L96.2 296.1L96.9 296.0L97.5 295.8L98.2 295.7L98.9 295.6L99.5 295.5L100.2 295.3L100.9 295.1L101.5 295.0L102.2 294.8L102.9 294.6L103.6 294.4L104.2 294.2L104.9 293.9L105.6 293.7L106.2 293.3L106.9 292.9L107.6 292.5L108.3 292.1L108.9 291.6L109.6 291.1L110.3 290.6L110.9 290.1L111.6 289.6L112.3 288.9L112.9 288.1L113.6 287.2L114.3 286.2L115.0 285.0L115.6 283.8L116.3 282.5L117.0 281.2L117.6 279.8L118.3 278.2L119.0 276.4L119.6 274.5L120.3 272.5L121.0 270.2L121.7 267.7L122.3 264.9L123.0 262.1L123.7 259.4L124.3 256.5L125.0 253.5L125.7 250.0L126.4 246.5L127.0 243.7L127.7 240.8L128.4 238.8L129.0 238.8L129.7 240.8L130.4 243.7L131.0 246.5L131.7 250.0L132.4 253.5L133.1 256.5L133.7 259.4L134.4 262.1L135.1 264.9L135.7 267.7L136.4 270.2L137.1 272.5L137.8 274.5L138.4 276.4L139.1 278.2L139.8 279.8L140.4 281.2L141.1 282.5L141.8 283.8L142.4 285.0L143.1 286.2L143.8 287.2L144.5 288.1L145.1 288.9L145.8 289.6L146.5 290.1L147.1 290.6L147.8 291.1L148.5 291.6L149.1 292.1L149.8 292.5L150.5 292.9L151.2 293.3L151.8 293.7L152.5 293.9L153.2 294.2L153.8 294.4L154.5 294.6L155.2 294.8L155.9 295.0L156.5 295.1L157.2 295.3L157.9 295.5L158.5 295.6L159.2 295.7L159.9 295.8L160.5 296.0L161.2 296.1L161.9 296.2L162.6 296.2L163.2 296.3L163.9 296.4L164.6 296.4L165.2 296.5L165.9 296.5L166.6 296.6L167.2 296.6L167.9 296.7L168.6 296.7L169.3 296.7L169.9 296.8L170.6 296.8L171.3 296.8L171.9 296.9L172.6 296.9L173.3 296.9L174.0 297.0L174.6 297.0L175.3 297.0L176.0 297.0L176.6 297.0L177.3 297.0L178.0 297.1L178.6 297.1L179.3 297.1L180.0 297.1L180.7 297.1L181.3 297.1L182.0 297.2L182.7 297.2L183.3 297.2L184.0 297.2L184.7 297.2L185.3 297.2L186.0 297.2L186.7 297.2L187.4 297.2L188.0 297.2L188.7 297.2L189.4 297.2L190.0 297.3L190.7 297.3L191.4 297.3L192.1 297.3L192.7 297.3L193.4 297.3L194.1 297.3L194.7 297.3L195.4 297.3L196.1 297.3L196.7 297.3L197.4 297.3L198.1 297.3L198.8 297.3L199.4 297.3L200.1 297.3L200.8 297.3L201.4 297.3L202.1 297.3L202.8 297.3L203.4 297.3L204.1 297.3L204.8 297.3L205.5 297.3L206.1 297.3L206.8 297.3L206.8 311.8L206.1 311.8L205.5 311.8L204.8 311.8L204.1 311.8L203.4 311.8L202.8 311.8L202.1 311.8L201.4 311.8L200.8 311.8L200.1 311.8L199.4 311.8L198.8 311.8L198.1 311.8L197.4 311.8L196.7 311.8L196.1 311.8L195.4 311.8L194.7 311.8L194.1 311.8L193.4 311.8L192.7 311.8L192.1 311.8L191.4 311.8L190.7 311.8L190.0 311.8L189.4 311.8L188.7 311.8L188.0 311.8L187.4 311.8L186.7 311.8L186.0 311.8L185.3 311.8L184.7 311.7L184.0 311.7L183.3 311.7L182.7 311.7L182.0 311.7L181.3 311.7L180.7 311.7L180.0 311.7L179.3 311.6L178.6 311.6L178.0 311.6L177.3 311.6L176.6 311.6L176.0 311.6L175.3 311.5L174.6 311.5L174.0 311.5L173.3 311.5L172.6 311.5L171.9 311.4L171.3 311.4L170.6 311.4L169.9 311.3L169.3 311.3L168.6 311.3L167.9 311.2L167.2 311.2L166.6 311.1L165.9 311.1L165.2 311.0L164.6 311.0L163.9 310.9L163.2 310.9L162.6 310.8L161.9 310.7L161.2 310.6L160.5 310.5L159.9 310.4L159.2 310.3L158.5 310.1L157.9 310.0L157.2 309.8L156.5 309.7L155.9 309.5L155.2 309.3L154.5 309.1L153.8 308.9L153.2 308.7L152.5 308.5L151.8 308.2L151.2 307.9L150.5 307.5L149.8 307.1L149.1 306.6L148.5 306.1L147.8 305.5L147.1 304.8L146.5 304.1L145.8 303.3L145.1 302.4L144.5 301.4L143.8 300.3L143.1 299.0L142.4 297.6L141.8 296.2L141.1 294.7L140.4 293.1L139.8 291.5L139.1 289.6L138.4 287.7L137.8 285.5L137.1 283.3L136.4 280.8L135.7 278.0L135.1 275.0L134.4 272.0L133.7 269.1L133.1 266.0L132.4 262.7L131.7 259.0L131.0 255.3L130.4 252.2L129.7 249.1L129.0 247.0L128.4 247.0L127.7 249.1L127.0 252.2L126.4 255.3L125.7 259.0L125.0 262.7L124.3 266.0L123.7 269.1L123.0 272.0L122.3 275.0L121.7 278.0L121.0 280.8L120.3 283.3L119.6 285.5L119.0 287.7L118.3 289.6L117.6 291.5L117.0 293.1L116.3 294.7L115.6 296.2L115.0 297.6L114.3 299.0L113.6 300.3L112.9 301.4L112.3 302.4L111.6 303.3L110.9 304.1L110.3 304.8L109.6 305.5L108.9 306.1L108.3 306.6L107.6 307.1L106.9 307.5L106.2 307.9L105.6 308.2L104.9 308.5L104.2 308.7L103.6 308.9L102.9 309.1L102.2 309.3L101.5 309.5L100.9 309.7L100.2 309.8L99.5 310.0L98.9 310.1L98.2 310.3L97.5 310.4L96.9 310.5L96.2 310.6L95.5 310.7L94.8 310.8L94.2 310.9L93.5 310.9L92.8 311.0L92.2 311.0L91.5 311.1L90.8 311.1L90.2 311.2L89.5 311.2L88.8 311.3L88.1 311.3L87.5 311.3L86.8 311.4L86.1 311.4L85.5 311.4L84.8 311.5L84.1 311.5L83.4 311.5L82.8 311.5L82.1 311.5L81.4 311.6L80.8 311.6L80.1 311.6L79.4 311.6L78.8 311.6L78.1 311.6L77.4 311.7L76.7 311.7L76.1 311.7L75.4 311.7L74.7 311.7L74.1 311.7L73.4 311.7L72.7 311.7L72.1 311.8L71.4 311.8L70.7 311.8L70.0 311.8L69.4 311.8L68.7 311.8L68.0 311.8L67.4 311.8L66.7 311.8L66.0 311.8L65.3 311.8L64.7 311.8L64.0 311.8L63.3 311.8L62.7 311.8L62.0 311.8L61.3 311.8L60.7 311.8L60.0 311.8L59.3 311.8L58.6 311.8L58.0 311.8L57.3 311.8L56.6 311.8L56.0 311.8L55.3 311.8L54.6 311.8L54.0 311.8L53.3 311.8L52.6 311.8L51.9 311.8L51.3 311.8L50.6 311.8Z" fill="#f5a2a2" fill-opacity="0.28" filter="url(#blur)"/>
<path d="M50.6 309.9h0m.1 3.3h0m.1-9.5h0m.1-2.6h0m.1-1.4h0m.1 6.6h0m0 9.1h0m.1-8.6h0m.1-6.8h0m.2 9.2h0m0-5.9h0m.3-7.8h0m0 6.8h0m.2-1.1h0m.1-.1h0m0 .6h0m.1 5.9h0m.1-14h0m.1 14.3h0m0-8.8h0m0 4h0m.1-.6h0m.1 2.5h0m0-4.4h0m0 4.9h0m.2 .8h0m0 1h0m0-3.7h0m0 4.8h0m.2-1.7h0m0 1.1h0m.6-6.5h0m0-7.1h0m0 18.3h0m.1-7.5h0m0-1.7h0m.1-.1h0m.1 11.4h0m0-13.9h0m0-1.2h0m0 10h0m.1-2.2h0m.1-13.7h0m0 .6h0m.1 4.9h0m0 8.5h0m0-.1h0m.2-5.7h0m.2 1.3h0m.1 8.3h0m.1-9.2h0m.3-2.8h0m.1 8.1h0m.1-6.6h0m.2-1.3h0m.1 3.9h0m.2-5.4h0m.2 5.1h0m0 .2h0m.1-6.1h0m.2 5.1h0m0 .9h0m.1 1.5h0m.1 1.5h0m.1 6.8h0m.1-11.9h0m0 1.1h0m0 8.8h0m0 .6h0m.1-7h0m.1-5.5h0m0 9.3h0m.1-12.2h0m.1 9h0m0-9.1h0m0 5.7h0m.2-2.6h0m.1 7.7h0m0-5.2h0m0 4.4h0m.3-2.7h0m0-4.4h0m.1-2.3h0m.1 13.2h0m.1-7.5h0m0 .6h0m.1-4.3h0m0-.3h0m.2 6.9h0m0 3.5h0m.2-5.7h0m.2-7.7h0m.1 6.1h0m.1-1.9h0m.1 6.3h0m0-11.8h0m.1 13.7h0m0-5.4h0m0 2.4h0m.1 3.8h0m0-7.9h0m0-.3h0m.2 4.8h0m0-4.5h0m0 4h0m0-7.3h0m.1 5.6h0m0 8.1h0m0-12.8h0m.1 9.6h0m.1 0h0m.1-1.1h0m0 .1h0m.1-4.6h0m.1 8.4h0m0-10h0m.1 9.8h0m.1-12.5h0m0 17.3h0m.1-7.7h0m.1-3.1h0m.1 1.2h0m.2 5.7h0m0-3.3h0m0-2h0m0-3.1h0m.1-.1h0m0-1.3h0m0-1.1h0m.1 1h0m0 2.8h0m.1-8.1h0m0 1.9h0m0 8.9h0m0 2.7h0m.2-7.5h0m.1-2.6h0m0 15.7h0m0-14.2h0m.2 3.7h0m0-1h0m0-4.4h0m.1 8.6h0m.2-3.4h0m.1 4.6h0m.3-4.9h0m.1 6.7h0m.1-5.8h0m0-.2h0m0-5.5h0m.1 4.1h0m0-5h0m.1 8.6h0m0-13.7h0m0 9.2h0m.1 6.8h0m0-.7h0m.1-11.9h0m0-.7h0m0 7.1h0m.1 4.7h0m0 .2h0m.1-4.3h0m0-8.4h0m.1 12.9h0m.1-10.5h0m0 2.3h0m0 9h0m0-6.1h0m.1-4.1h0m0 3.8h0m.1 .7h0m.1 5.1h0m0-15.1h0m.1 2.5h0m0-1.3h0m.1 9.6h0m0-5.5h0m0 4.1h0m.1 5.7h0m.1-3.6h0m.1 3.4h0m.1 1.7h0m0-4.6h0m0-4.6h0m0-.6h0m.1 2.8h0m.1 1.2h0m.1 5.9h0m0-12.4h0m.1 6.5h0m.3-1.5h0m.1 2.5h0m0-1.8h0m.1 4.9h0m0-7.6h0m0 8.4h0m.2 1.1h0m.1 .3h0m0-6.2h0m.2-.9h0m0 1.7h0m.1 .4h0m0 0h0m.2-1.8h0m0 3h0m0-4.1h0m0 2.8h0m0 7h0m.1-14h0m.1 9.8h0m0-6.1h0m0 12.2h0m.3-6.3h0m0-7.2h0m.3-7.4h0m.2 8h0m.1 7.4h0m.3-6.2h0m0 1.5h0m.3 6.1h0m0-12.7h0m.2 6.8h0m0-.3h0m.1 6.7h0m.1-.8h0m0-3h0m.3 3.9h0m.1-2.5h0m.1 2.4h0m0-7.7h0m.1 3.1h0m0 3.5h0m.1-16.2h0m.1 21.8h0m0-9.4h0m.1-.2h0m0-.7h0m.1 4.9h0m0-5.1h0m.2-5.2h0m0 7.6h0m0-4h0m0-.2h0m.1 7.8h0m.1-3.7h0m0-4.4h0m0-4.4h0m.1 6h0m0-6.2h0m.1 10.9h0m.1 3.1h0m0-9h0m0 .8h0m.1 1.6h0m.1-9.8h0m.1 5.1h0m0 3.8h0m0 1h0m.1-1.4h0m.1-1.4h0m0-5.8h0m.1 15.5h0m0-10.8h0m0 3.5h0m0-5.6h0m.1 1h0m.1 1.4h0m0 5h0m0 5.2h0m.1-13.1h0m0 5.8h0m.1-2.1h0m0-2.7h0m.1 3.4h0m.1 3.6h0m0-1.8h0m.1 .2h0m.1 4.3h0m.1-8.8h0m.1 2.2h0m.2 5.5h0m0-4.7h0m0-1.9h0m0 5.4h0m.1-.6h0m0-1.4h0m0-6.9h0m.1 0h0m.1 4.7h0m.1-2.1h0m.2 .9h0m0-1h0m.1 8.8h0m.1-6.3h0m.1-2.8h0m0 14.5h0m.1-4.2h0m.2-14.5h0m.1 7.6h0m.1-3.3h0m0 7.2h0m0-7.9h0m0 2.6h0m.1 4.1h0m0-3.6h0m.1 5.8h0m.1 2.3h0m0 .1h0m.1 3.8h0m.1-9.3h0m0 2.6h0m0-7.7h0m.1 .7h0m0 5h0m0-1.7h0m.1 1.1h0m0 9.3h0m.3-11.9h0m.1 2.3h0m0-4.9h0m.1-3.2h0m.1-.9h0m0 3.1h0m0 14.7h0m.1-14h0m.1 2.5h0m0 5.1h0m0-8.7h0m.1 7.3h0m.1-7.2h0m.1-6.1h0m.1 13.7h0m0-6.8h0m0-1h0m.1 .1h0m0 8.2h0m.1 7.6h0m0-20h0m.1 11.2h0m0-1.1h0m0 2.1h0m0 1.6h0m0-8.2h0m.1-2.8h0m0 1.3h0m.2 5h0m.1-2.8h0m0 9.8h0m0-13.1h0m.3 9.2h0m.1 4.2h0m0-9h0m.1 4.5h0m0-13.7h0m0 8.6h0m.1-2.5h0m0-5.4h0m.2 15.4h0m.2-2.1h0m.1-11.8h0m0 8h0m0-1.3h0m.1-2.6h0m0 2.8h0m0 1.3h0m0 .8h0m.1-.5h0m.1-4.1h0m0-.4h0m.1 12.6h0m.1-4.1h0m.1 3.4h0m0-8.4h0m0 .2h0m0-6.8h0m.1 14.2h0m0-3.6h0m0 .3h0m0-4.6h0m.2-1.7h0m0-.6h0m.1-.3h0m0-.3h0m0 1.8h0m.1 1.7h0m0-2.7h0m.2 4.4h0m0-4h0m.1 .2h0m0-1.7h0m0 5.7h0m.1 8.2h0m0-8.4h0m0-3.9h0m.1 1.5h0m0-.2h0m0 4h0m.1-6.8h0m0 4.6h0m.1 4.2h0m0-5.3h0m.1 4.4h0m0-11.1h0m.1-2.4h0m.1 12h0m.2-9.5h0m.1 2.2h0m.1 2.6h0m0-.3h0m.1 6.2h0m.1 7.2h0m.1-11.5h0m0-7h0m0 10.6h0m.2-1.4h0m.1-2.9h0m.2 1.9h0m.1-7h0m0 11.1h0m0-8.9h0m.1 13.7h0m0-3.2h0m0-9h0m.1 3.4h0m.1-4.4h0m.3 10.7h0m.1-5.6h0m.1-5.3h0m.2 8.6h0m0-10h0m.1 4.4h0m0-2.6h0m0 14.7h0m.1-12h0m.1 6.9h0m0-2.8h0m.2-4.2h0m0 6.9h0m.1 5.2h0m0-9.2h0m.1-12.3h0m.1 2.7h0m.1 2.6h0m0 6.8h0m0 3.4h0m.3-6.7h0m0 1.9h0m.1 6.4h0m0-11.4h0m.1 5.6h0m0-1h0m0 .7h0m.1 .5h0m0-3.3h0m.1 7.8h0m0-12.9h0m.1 3.6h0m.2 2.7h0m.1 6.9h0m0-9.9h0m.2 12.6h0m0-13.1h0m.1 9.3h0m.1-8.8h0m0 4.6h0m.1-7.8h0m.2 12.6h0m.2 5.9h0m0-15.1h0m0 9.7h0m.1-3.9h0m0-2.4h0m.1-.8h0m0-1.7h0m.1 8.9h0m.3 .5h0m0-7.3h0m.1-1.1h0m0-1.1h0m0 8.5h0m.1-2.1h0m.1 1.8h0m0-4.4h0m.1-11.3h0m.1 21.4h0m.1-3.8h0m0-14.2h0m0 3.2h0m.2 8.2h0m0-6.3h0m0-8.5h0m.1 14.3h0m0-4.9h0m0-2.6h0m0 1.2h0m.1 3.5h0m.1 5.3h0m.1-10.9h0m.1-.3h0m0 4.9h0m.1 8.5h0m0-11.9h0m.2 9.3h0m0 3.6h0m.1-15.6h0m0 3.4h0m0-.2h0m.1 .9h0m0-.3h0m0-8.3h0m0 4.2h0m.1 10.3h0m0 1.4h0m0-9.4h0m.2 2.3h0m.1-.3h0m0 9h0m.1 3.9h0m.1-1.6h0m.1-5h0m0 4.9h0m0-.9h0m.2-.2h0m.1-6.1h0m0-2.1h0m.1 2.4h0m0 4.8h0m.1-1.3h0m.1-1.5h0m.1-6.8h0m0-6.3h0m.1 2.3h0m.1 12.2h0m.2-5.9h0m0-3.7h0m.1 1.6h0m.1-4h0m0 9.6h0m0-3.4h0m0-1.9h0m.1-5.5h0m0 2.8h0m.1 .4h0m0 12.9h0m.2-15.7h0m.1 5.9h0m0 7.9h0m.2-6.9h0m0-3.3h0m0 4.3h0m0-3.8h0m.1 9.5h0m0-17.1h0m.2 14.3h0m0-3.7h0m.1 7.9h0m.4-.3h0m.1-10.5h0m.1 6.2h0m.1 1.1h0m.1-6.8h0m.2 .9h0m0 2.5h0m.1-2.2h0m0 .2h0m0 5.9h0m.1-4.6h0m0 2.7h0m0-2.2h0m.1 7.8h0m.1-14.2h0m0 9.1h0m.1-8.4h0m0-2.6h0m0 9.4h0m.1-12.2h0m0 14.6h0m.1-3.4h0m.3 1.8h0m0 .9h0m.4-2.4h0m.1 .2h0m.1 1.7h0m0-2.4h0m0-1.6h0m.3-1.4h0m0 1.2h0m0 .4h0m.1 .3h0m.1-9.4h0m0 12.7h0m.2 4.1h0m0-8.4h0m0-1.9h0m.2 2.1h0m.1-3.5h0m0 10.9h0m.1-10.2h0m0-3.2h0m0 4.5h0m.6-2h0m0-2.9h0m.1 7.2h0m.1 7.8h0m.2-11.2h0m0-1.2h0m0 9.5h0m.1-15.5h0m0 9.9h0m0-3.4h0m0 7h0m.1 1.7h0m0-4.9h0m.1 3.8h0m.1-8.8h0m0-.4h0m.1 16.9h0m0-16.1h0m.1 11h0m0-16.8h0m.1 12.1h0m0-3.1h0m0 4h0m.1-5.3h0m0 4.8h0m0-1.7h0m.1 .4h0m0-4.1h0m.1 6.6h0m.1 .8h0m0-4.7h0m0 .2h0m0 .5h0m.2 6.7h0m.1-7.4h0m.1 4.8h0m0-1h0m.1-9h0m.2 11.2h0m0 1.3h0m0-4.2h0m.1-4.8h0m0 1.9h0m0 2.2h0m.1-8.8h0m0-.5h0m.1 18.6h0m0-8.5h0m.1 6.4h0m.1-9.5h0m.1 1.6h0m0-6.1h0m.1 16.2h0m.1-5.9h0m.1-2.6h0m0-7.4h0m.3 2.1h0m0-3.1h0m.1 3.2h0m0-.6h0m.2 5.8h0m.1 2.5h0m.1-12.5h0m0 10.5h0m0-.6h0m.1-9.6h0m.1 1.3h0m.1 8.7h0m0-8.5h0m.2-1.3h0m.1 8h0m0-4.9h0m0-3.3h0m.1 11.5h0m0-6.9h0m0 5.7h0m0-2.3h0m0 5.8h0m.1-3.7h0m0-8.1h0m.1 8.1h0m0-6.9h0m.1-1.9h0m0 7.7h0m0-4h0m0 3.9h0m.1 .5h0m.2 6.5h0m0-12h0m.1-3.9h0m.1 9.4h0m0 .7h0m0-5.8h0m0 2.6h0m.1 .8h0m.1-11.8h0m.2 10.8h0m0 3.2h0m0 .4h0m0-1.4h0m.1-10.4h0m0 4.1h0m0-3.6h0m.1 12.2h0m0-15.4h0m.2 11.9h0m0-5.3h0m.1 9.9h0m0-4.5h0m0 5.4h0m.4-7.7h0m0-3.4h0m.1 12.7h0m0-5.9h0m0 .2h0m.1-1.7h0m0-.7h0m.1-4.5h0m0 3.1h0m0 5.1h0m.1-7.6h0m.1 3.7h0m0 6.8h0m0-14.7h0m.1 8.3h0m.1 5.5h0m.4-6.1h0m.1 3.9h0m.1 1.9h0m.1-9h0m0 9.5h0m.1-1.8h0m0 2.8h0m.1-5.3h0m.1-1.6h0m.1-3.3h0m0-6.4h0m0 9.5h0m.2 3.4h0m0-1.3h0m.1-4.4h0m.1 2.7h0m0-4.7h0m.1-1.4h0m0 8.5h0m.1-4.2h0m.1-1h0m.1 5.8h0m.1 .4h0m0-3.9h0m.1 3.4h0m0-5.5h0m.1-6.1h0m0 4.5h0m.2 2.5h0m.2 3.9h0m.1-13.2h0m.1 13.3h0m0-5.5h0m.1 3.3h0m0-3.3h0m.1-4.3h0m0 4.6h0m.1-.8h0m.1-3.2h0m.3 15.5h0m.2-7.9h0m.2 .8h0m.1 7.7h0m.2-6.1h0m0-9.9h0m.2-2.6h0m0 16.8h0m0-5.4h0m.2-6.3h0m.1 3h0m.1-7h0m0 6h0m.1-.6h0m0 1.6h0m.1 2.9h0m.2-9.2h0m0-3.8h0m0 .9h0m.1 8h0m0-.7h0m0 1.1h0m.3-4.2h0m.1 1.9h0m0-.5h0m0 3h0m0 7.3h0m.1-1h0m.1-9.3h0m0 1.3h0m.1 2h0m0 4.1h0m.1-6.6h0m0-4.1h0m.1 3.5h0m.1-3.7h0m0 4.2h0m.1 8.7h0m.1-7.3h0m0 4.9h0m.1-11.1h0m0 1.3h0m0-4.2h0m0 7h0m0 7.8h0m.2 2.1h0m.1-3h0m0-5h0m0-4.1h0m.1 1.2h0m.1-2.7h0m.1 9.6h0m.4-6.8h0m.1 .5h0m.2 3.3h0m.1 3.5h0m.1-5.9h0m0-1.7h0m0 6.5h0m.1 1h0m0-11h0m.1 1.9h0m.2 13h0m.1-11.2h0m0-1.1h0m.3 5.4h0m.1 .5h0m.1-3.3h0m0-5.1h0m.1 3.2h0m0 .7h0m.1 6.5h0m0-11.3h0m0 3.6h0m0 7.2h0m.2-.4h0m0-.9h0m0-4.5h0m0 1.4h0m.1-5h0m0 10.6h0m.1-13.5h0m.1 15.7h0m0-4.8h0m0-10.3h0m.1-1h0m.2 12.8h0m0-2.5h0m.1-6.3h0m0-8.2h0m0 14.4h0m.1 .4h0m0-9.8h0m0 5.7h0m.1 3h0m.1-6.7h0m.2-.5h0m0-2.7h0m.1 12.9h0m.1-4.8h0m0 5.7h0m0-7.7h0m.1-.4h0m.1 1.1h0m.1-6.5h0m0 7.3h0m.1-8.3h0m.1 10.8h0m0-.8h0m.2-1.4h0m0-10.8h0m.1 4.3h0m.1 3.5h0m0-1.7h0m0 6h0m.2-.6h0m0-6h0m.1-.5h0m0 5.1h0m.3-8.9h0m.1 8.3h0m.1 5.3h0m0-6.4h0m.1 .2h0m.1-7.3h0m.1 10.4h0m.1-9.7h0m0 5.7h0m0-3.7h0m.1 3.6h0m0-2h0m.1 7.5h0m0-9.1h0m.2 3.1h0m.1-2.9h0m0 4.3h0m0-2.8h0m0 8.7h0m.2-10h0m0 .4h0m0 .3h0m.3 1.4h0m0 6.3h0m0-17.5h0m0 9.6h0m.1-7.4h0m.1 7h0m0 4.5h0m0-3.4h0m.1-1h0m.1-.2h0m0 2.5h0m.1-3.5h0m.1-2.8h0m.1 3.4h0m0-.9h0m.1-3.4h0m0 .9h0m0 6.2h0m.2-11h0m.1 5.9h0m.1-3h0m.1 6.3h0m0-1.4h0m0-1.8h0m.1-4.2h0m.1 0h0m0-4.5h0m.1 7.5h0m0 .8h0m.1 1.5h0m0-3.3h0m0 4.5h0m0-7.3h0m.1-1.1h0m0 10.4h0m.1-6h0m0-6.4h0m.1 10.2h0m0 .7h0m0-8.1h0m.1 8.1h0m0-1.8h0m.2-9.4h0m.1 5h0m.1 4.6h0m.1-4.5h0m.1 1.4h0m0-4h0m0 9.3h0m0-4.8h0m0-2.2h0m.1 4h0m0 .7h0m0-3.6h0m.1-1.3h0m0-.6h0m0-1.4h0m0-3.1h0m.1-4.1h0m.1 11.6h0m0-4.9h0m.1 4.5h0m.2-2.6h0m0-4.2h0m.2-5.7h0m.1 12.5h0m0-9.1h0m.1 8.1h0m0-12.2h0m0 6.4h0m0 5.8h0m.1-3.6h0m0 .1h0m0-1.4h0m.1-.6h0m0 9.4h0m0-10.4h0m0-.2h0m0-1.7h0m0 1.7h0m.1 6.8h0m.1-1.1h0m.1-4.6h0m.1-2.7h0m.2 5.1h0m0 2.6h0m.1 2.6h0m.1-.7h0m.2-10h0m.2 4.5h0m.1-2.3h0m0-1.1h0m.1-1.2h0m0 2.5h0m0-1.4h0m.1-.4h0m.2 .3h0m0-4.9h0m.1-2.7h0m0 9.9h0m.1-5.3h0m0-1.3h0m.2 1.2h0m0-7h0m0 7.3h0m0 .7h0m.1-.3h0m0-3.1h0m.1 2.2h0m.2-9.4h0m0 4.9h0m0 2.3h0m0-1.3h0m.3 1.6h0m0-5.7h0m.1 9.9h0m.1-3.8h0m.1-3.9h0m.1 2h0m0-4.6h0m.1 8.4h0m.1-3.3h0m.2-5.8h0m.1 3.1h0m.2 .4h0m.1-4.2h0m0-3.5h0m.2 9.5h0m.3-5.6h0m.1-5.4h0m0 .4h0m0 4h0m.1 .2h0m0-2.6h0m0-.7h0m.1 .2h0m0-.9h0m.1 2.6h0m.1-5.8h0m0 9.1h0m0-8.6h0m.1 2.9h0m0-3h0m0 6.3h0m0 1.4h0m.1-6.9h0m0-.3h0m0 8.4h0m0-9.3h0m.1 .7h0m0 6.3h0m.2-9.5h0m0 4.3h0m0-4.5h0m.1-2.4h0m0 3.5h0m.1 3.5h0m0-6.1h0m.1 4.1h0m.1-2.7h0m.1 2.7h0m0 .7h0m0 .3h0m.1-3h0m0 .8h0m.2-5.1h0m0-2.3h0m.1 9.9h0m0 2.9h0m0-.2h0m.1-6.1h0m.2-8.2h0m.1 8.7h0m0-3.2h0m0 1.7h0m.5-6.9h0m.1 2.3h0m.2 .3h0m0-.7h0m.2 3.9h0m.1-3.9h0m0-1.4h0m0-4.2h0m.2 4.5h0m.2 1.3h0m.1-5.9h0m0 1h0m.1 .6h0m.1 5.3h0m0-2.7h0m0-6.5h0m.1 4.5h0m0-4.4h0m0 4.3h0m0-4.3h0m.1-1.7h0m0 4.7h0m0-.4h0m.1-2.5h0m0 3.9h0m.3-.5h0m.1-5.6h0m.1 5.4h0m0-1h0m.1-6.8h0m.2 3.8h0m.3 3.5h0m0-3.8h0m0 3.6h0m0-2.2h0m.1-.7h0m0 0h0m.1 4.2h0m.1-1.4h0m.2-2.9h0m.2-3h0m.2 9h0m0-2.6h0m.1 4.7h0m0-4.9h0m0-.8h0m0-1h0m0 3.9h0m.1 .2h0m.2 6.8h0m.1-2.8h0m0-5.3h0m.1 4.3h0m0-1.7h0m.1 2h0m0-1.6h0m0 4.4h0m.2-3h0m.2 .1h0m0 .4h0m0-6.4h0m.1 8.8h0m.2-.7h0m0 .3h0m.1-4.2h0m0 3.1h0m.1 5.9h0m.1-5.8h0m0 1.9h0m0-4.6h0m0 10h0m.1-8.5h0m0 6.3h0m0-2.5h0m.2 1.6h0m0-1.4h0m.1-.3h0m.1 .1h0m0 2.5h0m0 .8h0m.2 .4h0m0-.3h0m.2 2.8h0m.1-3.5h0m.1 7.8h0m.1-7.2h0m0 5.6h0m.1-4.4h0m.1-1.7h0m.1 1.2h0m0-.9h0m.1 5.8h0m0-3.6h0m.2 1.6h0m0 3.4h0m0 2.1h0m.3 .4h0m0-7.5h0m.1 6h0m0-4.4h0m.1 3.1h0m0-1.5h0m0 5.3h0m0-.3h0m.3 2.6h0m.1-2.1h0m0-4.7h0m.3 6.1h0m.2 1h0m0-1.4h0m0 .1h0m0-1.1h0m.1 3.5h0m0-2.1h0m.1 7.5h0m.1-9.6h0m.1-.7h0m.1 6.3h0m0-3.8h0m.1 2.5h0m.1 3.2h0m.2-2.7h0m0 2.4h0m.3 1.3h0m0 1.1h0m0-.6h0m.2-8h0m.4 5.3h0m.1 2.2h0m.1 1.5h0m0 0h0m.1 3.3h0m.1 2.7h0m.1 1.1h0m0-1.9h0m0-2.2h0m.1 1h0m0 1.1h0m0-7.3h0m0 5.5h0m0-6.1h0m.2 8.2h0m.1-8h0m0 2.1h0m.1-.7h0m0-3h0m0 5.9h0m.1 3.1h0m.2-4.7h0m.1-5.4h0m0 9.4h0m.1 .2h0m.1-6.6h0m0 5.1h0m0 5.4h0m0-2.9h0m.1-4.2h0m.1 4.5h0m0 1.2h0m.1-6.1h0m0 .1h0m.1-2.1h0m0 11.9h0m.1-2.9h0m0-2.7h0m.1-6.7h0m0 4.3h0m.1 4.3h0m0 0h0m.1-3.8h0m.2 7.4h0m0-6.1h0m0 .7h0m0-3.6h0m0 4.8h0m0 2.8h0m.1 4.6h0m.2-5.8h0m0-9.4h0m0 4.9h0m0 6h0m.1 1.9h0m.1-2.1h0m0-.3h0m0-.8h0m0-4.7h0m.1-2.9h0m0 8.8h0m.1 4.2h0m0-5.8h0m.1 3.7h0m.1-2.1h0m0 7.3h0m.1-11.1h0m.1 3.8h0m0-8.3h0m0 6h0m.2 8.2h0m.3-.7h0m0-.1h0m.1-2.3h0m.1-5.7h0m.1 8h0m.1-.7h0m.1-10.1h0m0 11.7h0m.2-7.7h0m.2 3.6h0m0 1.5h0m0 4.5h0m0-6.5h0m.1 8.9h0m.2 0h0m0-11.2h0m.1 4.4h0m.1-.7h0m0-8.4h0m0 6h0m0 4.1h0m0 3.1h0m0-7.2h0m.1 .5h0m0-3.9h0m.2 7.4h0m0-1.7h0m0-.8h0m0 2.5h0m.1 3.2h0m.1-5.1h0m.1 .1h0m0-2.2h0m.1 .5h0m.1-1.1h0m.1 4.9h0m0-2.7h0m0-2.4h0m0 8.4h0m.1-4.8h0m0 .4h0m0 7h0m0-4.9h0m.1-1.1h0m.2 2.2h0m.1 5.7h0m0-5.3h0m0 4.7h0m.1-.3h0m.1-3.9h0m0-.8h0m.1 2.6h0m.1 3.6h0m.1-7.2h0m.1 .3h0m.1 3.6h0m0-7.9h0m0 3.4h0m.1 5.2h0m0-8.9h0m.1 3h0m0 4.3h0m.4 4.6h0m0-2h0m.2-5.3h0m0 3.5h0m0 .4h0m0 3.2h0m.1-4.3h0m.1 2.8h0m0-4.9h0m.2-3.8h0m0-.9h0m0 4.1h0m0-.9h0m0 5h0m.2-1.7h0m.1 7.1h0m0-5.7h0m0 5h0m0-5.9h0m.2-1h0m0-1.1h0m.1-.2h0m.2 3.3h0m.1 4.1h0m0-1.5h0m.1-3.4h0m0 5.8h0m.1-6.9h0m0 1.2h0m.2-2.9h0m.2 2.1h0m.1 6h0m.1-1.2h0m0 3.8h0m0-5h0m.1 4.5h0m.2-4.9h0m0-4.5h0m.1 4.6h0m.1-1h0m0-10.6h0m0 17.6h0m.2-12.4h0m0 4.1h0m.3-9h0m.1 11.5h0m0 10.4h0m.1-12.7h0m.2-1.1h0m.1 4.6h0m0-3.3h0m.1-9h0m0 7.6h0m0 7.8h0m.1-1.7h0m.1-2.4h0m0 1.7h0m.1-1.7h0m0 1.6h0m0-3.9h0m.1 5.6h0m0-11.2h0m.1 8.6h0m0 1.9h0m.1 1.5h0m0-2.7h0m.2-10.5h0m.1 7.3h0m0-3.7h0m0 8.2h0m0-4.4h0m.4 9h0m.1-14.1h0m.1 7.7h0m0-9.6h0m0 10.7h0m.2-3.1h0m0 1.9h0m.5-8.1h0m0 5.7h0m0 .6h0m0 .8h0m0 .3h0m.1-.4h0m.1-2.9h0m.2 14.3h0m0-13.7h0m0 6.5h0m.1-3.5h0m0-1h0m0 6.3h0m0-3.7h0m.2 5.2h0m0-15.3h0m0 13.2h0m.1-6.9h0m0 .3h0m.1-2h0m.2 3.6h0m.2 5.4h0m0-6.9h0m0 6.4h0m0 3.4h0m0-4.3h0m.3-2.6h0m0-4.4h0m0 11.7h0m.1-3h0m0-4.5h0m.1 1.4h0m0-8.5h0m.1 7h0m0 6.8h0m0-12h0m.1 6.8h0m.1 2.1h0m0 5.6h0m0-3.5h0m.1-2.5h0m0-3.6h0m.1 .3h0m.1-7.6h0m.1 3.1h0m0 4.2h0m0-2.4h0m0 3.3h0m0 3.4h0m0-5.2h0m0 6.1h0m.1-7.3h0m.1 4.8h0m0-.6h0m.1-5h0m0 4.5h0m.1 5.5h0m0-.5h0m0-12.5h0m.1 6.4h0m.3 .3h0m.1 1.5h0m.1 5.2h0m0-5.6h0m.1-4h0m0 5.2h0m0-2.5h0m.1 3.2h0m.1-2.2h0m.1-8h0m0 6h0m.1-8.1h0m0 15.7h0m0 5.4h0m.1-13h0m.1 5.7h0m.2-.7h0m0-2.9h0m.1-1.7h0m.1 4.1h0m0-2.1h0m.1-7.7h0m.1-2.8h0m0 11.2h0m.2 10.1h0m0-.5h0m0-6.9h0m0-4h0m.1 6.2h0m.1-5.6h0m0-5.3h0m.1 4.1h0m0-7.3h0m.1 9.9h0m.2-1.5h0m.1 5.4h0m0-6.6h0m0-2.3h0m.3 5.9h0m0 .1h0m0-4.4h0m0 3h0m.1 5.7h0m.2-15.9h0m0 11.6h0m.1 .2h0m0 .8h0m.1-1.6h0m0 5.4h0m.1 .4h0m.1-.4h0m.1-12.6h0m0 4.2h0m.1 .7h0m0-1.9h0m.2 4.3h0m.1-6.5h0m.3 4.2h0m0 7.1h0m0 4.8h0m0-9.7h0m.1-.5h0m0 .5h0m.2-5.5h0m.1 8.2h0m.1-4.3h0m.1 1.5h0m.1-3.7h0m0 1.5h0m0 5.4h0m0-.8h0m.1-6.8h0m0 5.2h0m0 6.3h0m.1-9.6h0m0 6.9h0m.1 1.3h0m.1-6.2h0m0 .4h0m.1-5.5h0m0 11.3h0m.2-2.5h0m.2-8.8h0m0-6.1h0m.1 10.7h0m0 .8h0m.1-.2h0m.1 3h0m0 .1h0m.2-7.7h0m.1 1.8h0m0 9.5h0m.1-12.6h0m0 6.7h0m.1 5.3h0m0-5.3h0m.1-10.7h0m0 10.3h0m0-2.8h0m.1-4.3h0m.1 6.6h0m0 6h0m0-8.6h0m0-.1h0m0 3.3h0m.1-1.3h0m.1 6.7h0m0-3.1h0m0-3.7h0m.1 11.6h0m0-21.8h0m.1 8.8h0m.1 5.3h0m0 1.9h0m.1-1.3h0m0-.9h0m0-5.7h0m.2 1h0m.1-2.5h0m.2 2.8h0m0 3.6h0m.1-.9h0m0 8.3h0m.2-16.3h0m0 6h0m.1 6.2h0m0-8h0m0-7.2h0m.1 10.7h0m.1-4.9h0m0-1.6h0m.1-5.2h0m0 6.1h0m0-2.1h0m.1 6.2h0m0-5.3h0m.1 6.4h0m.1-2.3h0m.1 9.2h0m0-9.1h0m.1 4.1h0m0-1.1h0m.3-.5h0m0 2.1h0m0-7.3h0m.1 9h0m0-14.7h0m.2 4.7h0m0 12h0m.1 4.6h0m.2-15.1h0m0 7.9h0m.3-1.4h0m.1-11.3h0m.1 5h0m0 10.7h0m0-8.7h0m.1 8.2h0m0-13h0m.1 16h0m.2-.2h0m0-9.3h0m.1-2.6h0m.1 10.5h0m0-10.1h0m.2-1.6h0m.1 3.3h0m.1 2.4h0m.1-3.8h0m.1 7h0m0-7.5h0m0-4.8h0m.1 4.8h0m0 8.4h0m0-2h0m0 .8h0m.1-.7h0m.1-14.6h0m0 8.1h0m0 4h0m.1 1.6h0m0 2.3h0m.1 .1h0m.1-8.6h0m.1 9.7h0m0-8.6h0m.1 .2h0m.1 9h0m0-4.5h0m0-8.7h0m.1 7.9h0m0-1.2h0m.1-6.9h0m.2 2.8h0m.1 1.2h0m.2 5.2h0m.1 7.8h0m.1-6.3h0m.1-3.6h0m.1 8h0m0-15.6h0m.2 10.8h0m0 2.2h0m0 1.6h0m.1-13.9h0m.1 3.2h0m0 8.2h0m.1-8.7h0m0 4.5h0m.1-2.2h0m.3 1.7h0m.1-.4h0m0 4.5h0m.1-5.8h0m0-.5h0m.4 8h0m0-12.8h0m.1 4.9h0m.1-3.9h0m0 3.5h0m.1 5.9h0m0 .3h0m0-6.3h0m0 2h0m.1-2.8h0m0 1.6h0m.1 .6h0m.1-2h0m0 .8h0m.1 13.2h0m.1-21.8h0m0 17.2h0m.2-3.7h0m.2-2.7h0m0 1.8h0m.1 7.1h0m0-9h0m0-2.8h0m.2-2.3h0m0 6.2h0m.1-5.3h0m0-.2h0m.1 3.9h0m.1 3.4h0m0-13.6h0m.1 13.9h0m.1-9.1h0m.1-4.8h0m.1 12.6h0m.1 1.4h0m0-5h0m.1-3.9h0m0 8.8h0m0-5.9h0m0 4.1h0m.2 1.7h0m.2-3.6h0m0 8.2h0m0-14.6h0m.1 13.6h0m0-11.9h0m0 5.4h0m0-.3h0m.1-3.6h0m.1 13.3h0m.3-7.8h0m0 1.1h0m.2-3.9h0m0 3h0m.1-10.2h0m0 10.8h0m.2 1.6h0m0-3.4h0m0 7.6h0m.1-4.5h0m.1-6h0m0-5.3h0m.2 5.4h0m.1 7.2h0m.1 3.4h0m.5-8.8h0m0-8.4h0m0 11.9h0m.1-.1h0m0-10.7h0m.1 9.4h0m.3-8.6h0m0 3.6h0m.2 3.1h0m.1-5.4h0m.1-3.5h0m.1 15.3h0m0 1.4h0m0-17.5h0m0 1.8h0m.1 11h0m0-4.4h0m0 6.3h0m.1-4.8h0m.1-.1h0m0 5.4h0m.2-9.7h0m0 10.2h0m0-9.4h0m.3-5.9h0m0 10.8h0m.1-9.5h0m0 3.2h0m0 5.6h0m0-6.4h0m.1-.2h0m.1 6.6h0m0-.3h0m0 1.5h0m.2 1.4h0m0-6.4h0m.1 7.9h0m.1-8.8h0m0-3.9h0m.3 7.4h0m0 5.8h0m.3-5.9h0m0-8.6h0m0-1.4h0m.1 10.3h0m0-.5h0m.1-.2h0m.2-1.4h0m.2 6.6h0m0-3.6h0m0 5.1h0m.1-5.5h0m0 .5h0m0 1.1h0m.1 4.6h0m.2-.6h0m.1 .4h0m0-16h0m.1 12.3h0m.1-7.1h0m.2 6.8h0m.3 5.2h0m.1-6.6h0m.1 2.6h0m0-6.2h0m0 1.1h0m0 2.6h0m0-6.2h0m.1 8.9h0m.1 1.8h0m.1-.6h0m.1-15.3h0m0 15.3h0m0 1.9h0m.1-10.1h0m0 .3h0m.2 6.6h0m0 4.7h0m0 3.1h0m.1-9.2h0m0 4.7h0m.2-4.5h0m0-10.5h0m0 13.6h0m.2 5h0m0-2.9h0m.1-13.1h0m0 6.2h0m0-5.2h0m.1 1.6h0m0-5.3h0m.2 10.2h0m0-.1h0m0 9.5h0m.1-14h0m0 3.1h0m0 6.9h0m0-5.1h0m0-2.8h0m.1 0h0m.2 1.7h0m.2-.7h0m.1 3.9h0m0-12.4h0m.1 .3h0m.2 16.7h0m0-10.1h0m.3 2.4h0m.1 5.2h0m.1-1.4h0m.1-10.3h0m.1 .5h0m0 5.7h0m.1-1.6h0m.1 1.1h0m.2 .1h0m.1 10.1h0m0-14.9h0m.1 10.2h0m0-16.4h0m0 18.1h0m.1-2.8h0m.1-5.7h0m.1-3.2h0m0 9.6h0m0-6.6h0m0 2.9h0m.1-10.9h0m0 7.3h0m0 1.2h0m0 .2h0m.1-3.1h0m0 5.9h0m0-9.8h0m0 7.5h0m.2 9h0m.1-3.8h0m.2-9h0m0 10.8h0m0-4.2h0m.2-13.3h0m0 12.9h0m0-12.9h0m.1 7.5h0m0 .1h0m.1 1.8h0m.3 4.5h0m.1 .8h0m0-6.1h0m.1 6.7h0m.1-6.4h0m.2 1.1h0m0-9.9h0m.1 8h0m0 2.4h0m.1-6.9h0m0 2.7h0m.1 4.3h0m.2-2.6h0m.1-7.1h0m0 7.9h0m.3-1h0m.1 8.6h0m.1-14.8h0m.1 3.7h0m.1 11.1h0m.1-10.9h0m0 7.8h0m.2 1.1h0m.1-1.1h0m.1 2.7h0m0 .1h0m.2-1.6h0m.1-8h0m.1 6.6h0m0-4.6h0m.1 .6h0m0 1.8h0m.2-3.4h0m0 5.7h0m0-4.1h0m.1 1.8h0m0 8.5h0m.1-11.1h0m0 8h0m.1-4.8h0m.1-1.8h0m.1 8.2h0m.1-6.7h0m0-8.2h0m0 9.1h0m.2 .6h0m0-8.8h0m0 6.9h0m.2-.9h0m0 .2h0m0 3.3h0m.1-2.3h0m0-5.2h0m.2 11.5h0m.1-16.8h0m0 9.5h0m0 2.3h0m0-6.2h0m.1 9.6h0m0-4.9h0m.1-1.5h0m.1 .9h0m.1-4.7h0m.1 11.9h0m.1-5.7h0m.1-5.4h0m.2 8.6h0m0-2.8h0m0 1.1h0m0-2.5h0m.1 2.6h0m0 2.2h0m0-4.9h0m.1-.3h0m.5 2.6h0m.1 .4h0m0-.9h0m.1-6.4h0m0 7.5h0m0-6.2h0m0 .3h0m.2-2.2h0m.1 3.9h0m.1 .4h0m.1-1.3h0m.1-2.9h0m.1 8.7h0m0-3h0m.1 6.5h0m.4-8h0m.1 2.4h0m0-5.8h0m.1 8.7h0m.2-14.1h0m0-.4h0m0 18.6h0m.2-12.3h0m0 7.9h0m0-6.6h0m.1 10.8h0m0-6.6h0m.1-6.5h0m.1 .9h0m.1 6.3h0m.1-2.7h0m.1-4.5h0m.2-5h0m0 3.4h0m0 10.1h0m0-.9h0m.1-2.2h0m0-1.8h0m0 10.1h0m.2-4.9h0m0-3h0m.1 2.8h0m.2 6.9h0m.1-7.3h0m0-7.6h0m.2-1.7h0m0 12.3h0m0-7.8h0m0 2.7h0m0-2.1h0m.1-7h0m.1 8.4h0m0 3h0m0-1.8h0m0 1.2h0m0 6h0m.1-11.5h0m0 7.2h0m.1-9.3h0m0-.9h0m.1 7.2h0m0 .2h0m.2-.1h0m0 0h0m.1 3.6h0m.1-1.2h0m.1 6.9h0m.1-13.2h0m0-3h0m0 8h0m0-1.7h0m.1-2.1h0m.1 2.6h0m0-1.9h0m0 6.9h0m.1-7.9h0m0 1.5h0m0-1h0m0 7.5h0m0-1.9h0m.1-9.2h0m.1 9.3h0m0-.4h0m0-7.6h0m.4 2.5h0m.1 4.8h0m.1-5.6h0m0-.4h0m.1-6.6h0m.1 2.9h0m.1 8h0m0-2.8h0m.1 5.8h0m0-4.6h0m0-4.3h0m.2 5.4h0m0-1.2h0m0-5.1h0m.1-6.5h0m.3 6h0m.1-.2h0m.2 5h0m0-5.4h0m0 9.9h0m.1-1.9h0m0 4.1h0m0-13.7h0m.1 6.2h0m0 0h0m.1-.2h0m0 .7h0m0 1.1h0m.2-1.7h0m0 6.9h0m.2 3.4h0m.3-4.4h0m0-2.2h0m.1-7.7h0m.1-1.2h0m.1 6.5h0m0-9.8h0m.1 7.2h0m0 3.6h0m.1 5.6h0m.1-8.6h0m0-1.9h0m.2 5.2h0m0 .2h0m0 1h0m.1-11.8h0m.1 9.5h0m0-.8h0m0 .9h0m.1 .4h0m0-.8h0m.1-9.4h0m.1 2.6h0m.1-.1h0m.1 9.7h0m0-4.5h0m.1 9h0m.2-11.4h0m0 1.6h0m.1-6.7h0m.1 7h0m0-5.3h0m.1 8.6h0m0-1.5h0m0 8.4h0m0-5.8h0m.1-1.7h0m.1 4.7h0m0-7.6h0m0-6.1h0m.2 10.8h0m0 .5h0m0-9.6h0m0 3.3h0m.1 5.8h0m.1-5.3h0m0 6h0m0 6.3h0m0-7.1h0m.1-6.1h0m.1 1.7h0m0 .3h0m.2 5.6h0m0 1.8h0m.1-9.5h0m.1 2.6h0m.1-8.6h0m0 17.2h0m.2-13.1h0m0 1.5h0m0 3.5h0m.1 10.9h0m0 .7h0m.1-14.1h0m.1-1.2h0m0 1.3h0m.2 7h0m.2-1.3h0m.1-2.6h0m.1 8.2h0m0-7.7h0m.1-.7h0m.1-2.6h0m.1 9.6h0m0-11.5h0m0 5.6h0m0-.7h0m0 5.5h0m.1-1.2h0m.1-5.7h0m0 6.2h0m.1-4.9h0m.1-.4h0m0 2.9h0m0 4h0m.1-11.9h0m.1-2.6h0m0-.3h0m.1 12h0m.1-1.9h0m.1 2.1h0m.1-2.5h0m.3 .2h0m.1-.3h0m0-2.8h0m.2 3.1h0m.1-3.6h0m.1 12.8h0m0-13.9h0m0 13.9h0m.3-20.8h0m0 19.5h0m.1-6.8h0m.1-1.4h0m.1-8.8h0m0 16h0" stroke="#f5a2a2" stroke-opacity="0.42" stroke-width="1.4" stroke-linecap="round" fill="none"/>
<path d="M50.6 304.5L51.0 304.5L51.4 304.5L51.8 304.5L52.2 304.5L52.6 304.5L53.0 304.5L53.4 304.5L53.8 304.5L54.2 304.5L54.6 304.5L55.0 304.5L55.4 304.5L55.8 304.5L56.2 304.5L56.6 304.5L57.0 304.5L57.4 304.5L57.8 304.5L58.2 304.5L58.6 304.5L59.0 304.5L59.4 304.5L59.8 304.5L60.2 304.5L60.6 304.5L61.0 304.5L61.4 304.5L61.8 304.5L62.2 304.5L62.6 304.5L63.0 304.5L63.4 304.5L63.9 304.5L64.3 304.5L64.7 304.5L65.1 304.5L65.5 304.5L65.9 304.5L66.3 304.5L66.7 304.5L67.1 304.5L67.5 304.5L67.9 304.5L68.3 304.5L68.7 304.5L69.1 304.5L69.5 304.5L69.9 304.5L70.3 304.5L70.7 304.5L71.1 304.5L71.5 304.5L71.9 304.5L72.3 304.5L72.7 304.5L73.1 304.5L73.5 304.5L73.9 304.5L74.3 304.4L74.7 304.4L75.1 304.4L75.5 304.4L75.9 304.4L76.3 304.4L76.7 304.4L77.1 304.4L77.5 304.4L77.9 304.4L78.3 304.4L78.7 304.4L79.1 304.3L79.5 304.3L79.9 304.3L80.3 304.3L80.7 304.3L81.1 304.3L81.5 304.3L81.9 304.3L82.3 304.3L82.7 304.3L83.1 304.2L83.5 304.2L83.9 304.2L84.3 304.2L84.7 304.2L85.1 304.2L85.5 304.1L85.9 304.1L86.3 304.1L86.7 304.1L87.1 304.1L87.5 304.1L87.9 304.0L88.3 304.0L88.7 304.0L89.1 304.0L89.5 303.9L90.0 303.9L90.4 303.9L90.8 303.9L91.2 303.8L91.6 303.8L92.0 303.8L92.4 303.7L92.8 303.7L93.2 303.7L93.6 303.6L94.0 303.6L94.4 303.6L94.8 303.5L95.2 303.5L95.6 303.4L96.0 303.4L96.4 303.3L96.8 303.2L97.2 303.2L97.6 303.1L98.0 303.0L98.4 303.0L98.8 302.9L99.2 302.8L99.6 302.7L100.0 302.6L100.4 302.5L100.8 302.4L101.2 302.3L101.6 302.2L102.0 302.1L102.4 302.0L102.8 301.9L103.2 301.8L103.6 301.7L104.0 301.5L104.4 301.4L104.8 301.3L105.2 301.1L105.6 300.9L106.0 300.7L106.4 300.5L106.8 300.3L107.2 300.0L107.6 299.8L108.0 299.5L108.4 299.2L108.8 298.9L109.2 298.6L109.6 298.3L110.0 297.9L110.4 297.6L110.8 297.2L111.2 296.8L111.6 296.4L112.0 296.0L112.4 295.5L112.8 294.9L113.2 294.3L113.6 293.7L114.0 293.0L114.4 292.3L114.8 291.5L115.2 290.8L115.6 289.9L116.1 289.1L116.5 288.3L116.9 287.4L117.3 286.5L117.7 285.6L118.1 284.6L118.5 283.5L118.9 282.4L119.3 281.2L119.7 280.0L120.1 278.7L120.5 277.4L120.9 276.0L121.3 274.4L121.7 272.8L122.1 271.1L122.5 269.3L122.9 267.6L123.3 265.9L123.7 264.2L124.1 262.4L124.5 260.6L124.9 258.7L125.3 256.7L125.7 254.4L126.1 252.3L126.5 250.3L126.9 248.5L127.3 246.7L127.7 245.0L128.1 243.5L128.5 242.7L128.7 242.6L128.9 242.7L129.3 243.5L129.7 245.0L130.1 246.7L130.5 248.5L130.9 250.3L131.3 252.3L131.7 254.4L132.1 256.7L132.5 258.7L132.9 260.6L133.3 262.4L133.7 264.2L134.1 265.9L134.5 267.6L134.9 269.3L135.3 271.1L135.7 272.8L136.1 274.4L136.5 276.0L136.9 277.4L137.3 278.7L137.7 280.0L138.1 281.2L138.5 282.4L138.9 283.5L139.3 284.6L139.7 285.6L140.1 286.5L140.5 287.4L140.9 288.3L141.3 289.1L141.8 289.9L142.2 290.8L142.6 291.5L143.0 292.3L143.4 293.0L143.8 293.7L144.2 294.3L144.6 294.9L145.0 295.5L145.4 296.0L145.8 296.4L146.2 296.8L146.6 297.2L147.0 297.6L147.4 297.9L147.8 298.3L148.2 298.6L148.6 298.9L149.0 299.2L149.4 299.5L149.8 299.8L150.2 300.0L150.6 300.3L151.0 300.5L151.4 300.7L151.8 300.9L152.2 301.1L152.6 301.3L153.0 301.4L153.4 301.5L153.8 301.7L154.2 301.8L154.6 301.9L155.0 302.0L155.4 302.1L155.8 302.2L156.2 302.3L156.6 302.4L157.0 302.5L157.4 302.6L157.8 302.7L158.2 302.8L158.6 302.9L159.0 303.0L159.4 303.0L159.8 303.1L160.2 303.2L160.6 303.2L161.0 303.3L161.4 303.4L161.8 303.4L162.2 303.5L162.6 303.5L163.0 303.6L163.4 303.6L163.8 303.6L164.2 303.7L164.6 303.7L165.0 303.7L165.4 303.8L165.8 303.8L166.2 303.8L166.6 303.9L167.0 303.9L167.4 303.9L167.9 303.9L168.3 304.0L168.7 304.0L169.1 304.0L169.5 304.0L169.9 304.1L170.3 304.1L170.7 304.1L171.1 304.1L171.5 304.1L171.9 304.1L172.3 304.2L172.7 304.2L173.1 304.2L173.5 304.2L173.9 304.2L174.3 304.2L174.7 304.3L175.1 304.3L175.5 304.3L175.9 304.3L176.3 304.3L176.7 304.3L177.1 304.3L177.5 304.3L177.9 304.3L178.3 304.3L178.7 304.4L179.1 304.4L179.5 304.4L179.9 304.4L180.3 304.4L180.7 304.4L181.1 304.4L181.5 304.4L181.9 304.4L182.3 304.4L182.7 304.4L183.1 304.4L183.5 304.5L183.9 304.5L184.3 304.5L184.7 304.5L185.1 304.5L185.5 304.5L185.9 304.5L186.3 304.5L186.7 304.5L187.1 304.5L187.5 304.5L187.9 304.5L188.3 304.5L188.7 304.5L189.1 304.5L189.5 304.5L189.9 304.5L190.3 304.5L190.7 304.5L191.1 304.5L191.5 304.5L191.9 304.5L192.3 304.5L192.7 304.5L193.1 304.5L193.5 304.5L194.0 304.5L194.4 304.5L194.8 304.5L195.2 304.5L195.6 304.5L196.0 304.5L196.4 304.5L196.8 304.5L197.2 304.5L197.6 304.5L198.0 304.5L198.4 304.5L198.8 304.5L199.2 304.5L199.6 304.5L200.0 304.5L200.4 304.5L200.8 304.5L201.2 304.5L201.6 304.5L202.0 304.5L202.4 304.5L202.8 304.5L203.2 304.5L203.6 304.5L204.0 304.5L204.4 304.5L204.8 304.5L205.2 304.5L205.6 304.5L206.0 304.5L206.4 304.5L206.8 304.5" stroke="#880707" stroke-width="2.0" fill="none" stroke-linejoin="round"/>
</g>
<g clip-path="url(#ce)">
<path d="M284.2 349.3L284.9 349.3L285.5 349.3L286.2 349.3L286.9 349.3L287.5 349.3L288.2 349.3L288.9 349.3L289.6 349.3L290.2 349.3L290.9 349.3L291.6 349.3L292.2 349.3L292.9 349.3L293.6 349.3L294.2 349.3L294.9 349.3L295.6 349.3L296.3 349.3L296.9 349.3L297.6 349.3L298.3 349.3L298.9 349.3L299.6 349.3L300.3 349.3L300.9 349.3L301.6 349.3L302.3 349.3L302.9 349.3L303.6 349.3L304.3 349.3L305.0 349.3L305.6 349.3L306.3 349.3L307.0 349.3L307.6 349.3L308.3 349.3L309.0 349.3L309.6 349.3L310.3 349.3L311.0 349.3L311.7 349.3L312.3 349.3L313.0 349.3L313.7 349.3L314.3 349.3L315.0 349.3L315.7 349.3L316.3 349.3L317.0 349.3L317.7 349.3L318.3 349.3L319.0 349.3L319.7 349.3L320.4 349.3L321.0 349.3L321.7 349.3L322.4 349.3L323.0 349.3L323.7 349.3L324.4 349.3L325.0 349.3L325.7 349.3L326.4 349.3L327.0 349.3L327.7 349.3L328.4 349.3L329.1 349.3L329.7 349.3L330.4 349.3L331.1 349.3L331.7 349.3L332.4 349.3L333.1 349.3L333.7 349.3L334.4 349.3L335.1 349.3L335.8 349.3L336.4 349.3L337.1 349.3L337.8 349.3L338.4 349.3L339.1 349.3L339.8 349.3L340.4 349.3L341.1 349.3L341.8 349.3L342.4 349.2L343.1 349.2L343.8 349.1L344.5 349.0L345.1 348.9L345.8 348.7L346.5 348.4L347.1 348.1L347.8 347.5L348.5 346.8L349.1 345.9L349.8 344.7L350.5 343.1L351.2 341.1L351.8 338.5L352.5 335.4L353.2 331.7L353.8 327.3L354.5 322.2L355.2 316.4L355.8 309.9L356.5 302.9L357.2 295.4L357.8 287.8L358.5 280.2L359.2 273.0L359.9 266.5L360.5 261.0L361.2 256.9L361.9 254.5L362.5 254.5L363.2 256.9L363.9 261.0L364.5 266.5L365.2 273.0L365.9 280.2L366.6 287.8L367.2 295.4L367.9 302.9L368.6 309.9L369.2 316.4L369.9 322.2L370.6 327.3L371.2 331.7L371.9 335.4L372.6 338.5L373.2 341.1L373.9 343.1L374.6 344.7L375.3 345.9L375.9 346.8L376.6 347.5L377.3 348.1L377.9 348.4L378.6 348.7L379.3 348.9L379.9 349.0L380.6 349.1L381.3 349.2L382.0 349.2L382.6 349.3L383.3 349.3L384.0 349.3L384.6 349.3L385.3 349.3L386.0 349.3L386.6 349.3L387.3 349.3L388.0 349.3L388.6 349.3L389.3 349.3L390.0 349.3L390.7 349.3L391.3 349.3L392.0 349.3L392.7 349.3L393.3 349.3L394.0 349.3L394.7 349.3L395.3 349.3L396.0 349.3L396.7 349.3L397.4 349.3L398.0 349.3L398.7 349.3L399.4 349.3L400.0 349.3L400.7 349.3L401.4 349.3L402.0 349.3L402.7 349.3L403.4 349.3L404.0 349.3L404.7 349.3L405.4 349.3L406.1 349.3L406.7 349.3L407.4 349.3L408.1 349.3L408.7 349.3L409.4 349.3L410.1 349.3L410.7 349.3L411.4 349.3L412.1 349.3L412.7 349.3L413.4 349.3L414.1 349.3L414.8 349.3L415.4 349.3L416.1 349.3L416.8 349.3L417.4 349.3L418.1 349.3L418.8 349.3L419.4 349.3L420.1 349.3L420.8 349.3L421.5 349.3L422.1 349.3L422.8 349.3L423.5 349.3L424.1 349.3L424.8 349.3L425.5 349.3L426.1 349.3L426.8 349.3L427.5 349.3L428.1 349.3L428.8 349.3L429.5 349.3L430.2 349.3L430.8 349.3L431.5 349.3L432.2 349.3L432.8 349.3L433.5 349.3L434.2 349.3L434.8 349.3L435.5 349.3L436.2 349.3L436.9 349.3L437.5 349.3L438.2 349.3L438.9 349.3L439.5 349.3L440.2 349.3L440.2 361.6L439.5 361.6L438.9 361.6L438.2 361.6L437.5 361.6L436.9 361.6L436.2 361.6L435.5 361.6L434.8 361.6L434.2 361.6L433.5 361.6L432.8 361.6L432.2 361.6L431.5 361.6L430.8 361.6L430.2 361.6L429.5 361.6L428.8 361.6L428.1 361.6L427.5 361.6L426.8 361.6L426.1 361.6L425.5 361.6L424.8 361.6L424.1 361.6L423.5 361.6L422.8 361.6L422.1 361.6L421.5 361.6L420.8 361.6L420.1 361.6L419.4 361.6L418.8 361.6L418.1 361.6L417.4 361.6L416.8 361.6L416.1 361.6L415.4 361.6L414.8 361.6L414.1 361.6L413.4 361.6L412.7 361.6L412.1 361.6L411.4 361.6L410.7 361.6L410.1 361.6L409.4 361.6L408.7 361.6L408.1 361.6L407.4 361.6L406.7 361.6L406.1 361.6L405.4 361.6L404.7 361.6L404.0 361.6L403.4 361.6L402.7 361.6L402.0 361.6L401.4 361.6L400.7 361.6L400.0 361.6L399.4 361.6L398.7 361.6L398.0 361.6L397.4 361.6L396.7 361.6L396.0 361.6L395.3 361.6L394.7 361.6L394.0 361.6L393.3 361.6L392.7 361.6L392.0 361.6L391.3 361.6L390.7 361.6L390.0 361.6L389.3 361.6L388.6 361.6L388.0 361.6L387.3 361.6L386.6 361.6L386.0 361.6L385.3 361.6L384.6 361.6L384.0 361.6L383.3 361.6L382.6 361.6L382.0 361.5L381.3 361.5L380.6 361.4L379.9 361.3L379.3 361.2L378.6 361.0L377.9 360.8L377.3 360.4L376.6 359.9L375.9 359.2L375.3 358.2L374.6 357.0L373.9 355.4L373.2 353.4L372.6 350.9L371.9 347.8L371.2 344.0L370.6 339.6L369.9 334.5L369.2 328.7L368.6 322.2L367.9 315.2L367.2 307.7L366.6 300.1L365.9 292.6L365.2 285.3L364.5 278.8L363.9 273.3L363.2 269.2L362.5 266.8L361.9 266.8L361.2 269.2L360.5 273.3L359.9 278.8L359.2 285.3L358.5 292.6L357.8 300.1L357.2 307.7L356.5 315.2L355.8 322.2L355.2 328.7L354.5 334.5L353.8 339.6L353.2 344.0L352.5 347.8L351.8 350.9L351.2 353.4L350.5 355.4L349.8 357.0L349.1 358.2L348.5 359.2L347.8 359.9L347.1 360.4L346.5 360.8L345.8 361.0L345.1 361.2L344.5 361.3L343.8 361.4L343.1 361.5L342.4 361.5L341.8 361.6L341.1 361.6L340.4 361.6L339.8 361.6L339.1 361.6L338.4 361.6L337.8 361.6L337.1 361.6L336.4 361.6L335.8 361.6L335.1 361.6L334.4 361.6L333.7 361.6L333.1 361.6L332.4 361.6L331.7 361.6L331.1 361.6L330.4 361.6L329.7 361.6L329.1 361.6L328.4 361.6L327.7 361.6L327.0 361.6L326.4 361.6L325.7 361.6L325.0 361.6L324.4 361.6L323.7 361.6L323.0 361.6L322.4 361.6L321.7 361.6L321.0 361.6L320.4 361.6L319.7 361.6L319.0 361.6L318.3 361.6L317.7 361.6L317.0 361.6L316.3 361.6L315.7 361.6L315.0 361.6L314.3 361.6L313.7 361.6L313.0 361.6L312.3 361.6L311.7 361.6L311.0 361.6L310.3 361.6L309.6 361.6L309.0 361.6L308.3 361.6L307.6 361.6L307.0 361.6L306.3 361.6L305.6 361.6L305.0 361.6L304.3 361.6L303.6 361.6L302.9 361.6L302.3 361.6L301.6 361.6L300.9 361.6L300.3 361.6L299.6 361.6L298.9 361.6L298.3 361.6L297.6 361.6L296.9 361.6L296.3 361.6L295.6 361.6L294.9 361.6L294.2 361.6L293.6 361.6L292.9 361.6L292.2 361.6L291.6 361.6L290.9 361.6L290.2 361.6L289.6 361.6L288.9 361.6L288.2 361.6L287.5 361.6L286.9 361.6L286.2 361.6L285.5 361.6L284.9 361.6L284.2 361.6Z" fill="#f5a2a2" fill-opacity="0.3" filter="url(#blur)"/>
<path d="M284.2 356.4h0m0-5.1h0m.1 8.6h0m.2 2.9h0m.1-12.2h0m0-.3h0m.2-4.1h0m0 11.2h0m0 1.6h0m.1-6h0m0 .7h0m0-4.4h0m.3 2.5h0m.1 4.7h0m.1 8.2h0m.1-8h0m0-8h0m0 7.7h0m.1-.9h0m0 2.6h0m.1-4.8h0m0-1.5h0m.1 6.1h0m.3-3.8h0m0 9.3h0m0-11.1h0m.1 2h0m.1 .9h0m0 9.5h0m0-15h0m0 9.3h0m0-4.8h0m.3-3.3h0m.2-4.3h0m.1 7.7h0m.1 5.7h0m.2-6.6h0m0-2.7h0m.1-2.7h0m0 5.3h0m0-1.9h0m0 6.3h0m0-6.7h0m.2-4.4h0m.1 8.7h0m0-3.5h0m0 4.1h0m.1 4.8h0m.1-3.4h0m.2 4h0m.1-6.6h0m0 .4h0m.1-5.2h0m.1-1.6h0m0 6h0m0-1h0m.1 6.7h0m0-12h0m.1 11.5h0m0-1.8h0m.2-1.3h0m0-2.3h0m.1-3.6h0m0 6.8h0m.1-8h0m.1 5.3h0m0 1.5h0m0 1.8h0m.1-6.6h0m0 2.1h0m0 1.3h0m.1 1.5h0m0-2.1h0m.5-7.9h0m0 6.5h0m0-1.1h0m0 1.2h0m.1 2.7h0m.1-.4h0m.1-2.9h0m.4 4.4h0m.1-.2h0m.1-1.4h0m.1-1.4h0m.1 8.4h0m0-7.3h0m.1-5.9h0m0 3.9h0m0 3h0m0 6.4h0m0-3.4h0m.1-2.2h0m0-1.6h0m.2 1.3h0m0-2.9h0m0-7.1h0m0 2.9h0m.1 3.2h0m0 4.5h0m.1 .9h0m0-1.6h0m.2-5h0m.1 3.6h0m0-8.5h0m.1 12.2h0m0 2.8h0m0-4.9h0m0-2.6h0m.1 4.2h0m0-4.8h0m0 .6h0m0 7.2h0m.1-7.8h0m.1 5.2h0m0-6.6h0m.1-4.1h0m0 4.8h0m.1 10.3h0m.2 .1h0m.1-11h0m0 2.7h0m.1 2.6h0m0 3.4h0m.1-12.5h0m.2 12h0m.2-4.3h0m.2-2h0m.1 5.8h0m0-8.9h0m.2 2.8h0m.1-.2h0m.1 .4h0m0 3.4h0m.1 4.2h0m0-9.2h0m0 .6h0m0 1.8h0m0-6.7h0m.1 4.4h0m.2 4.2h0m.1 4.9h0m.1-4.4h0m0-.9h0m0-6.6h0m.1 1.1h0m0 1.1h0m.1 3.1h0m.2 5h0m.2-8.1h0m0 .1h0m.1 7h0m0-3.1h0m0-2.7h0m0 3.6h0m.1 .4h0m.1-2.4h0m0-1.3h0m.1 4.4h0m0-2.3h0m0 5.5h0m0 1.2h0m.1-14.2h0m0 8.6h0m.1 .9h0m0-2.1h0m.1-2h0m0-5.6h0m.1 4.7h0m0-2h0m0 3.9h0m0 1.8h0m.1 .1h0m.1-1.9h0m0-.8h0m.1 .6h0m.3 3.8h0m.1-3.9h0m0 3.8h0m0-6.7h0m.1 5.8h0m0-2.4h0m.1 3h0m0 2.5h0m0-8.5h0m.1-3h0m0 3.3h0m.1 4.4h0m0-3.8h0m.1-1.7h0m0 11h0m.1-11h0m.1 9.8h0m.1-1.4h0m0-.8h0m.4-3h0m0 2.2h0m0-2.7h0m0-7h0m.2 12.6h0m.1-6.3h0m.1 5.6h0m.1-12.1h0m.1 9.7h0m0-6.5h0m0 5.4h0m.1 1.7h0m.1-9.3h0m.1 9.7h0m0 .4h0m.1-5.1h0m0 1.3h0m.2-1.5h0m.1 8.2h0m0-10.6h0m.1 5.7h0m0-2.6h0m.2 7.5h0m.1-2.5h0m.1-5.3h0m0 9h0m.1-4.6h0m0-4h0m0 8h0m.5-2.8h0m0 1.2h0m0-3.5h0m0-7h0m.1 12.2h0m.1-8.6h0m0 4.3h0m.1 2.9h0m.1-1.4h0m.2-3h0m0 1.9h0m0 2.9h0m.1-.5h0m.1-10.5h0m0-1.5h0m.1 4.5h0m.1 4.3h0m0-3.3h0m.1-3.5h0m.3 2.4h0m0-4h0m.1 7.9h0m0 .4h0m0-.9h0m.1-2.1h0m0-6.4h0m.1 5.1h0m0 7.7h0m0-11.4h0m.2 5.1h0m0-1.4h0m0-2h0m.1 .8h0m.2 12.9h0m.1-11.6h0m0 3.8h0m.1-1h0m.1-2.8h0m0-2.1h0m0 10.5h0m0-7.3h0m.1 2.7h0m0-6h0m.1 13.8h0m0-8.9h0m.1-2.5h0m.1 8.2h0m0-5.4h0m0-1.9h0m0 9.7h0m0-17.7h0m.1 10.4h0m0-4.8h0m.3 6.5h0m0-.8h0m0-3.5h0m.1 10.7h0m0-4.9h0m.1-4.4h0m.3-3.6h0m0-4.6h0m0 17.5h0m.1-8.4h0m0 1.5h0m0-2.7h0m.2 2.1h0m.1-8.2h0m0 9.9h0m.1-7.7h0m.1 2.5h0m0 1.7h0m.1-2.6h0m.1 9.1h0m0-13.4h0m0 8.5h0m.1-4.7h0m0 1.2h0m0-1.7h0m0 2.7h0m.1 2.1h0m0 5.5h0m0 1h0m0-8.8h0m.2 1.1h0m0-5.9h0m0 14.8h0m.1-9.7h0m0 4.9h0m0-2.8h0m0-4.6h0m.1-2.6h0m.1 6.8h0m.1 1h0m0-3.8h0m.1 6.5h0m0-5.1h0m.2-2h0m0 3.8h0m.1-2.5h0m0 3.4h0m.2-4.6h0m0 2.5h0m.1-2.3h0m0-3.1h0m0 9h0m.1-5.6h0m0-1.6h0m0-.4h0m.1 .2h0m.1 5.7h0m0-9.5h0m.1 6.7h0m0 1.5h0m.1-4.3h0m.1 8.5h0m.1-7.7h0m.2 2.3h0m.3 7.8h0m.1-6.7h0m0-4.8h0m.1-4.4h0m.1 4.2h0m.1 5.3h0m.2-5.1h0m0 4.1h0m.1-5.2h0m0 5.8h0m0 .5h0m.1-1.3h0m.2-6.2h0m.1 12.5h0m.1-2.4h0m0-5.1h0m.1 4.7h0m0-2.9h0m.1 7.1h0m0-12.3h0m0 4.5h0m.2-1.5h0m.1 7.4h0m.1-9h0m.1 1.1h0m.1 3h0m0-3.9h0m.1 6.4h0m0 6.2h0m.1-7.8h0m.2-10.7h0m0 12.7h0m.3-2.3h0m.1 1.2h0m0-3.2h0m.2-.7h0m.1 2.4h0m.1-1.6h0m.1 1.4h0m0-1.6h0m0-3.3h0m.2 5.4h0m0-4.8h0m0 5.9h0m.1-9.1h0m0 9.5h0m.1-1.9h0m0-3.4h0m.1 0h0m0-4.7h0m0 13.6h0m0-7.2h0m.2-1h0m0 .4h0m0 4.5h0m.2 6.3h0m.1-.1h0m0-18.4h0m.1 0h0m.1 15.7h0m.1-7.5h0m0 2.3h0m.3-4.2h0m0 .3h0m0 3h0m.1-4.1h0m0 9.3h0m0-3.1h0m.1-6.1h0m.1-4h0m0 16.2h0m0-9.1h0m0 1.9h0m.1-2.2h0m0-5.4h0m0 7.3h0m.2 4.2h0m0-5.5h0m.2 6.3h0m0-11.1h0m0 9.6h0m.1-2.5h0m0-.6h0m.1-3.7h0m0-.5h0m.1-.7h0m0 3.2h0m.1 2.3h0m0-2.1h0m0-4.1h0m0 4.5h0m.1 .3h0m0-1.8h0m.2-1.9h0m.1 5.9h0m0-3.2h0m.1-3.9h0m0 13.5h0m.1-13.5h0m0 .7h0m0 6.4h0m0-.5h0m.1-3.4h0m0 2.9h0m.1-8.1h0m0 3.1h0m.1 11.5h0m0-15.1h0m.1 7.8h0m0-3.8h0m.1 10.6h0m.4-11.4h0m0 4.9h0m.1-1.3h0m.2-1.3h0m.3 1.7h0m0 5.8h0m.2-2.7h0m0-12.2h0m0 15.7h0m.1-2.4h0m.1 1.6h0m0-6.9h0m.3 2.1h0m0-.2h0m0 6.1h0m0-16.6h0m.1 5.8h0m.1 4.9h0m.1-3.2h0m0 2.4h0m.3 1.9h0m0-9.3h0m.1 3.7h0m.1 5.9h0m0-3.5h0m0 1.2h0m.1-.1h0m0 4.4h0m0-5.9h0m.1 4.7h0m.1-10.1h0m.1 .1h0m0 2.6h0m.1 4.5h0m0 2.4h0m.3 2.2h0m0-8.1h0m.1 3.1h0m.2-.2h0m0 3.4h0m.2-8.2h0m.1 12.9h0m.4-9.3h0m0 4.9h0m0-4.5h0m0 8.9h0m.1-13.7h0m0 14.7h0m.2-8.1h0m.2-1.6h0m0-3.2h0m.6 1.3h0m.1 .9h0m0 1.4h0m.3-7.4h0m.2 15.4h0m0-14.1h0m0 6.1h0m.1-4.1h0m.2 6.7h0m.1-11.8h0m.1 15.8h0m0-11h0m0 8.7h0m.1-7.3h0m0-1h0m.1 4h0m.1-.5h0m0 2.4h0m0 1.1h0m.1-.8h0m.1-2.2h0m0-.8h0m.1 4.1h0m.1-8.5h0m.1 5.5h0m.2-1.6h0m.3 .6h0m0 .8h0m0 2.1h0m0-3.7h0m.1 .9h0m0 2.4h0m.1-6h0m.1 4.4h0m0 1.8h0m0-3.5h0m0 4.9h0m.1-1.2h0m.1-1.5h0m0 .4h0m.1 2.9h0m.1-11.5h0m.1 11.7h0m0-2.9h0m0-6.7h0m.1 .7h0m0-1.8h0m0 2.8h0m0 9.1h0m.1-1.7h0m0-8.3h0m.1 2.5h0m0 2.7h0m.1 7.1h0m.1-8.8h0m.3 1.6h0m.1-1h0m0 .5h0m.1 .1h0m0-2.8h0m.1 2.7h0m0-.2h0m.1 3.8h0m.2-6.4h0m0 8h0m.1-9.2h0m0-1.4h0m0 4.3h0m.1 3.2h0m0-5.6h0m.1 5.3h0m.1-2.3h0m0-2.2h0m0 4.3h0m0-7.1h0m0 5.2h0m.2 .3h0m0 9.3h0m.2-12.6h0m0 10.1h0m0-7.3h0m.1 2.2h0m.2-.4h0m0 7.7h0m.1-8.2h0m0-2.5h0m.1 3.8h0m.1-.6h0m.1-8.2h0m0 14.8h0m.1-12.5h0m.1 8.1h0m.1-2.3h0m0-6h0m.1 4.5h0m0 1.6h0m.1-10.7h0m0 2.1h0m0 4.6h0m0 .3h0m0 5.7h0m.4-3h0m0-3.3h0m.1 1.4h0m.1 1.1h0m0-1.4h0m.1 4.1h0m0-3.3h0m0-7.7h0m.1 16.9h0m.1-4.3h0m0-2.6h0m.1-4.6h0m0 4.9h0m.1-2.4h0m0 1.8h0m.1-8.5h0m0 9.1h0m.1 .9h0m0-3.8h0m.2 3.3h0m0-1.6h0m0 7.7h0m0-5h0m.3-3.4h0m0 4.9h0m.2-5h0m.1 2.2h0m0-4.9h0m0-6.2h0m.1 7.6h0m.1-3h0m0 4.1h0m.1-.3h0m.1 1.8h0m0 2.3h0m.1 .5h0m0-5.4h0m0 6.1h0m.1-5h0m0-4.5h0m0 7.6h0m.1 1.4h0m0-4.6h0m0-1.5h0m0 11.4h0m.2-.5h0m0-8.5h0m.1 3.8h0m0-3.8h0m0-4.3h0m0-4.4h0m0 10.2h0m.2-.9h0m0 .3h0m0-9.9h0m.1 1.9h0m.2 12.8h0m0-1.4h0m0 2.3h0m.1-4.8h0m0 7h0m.2-12.3h0m0-.5h0m0 1.4h0m0 5.4h0m.1-1.8h0m.1-5.3h0m0 3.9h0m.3 3.7h0m0-3.3h0m.1 4.9h0m0-4.6h0m.1-9.8h0m.1 18.4h0m0-10.4h0m.1 .9h0m0-2.8h0m.1 1.9h0m0 3.5h0m.2-1.4h0m0-1.1h0m0 6.8h0m.1-4.1h0m0 6.8h0m0-6.9h0m.1 .9h0m0 1.1h0m0-4.3h0m.1-2.9h0m.1 5.1h0m.2-10.6h0m0 14.6h0m0-6.2h0m.2-8.5h0m.1 10.1h0m0-1.8h0m.1-6.3h0m0 6.9h0m.1 5.4h0m0-5.4h0m0-3.2h0m.1 4.7h0m.1 1.5h0m.2-.1h0m.2-4.4h0m0 3.6h0m0-9.6h0m.2 10.3h0m0-3.9h0m0-4.3h0m.1 3.7h0m.1 9.9h0m0-9.4h0m.1 3h0m.1-.9h0m.1 3h0m.1-3.5h0m.1-1h0m.2 5.5h0m0 2.3h0m.3-9.5h0m0-.6h0m.2-1.9h0m.2 4.6h0m0 2.5h0m.1 2.2h0m.1-9h0m0 1h0m.3-5.2h0m0 11.1h0m.1-1.1h0m.5-7.8h0m0 11.7h0m.2 2.1h0m0-5.2h0m.1-6.1h0m.1-1.8h0m.1 7.8h0m0-1.6h0m.1 6h0m0-15.3h0m0-.5h0m0 8.2h0m.1 3.3h0m0-5.7h0m.2-.1h0m.1 6h0m0 3h0m0-1.5h0m0-13.5h0m0 14.6h0m.1-2.7h0m0-3.5h0m0 2.6h0m.1 .2h0m.1-3.5h0m0 .8h0m0-5.3h0m0 8.3h0m.1-3.4h0m.2-1.9h0m0 2.4h0m.1 2.2h0m.1-1.3h0m.1 9h0m.1-11.3h0m0 .1h0m0 1.7h0m.1-6.6h0m.1 16.1h0m0-9.9h0m0 4.3h0m.2-5.4h0m0 10.2h0m0-5.9h0m.1-7h0m0 3.6h0m.2 .8h0m0-2.4h0m.1-.7h0m0 1.7h0m0 6h0m.1 1.1h0m.3-10.6h0m.2-3.1h0m0-1.2h0m.2 5.3h0m0 4.3h0m.1-4.3h0m.4 4.6h0m0-7.6h0m0 2.4h0m.1 13.8h0m0-11.7h0m0 1.6h0m.1 8.7h0m.1-2h0m0-3.9h0m0-2.9h0m.3 2.4h0m0-4.1h0m.2 11.6h0m.1-7.8h0m.2-1.4h0m0-2.5h0m.1 4.1h0m0 5.4h0m0-11.5h0m.2 7.6h0m0-4.8h0m.1 5.4h0m0-2.4h0m.1 5.2h0m.1-1.3h0m.1-.4h0m.3-6.5h0m0-4.2h0m.2-.3h0m0 5.8h0m.1 1.1h0m.1 8.7h0m0-10h0m.1 1.3h0m0-1.3h0m0 3.5h0m.3-5.2h0m.1-3.6h0m.1 6.1h0m.1-8.4h0m.2 3.2h0m.1 0h0m0 3.6h0m0 10.6h0m.1-10.1h0m.1 .8h0m.1-4.5h0m.2 3.6h0m.2 .3h0m.1 8.4h0m.1-7.2h0m0-2.9h0m.1 1.8h0m.2-7.1h0m.1 8.6h0m0-1.5h0m.1 .7h0m0-1.2h0m.1 4.4h0m0-5.2h0m0 1.9h0m0-2.1h0m.2-2.6h0m0 4h0m.1-5.2h0m.1 9.9h0m0-7.7h0m0 8.8h0m.1-7.6h0m0 2.1h0m.1 1.7h0m0 5.2h0m0-10.1h0m.1-2.8h0m0 9.5h0m0-3.7h0m0 2.9h0m.1-1h0m.1-9h0m.1 4.2h0m0 3h0m0 2h0m.1-.7h0m0-8h0m.1 2.8h0m.1-.1h0m0 1.2h0m0-2.5h0m0 14.2h0m0-10.4h0m.2 5.9h0m0-6h0m.2-3h0m.1 7.2h0m.1 2.2h0m.1-.3h0m.1-14.6h0m.1 15h0m0-8.4h0m.2-5.3h0m0 10.8h0m0-4.9h0m0 11h0m.2-5.9h0m0-2.7h0m.1 2.4h0m.2-4.7h0m.2-7h0m0 7.6h0m.1 1.9h0m.1-1.2h0m.1-3.6h0m.1 3.9h0m0-3.9h0m0 1.2h0m.1 10.6h0m.1-7.7h0m.1 5.3h0m0-1.6h0m.1 1h0m.1-2.4h0m0-4.9h0m0 3.4h0m.1-8.2h0m.1 8.2h0m0 1.6h0m.2 1.7h0m0-3.3h0m.1-2.4h0m0-7.5h0m.1 7h0m.1-2.2h0m0 6.2h0m.1-8.8h0m.2-1.4h0m.1 1.2h0m.1-1.1h0m0 1.9h0m0-2.3h0m.2 7h0m.1 4.1h0m0-4.3h0m0-5.4h0m.2-8.3h0m0 5.8h0m.1-2.7h0m.1 9.2h0m0-1.7h0m.1 4.2h0m.1-7.9h0m.1-2.1h0m0 .6h0m0 6.1h0m.2-3.8h0m.1-4.7h0m0 3.4h0m.1-3.9h0m0 3.9h0m.1-.9h0m.1-3.9h0m0 4h0m0-4.4h0m.1 2.6h0m.1-1.3h0m.1-2.2h0m.1 3h0m.3 1.4h0m.1 4.3h0m.1-6.7h0m.1 .8h0m0-5.2h0m.1-3.4h0m.2 3h0m0-8.1h0m.1 7.7h0m0-4.8h0m.2 1.5h0m.1-.5h0m.1 .5h0m.1 7.9h0m0-6.1h0m.5-9.9h0m.1 10.5h0m0-10.2h0m.1 1.3h0m.2-4.9h0m0 3.1h0m.1 7.8h0m0-15.2h0m.1 6.5h0m.1-3h0m0 2.9h0m.1-2.6h0m0-5.3h0m0-2.6h0m.1 3.9h0m.1-3.9h0m.1 8.5h0m.1-3.4h0m.2 5.7h0m0-12.4h0m.1 .9h0m.2 2.1h0m.1 .9h0m0-2.8h0m0-10.8h0m.1 4.7h0m.1-5.5h0m0 5h0m.1 2.4h0m0-.8h0m.1-7.2h0m0 4h0m.1 1.4h0m0-8.7h0m.1 15.5h0m.1-12.3h0m.1 1.2h0m.1-10.6h0m0 12.5h0m.1-6.3h0m0 .5h0m.1-.5h0m0 8.5h0m0-13.5h0m.1 1.9h0m.1-1.1h0m.1-4.5h0m0 0h0m.1 9.6h0m.1-5.3h0m0-5.4h0m0 5.5h0m.1-7.3h0m0 8.5h0m.1-12.6h0m0 4.4h0m0 1h0m0 3.8h0m.1-1h0m0-.7h0m.1-2h0m0 0h0m.2-2.2h0m.1 .9h0m.2-1.4h0m0-2.4h0m.2-3.9h0m0 5.2h0m0-4.1h0m.1 4.7h0m.3-10h0m0-6.6h0m.1 11h0m.1-12.6h0m0 3h0m.1 6h0m.1-2.6h0m.1-1.7h0m0-3.8h0m0 8.9h0m.1-5.8h0m.2-5.9h0m0 7h0m.1-1.9h0m0 2.4h0m0 3.8h0m.1-2.1h0m.1-4h0m.1-8.8h0m0-1.8h0m.1 8.7h0m.4-2.5h0m.1-2.7h0m0 .8h0m.1 1.5h0m.1-3.9h0m.1 3.1h0m.1-5.5h0m0 8.3h0m.1-3.2h0m.2-10h0m.1 7.8h0m0 4.3h0m.1-3.4h0m0-2.4h0m0-.7h0m.1 1.4h0m0-5.3h0m.1 9.9h0m0-6.3h0m.1 5.3h0m0-1h0m.3-5.4h0m.1 5.1h0m0 8.4h0m.2-5.7h0m.1-5.2h0m.2 9.2h0m0-1.3h0m.1 .3h0m.1-3.7h0m.1 3.8h0m0 4.9h0m0-5.1h0m.1 6.6h0m0-11.3h0m0 8.4h0m.2-7h0m0-2.3h0m.2 8.9h0m0 8.1h0m0-10.4h0m0-2h0m0 6h0m.1 .8h0m0-1.9h0m0 .9h0m.1-.5h0m0 2.2h0m0-.3h0m.1 1.8h0m.1-5h0m0 3.2h0m0 4.9h0m0 5.8h0m.1-5.5h0m0-7.3h0m.1 7.8h0m.1 0h0m.2 1.6h0m0-7.7h0m0 10.3h0m.1 3.1h0m.1 .4h0m0 2h0m.1-10.5h0m.1 11.2h0m.1-7.1h0m0 2.4h0m.2 2.8h0m.1-2.3h0m0 9.2h0m.1-5.8h0m.1 4.1h0m.1-.8h0m.1 5.5h0m0-2.4h0m.1 3.2h0m0-3h0m.1-2.9h0m0 1.1h0m0 4.1h0m.2 2h0m0-6h0m.1-.7h0m.1 3.4h0m0 9.3h0m.1-3.2h0m0-2h0m0-1.9h0m0-3.9h0m.1 10.3h0m0-3.3h0m0-4.1h0m.2 9.1h0m0-5.8h0m.1 7.8h0m0-4.6h0m.1 3.7h0m0 5.3h0m.1-1.8h0m0-6h0m0 7.9h0m0 3.6h0m0-8.6h0m0-.3h0m.1 5.3h0m.1-12.7h0m.1 6.2h0m0 3.2h0m0 7h0m0-2.5h0m.1 2.1h0m.1 .3h0m.2-3h0m.1 3.1h0m0-2.4h0m0 5.5h0m.1-9.9h0m0 10.9h0m.1 .7h0m0-1.2h0m.1-.2h0m0-9.3h0m0 8.5h0m.2 5.5h0m0-6.7h0m0 9.7h0m.1-14.7h0m0 10.1h0m.2 2h0m0 3.5h0m.2-1.2h0m.2-3.1h0m0-.5h0m.2 6.8h0m.1 8.2h0m.1-11.5h0m0 .3h0m0 1.2h0m.3 7.1h0m.4-7.6h0m0 7.3h0m0 .5h0m.2-1.4h0m0-3h0m0-.7h0m.2 10.2h0m.1 1.3h0m0-.1h0m.1-.7h0m.1-8.4h0m0 5.1h0m0-1.9h0m.2 12.1h0m.1-16.7h0m.1 15.7h0m.1-8.5h0m0-2.3h0m.1 11.2h0m.1 4h0m0-9.9h0m0 7.8h0m.1-4.9h0m0-.1h0m.1-5.6h0m.1 2.1h0m.1 3.8h0m.1-3.3h0m.2 2.6h0m.1-.1h0m.1-.3h0m0 6.3h0m0 2h0m0-8.3h0m.1 3.6h0m.1 4.2h0m.1-.2h0m.1-8.3h0m.1 12.6h0m.1-7.3h0m0 3.1h0m0 3.6h0m.2-6.5h0m.2 1.8h0m0 1.9h0m0 2.3h0m.1-5.4h0m0 .3h0m.1-1.6h0m.3 6.2h0m0-5.4h0m.4-.5h0m.1 4.1h0m0 3.4h0m0 4.6h0m.2-14.2h0m0 3h0m.2-.1h0m.1 3h0m0 .5h0m0-3.5h0m0 1.5h0m.1-2.6h0m0 10.3h0m.1-4.9h0m.1 3.6h0m0-8.3h0m.1 2.9h0m.1 2.7h0m.2-2.9h0m.1 4.8h0m0-3.7h0m0 3.1h0m.2 5.3h0m.1-5.7h0m0-10.6h0m.1 12.8h0m0 3.9h0m.1-11.2h0m0 4.4h0m.1 2.2h0m0-2.3h0m0 2.9h0m0-7.9h0m0 2.7h0m.1 5.6h0m0-12.8h0m.1 11.3h0m.1 6h0m0-13.5h0m.1 5.8h0m0-1.5h0m0 5.1h0m0-.9h0m.1-5.3h0m0-6.6h0m.1 6.6h0m0-.7h0m0 8.2h0m.2-10.3h0m0 4.9h0m0 1.5h0m0-1.7h0m0 3.1h0m0 2.5h0m.1 4.4h0m.1-10.3h0m0-1.5h0m.1 6.7h0m.1-8.7h0m.1 7.9h0m.2 0h0m0 3.9h0m.1-8.5h0m0-2.4h0m.1 2.7h0m.1 4.9h0m.2 0h0m.1-.2h0m0-10.9h0m0-1.6h0m.1 7.3h0m.1 3.2h0m.1-3.2h0m0-1.6h0m0-3.6h0m.1 12.3h0m.1-5.2h0m0 .5h0m.3 7.8h0m0-7.3h0m.1 5.8h0m.2-10h0m.1 2.9h0m.1-1.5h0m0 1.2h0m0 3.1h0m.1 5.5h0m.1-.1h0m0-10h0m.1-6.8h0m.1 8.8h0m.1-1.9h0m0-.9h0m0-.1h0m.1-.1h0m.3 .3h0m0 4.2h0m0 .9h0m.1-4.6h0m0-.3h0m.1 8.9h0m.2-15.2h0m0 15.9h0m.1-6.5h0m0 4.1h0m.1-11.5h0m0 9.6h0m.2-3.7h0m0 1.7h0m0-1.6h0m.2 .1h0m.1-2.2h0m.1 6.5h0m0-6.6h0m0 5.4h0m0-1.8h0m.1 1.6h0m.1-5.6h0m.2 5.4h0m0 1.5h0m0-3.9h0m0-1.4h0m.1-.4h0m.3 2.5h0m0 .6h0m0 6h0m.1-11.9h0m.3 5.3h0m.1 3.8h0m.1-7h0m.2 4.9h0m.1-1.6h0m0-3.3h0m.1 4.2h0m0 3h0m.1-3.6h0m0 .5h0m0 6.5h0m.2-7.7h0m.1-2.5h0m.2 6.3h0m.2-4.2h0m.1-.8h0m.1-.4h0m.1 2.1h0m0 9.3h0m.2-10.3h0m.2-2.7h0m0 1.3h0m0 10.3h0m.2-13h0m0-.5h0m0 14.2h0m.1-.6h0m.1-5.3h0m.1-3.9h0m.1 2h0m0-4.5h0m.1 1.2h0m0-2.7h0m0-2.5h0m.1 10.1h0m0-5.8h0m.1 7h0m.1-3.8h0m0 5.4h0m.1-10.3h0m0 5h0m.1 1.1h0m.2-6.1h0m0 5.6h0m.3 2.5h0m0 6.3h0m0-4.8h0m.1-12.3h0m0 12.8h0m.1-10.1h0m0 8.1h0m.1-9.1h0m0 4.9h0m.4 3.6h0m.1-.3h0m0-3.4h0m.1 3.2h0m0-7.1h0m.1 .2h0m.1 14.3h0m0-10.6h0m0-.6h0m0-2.3h0m.3 5.2h0m0-4h0m.1 6h0m.1-.1h0m0 0h0m0 .5h0m.3-7.4h0m.1-1.1h0m.2-2.7h0m.1 7.1h0m.2 3.1h0m0 3.8h0m0-12h0m.2 3.3h0m0 1.4h0m0-8.1h0m.1 7.8h0m0 .3h0m.1 1.8h0m.1 3.4h0m0-11.8h0m0 5.8h0m0-.9h0m0-1.4h0m.1 12.1h0m.3-5.7h0m.2 .5h0m0-9.8h0m.1 9.1h0m0 3.3h0m.1-3.1h0m.1-2.4h0m0 2.2h0m.1-6.8h0m0-2h0m0 6.7h0m.1 6.4h0m0-10.1h0m0 12.5h0m0-1.4h0m.1-8.1h0m0-4.2h0m0 .5h0m.1 5.8h0m0-4.6h0m.1 9.3h0m.1-1h0m0-7.3h0m.1 5.6h0m.1 1.3h0m.1-4.1h0m.1-8.1h0m.1 4.3h0m.1-3.9h0m.2 7.6h0m0 .3h0m.1-5.1h0m0 12.6h0m0-10.1h0m0 11.2h0m.1-7.7h0m0-3h0m0 1.1h0m0-3h0m.1 1.9h0m.3 7.8h0m0-1.1h0m0-14.5h0m0 15.8h0m.1-4.7h0m.1-.7h0m0-2.1h0m0-2.4h0m.1 11.6h0m.1-7.2h0m0-9.6h0m.1 1.7h0m0 5.1h0m0-3.3h0m.1 0h0m0 10.2h0m0-7h0m0 7.2h0m0-9.8h0m.1-4.8h0m0 8h0m0 3.6h0m.1-8.6h0m.1 12.1h0m.1-4.4h0m.1 4.5h0m.1-10.8h0m0 4.1h0m0-8.5h0m.1 3.2h0m0 11.4h0m0-4.3h0m.2 .8h0m0-11.1h0m.1 9.7h0m0 5.1h0m.1-2.9h0m0-2.5h0m.1 2.6h0m0-3.1h0m0 7.1h0m.2-10.9h0m.1 2.4h0m0-.9h0m.1-4.5h0m0 4h0m0 6.4h0m.1-3.5h0m0-2.4h0m0 6.3h0m.1-5.8h0m.1 .4h0m0 .6h0m.1 4h0m.1 1.4h0m.1-7.5h0m0 8.9h0m.1-7.4h0m.1-2.3h0m.1 8.6h0m.1-6.4h0m.1 2.1h0m.1-4h0m0 8.3h0m0-1.6h0m0-1.3h0m.1-4.7h0m0 7.6h0m0-.7h0m.3 1.7h0m.1-14.8h0m.1 12.8h0m0 .1h0m0-4.7h0m.1 3.5h0m.1-.8h0m0-2.5h0m.2 1h0m.2-9.3h0m0 4.9h0m0 4.5h0m0-2.7h0m.1 5.3h0m0-.8h0m.1-8.7h0m0 11.8h0m0-3.2h0m0 .6h0m.1-5.6h0m.1 3.7h0m.1 3.1h0m.1 2.6h0m.1-3.2h0m0-7.1h0m.1 .3h0m0 3.4h0m.1 2.1h0m.1 1.6h0m0-6.4h0m0 12.2h0m.2-12.5h0m0-4.3h0m.1 8.3h0m.1-9.7h0m.1 14.3h0m.1 .7h0m0-11.3h0m0 3.1h0m0 .9h0m.1-6.1h0m0 2.5h0m.2 .4h0m.2-1h0m0 5.4h0m.1-2.4h0m.1 11.4h0m.1-4.4h0m.1-9.8h0m0 1.7h0m.1 8h0m0-6.7h0m0 2.3h0m0 5.1h0m.2-.6h0m0-3.1h0m0 7.6h0m0-11.9h0m0-1.6h0m.2 3.6h0m.1 1.7h0m0 .5h0m.2 5.7h0m0-3.3h0m0-1.8h0m.1-6.3h0m.1 7.1h0m.1-8.6h0m0 6.1h0m.2 3.4h0m0-5.1h0m0 4.6h0m.1-5.2h0m0 2.6h0m0-7h0m.1 .8h0m0 3.3h0m0-3.8h0m0 6.5h0m.1 6.6h0m.1-4.5h0m.1-4.4h0m.1-.4h0m0 4.3h0m0-7.1h0m.2 .3h0m.1 5.3h0m.3 1.7h0m.1 6.8h0m0-12.8h0m0 5.7h0m.1 1h0m.1 1.3h0m0-6.3h0m.1 4.7h0m0-2.8h0m.2-4.7h0m0-2.5h0m0 5.3h0m.1 11.4h0m0-6.6h0m0-.3h0m0-4.7h0m.1 7.2h0m0-14.1h0m.1 11h0m.3 .5h0m.1-1h0m.1 4.1h0m.1 .2h0m0-4.4h0m.1-5.8h0m.1 6.2h0m.1-2.4h0m.1 4.6h0m0-8.3h0m0 1.6h0m.2 6h0m0-2.5h0m.1-3h0m0 4.2h0m0-2h0m0-1.9h0m.1 9.2h0m.1-7.2h0m0-1.6h0m.1 5.5h0m0-9.6h0m.1 6.9h0m0 8.2h0m.1-8.9h0m.1-4.2h0m0 2.9h0m.1 .2h0m.1-1.1h0m0 10.2h0m.1-.5h0m0-2.9h0m.1-3.1h0m0-5.3h0m0 1.4h0m0 2.9h0m.1-9.3h0m.1 9.4h0m.1-4.9h0m.1 6.5h0m0 .1h0m0-4.7h0m0 11.3h0m0-12.7h0m0-.6h0m0 1h0m.3 5.2h0m.1-7.5h0m0 6h0m0-3.7h0m.1-3.1h0m0 9.5h0m0-1.5h0m.1 1h0m0 1.4h0m0-12.2h0m.1 6.2h0m0 7h0m.1-1.7h0m.1 3.3h0m0-5.9h0m0 2.5h0m.1-2h0m.1-1h0m0-2.4h0m.1-5.9h0m0 7.1h0m.1 2.2h0m.1-5.5h0m.1 3.5h0m0 2.9h0m0-1.7h0m0-2.7h0m.1 6.8h0m0 .1h0m0-9.7h0m0 5.6h0m0 .6h0m.1 4.1h0m.1-12.7h0m0 7.6h0m0 .8h0m.1 2.4h0m0-9.4h0m.2 10.6h0m.2-10h0m.1 4.1h0m.1 4.9h0m0-5.7h0m0 1.8h0m0 .7h0m.1 3.1h0m0-2.1h0m.1 2.2h0m0 2.9h0m.3-11.5h0m0 11.7h0m.1-7.3h0m0-4.2h0m.6 5.7h0m.1-.2h0m.3 .7h0m0 5h0m0-10.4h0m.1 9.2h0m0-6.1h0m.1 1.4h0m.1-4.7h0m0 4.6h0m0-3.5h0m.1 4.7h0m0 .5h0m.1-5.8h0m.2 1.9h0m0 3.1h0m.1 .8h0m.2-5.5h0m0 .1h0m.3-1.3h0m0-1.7h0m.2-1.4h0m0 4.5h0m0 10.6h0m0-4h0m.1 4.8h0m0-13.2h0m.1-.7h0m0-1h0m0 3.2h0m.1 5.9h0m0-4.3h0m0 10.9h0m0-6.1h0m.1-8.6h0m0 4.4h0m0 3.6h0m.1 2.4h0m.1-6h0m0-2.7h0m0-1h0m0 4.1h0m.2 1.6h0m0 1.4h0m.1 5.1h0m0-6.3h0m0 4.4h0m.1-8.1h0m0 4.9h0m.1 1.7h0m.1-9.2h0m.1 6.5h0m0-2.5h0m.1 5.6h0m.2-2.5h0m.1-3.2h0m.1 5.6h0m0-7.1h0m.1-1.1h0m0 .1h0m0 7.5h0m0-8.6h0m.2 9.9h0m0-10.4h0m0 6.2h0m.1-3.5h0m0 1.6h0m0 3.9h0m.1 4.3h0m.1 0h0m0-13.9h0m0 1.8h0m0 13.4h0m0-10.4h0m.1 3.3h0m.2-5.2h0m.2 11.9h0m0-5.5h0m.2 4.4h0m.1 1.1h0m0-12h0m0 6.8h0m0-7.3h0m0 4.1h0m0 6.9h0m.1-6.8h0m.1-.6h0m0-8.2h0m.2 8.4h0m0-7.1h0m.1-1.4h0m.1 6.9h0m0-1.3h0m0 4.4h0m.1 .6h0m0 0h0m.1-8.5h0m0 5.3h0m0 8.3h0m.1 2.8h0m0-5.2h0m.1-2.4h0m.2-.7h0m0 4.6h0m0-1.6h0m.1 2h0m.1-10.2h0m.1 5.1h0m.1-1.6h0m.1 .7h0m.1 3.1h0m.1-6.1h0m.2 3.7h0m.2 .7h0m0-1.8h0m0 2h0m.1-5.3h0m0 7.3h0m.2-6.7h0m.2-5.2h0m.1 10.9h0m.1 2.4h0m0-2.8h0m.1 .8h0m.2-8.3h0m.1 4.3h0m0-4.3h0m.1 3.2h0m0 5.1h0m.1-3.4h0m0-4.9h0m0 3.8h0m.1 4.4h0m.2 1.5h0m0-2.9h0m.2 2.1h0m.2-11.4h0m0 14.9h0m0-9.8h0m0 5.8h0m0-3.7h0m.2 3.7h0m0-5.8h0m0 4.6h0m.2-.9h0m.1-6.1h0m0 8.6h0m.1-3.2h0m.1-3.6h0m0 10.7h0m.1-7h0m0 2h0m0-10.5h0m.1 3.4h0m.1 5.9h0m.1-4h0m0 11.1h0m.1-1.3h0m.1-7.9h0m0 5h0m0-4h0m0 6.1h0m0-8.5h0m.3 4.4h0m0-2.1h0m.1-7.4h0m0 11h0m0 3.9h0m.1-5.7h0m0-11h0m0 11h0m.2 2.3h0m.1-1.9h0m0-.1h0m0 1.3h0m0-1.9h0m.1-5.6h0m.1 3.8h0m0 .3h0m0 1.5h0m.3-2.4h0m.1 6.3h0m.3-8.4h0m0-5.5h0m0 4.7h0m.1 5h0m.1-4.9h0m0 4.7h0m.1 2.3h0m0-2.7h0m0-.6h0m.1-4.1h0m.1 1.5h0m.1-1.2h0m.4 4h0m.1 7.5h0m0-3.3h0m.3-5.9h0m0 4.8h0m.1-5.2h0m.1 7.6h0m0-8.8h0m.4 8.7h0m.1-7.2h0m.1-1.5h0m.2 3.6h0m.1-5.6h0m0 1.2h0m.3 4.9h0m.1-5.2h0m0 4h0m.1 .4h0m.2-2.8h0m.2 2.7h0m0 9.2h0m.1-4.2h0m.1-11.1h0m0-1.2h0m0 1.1h0m0 9.4h0m0 5.7h0m.1-9.7h0m0-5h0m0 6h0m0 7.8h0m.1-10.3h0m.1 2.3h0m0 2.8h0m.1-5.4h0m.1 8.2h0m0-9.2h0m0 5.1h0m0 3.2h0m.1-11.4h0m.1 6.7h0m0 6.9h0m0-9.9h0m0 2.8h0m.1-4h0m0 11.6h0m.1 .3h0m.4-5.5h0m.1-.6h0m.1-4.9h0m.1 1.5h0m.1-3.9h0m0 4.6h0m0 .7h0m.1-2.4h0m0-1.9h0m0 1.2h0m.1 7.8h0m.1-6.5h0m0 1.5h0m0-.3h0m0 6.4h0m0-13.6h0m.1 5h0m.1 6.8h0m.1-2.4h0m.1-2.7h0m.1 1.7h0m.3 2.6h0m0-4.3h0m0 5.5h0m0 .8h0m.1-4.2h0m.1-6.6h0m0 2.6h0m0 8.5h0m.1-11.5h0m0 4.5h0m.1 2.3h0m.1 5.6h0m0 2.9h0m0-6.5h0m.1 6h0m.2-6.2h0m.1-6.9h0m.1 9.4h0m0-10.2h0m0 1.5h0m.1 .5h0m0 5.3h0m.1-4.4h0m.1-2.6h0m.1 4.4h0m.1 3.3h0m0-9.8h0m.1 7.8h0m.1-5.2h0m.2 .9h0m0 5.5h0m0-1h0m.1 8.5h0m0-6.3h0m.1-11.9h0m.2 11.7h0m.1-.9h0m0 .3h0m.1 1.5h0m.1-3.6h0m.1 4.1h0m0-11.6h0m0 9.6h0m.1-1h0m0-9h0m.2 12.6h0m.3-10.4h0m0 3.3h0m.1 8.3h0m.1-6.9h0m.1 4.9h0m0-1.5h0m.1 1.3h0m0-1.9h0m.1-3.2h0m0 10.6h0m.1-7.5h0m0-2h0m.1-.4h0m.1 3.2h0m0 4.2h0m.4-6.3h0m0-.5h0m.1-2.2h0m0-5h0m.3 5.7h0m.1-4.5h0m.1 7h0m.1-5.4h0m0 5.5h0m0-2.2h0m.1 2.4h0m0 .2h0m.2-4.6h0m0 1.6h0m.1 3.6h0m0-2.4h0m.2-4.5h0m.1-.4h0m0 7.9h0m.2-2.5h0m.1-.8h0m.1 .5h0m0-3h0m.2 2.6h0m0-5.6h0m0 4.6h0m.2 4.7h0m.1-2h0m0-7.6h0m.1 13h0m0-7.2h0m0-7.6h0m0 4.4h0m0 12.6h0m.1-6.2h0m0-10h0m.1 16.7h0m0-11.2h0m.1-4.3h0m.1 10.8h0m0 1h0m.1-5.3h0m0-3.7h0m.1 2.7h0m0 .2h0m.1-1.8h0m.1-1.2h0m0 6.4h0m.2-1.3h0m.1 .9h0m0-4.1h0m.1-2.8h0m0-3.1h0m.1 9.6h0m.1-2.1h0m.3 8.3h0m0-2.7h0m.1-5.7h0m0-5.7h0m0 1.5h0m0 9.8h0m0-3.7h0m.1-9.9h0m.1 5.5h0m0 .5h0m.1-.7h0m0 3.3h0m.1-3.1h0m.1 .7h0m0 5.3h0m0 3.9h0m.1-7.4h0m.1-5.7h0m0 9.8h0m0-4.1h0m0-1.6h0m.1-3.3h0m.1 4h0m.1 5.9h0m.4-7.4h0m0 5.1h0m.1-2.8h0m0-5.7h0m.1 3.3h0m.1 2.7h0m.2-6.9h0m.1 5.7h0m.3 6.2h0m0-1.5h0m0-7.1h0m.1 1.1h0m0 11.2h0m0 .5h0" stroke="#f5a2a2" stroke-opacity="0.42" stroke-width="1.4" stroke-linecap="round" fill="none"/>
<path d="M284.2 355.5L284.6 355.5L285.0 355.5L285.4 355.5L285.8 355.5L286.2 355.5L286.6 355.5L287.0 355.5L287.4 355.5L287.8 355.5L288.2 355.5L288.6 355.5L289.0 355.5L289.4 355.5L289.8 355.5L290.2 355.5L290.6 355.5L291.0 355.5L291.4 355.5L291.8 355.5L292.2 355.5L292.6 355.5L293.0 355.5L293.4 355.5L293.8 355.5L294.2 355.5L294.6 355.5L295.0 355.5L295.4 355.5L295.8 355.5L296.2 355.5L296.6 355.5L297.0 355.5L297.4 355.5L297.8 355.5L298.2 355.5L298.6 355.5L299.0 355.5L299.4 355.5L299.8 355.5L300.2 355.5L300.6 355.5L301.0 355.5L301.4 355.5L301.8 355.5L302.2 355.5L302.6 355.5L303.0 355.5L303.4 355.5L303.9 355.5L304.3 355.5L304.7 355.5L305.1 355.5L305.5 355.5L305.9 355.5L306.3 355.5L306.7 355.5L307.1 355.5L307.5 355.5L307.9 355.5L308.3 355.5L308.7 355.5L309.1 355.5L309.5 355.5L309.9 355.5L310.3 355.5L310.7 355.5L311.1 355.5L311.5 355.5L311.9 355.5L312.3 355.5L312.7 355.5L313.1 355.5L313.5 355.5L313.9 355.5L314.3 355.5L314.7 355.5L315.1 355.5L315.5 355.5L315.9 355.5L316.3 355.5L316.7 355.5L317.1 355.5L317.5 355.5L317.9 355.5L318.3 355.5L318.7 355.5L319.1 355.5L319.5 355.5L319.9 355.5L320.3 355.5L320.7 355.5L321.1 355.5L321.5 355.5L321.9 355.5L322.3 355.5L322.7 355.5L323.1 355.5L323.5 355.5L323.9 355.5L324.3 355.5L324.7 355.5L325.1 355.5L325.5 355.5L325.9 355.5L326.3 355.5L326.7 355.5L327.1 355.5L327.5 355.5L327.9 355.5L328.3 355.5L328.7 355.5L329.1 355.5L329.5 355.5L329.9 355.5L330.3 355.5L330.7 355.5L331.1 355.5L331.5 355.5L331.9 355.5L332.3 355.5L332.7 355.5L333.1 355.5L333.5 355.5L333.9 355.5L334.3 355.5L334.7 355.5L335.1 355.5L335.5 355.5L335.9 355.5L336.3 355.5L336.7 355.5L337.1 355.5L337.5 355.5L337.9 355.5L338.3 355.5L338.7 355.4L339.1 355.4L339.5 355.4L339.9 355.4L340.3 355.4L340.7 355.4L341.1 355.4L341.5 355.4L341.9 355.4L342.3 355.4L342.8 355.4L343.2 355.3L343.6 355.3L344.0 355.3L344.4 355.2L344.8 355.1L345.2 355.0L345.6 354.9L346.0 354.8L346.4 354.6L346.8 354.4L347.2 354.2L347.6 353.9L348.0 353.6L348.4 353.1L348.8 352.6L349.2 352.0L349.6 351.3L350.0 350.5L350.4 349.5L350.8 348.4L351.2 347.2L351.6 345.7L352.0 344.1L352.4 342.2L352.8 340.1L353.2 337.8L353.6 335.2L354.0 332.4L354.4 329.3L354.8 326.0L355.2 322.4L355.6 318.6L356.0 314.6L356.4 310.4L356.8 306.0L357.2 301.5L357.6 296.9L358.0 292.4L358.4 287.8L358.8 283.4L359.2 279.1L359.6 275.1L360.0 271.4L360.4 268.1L360.8 265.3L361.2 263.0L361.6 261.3L362.0 260.4L362.2 260.3L362.4 260.4L362.8 261.3L363.2 263.0L363.6 265.3L364.0 268.1L364.4 271.4L364.8 275.1L365.2 279.1L365.6 283.4L366.0 287.8L366.4 292.4L366.8 296.9L367.2 301.5L367.6 306.0L368.0 310.4L368.4 314.6L368.8 318.6L369.2 322.4L369.6 326.0L370.0 329.3L370.4 332.4L370.8 335.2L371.2 337.8L371.6 340.1L372.0 342.2L372.4 344.1L372.8 345.7L373.2 347.2L373.6 348.4L374.0 349.5L374.4 350.5L374.8 351.3L375.2 352.0L375.6 352.6L376.0 353.1L376.4 353.6L376.8 353.9L377.2 354.2L377.6 354.4L378.0 354.6L378.4 354.8L378.8 354.9L379.2 355.0L379.6 355.1L380.0 355.2L380.4 355.3L380.8 355.3L381.2 355.3L381.6 355.4L382.1 355.4L382.5 355.4L382.9 355.4L383.3 355.4L383.7 355.4L384.1 355.4L384.5 355.4L384.9 355.4L385.3 355.4L385.7 355.4L386.1 355.5L386.5 355.5L386.9 355.5L387.3 355.5L387.7 355.5L388.1 355.5L388.5 355.5L388.9 355.5L389.3 355.5L389.7 355.5L390.1 355.5L390.5 355.5L390.9 355.5L391.3 355.5L391.7 355.5L392.1 355.5L392.5 355.5L392.9 355.5L393.3 355.5L393.7 355.5L394.1 355.5L394.5 355.5L394.9 355.5L395.3 355.5L395.7 355.5L396.1 355.5L396.5 355.5L396.9 355.5L397.3 355.5L397.7 355.5L398.1 355.5L398.5 355.5L398.9 355.5L399.3 355.5L399.7 355.5L400.1 355.5L400.5 355.5L400.9 355.5L401.3 355.5L401.7 355.5L402.1 355.5L402.5 355.5L402.9 355.5L403.3 355.5L403.7 355.5L404.1 355.5L404.5 355.5L404.9 355.5L405.3 355.5L405.7 355.5L406.1 355.5L406.5 355.5L406.9 355.5L407.3 355.5L407.7 355.5L408.1 355.5L408.5 355.5L408.9 355.5L409.3 355.5L409.7 355.5L410.1 355.5L410.5 355.5L410.9 355.5L411.3 355.5L411.7 355.5L412.1 355.5L412.5 355.5L412.9 355.5L413.3 355.5L413.7 355.5L414.1 355.5L414.5 355.5L414.9 355.5L415.3 355.5L415.7 355.5L416.1 355.5L416.5 355.5L416.9 355.5L417.3 355.5L417.7 355.5L418.1 355.5L418.5 355.5L418.9 355.5L419.3 355.5L419.7 355.5L420.1 355.5L420.5 355.5L421.0 355.5L421.4 355.5L421.8 355.5L422.2 355.5L422.6 355.5L423.0 355.5L423.4 355.5L423.8 355.5L424.2 355.5L424.6 355.5L425.0 355.5L425.4 355.5L425.8 355.5L426.2 355.5L426.6 355.5L427.0 355.5L427.4 355.5L427.8 355.5L428.2 355.5L428.6 355.5L429.0 355.5L429.4 355.5L429.8 355.5L430.2 355.5L430.6 355.5L431.0 355.5L431.4 355.5L431.8 355.5L432.2 355.5L432.6 355.5L433.0 355.5L433.4 355.5L433.8 355.5L434.2 355.5L434.6 355.5L435.0 355.5L435.4 355.5L435.8 355.5L436.2 355.5L436.6 355.5L437.0 355.5L437.4 355.5L437.8 355.5L438.2 355.5L438.6 355.5L439.0 355.5L439.4 355.5L439.8 355.5L440.2 355.5" stroke="#880707" stroke-width="2.0" fill="none" stroke-linejoin="round"/>
</g>
<g clip-path="url(#cf)">
<path d="M522.8 365.1L523.5 365.1L524.1 365.1L524.8 365.1L525.5 365.1L526.1 365.1L526.8 365.1L527.5 365.1L528.2 365.1L528.8 365.1L529.5 365.1L530.2 365.1L530.8 365.1L531.5 365.1L532.2 365.1L532.8 365.1L533.5 365.1L534.2 365.1L534.9 365.1L535.5 365.1L536.2 365.1L536.9 365.1L537.5 365.1L538.2 365.1L538.9 365.1L539.5 365.1L540.2 365.1L540.9 365.1L541.5 365.1L542.2 365.1L542.9 365.1L543.6 365.1L544.2 365.1L544.9 365.1L545.6 365.1L546.2 365.1L546.9 365.1L547.6 365.1L548.2 365.1L548.9 365.1L549.6 365.1L550.3 365.1L550.9 365.1L551.6 365.1L552.3 365.1L552.9 365.1L553.6 365.1L554.3 365.1L554.9 365.1L555.6 365.1L556.3 365.1L556.9 365.1L557.6 365.1L558.3 365.1L559.0 365.1L559.6 365.1L560.3 365.1L561.0 365.1L561.6 365.1L562.3 365.1L563.0 365.1L563.6 365.0L564.3 365.0L565.0 364.9L565.6 364.9L566.3 364.8L567.0 364.7L567.7 364.6L568.3 364.5L569.0 364.2L569.7 364.0L570.3 363.8L571.0 363.6L571.7 363.5L572.3 363.5L573.0 363.6L573.7 363.8L574.4 364.0L575.0 364.4L575.7 364.7L576.4 365.0L577.0 365.2L577.7 365.6L578.4 365.9L579.0 366.2L579.7 366.5L580.4 366.7L581.0 366.7L581.7 366.4L582.4 365.8L583.1 365.0L583.7 364.2L584.4 363.4L585.1 362.2L585.7 361.0L586.4 360.1L587.1 359.8L587.7 360.1L588.4 360.7L589.1 361.4L589.8 362.2L590.4 363.2L591.1 364.4L591.8 365.8L592.4 367.4L593.1 368.8L593.8 369.8L594.4 370.5L595.1 370.1L595.8 368.5L596.4 364.9L597.1 356.8L597.8 340.4L598.5 323.7L599.1 302.4L599.8 281.9L600.5 263.9L601.1 263.9L601.8 281.9L602.5 302.4L603.1 323.7L603.8 340.4L604.5 357.0L605.2 363.8L605.8 367.2L606.5 368.8L607.2 369.8L607.8 370.2L608.5 370.5L609.2 370.5L609.8 369.8L610.5 368.8L611.2 367.7L611.8 366.4L612.5 365.0L613.2 363.7L613.9 362.4L614.5 361.3L615.2 360.5L615.9 359.9L616.5 360.0L617.2 360.6L617.9 361.6L618.5 362.4L619.2 363.1L619.9 363.9L620.6 364.7L621.2 365.4L621.9 366.0L622.6 366.5L623.2 366.7L623.9 366.6L624.6 366.4L625.2 366.1L625.9 365.6L626.6 365.3L627.2 364.9L627.9 364.6L628.6 364.2L629.3 363.8L629.9 363.6L630.6 363.5L631.3 363.5L631.9 363.7L632.6 363.9L633.3 364.1L633.9 364.4L634.6 364.6L635.3 364.7L636.0 364.8L636.6 364.9L637.3 364.9L638.0 365.0L638.6 365.0L639.3 365.1L640.0 365.1L640.6 365.1L641.3 365.1L642.0 365.1L642.6 365.1L643.3 365.1L644.0 365.1L644.7 365.1L645.3 365.1L646.0 365.1L646.7 365.1L647.3 365.1L648.0 365.1L648.7 365.1L649.3 365.1L650.0 365.1L650.7 365.1L651.3 365.1L652.0 365.1L652.7 365.1L653.4 365.1L654.0 365.1L654.7 365.1L655.4 365.1L656.0 365.1L656.7 365.1L657.4 365.1L658.0 365.1L658.7 365.1L659.4 365.1L660.1 365.1L660.7 365.1L661.4 365.1L662.1 365.1L662.7 365.1L663.4 365.1L664.1 365.1L664.7 365.1L665.4 365.1L666.1 365.1L666.7 365.1L667.4 365.1L668.1 365.1L668.8 365.1L669.4 365.1L670.1 365.1L670.8 365.1L671.4 365.1L672.1 365.1L672.8 365.1L673.4 365.1L674.1 365.1L674.8 365.1L675.5 365.1L676.1 365.1L676.8 365.1L677.5 365.1L678.1 365.1L678.8 365.1L678.8 377.4L678.1 377.4L677.5 377.4L676.8 377.4L676.1 377.4L675.5 377.4L674.8 377.4L674.1 377.4L673.4 377.4L672.8 377.4L672.1 377.4L671.4 377.4L670.8 377.4L670.1 377.4L669.4 377.4L668.8 377.4L668.1 377.4L667.4 377.4L666.7 377.4L666.1 377.4L665.4 377.4L664.7 377.4L664.1 377.4L663.4 377.4L662.7 377.4L662.1 377.4L661.4 377.4L660.7 377.4L660.1 377.4L659.4 377.4L658.7 377.4L658.0 377.4L657.4 377.4L656.7 377.4L656.0 377.4L655.4 377.4L654.7 377.4L654.0 377.4L653.4 377.4L652.7 377.4L652.0 377.4L651.3 377.4L650.7 377.4L650.0 377.4L649.3 377.4L648.7 377.4L648.0 377.4L647.3 377.4L646.7 377.4L646.0 377.4L645.3 377.4L644.7 377.4L644.0 377.4L643.3 377.4L642.6 377.4L642.0 377.4L641.3 377.4L640.6 377.4L640.0 377.4L639.3 377.4L638.6 377.4L638.0 377.3L637.3 377.2L636.6 377.2L636.0 377.1L635.3 377.0L634.6 376.9L633.9 376.7L633.3 376.5L632.6 376.2L631.9 376.0L631.3 375.8L630.6 375.8L629.9 375.9L629.3 376.1L628.6 376.5L627.9 376.9L627.2 377.2L626.6 377.6L625.9 378.0L625.2 378.4L624.6 378.7L623.9 379.0L623.2 379.0L622.6 378.8L621.9 378.3L621.2 377.7L620.6 377.0L619.9 376.2L619.2 375.4L618.5 374.8L617.9 373.9L617.2 372.9L616.5 372.3L615.9 372.2L615.2 372.8L614.5 373.6L613.9 374.7L613.2 376.0L612.5 377.4L611.8 378.7L611.2 380.0L610.5 381.1L609.8 382.1L609.2 382.8L608.5 382.8L607.8 382.5L607.2 382.1L606.5 381.1L605.8 379.5L605.2 376.1L604.5 369.3L603.8 352.7L603.1 336.0L602.5 314.7L601.8 294.3L601.1 276.2L600.5 276.2L599.8 294.3L599.1 314.7L598.5 336.0L597.8 352.7L597.1 369.1L596.4 377.2L595.8 380.8L595.1 382.5L594.4 382.8L593.8 382.1L593.1 381.1L592.4 379.7L591.8 378.1L591.1 376.7L590.4 375.5L589.8 374.5L589.1 373.7L588.4 373.0L587.7 372.4L587.1 372.1L586.4 372.4L585.7 373.3L585.1 374.5L584.4 375.7L583.7 376.5L583.1 377.3L582.4 378.1L581.7 378.7L581.0 379.0L580.4 379.0L579.7 378.8L579.0 378.5L578.4 378.2L577.7 377.9L577.0 377.6L576.4 377.3L575.7 377.0L575.0 376.7L574.4 376.4L573.7 376.1L573.0 375.9L572.3 375.8L571.7 375.8L571.0 375.9L570.3 376.1L569.7 376.3L569.0 376.6L568.3 376.8L567.7 376.9L567.0 377.0L566.3 377.1L565.6 377.2L565.0 377.2L564.3 377.3L563.6 377.3L563.0 377.4L562.3 377.4L561.6 377.4L561.0 377.4L560.3 377.4L559.6 377.4L559.0 377.4L558.3 377.4L557.6 377.4L556.9 377.4L556.3 377.4L555.6 377.4L554.9 377.4L554.3 377.4L553.6 377.4L552.9 377.4L552.3 377.4L551.6 377.4L550.9 377.4L550.3 377.4L549.6 377.4L548.9 377.4L548.2 377.4L547.6 377.4L546.9 377.4L546.2 377.4L545.6 377.4L544.9 377.4L544.2 377.4L543.6 377.4L542.9 377.4L542.2 377.4L541.5 377.4L540.9 377.4L540.2 377.4L539.5 377.4L538.9 377.4L538.2 377.4L537.5 377.4L536.9 377.4L536.2 377.4L535.5 377.4L534.9 377.4L534.2 377.4L533.5 377.4L532.8 377.4L532.2 377.4L531.5 377.4L530.8 377.4L530.2 377.4L529.5 377.4L528.8 377.4L528.2 377.4L527.5 377.4L526.8 377.4L526.1 377.4L525.5 377.4L524.8 377.4L524.1 377.4L523.5 377.4L522.8 377.4Z" fill="#f5a2a2" fill-opacity="0.3" filter="url(#blur)"/>
<path d="M522.8 365.4h0m0-1.4h0m0 16.5h0m.1-4.3h0m.1-8.8h0m.1 4.6h0m0 7.6h0m.3-3.8h0m0-1.9h0m.1-7h0m0 4.4h0m.1-2.3h0m.1 5.4h0m0 .4h0m0-6.4h0m0 4.8h0m.1-4.3h0m0 7.2h0m.2-2.8h0m0-9.9h0m.1 13.4h0m0-3.9h0m.1-3.5h0m0-.8h0m.1 2.8h0m.2 1.6h0m.2 .5h0m.3 7h0m0-11h0m.2 4.8h0m.1-5.8h0m0-1h0m.1 2.9h0m0-3.2h0m.1 .6h0m0 6.5h0m0-11h0m.1 12.7h0m0-5.8h0m0-4.7h0m.1 11.4h0m0-4h0m0-6.4h0m.1-1.3h0m0-2.2h0m0 8.4h0m0-2.8h0m.2 3.3h0m.1-3.8h0m.1 10.6h0m0-6h0m.2-5.8h0m.1 10.3h0m0-7.3h0m.1-.8h0m.1-2.2h0m0 .2h0m.1 13.4h0m.1-9.7h0m0 9.2h0m.1-9.9h0m0-1.7h0m.2 8.4h0m.1-11.2h0m0 4.8h0m.1 1.4h0m.1 4h0m0-3.1h0m.1 4.2h0m0-4.1h0m0-5.6h0m.1 9.3h0m.1-.3h0m.2 .2h0m0-3h0m.1-4.6h0m.1 2.4h0m0-4.2h0m0-1h0m.1-2.6h0m0 12h0m.1-5.2h0m0-4.9h0m.1 10.3h0m.2-1h0m0 4h0m0-3.5h0m.1 3.6h0m0-11.5h0m0 9.5h0m.1-5.4h0m0-7.3h0m.1 3.1h0m0 5.8h0m.3-9.3h0m0 1.2h0m.1 8.8h0m0-4.6h0m0 2.4h0m.1 2.1h0m0 .8h0m.1-3.1h0m0 4.1h0m0-1.8h0m.2-1.1h0m0-3.8h0m.1-3.4h0m.1 8.6h0m0-3.8h0m.3-4h0m0 5.2h0m.1-1.4h0m0-7h0m.3 13.5h0m.1-6.1h0m0-5.2h0m0 9.3h0m.2-6.6h0m0-1.8h0m.1 7.2h0m.2-3.4h0m.1 3.9h0m0-6.2h0m.3 3.7h0m.1-.3h0m.1 1.2h0m0-3.7h0m.3 5.9h0m.1-3h0m.1-3.8h0m.2 2h0m.2 2.4h0m.1 4.1h0m0-6h0m0 .1h0m.3-.2h0m0-1.1h0m0 1.1h0m0-1.6h0m.1 12.3h0m.1-5.3h0m0-6.8h0m0-.6h0m0 4.4h0m.2 3.5h0m.1-3h0m0 5.7h0m0-3.8h0m0-2.8h0m.1 6.8h0m0-6.6h0m0-6.2h0m0-1.1h0m.1-2.7h0m0 9h0m0-.8h0m.1-1.1h0m.2 3.3h0m.4 1.2h0m0 2h0m0-9.6h0m.1 6.4h0m0 5h0m0-7.6h0m.1 10.2h0m.2-5.5h0m0-8.4h0m.1 5.6h0m0 2.3h0m0-8.9h0m.1 9.7h0m0-7.6h0m.1-1.4h0m0 10.7h0m.1-1.2h0m0-8.4h0m.1-2.2h0m0 14.7h0m0-13.9h0m.1 12.7h0m0-15.3h0m0 8.4h0m.1 1.4h0m.2-.7h0m.1-1.5h0m.1 8.1h0m.1-13.5h0m0 4.5h0m.2-5.1h0m0 12.9h0m.1-11h0m.1 6.9h0m0-9.3h0m0 1.7h0m0 11.7h0m.1-3.6h0m.2-6h0m0 6h0m.1 1.3h0m0 2.9h0m.1-16h0m0 6.7h0m0 6.8h0m.2-1.8h0m0-8.6h0m.3 5h0m0-4h0m.1 8.4h0m0-5.5h0m0 .6h0m0 3.5h0m0-1.5h0m.1-9.6h0m0 9.9h0m0 3.2h0m.1-8.9h0m.1 8.7h0m0-4.8h0m0-7.7h0m0 7.6h0m.3 3.2h0m0-8h0m.1 12.4h0m.1 1.9h0m0-5.3h0m0-3h0m0-.1h0m.1 4.4h0m0 4.4h0m0-6.4h0m0-2.7h0m.1 3.6h0m.1-.1h0m.2 2.3h0m0-13.5h0m.1 13.8h0m.1-.7h0m.1-5.8h0m.3-2h0m.1 6.2h0m0-1.8h0m0-5.9h0m.2 5.5h0m.1-1.2h0m0 5.6h0m0-6.1h0m0 4.4h0m.1 1h0m0-4.9h0m.1 .7h0m.2-2.4h0m.1 4.9h0m0-3.3h0m0-.9h0m.2 .2h0m0-7.8h0m.1 3.1h0m.1 5.6h0m0-.6h0m.1-5.4h0m0 3.5h0m.1 6.9h0m0-8h0m0 .2h0m0-4.3h0m.1 6.1h0m.1 7.1h0m0-6h0m.2-2.3h0m0 6.1h0m0 1.6h0m.1 1h0m0-6.9h0m.1 1.5h0m0 4.1h0m.1 2.7h0m.1-11.6h0m.2 6.2h0m.1-10.9h0m0 9.7h0m.2 2.3h0m.1 1h0m0-13.2h0m0 13h0m.1-7.8h0m.1 6.3h0m0 6.9h0m0-15.2h0m0 0h0m0 15.2h0m.2-11.2h0m.1 7.2h0m0 .7h0m.2-11.3h0m.2 3.8h0m.1 4.9h0m.4 1.3h0m0-4.3h0m.1 2h0m0-.2h0m.1-3.1h0m0 2.3h0m.3-3.6h0m0-1.7h0m0 .4h0m.2 6.8h0m0-8.2h0m0-1.7h0m0 9.6h0m.4-6h0m0 6.1h0m0 .1h0m0-12.4h0m.1 0h0m.1 11.6h0m0 .5h0m0-9.4h0m.1 5.7h0m0 6.2h0m.1-6.7h0m.1 .7h0m0 5.9h0m.1-2.1h0m.3 1.5h0m.2-3.7h0m.1-.6h0m.1-5.1h0m.1 7.4h0m.1-2.2h0m.1 3.9h0m0-3.4h0m.1-.1h0m.1-8h0m0 5.3h0m.1 .4h0m.1 0h0m0 2.4h0m0-7h0m.1 2.9h0m.1 7h0m0-4.5h0m.1 4.2h0m.1-3.9h0m0 4.5h0m.1-4.7h0m0 1.5h0m.2 3.5h0m0-1.9h0m0-2.2h0m.1 2.7h0m.1 5.6h0m.2-8.3h0m0 3.2h0m0-8h0m0 13.7h0m0-1.7h0m.5-4.4h0m0 2.8h0m.1-2.7h0m.1-6.6h0m.1 10.5h0m0-2.5h0m0-1.6h0m.1-4.1h0m.2 7.1h0m0-8.2h0m0 1h0m.1 10.4h0m.1-15.8h0m0 3.5h0m0-1.3h0m0 2.4h0m.1 6.7h0m.1-5.4h0m.2 7.3h0m0-9.8h0m0 .3h0m0-2.3h0m.1 5h0m0 4h0m0-4.1h0m.1 1.2h0m.1-7.8h0m.1 8.1h0m0 4.6h0m.1-.1h0m0-8.2h0m.1 4.4h0m.1 5.7h0m0-1.9h0m.1 .8h0m.2-4.6h0m.1-5.7h0m.1 7.4h0m.1-4.2h0m0 2.8h0m.2 5.4h0m0-8.8h0m0 5.3h0m.1-8.2h0m.2 4.9h0m.1-4.5h0m0 9.6h0m.1-7.1h0m0-6h0m.2 1.5h0m0 3.6h0m.1 .7h0m0 7.1h0m.1-5.3h0m.1 2.2h0m0 .3h0m.2-8.9h0m0 5.3h0m.2-4h0m0 8.7h0m.1-.3h0m0-5.2h0m0 2.8h0m.1-2.7h0m0-.1h0m.2-7.8h0m.1 8.6h0m0-6.4h0m.1 13.2h0m.2 .5h0m.2-8.1h0m.3 6.2h0m.1-9h0m0 4.8h0m.1 2.5h0m.1-5.9h0m0-1.3h0m.1 8.5h0m.1 3.8h0m0-5.9h0m0-.1h0m.1-1.3h0m.1-5h0m0 4.8h0m.1-1.7h0m.1-5.3h0m0 12.4h0m.3-7.4h0m.1 4.6h0m0-6.4h0m0 7.8h0m.1-1.2h0m0-6.4h0m.2 4.6h0m0-7.8h0m.2 7.4h0m.1-4.5h0m.1 .3h0m0 3.8h0m0-1.1h0m.2-2.4h0m.1 1.3h0m0-2.8h0m.1 7.2h0m0 .1h0m.1-8.4h0m.1 3.8h0m0 6.3h0m.2-5.7h0m.3-7.7h0m0 7.2h0m.1 1.7h0m.1 2h0m.1-4.1h0m.2-2.4h0m.2 .6h0m.1 5.4h0m.2 .2h0m.1 3h0m0-6.4h0m.1 10.6h0m.1-11.1h0m.1 3.8h0m0-4h0m0-4.3h0m0 15.6h0m.3-2.6h0m.1-4.4h0m0-11.5h0m.1 10.3h0m0-10.3h0m0 6.2h0m0-.4h0m.1 4.4h0m0-3.5h0m.1 .9h0m.1 .6h0m0 .5h0m0 6.8h0m.1-4.2h0m.3-3.8h0m.2 2.1h0m0 4.8h0m0-8.1h0m0 6.1h0m0-3.8h0m.2-.2h0m0-2.4h0m0-.5h0m0 13h0m.1-5.3h0m.2-2.9h0m0 0h0m.1 2.4h0m0-12.1h0m.1 10h0m.1-6.1h0m.1 3h0m.2-1.1h0m.1 .2h0m0 11.9h0m.2-10.5h0m.1 2.3h0m.1 3.1h0m.2-5.6h0m.1 4.9h0m.1-2.2h0m.1-1.4h0m.1 .2h0m0 .9h0m.1-2.3h0m0 5.6h0m.1-2.5h0m0 3h0m.3-4.7h0m0-.5h0m.1 4.4h0m0 .4h0m.1 2.4h0m0 .3h0m0-13.5h0m.1 15.6h0m.1-8.3h0m0 1h0m.1 6.6h0m0-13.5h0m.1 6.5h0m.3 1.2h0m0-3.7h0m.1 1.8h0m0 5.9h0m0-6.2h0m.1-.1h0m.1-1.2h0m0-4.9h0m.2 4.4h0m.2 3.4h0m0-2.5h0m.1-4.3h0m0 2h0m.1 2.4h0m0 1.9h0m.1 2.8h0m.1-4.2h0m0 2.8h0m.1-2.6h0m.1 1.4h0m0-.3h0m.1-2.3h0m.1 1.6h0m0-6.3h0m.1 5.3h0m0-9.2h0m0 15h0m.1-3.1h0m.1-.7h0m0-.1h0m.1-4.6h0m.1-1.1h0m0 3.1h0m.1-.9h0m.2 3.9h0m.1-1.8h0m0 3.2h0m0 1.4h0m.1-5h0m0-3.9h0m.1-.8h0m.1 10.2h0m.2-3.9h0m0-6.7h0m0 7.4h0m.6-3.1h0m.1 1.8h0m0-3.4h0m.1 5.8h0m.1-5.3h0m0-7.6h0m0 17.3h0m.1-13.6h0m0 11.2h0m0-4h0m.1-7h0m.1 4.4h0m0-4.2h0m0-4h0m.1 3.7h0m0 9.2h0m.1-2h0m0 3.6h0m0-5.2h0m.1 8h0m.1-14.1h0m0 2h0m0 7.4h0m.1-.9h0m.1-2.8h0m0-1.3h0m.1-.1h0m0 1.8h0m0-4.4h0m.2 2.2h0m.1 .8h0m.3 6.1h0m0-6.5h0m0 4.3h0m.1-8.5h0m0 12.9h0m0-1h0m.2-6h0m0-4.6h0m.2 2.7h0m0 6.8h0m.4-10.8h0m0 10.1h0m0-7.2h0m.1 5.7h0m0 1h0m0-2.1h0m.2-7.8h0m.1 8.9h0m.1-4.7h0m0 3.2h0m0-5.1h0m0 8.4h0m.1-5.3h0m.1 2.4h0m0-4.8h0m.2 2.3h0m.2 2h0m.1 .4h0m0-2.8h0m.1-3.8h0m.1 .8h0m.1 3.4h0m0-2.7h0m.1 5h0m0-4.5h0m.1-1.1h0m0 1.6h0m0 5.4h0m.1-3.3h0m.1-1.6h0m.2 3h0m0 2.4h0m0-6.4h0m.1-2.4h0m0 4.5h0m.1-5.5h0m0 8.2h0m.1-9.8h0m0 9.4h0m0-1.5h0m.1-1.4h0m0-5.6h0m.1 5.4h0m0-.6h0m0-1.4h0m.1 6.3h0m0-.2h0m.1 3.7h0m.1-3h0m0-2.7h0m0 3.2h0m.1-11.1h0m0 10h0m.1-4.9h0m0 10.5h0m.2-14.3h0m0 6h0m0-.2h0m.1-2.7h0m0-1.4h0m.1-4.8h0m0 14.7h0m0-6h0m.1 3.9h0m0-5.2h0m0 3h0m.1 2.1h0m.4 5.3h0m0-14.7h0m.1 6.2h0m.1 5.2h0m.1-3.5h0m0 3.9h0m.1 3h0m0-4h0m.2 .4h0m0-12.7h0m0 7.5h0m.1 3.9h0m0 1.6h0m.1-8.6h0m0 4h0m.1 3.5h0m0-4.1h0m.2 1.8h0m0-7.7h0m.1-2.2h0m0 9.2h0m0-5.7h0m0 2.9h0m.1 8.2h0m0-7h0m.3 6.6h0m0-10.3h0m.1 2.5h0m0 4.4h0m.1 3.9h0m.2-6.9h0m0 3.2h0m0 1.6h0m.1-9.9h0m.1 .5h0m0 2.4h0m0 5h0m0 .9h0m0-12.5h0m.1 10.3h0m.1-9.5h0m0 7h0m.1 1.5h0m.1 2.2h0m.1 3h0m0-2.5h0m0-8.8h0m.1 3.3h0m0 7.7h0m.1-1.3h0m0-4.3h0m.1-1.4h0m.1 8.5h0m0-2.5h0m0-.1h0m0-8.4h0m.1 3.2h0m0 5.5h0m0-7.1h0m.1 12.6h0m0-.4h0m0-6.3h0m.1 2.9h0m0-3h0m.1 3.5h0m0 .2h0m.1-8.5h0m0 4.4h0m0-9.4h0m0 12.2h0m.1-5.3h0m.2-8.1h0m.1 4.5h0m0 8.6h0m.1-.9h0m.1-3.6h0m.1 5.4h0m0-7.2h0m0 2.4h0m.1-.2h0m0 2.6h0m.1-1h0m.1 6.8h0m.1-17.4h0m.1 10h0m.1 .7h0m.1-3.3h0m0-7.2h0m0 8.7h0m.1-.4h0m.1 1.2h0m0-4.4h0m.2 3.2h0m.1 3.5h0m0 3.1h0m0-5h0m.1-.1h0m0-7.6h0m0 5.7h0m0-1.6h0m0 4.8h0m0 2.8h0m.1-3h0m.1-3.5h0m0 6.3h0m0-4.7h0m.1-5.8h0m.1 4.3h0m.1 2.2h0m.2-.1h0m0 .6h0m0-3.8h0m0-1.1h0m.2 6.3h0m0 2.2h0m.1-7.5h0m0-.5h0m.2 3.5h0m0 3.5h0m.1-9.1h0m0 12.7h0m.2 .6h0m0-11.7h0m.1-3.1h0m.7 4.3h0m.1-2.5h0m.1 3.3h0m.1-3.8h0m.1 8.2h0m0-1.6h0m0 .5h0m0 .4h0m.1-5.7h0m0 3.7h0m0 5.3h0m0-14.6h0m0 10.1h0m.1 2.2h0m.1-1.5h0m0-1.9h0m0-2.2h0m.1-1.5h0m0 8.9h0m.1-14.5h0m.1 1.8h0m0 12.6h0m.4-8.4h0m0 1.5h0m.2 6.1h0m0-3.7h0m0-2.7h0m0-7.1h0m.1 9h0m0-5.3h0m.1 6.3h0m.2-5h0m0-6.5h0m.1 3.7h0m0 1.5h0m.1 1.9h0m0 .9h0m0 2.7h0m.1 2.3h0m0-6.5h0m0 1.2h0m0 8.5h0m.1-6.5h0m0 4.9h0m.2-10.9h0m.1 8.5h0m.1-5.1h0m.1-8.3h0m0 0h0m.2 9.5h0m0 8.4h0m0-9h0m.2-3.7h0m.2 .6h0m.1 .2h0m0 1.1h0m0 4.4h0m0-1.7h0m0-4.4h0m.1-.4h0m0 4.6h0m0-.6h0m.2-2h0m0-2.4h0m0 6h0m0 3.6h0m.1-4.1h0m0-2h0m.1-8.7h0m0 4.4h0m0 5.7h0m0-9.7h0m.1 14.8h0m0-4.6h0m.1-11.7h0m.1 7h0m0 1.3h0m.1 4.7h0m0-2h0m0-8.1h0m.1 5.4h0m0 2h0m.1-6.9h0m0-2.1h0m.1 10.5h0m0-7.2h0m0 2.7h0m.1 .3h0m.2 5.4h0m0-5.3h0m.1 4.7h0m.2-3.1h0m0-3.9h0m.1 3.1h0m.1-1.4h0m0-2.3h0m.3-2.1h0m0 3.4h0m.1-.1h0m0 6h0m.1 2.4h0m.2-8.1h0m.3 7h0m0-.5h0m0-3.5h0m.1-.1h0m.1-5.2h0m.1 12h0m0-.5h0m.1 2.9h0m.2-10h0m0 .5h0m0 3h0m.1 .3h0m.1 .4h0m0 3.9h0m.1 .1h0m0-2.8h0m0-5.9h0m.2-1.7h0m0 5.2h0m0-1.4h0m.1 3.1h0m.1-5.6h0m0 .7h0m0-4.5h0m0 7.5h0m0 3.3h0m.1-4.3h0m0 3.4h0m.2-2.3h0m.2-5.8h0m.1 6.3h0m.1-.5h0m.2 1.2h0m0-5.2h0m.1-3.5h0m.1 11.1h0m0-12.2h0m0 10.3h0m.1 .2h0m0-1.4h0m.1 4.8h0m0-2.2h0m0 .3h0m.1-4.5h0m.1 6.5h0m0-6.3h0m.1 6.6h0m.1-1.8h0m.4-.3h0m.1 3h0m0-3.5h0m0 2.8h0m.1-9.4h0m.1 9.7h0m.1-.4h0m0-6h0m.1 7.6h0m.1-2.1h0m.1-3.3h0m.1 4.1h0m.2 2.2h0m0-11.1h0m0 10.3h0m.1-5.6h0m.1 2.8h0m.1 1.6h0m.1 1.1h0m0-3.1h0m.1 3.1h0m.1-5.2h0m0 3h0m.1 1.6h0m0-.7h0m0-2.6h0m.1 2.7h0m0 3.5h0m0 1.2h0m.1-.1h0m0-2.9h0m.2-3.1h0m.1-3.9h0m0 2.1h0m0-.9h0m.1 8.2h0m.1-7.4h0m.3-.1h0m.2 3.5h0m0-2.4h0m.1-2.9h0m.1-1.2h0m0 6.4h0m0 1.7h0m0-2.7h0m.1 6.1h0m0-3.9h0m.1-1.6h0m.1 3.8h0m.3-10.3h0m0 8.7h0m.1 1.4h0m.1 .5h0m.1-5h0m.1-3.5h0m0-.7h0m0 5.5h0m.2-2.9h0m0 7h0m.1-3.1h0m0-8.1h0m.1 12.3h0m0-5.4h0m0-12.3h0m.1 10.1h0m0-2.6h0m.1 .2h0m.1-1h0m0 .6h0m0-.7h0m0-8.3h0m.1 5.9h0m.1-2h0m0 2.5h0m.4 2.1h0m0-12h0m0 6.7h0m.1-6.9h0m.1 2h0m0-9.3h0m0 8.2h0m0 .9h0m.1-3.3h0m0-3h0m.1 .3h0m.1 2.5h0m0-5.4h0m0-6h0m.2-8.2h0m0 8.2h0m.1-8.1h0m0 7.3h0m.2-2.6h0m0-5.6h0m.1 .2h0m0-.7h0m.1 4.6h0m.2-15.2h0m0-.9h0m.1 .5h0m0-4.5h0m.1-8.3h0m0 6.5h0m.1-2.8h0m.1-.4h0m.1-8.1h0m0 6.4h0m.1-12.7h0m0 7h0m0 1.3h0m.1-3.5h0m0-10.4h0m0 2.5h0m.1 1.8h0m0 4.4h0m0-7.9h0m.1 4.6h0m.1-7.8h0m0 .1h0m.1-3h0m0-3.2h0m.1 .7h0m0 .1h0m.2-3.3h0m.1-.1h0m0-6.9h0m0 4.8h0m0-1.3h0m.1-5.1h0m0-1h0m.1-5.3h0m.3-4.5h0m.1-3.8h0m0 3.5h0m.3 5.9h0m0-5.3h0m0-6.5h0m.2 12h0m0-4.5h0m.1 12.4h0m.1 3.2h0m.1-7h0m.1 7.8h0m0 5.8h0m.1 3.8h0m0-3.7h0m0 6.1h0m.1-6h0m.1-5.3h0m0 5.1h0m0 10h0m.1-5.6h0m.1-1.8h0m0 3.4h0m.3 8.4h0m.1 4.6h0m0 2.3h0m.1-4.2h0m.1 14.1h0m0-.8h0m0 1.1h0m.2-7.1h0m0 18.4h0m0-10.2h0m0 3.8h0m.1 2.2h0m.1-.2h0m.3 5.8h0m0 3.4h0m.1 6.6h0m.1-3.4h0m0 2.4h0m.1 2.3h0m.1 10.4h0m0-12.3h0m.1 5.2h0m.2 8.4h0m.1-.1h0m.1 6.7h0m0 3.1h0m.1-3.4h0m0 6.9h0m.2-2.3h0m.1 1.1h0m0 3.3h0m.1-1.7h0m0 5.7h0m0-12.8h0m.1 13.9h0m0-7.1h0m.1-2.5h0m.1-.5h0m.1 12.6h0m0-9.3h0m.2-.1h0m0 3.7h0m0-2.8h0m0-.3h0m.2 3.8h0m0-5.7h0m.1-2.8h0m0 9.7h0m0 2.4h0m.1-3.7h0m0-4.6h0m.2 4.4h0m0-7.9h0m0 13.2h0m0-2h0m.1-1.6h0m.2 1.6h0m.2-3.2h0m.2 1.3h0m0-.9h0m0 7.2h0m.1-2.7h0m0 2.5h0m.2-3.6h0m.1 1.4h0m0-4.2h0m.1 2.7h0m.1-1.8h0m.1-6.5h0m0 2.8h0m0 4.2h0m0-6h0m.5 6.4h0m0 4.3h0m0-9.1h0m0 3.8h0m.1-4.1h0m0 2.9h0m0 3.9h0m.3 3.2h0m0-10.1h0m0 7.3h0m.2-7.7h0m.1 10.9h0m0-.1h0m.1-2h0m0-5.1h0m.1 5.1h0m0-5.7h0m.2 3.1h0m.1-5.2h0m.1-2.8h0m.3-.8h0m.1 6.4h0m0 5.3h0m.2-9.3h0m.2 4.3h0m0 0h0m0 6h0m0-.8h0m.2 1h0m0-4.5h0m0-6.9h0m.1-2.7h0m.2 3.4h0m0 6.1h0m.2 .6h0m.1-10.8h0m.1 1.2h0m.1 9.5h0m0-1h0m0-2.7h0m.1 8h0m.1-3.8h0m.2-3.1h0m.1-.7h0m.1 .3h0m.1-3h0m0 1.3h0m.1-4.8h0m0 2.4h0m.1 3.8h0m0-3.7h0m0 6.9h0m.1-6.7h0m.2 8.4h0m.1-13.3h0m.1 6.5h0m.1-8.1h0m0 4.2h0m.1 5.1h0m.1-1.4h0m.3-1.3h0m.1-6.2h0m.1 10.2h0m0-6.8h0m.1-4.8h0m.1-1.3h0m0 6.2h0m.2 2.3h0m0 5.3h0m.1-10.5h0m0 1h0m0 13.3h0m0-2.7h0m.1-8.5h0m0 4.3h0m0-6h0m0 1.9h0m.1 1.3h0m0 1.3h0m.1-7.3h0m0 .9h0m.1 5.8h0m.1-7.8h0m0 5.5h0m.1 5.8h0m0-3.4h0m.1 5.2h0m0-8.8h0m.1-.9h0m.1 1.3h0m.1 8.7h0m.1-4h0m0 5.7h0m.1-7.3h0m0-5.1h0m.1 3.7h0m0-1.9h0m.1 1.4h0m0 4.8h0m.1-2.5h0m.3 .8h0m.1-5.7h0m0-.6h0m.1 7.4h0m.1-.9h0m0-6.7h0m0 .9h0m.2 3.5h0m.1-8.1h0m.1 9.6h0m.1-5.6h0m.1 2.1h0m0-4.8h0m.1 6.3h0m0-6.3h0m0 2.1h0m.1 12h0m0-5.9h0m.2-5.7h0m.1 5.5h0m.1-7.3h0m.1 4.4h0m.1 8h0m0-9.3h0m0-.8h0m0-1.6h0m.1 1.2h0m0-.7h0m.1 .7h0m.2 5.4h0m0-8.7h0m.1 5.2h0m.1 9.1h0m0 1.4h0m.1-13.3h0m0 2.3h0m.1-.2h0m0 6.8h0m.1-5.3h0m.2 .7h0m0 8.8h0m0-5h0m.1-.8h0m.1 7.5h0m0-2h0m.1-6.1h0m0-3.3h0m.3 3.3h0m0 1.4h0m.3-.8h0m.1-2.7h0m.1 4.9h0m0-4.2h0m.1-1.2h0m0 1.4h0m.2-3.2h0m0 5h0m0-1.7h0m0 7.7h0m0-3.2h0m.1-12.4h0m.1 15.4h0m0 3h0m.1-8h0m.1-1.3h0m0-4.8h0m0 3.3h0m0 .5h0m.1 6.1h0m.1-11.1h0m0 .9h0m.1 .5h0m0 5.8h0m.4-2.5h0m.1 6.1h0m0-1h0m.1-5h0m0 .7h0m.1 5.3h0m.1-.9h0m0-6h0m.2 .7h0m.1 5.2h0m0-2.4h0m.3 7.7h0m0-7.9h0m0 1.8h0m0-1.6h0m.1 .5h0m0-5.9h0m.1 4.2h0m0 2.6h0m0-2.5h0m.1 2.4h0m.1 4h0m0-3.2h0m.1-2.2h0m0 2.2h0m.1-2.7h0m0 6.6h0m0-2h0m.1-.8h0m0 2.1h0m.1 4.3h0m0-7h0m.1 3.8h0m0-11h0m.1 6.7h0m.3-.7h0m.1-2.6h0m.2 7.5h0m0-8.6h0m.1 5.1h0m.3-7.4h0m0 3.2h0m0-2.4h0m.1 6.2h0m.3 3.2h0m0-4.9h0m0 4.8h0m.1-4.6h0m0 1h0m.1 .5h0m0 1.5h0m0-5.7h0m.2-5.5h0m0 14.2h0m.1-1.2h0m.1-3.2h0m.1-10.5h0m.1 12.2h0m0-11.1h0m.1 9.9h0m0-1.3h0m0-.2h0m.1 4.8h0m0-8.6h0m.1 3.9h0m0 5.6h0m0-9.8h0m0 .6h0m.1 3.2h0m.1-4.7h0m0 1.5h0m.1 6.6h0m.1-12.8h0m.1 8.6h0m.1 .8h0m.4-8.2h0m0 5.2h0m.2 4h0m0-5.3h0m.1 8.7h0m.1-12.5h0m0 15.8h0m.3-10.5h0m0 6.9h0m0-5.2h0m.1 2.9h0m.1 0h0m0-5h0m.1-2.1h0m.1 3.2h0m.1-1.7h0m0 3.9h0m0-1.5h0m0-5.6h0m.1 9.9h0m.1-9.3h0m0 8.6h0m.2-3.2h0m.1-.3h0m.1 4.2h0m0-5.9h0m.2 1.2h0m0-5.6h0m0 3.7h0m0-2.6h0m.1 2.3h0m0-7.2h0m0 8.1h0m.3 2.9h0m0 3.3h0m.1-2.3h0m0-3.6h0m.1 .5h0m.1-9.1h0m0 8.6h0m0-.3h0m.1-6.2h0m0 1.8h0m.1 .7h0m0 10.4h0m.1-4h0m0-.1h0m.1-8.1h0m.1-1h0m.1 8h0m.1-5.2h0m.1-1.5h0m.1 5.3h0m0-.3h0m0-4.4h0m.1 3.1h0m0 5.7h0m.1-4.7h0m.1 0h0m0 1.6h0m.1 .6h0m0-.9h0m.2 3.8h0m0-.8h0m0-2h0m.3 4h0m.1-.9h0m.1-.9h0m.2-7.5h0m0 7.2h0m0-10.6h0m.1 10.7h0m0 .3h0m.2-4.3h0m0-1.2h0m.2 .8h0m.1-1h0m.1 2.4h0m.1-1.7h0m.1 1.2h0m.2 5h0m0 2.6h0m.1-1.8h0m0-2.3h0m.1-5.9h0m.1 4.6h0m.2-9.7h0m.1 8.1h0m0 4h0m.1 .5h0m.1-3h0m0-4.6h0m0 4.4h0m0-2.2h0m.1 4h0m.2 3.3h0m.1 3h0m.2-9.7h0m0 2.5h0m.1-5.7h0m.2 .4h0m0 6.4h0m0-4.8h0m.2 2.6h0m0 3.9h0m.1-2.6h0m.1-2.1h0m.1-4.3h0m0 7.9h0m.1 1h0m0-.7h0m.1-9.8h0m.1 6.6h0m0 1h0m.2 1.7h0m0-.8h0m0-.1h0m.1 3.5h0m0-6.5h0m.1-5.9h0m.1 7.2h0m0 2.1h0m0-4.9h0m.2 2.2h0m0-4.6h0m.2 5.8h0m0-10.2h0m0 9.1h0m.1-5.8h0m.1 7.3h0m.1-1.1h0m.1-1.6h0m0 3.9h0m0-10.2h0m.1 16.4h0m.2-11.6h0m0 7.7h0m0-6.1h0m0 3.3h0m0-3.4h0m0-1h0m.1 5.2h0m0-3.9h0m.1 9.7h0m0-6.6h0m.1-7.5h0m0-.6h0m.3 .8h0m0 5.3h0m.1-3.7h0m0 7.8h0m0-4h0m.1 2.6h0m0-.8h0m0 2h0m.1-8.5h0m0-.6h0m.1 10.1h0m0-6.2h0m.2-1.3h0m.1-.4h0m0 3.8h0m.2-1.2h0m.1-2.6h0m0 6.8h0m0-6.3h0m.1 7.9h0m0-5.7h0m0-5.5h0m0 3.8h0m0 1h0m.1 5.1h0m0-6.8h0m.2-4h0m0 1.3h0m.1 5.7h0m.1-4h0m0 5.3h0m0-3.2h0m0 6.9h0m0 1.3h0m0-1.7h0m0-4.7h0m.1 2.4h0m0-8.1h0m.1 5.7h0m0-5.1h0m.1 1.8h0m0 1.1h0m.4-2.9h0m.1 2.9h0m0 3.6h0m0 2.8h0m.1 .2h0m0-2.4h0m.1-5.8h0m0-1.9h0m0 13.1h0m.1-3.7h0m0-4h0m.1 5.5h0m.1-8.6h0m.1 5.3h0m.3-.1h0m0 3.1h0m0-2.1h0m.1-6.4h0m.1 12.8h0m0-18.1h0m.1 8.5h0m0 3.2h0m.1-4.9h0m.1 8.1h0m0-5.3h0m0-1.4h0m.1-3.7h0m0 7h0m.1-.7h0m0-2.9h0m.1 3.3h0m0-10.7h0m0 5.1h0m.1 3.8h0m0-.4h0m0-4.3h0m.1 1.8h0m0-.4h0m.1-2.1h0m.2 .5h0m.1 11.9h0m0 1.8h0m.2-11.7h0m.1-1.8h0m.1 4.8h0m0 .8h0m0-2h0m.2 6.4h0m.1-10.6h0m.1 10.1h0m.2-11h0m0 6.4h0m.1 2.9h0m.1-1.9h0m0-4.6h0m0 3h0m.1-1.3h0m0 2.2h0m.2 1h0m0-4h0m.1 11.3h0m0-14.8h0m.1 12.5h0m.1-4.6h0m0 .6h0m.1 0h0m.1-6.9h0m.1 7.4h0m0-1.1h0m0-11.6h0m.1 5h0m.1 7.8h0m.2-3h0m.1-1.5h0m.1-1.4h0m0 5.9h0m0 .2h0m0-9.6h0m.1 5.3h0m0 3.6h0m0-6.2h0m.2 2.1h0m.2-5.8h0m.1 9.7h0m.1-12.1h0m.2 10.3h0m.1-9.8h0m0 11.5h0m.1 4h0m.2-5.4h0m.1-5.5h0m0-.6h0m.3 5.4h0m0-.8h0m.1-7.1h0m0 6.1h0m.2 9h0m0-13.3h0m.1 6.5h0m.1 1.2h0m.1 .2h0m.1-3.3h0m0 5.4h0m.1 1.7h0m0-5.8h0m.1 8h0m.1-5.5h0m0-5.5h0m.1 3.3h0m.1-1.8h0m0-1.5h0m.1 11.6h0m0-18.3h0m.4 11.4h0m0-.2h0m.1-5h0m0 .4h0m0 7h0m.1 .1h0m.1 .1h0m0-3.3h0m.1-2.3h0m.1 6.7h0m0-1.5h0m0-13.1h0m.1 15.4h0m.1-8.1h0m.1 6.5h0m0-2.1h0m0 3.6h0m0-5.3h0m.2-5.9h0m0 2h0m.1 6.9h0m0-4.6h0m.1 7.4h0m.2-6.4h0m.1-3.4h0m0 6.4h0m.1-4.9h0m.3 2.8h0m.2-.8h0m.1 .6h0m.3 5.5h0m0-15.6h0m.1 2.8h0m0 8.8h0m.1 .6h0m.1-4.6h0m.2-2.9h0m.1 4.7h0m.1 6.7h0m.2-8.4h0m.1 1.2h0m.1 .7h0m.1-7h0m0 6.1h0m.1-2.3h0m.1 .4h0m0-.9h0m.1 4.9h0m0-9.7h0m.1 8.8h0m.1-2.7h0m.1-3.9h0m0 4.3h0m.1 4h0m0-8.5h0m0 6.1h0m0-1.6h0m.2 .7h0m0 1h0m.1-1.1h0m.2 1.5h0m0-1.4h0m.1 2.5h0m.1-11h0m.2 3.2h0m0 8.6h0m0 1h0m.1-9.4h0m0 .6h0m.1 11h0m0-12h0m.1 5.6h0m.3 4.4h0m0-3.2h0m.1-3.5h0m.1-.3h0m0-6.1h0m0 7.2h0m.1 2.8h0m.1-7.7h0m0 3.3h0m.1 2.6h0m.3 .3h0m0 6.3h0m.1-7.7h0m0 6.9h0m.1-6h0m.2-.1h0m.2 3.7h0m0-2.5h0m0-2.4h0m0 3.9h0m.3 1.8h0m0 2.2h0m.1-5.3h0m0-5.7h0m.1 5.3h0m0 1.8h0m0 1.3h0m.2 3h0m.1-11.1h0m.1 7.4h0m0 .1h0m.1-.4h0m0 .6h0m0-2.3h0m.1 1.5h0m.1-1.1h0m0-1.2h0m.1-5.7h0m.1 9.4h0m0-9.1h0m.1 8.1h0m.1 .9h0m.1-9.6h0m0 4.8h0m0 3.4h0m.2 1.3h0m.2-1.4h0m0 5.8h0m0-12.6h0m0 8.9h0m.1-7.9h0m0 6.7h0m.1-3.6h0m.1 3.5h0m0 5h0m.1-6.8h0m.1 2h0m0-4.7h0m0 3.2h0m.2-10.1h0m.1 18.5h0m.1-5.5h0m.1 0h0m0 2.7h0m0-.7h0m.1-2.6h0m.1-7.8h0m.3-2.8h0m0 2.5h0m0 7.6h0m0-6.4h0m.1 .8h0m.2 .3h0m0-4.3h0m0 8.7h0m.1-2.9h0m.2-7.2h0m0 1.9h0m.1 9.2h0m.1-9.1h0m0 2.2h0m0 1.5h0m.1 5.2h0m0-.3h0m.1 .6h0m.1 3.7h0m0-13.4h0m0 5.7h0m0 2h0m.1 5.3h0m.1-.9h0m.1-10h0m0 7.7h0m.2-4.4h0m.3 8.1h0m0-9.2h0m0-.9h0m0 5.2h0m0 3h0m.1-10.7h0m0 1.8h0m0 .9h0m.1 4.1h0m.1-1.7h0m0-2.8h0m0 8.1h0m.3-3.4h0m0 4h0m.1-3.3h0m.2 1.6h0m0-5.5h0m0-2h0m0 8.9h0m.1-14h0m0 8.5h0m.1-2.1h0m.2 7.1h0m0-7.2h0m0 5.3h0m.1-.2h0m.1 .9h0m0-6.3h0m0-2.3h0m.3 3.5h0m0-2.4h0m.1 6.1h0m0 2.8h0m0-3.8h0m0 4.7h0m.2-5.1h0m.1-2.5h0m0-3.3h0m0 5.6h0m.2 2.3h0m.1 6.7h0m.1-10.3h0m.1 4.5h0m0-5.7h0m0-.9h0m.1 6.3h0m.3-7.2h0m0-3h0m.1 6.4h0m0-.1h0m.1 2.1h0m0 2.3h0m0 3h0m0-9.4h0m.1 4.4h0m.1-3.9h0m.1-2.8h0m.1 8.2h0m0-6.5h0m.1 7h0m.1-3.6h0m.1-2.9h0m0 1.6h0m0 5.5h0m.3-5.5h0m.1-1.1h0m0 11.8h0m.1-3h0m0-.8h0m.1 3.8h0m0-9.2h0m.3 9.2h0m0 0h0m.1-1.6h0m0-14.9h0m.1 5.6h0m.1 1.1h0m0-5h0m.1 9.9h0m0-8.8h0m0 7h0m.1 1.1h0m0-5.6h0m.2 .2h0m0 2.1h0m.1 1.1h0m.1-5.7h0m0 7.8h0m.1-9.9h0m0 1.5h0m.1 3.8h0m0 3.7h0m.1-4.7h0m0 1.6h0m0-1h0m.1 7.5h0m0-7.1h0m.1-8.2h0m0 9.4h0m.1 3.9h0m.1-11h0m.1-2.3h0m.2 8.2h0m.3 1.1h0m0 1.1h0m.1-10.2h0m.1 2.9h0m0 15.4h0m0-17h0m.1 5.2h0m.1 3.1h0m0-1.4h0m0-1.6h0m0 1.8h0m.1-1.2h0m.2 3.3h0m0-.2h0m.1-.1h0m.1-1.9h0m0 7.7h0m0-10.6h0m.1 9.5h0m0-10.6h0m0 4.5h0m.1-1h0m.2 6.8h0m.1-5.8h0m0-2.1h0m.1 4.8h0m0 6.8h0m0-17.6h0m.1 10.7h0m.1-5.6h0m.1 3.7h0m.1-5.8h0m.2 5.7h0m0-2.1h0m0 .6h0m.1 9.1h0m.2-14.7h0m.3 12.9h0m0-10.8h0m0 1.4h0m.1 3.6h0m.1 1.5h0m0-.3h0m.1-1.3h0m0-9.5h0m.1 6.1h0m.2 4.5h0m0-.4h0m.1 3.8h0m0-11.1h0m0 7.1h0m0-.2h0m.1 1.5h0m.1-3h0m0 1.3h0m0 1.9h0m.1-2.5h0m.1-4.8h0m.2 4.3h0m0-1h0m0 3.3h0m.1-1.9h0m0-.4h0m.1 .8h0m.2-5.4h0m0 9.5h0m.1-3.1h0m.1-4.2h0m0 3.1h0m0 1.8h0m0-9.2h0m0 11.9h0m.1-9.7h0m.1 6.8h0m.1-3.8h0m0 2.3h0m0 6.6h0m.1-7.3h0m.1 6.5h0m.1-1.8h0m.1-4.6h0m0 4.7h0m0-5.2h0m.1 1h0m0 2.2h0m0-5.5h0m.1 1.1h0m.1 6.6h0m.1 3.4h0m.1-4.7h0m.1-11h0m0 6.3h0m0 1.1h0m.1-.6h0m.1 2.2h0m0 2.8h0m0-.5h0m.1 1.3h0m.1-1.8h0m.1-2.7h0m.2 .1h0m.1-4.3h0m.1 8.4h0m0-5.7h0m0-5h0m0 6.7h0m.1-9.6h0m0 2.4h0m.2 6.5h0m.2-5.7h0m.1-.8h0m.1 3.7h0m0 4.3h0m.1-3.3h0m0 3.2h0m0 3.1h0m.1-7.9h0m0 2.1h0m0 10.9h0m0-7.7h0m0-2.6h0m0 1.8h0m.2-4h0m.1 3.6h0m0 2.1h0m0 2.9h0m0-8.4h0m.1 0h0m0-6.2h0m.1 15.4h0m.1-6.9h0m.1 .6h0m0-2.2h0m0-4.1h0m0 6.7h0m.1 1.1h0m.1-7.6h0m.1 1.1h0m.1 9.3h0m0-4.7h0m.1-3.1h0m0 3.8h0m.1-4.6h0m.1 4.6h0m.2-6.3h0m0 9.8h0m0 5.3h0m.2-11.2h0m.1 .4h0m0 7.3h0m0-6.4h0m.2 3.1h0m.2-4.6h0m.1 4.9h0m.2-6.8h0m0 .5h0m0-1.9h0m.1 6.5h0m0-.3h0m.3 .3h0m0-.7h0m0-2.7h0m0-2.1h0m.1 7.9h0m.1-4.3h0m0-3.6h0m.1 5.4h0m.1 0h0" stroke="#f5a2a2" stroke-opacity="0.42" stroke-width="1.4" stroke-linecap="round" fill="none"/>
<path d="M522.8 371.2L523.0 371.2L523.2 371.2L523.5 371.2L523.7 371.2L523.9 371.2L524.1 371.2L524.4 371.2L524.6 371.2L524.8 371.2L525.0 371.2L525.3 371.2L525.5 371.2L525.7 371.2L525.9 371.2L526.1 371.2L526.4 371.2L526.6 371.2L526.8 371.2L527.0 371.2L527.3 371.2L527.5 371.2L527.7 371.2L527.9 371.2L528.2 371.2L528.4 371.2L528.6 371.2L528.8 371.2L529.0 371.2L529.3 371.2L529.5 371.2L529.7 371.2L529.9 371.2L530.2 371.2L530.4 371.2L530.6 371.2L530.8 371.2L531.1 371.2L531.3 371.2L531.5 371.2L531.7 371.2L532.0 371.2L532.2 371.2L532.4 371.2L532.6 371.2L532.8 371.2L533.1 371.2L533.3 371.2L533.5 371.2L533.7 371.2L534.0 371.2L534.2 371.2L534.4 371.2L534.6 371.2L534.9 371.2L535.1 371.2L535.3 371.2L535.5 371.2L535.7 371.2L536.0 371.2L536.2 371.2L536.4 371.2L536.6 371.2L536.9 371.2L537.1 371.2L537.3 371.2L537.5 371.2L537.8 371.2L538.0 371.2L538.2 371.2L538.4 371.2L538.6 371.2L538.9 371.2L539.1 371.2L539.3 371.2L539.5 371.2L539.8 371.2L540.0 371.2L540.2 371.2L540.4 371.2L540.7 371.2L540.9 371.2L541.1 371.2L541.3 371.2L541.5 371.2L541.8 371.2L542.0 371.2L542.2 371.2L542.4 371.2L542.7 371.2L542.9 371.2L543.1 371.2L543.3 371.2L543.6 371.2L543.8 371.2L544.0 371.2L544.2 371.2L544.4 371.2L544.7 371.2L544.9 371.2L545.1 371.2L545.3 371.2L545.6 371.2L545.8 371.2L546.0 371.2L546.2 371.2L546.5 371.2L546.7 371.2L546.9 371.2L547.1 371.2L547.3 371.2L547.6 371.2L547.8 371.2L548.0 371.2L548.2 371.2L548.5 371.2L548.7 371.2L548.9 371.2L549.1 371.2L549.4 371.2L549.6 371.2L549.8 371.2L550.0 371.2L550.3 371.2L550.5 371.2L550.7 371.2L550.9 371.2L551.1 371.2L551.4 371.2L551.6 371.2L551.8 371.2L552.0 371.2L552.3 371.2L552.5 371.2L552.7 371.2L552.9 371.2L553.2 371.2L553.4 371.2L553.6 371.2L553.8 371.2L554.0 371.2L554.3 371.2L554.5 371.2L554.7 371.2L554.9 371.2L555.2 371.2L555.4 371.2L555.6 371.2L555.8 371.2L556.1 371.2L556.3 371.2L556.5 371.2L556.7 371.2L556.9 371.2L557.2 371.2L557.4 371.2L557.6 371.2L557.8 371.2L558.1 371.2L558.3 371.2L558.5 371.2L558.7 371.2L559.0 371.2L559.2 371.2L559.4 371.2L559.6 371.2L559.8 371.2L560.1 371.2L560.3 371.2L560.5 371.2L560.7 371.2L561.0 371.2L561.2 371.2L561.4 371.2L561.6 371.2L561.9 371.2L562.1 371.2L562.3 371.2L562.5 371.2L562.7 371.2L563.0 371.2L563.2 371.2L563.4 371.2L563.6 371.2L563.9 371.2L564.1 371.1L564.3 371.1L564.5 371.1L564.8 371.1L565.0 371.1L565.2 371.1L565.4 371.0L565.6 371.0L565.9 371.0L566.1 371.0L566.3 370.9L566.5 370.9L566.8 370.9L567.0 370.9L567.2 370.8L567.4 370.8L567.7 370.8L567.9 370.7L568.1 370.7L568.3 370.6L568.6 370.5L568.8 370.5L569.0 370.4L569.2 370.3L569.4 370.2L569.7 370.2L569.9 370.1L570.1 370.0L570.3 369.9L570.6 369.9L570.8 369.8L571.0 369.8L571.2 369.7L571.5 369.7L571.7 369.6L571.9 369.6L572.1 369.6L572.3 369.6L572.6 369.6L572.8 369.7L573.0 369.7L573.2 369.8L573.5 369.8L573.7 369.9L573.9 370.0L574.1 370.1L574.4 370.2L574.6 370.3L574.8 370.4L575.0 370.5L575.2 370.6L575.5 370.7L575.7 370.8L575.9 370.9L576.1 371.0L576.4 371.1L576.6 371.2L576.8 371.3L577.0 371.4L577.3 371.5L577.5 371.6L577.7 371.7L577.9 371.8L578.1 371.9L578.4 372.1L578.6 372.2L578.8 372.3L579.0 372.4L579.3 372.5L579.5 372.6L579.7 372.6L579.9 372.7L580.2 372.8L580.4 372.8L580.6 372.8L580.8 372.9L581.0 372.8L581.3 372.8L581.5 372.7L581.7 372.6L581.9 372.4L582.2 372.2L582.4 372.0L582.6 371.7L582.8 371.5L583.1 371.2L583.3 370.9L583.5 370.6L583.7 370.4L584.0 370.1L584.2 369.8L584.4 369.5L584.6 369.2L584.8 368.8L585.1 368.4L585.3 367.9L585.5 367.5L585.7 367.1L586.0 366.8L586.2 366.5L586.4 366.2L586.6 366.1L586.9 366.0L587.1 366.0L587.3 366.0L587.5 366.1L587.7 366.3L588.0 366.4L588.2 366.6L588.4 366.8L588.6 367.1L588.9 367.3L589.1 367.5L589.3 367.8L589.5 368.0L589.8 368.3L590.0 368.6L590.2 369.0L590.4 369.3L590.6 369.7L590.9 370.1L591.1 370.6L591.3 371.0L591.5 371.4L591.8 371.9L592.0 372.5L592.2 373.0L592.4 373.6L592.7 374.1L592.9 374.6L593.1 375.0L593.3 375.3L593.5 375.7L593.8 376.0L594.0 376.3L594.2 376.5L594.4 376.7L594.7 376.7L594.9 376.6L595.1 376.3L595.3 375.9L595.6 375.3L595.8 374.7L596.0 373.9L596.2 372.8L596.4 371.0L596.7 368.8L596.9 366.2L597.1 363.0L597.3 358.1L597.6 352.3L597.8 346.5L598.0 341.2L598.2 335.7L598.5 329.9L598.7 323.2L598.9 315.9L599.1 308.5L599.3 300.7L599.6 293.8L599.8 288.1L600.0 282.9L600.2 277.4L600.5 270.1L600.7 264.3L600.8 263.4L600.9 264.3L601.1 270.1L601.4 277.4L601.6 282.9L601.8 288.1L602.0 293.8L602.3 300.7L602.5 308.5L602.7 315.9L602.9 323.2L603.1 329.9L603.4 335.7L603.6 341.2L603.8 346.5L604.0 352.5L604.3 358.3L604.5 363.1L604.7 366.1L604.9 368.2L605.2 370.0L605.4 371.4L605.6 372.6L605.8 373.3L606.0 374.0L606.3 374.5L606.5 375.0L606.7 375.4L606.9 375.7L607.2 375.9L607.4 376.1L607.6 376.2L607.8 376.4L608.1 376.5L608.3 376.6L608.5 376.6L608.7 376.7L608.9 376.7L609.2 376.6L609.4 376.5L609.6 376.2L609.8 375.9L610.1 375.6L610.3 375.3L610.5 374.9L610.7 374.6L611.0 374.2L611.2 373.8L611.4 373.4L611.6 373.0L611.8 372.5L612.1 372.1L612.3 371.6L612.5 371.2L612.7 370.8L613.0 370.3L613.2 369.9L613.4 369.4L613.6 369.0L613.9 368.5L614.1 368.1L614.3 367.8L614.5 367.5L614.7 367.2L615.0 366.9L615.2 366.6L615.4 366.4L615.6 366.2L615.9 366.0L616.1 366.0L616.3 366.0L616.5 366.1L616.8 366.3L617.0 366.5L617.2 366.8L617.4 367.1L617.6 367.4L617.9 367.7L618.1 368.0L618.3 368.3L618.5 368.6L618.8 368.8L619.0 369.1L619.2 369.3L619.4 369.5L619.7 369.8L619.9 370.0L620.1 370.3L620.3 370.6L620.6 370.8L620.8 371.1L621.0 371.3L621.2 371.5L621.4 371.8L621.7 372.0L621.9 372.2L622.1 372.3L622.3 372.5L622.6 372.6L622.8 372.7L623.0 372.8L623.2 372.8L623.5 372.9L623.7 372.8L623.9 372.8L624.1 372.7L624.3 372.7L624.6 372.6L624.8 372.5L625.0 372.3L625.2 372.2L625.5 372.1L625.7 371.9L625.9 371.8L626.1 371.7L626.4 371.5L626.6 371.4L626.8 371.3L627.0 371.2L627.2 371.1L627.5 371.0L627.7 370.8L627.9 370.7L628.1 370.6L628.4 370.4L628.6 370.3L628.8 370.2L629.0 370.1L629.3 370.0L629.5 369.9L629.7 369.8L629.9 369.7L630.1 369.7L630.4 369.6L630.6 369.6L630.8 369.6L631.0 369.6L631.3 369.7L631.5 369.7L631.7 369.8L631.9 369.8L632.2 369.9L632.4 370.0L632.6 370.1L632.8 370.1L633.0 370.2L633.3 370.3L633.5 370.4L633.7 370.5L633.9 370.5L634.2 370.6L634.4 370.7L634.6 370.7L634.8 370.8L635.1 370.8L635.3 370.9L635.5 370.9L635.7 370.9L636.0 370.9L636.2 371.0L636.4 371.0L636.6 371.0L636.8 371.0L637.1 371.1L637.3 371.1L637.5 371.1L637.7 371.1L638.0 371.2L638.2 371.2L638.4 371.2L638.6 371.2L638.9 371.2L639.1 371.2L639.3 371.2L639.5 371.2L639.7 371.2L640.0 371.2L640.2 371.2L640.4 371.2L640.6 371.2L640.9 371.2L641.1 371.2L641.3 371.2L641.5 371.2L641.8 371.2L642.0 371.2L642.2 371.2L642.4 371.2L642.6 371.2L642.9 371.2L643.1 371.2L643.3 371.2L643.5 371.2L643.8 371.2L644.0 371.2L644.2 371.2L644.4 371.2L644.7 371.2L644.9 371.2L645.1 371.2L645.3 371.2L645.5 371.2L645.8 371.2L646.0 371.2L646.2 371.2L646.4 371.2L646.7 371.2L646.9 371.2L647.1 371.2L647.3 371.2L647.6 371.2L647.8 371.2L648.0 371.2L648.2 371.2L648.4 371.2L648.7 371.2L648.9 371.2L649.1 371.2L649.3 371.2L649.6 371.2L649.8 371.2L650.0 371.2L650.2 371.2L650.5 371.2L650.7 371.2L650.9 371.2L651.1 371.2L651.3 371.2L651.6 371.2L651.8 371.2L652.0 371.2L652.2 371.2L652.5 371.2L652.7 371.2L652.9 371.2L653.1 371.2L653.4 371.2L653.6 371.2L653.8 371.2L654.0 371.2L654.3 371.2L654.5 371.2L654.7 371.2L654.9 371.2L655.1 371.2L655.4 371.2L655.6 371.2L655.8 371.2L656.0 371.2L656.3 371.2L656.5 371.2L656.7 371.2L656.9 371.2L657.2 371.2L657.4 371.2L657.6 371.2L657.8 371.2L658.0 371.2L658.3 371.2L658.5 371.2L658.7 371.2L658.9 371.2L659.2 371.2L659.4 371.2L659.6 371.2L659.8 371.2L660.1 371.2L660.3 371.2L660.5 371.2L660.7 371.2L660.9 371.2L661.2 371.2L661.4 371.2L661.6 371.2L661.8 371.2L662.1 371.2L662.3 371.2L662.5 371.2L662.7 371.2L663.0 371.2L663.2 371.2L663.4 371.2L663.6 371.2L663.8 371.2L664.1 371.2L664.3 371.2L664.5 371.2L664.7 371.2L665.0 371.2L665.2 371.2L665.4 371.2L665.6 371.2L665.9 371.2L666.1 371.2L666.3 371.2L666.5 371.2L666.7 371.2L667.0 371.2L667.2 371.2L667.4 371.2L667.6 371.2L667.9 371.2L668.1 371.2L668.3 371.2L668.5 371.2L668.8 371.2L669.0 371.2L669.2 371.2L669.4 371.2L669.6 371.2L669.9 371.2L670.1 371.2L670.3 371.2L670.5 371.2L670.8 371.2L671.0 371.2L671.2 371.2L671.4 371.2L671.7 371.2L671.9 371.2L672.1 371.2L672.3 371.2L672.6 371.2L672.8 371.2L673.0 371.2L673.2 371.2L673.4 371.2L673.7 371.2L673.9 371.2L674.1 371.2L674.3 371.2L674.6 371.2L674.8 371.2L675.0 371.2L675.2 371.2L675.5 371.2L675.7 371.2L675.9 371.2L676.1 371.2L676.3 371.2L676.6 371.2L676.8 371.2L677.0 371.2L677.2 371.2L677.5 371.2L677.7 371.2L677.9 371.2L678.1 371.2L678.4 371.2L678.6 371.2L678.8 371.2" stroke="#880707" stroke-width="2.0" fill="none" stroke-linejoin="round"/>
</g>
<path d="M50.60 170.35v4.2M50.60 8.65v4.2M63.64 170.35v2.3M63.64 8.65v2.3M76.68 170.35v4.2M76.68 8.65v4.2M89.72 170.35v2.3M89.72 8.65v2.3M102.77 170.35v4.2M102.77 8.65v4.2M115.81 170.35v2.3M115.81 8.65v2.3M128.85 170.35v4.2M128.85 8.65v4.2M141.89 170.35v2.3M141.89 8.65v2.3M154.93 170.35v4.2M154.93 8.65v4.2M167.97 170.35v2.3M167.97 8.65v2.3M181.02 170.35v4.2M181.02 8.65v4.2M194.06 170.35v2.3M194.06 8.65v2.3M207.10 170.35v4.2M207.10 8.65v4.2M50.60 170.35h-4.0M207.10 170.35h-4.0M50.60 153.51h-2.4M207.10 153.51h-2.4M50.60 136.66h-4.0M207.10 136.66h-4.0M50.60 119.82h-2.4M207.10 119.82h-2.4M50.60 102.97h-4.0M207.10 102.97h-4.0M50.60 86.13h-2.4M207.10 86.13h-2.4M50.60 69.29h-4.0M207.10 69.29h-4.0M50.60 52.44h-2.4M207.10 52.44h-2.4M50.60 35.60h-4.0M207.10 35.60h-4.0M50.60 18.76h-2.4M207.10 18.76h-2.4" stroke="#1a1a1a" stroke-width="1" fill="none"/>
<rect x="50.60" y="8.65" width="156.50" height="161.70" stroke="#1a1a1a" stroke-width="1.1" fill="none"/>
<text transform="translate(50.60 184.90) scale(1 1.08)" font-size="10.0" text-anchor="middle" font-family="Liberation Sans, sans-serif" fill="#111">-30</text>
<text transform="translate(76.68 184.90) scale(1 1.08)" font-size="10.0" text-anchor="middle" font-family="Liberation Sans, sans-serif" fill="#111">-20</text>
<text transform="translate(102.77 184.90) scale(1 1.08)" font-size="10.0" text-anchor="middle" font-family="Liberation Sans, sans-serif" fill="#111">-10</text>
<text transform="translate(128.85 184.90) scale(1 1.08)" font-size="10.0" text-anchor="middle" font-family="Liberation Sans, sans-serif" fill="#111">0</text>
<text transform="translate(154.93 184.90) scale(1 1.08)" font-size="10.0" text-anchor="middle" font-family="Liberation Sans, sans-serif" fill="#111">10</text>
<text transform="translate(181.02 184.90) scale(1 1.08)" font-size="10.0" text-anchor="middle" font-family="Liberation Sans, sans-serif" fill="#111">20</text>
<text transform="translate(207.10 184.90) scale(1 1.08)" font-size="10.0" text-anchor="middle" font-family="Liberation Sans, sans-serif" fill="#111">30</text>
<text transform="translate(42.90 174.10) scale(0.985 1.07)" font-size="9.8" text-anchor="end" font-family="Liberation Sans, sans-serif" fill="#111">0.00</text>
<text transform="translate(42.90 140.42) scale(0.985 1.07)" font-size="9.8" text-anchor="end" font-family="Liberation Sans, sans-serif" fill="#111">0.25</text>
<text transform="translate(42.90 106.73) scale(0.985 1.07)" font-size="9.8" text-anchor="end" font-family="Liberation Sans, sans-serif" fill="#111">0.50</text>
<text transform="translate(42.90 73.04) scale(0.985 1.07)" font-size="9.8" text-anchor="end" font-family="Liberation Sans, sans-serif" fill="#111">0.75</text>
<text transform="translate(42.90 39.35) scale(0.985 1.07)" font-size="9.8" text-anchor="end" font-family="Liberation Sans, sans-serif" fill="#111">1.00</text>
<path d="M284.20 170.35v4.2M284.20 8.65v4.2M297.20 170.35v2.3M297.20 8.65v2.3M310.20 170.35v4.2M310.20 8.65v4.2M323.20 170.35v2.3M323.20 8.65v2.3M336.20 170.35v4.2M336.20 8.65v4.2M349.20 170.35v2.3M349.20 8.65v2.3M362.20 170.35v4.2M362.20 8.65v4.2M375.20 170.35v2.3M375.20 8.65v2.3M388.20 170.35v4.2M388.20 8.65v4.2M401.20 170.35v2.3M401.20 8.65v2.3M414.20 170.35v4.2M414.20 8.65v4.2M427.20 170.35v2.3M427.20 8.65v2.3M440.20 170.35v4.2M440.20 8.65v4.2M284.20 170.35h-4.0M440.20 170.35h-4.0M284.20 155.91h-2.4M440.20 155.91h-2.4M284.20 141.47h-4.0M440.20 141.47h-4.0M284.20 127.04h-2.4M440.20 127.04h-2.4M284.20 112.60h-4.0M440.20 112.60h-4.0M284.20 98.16h-2.4M440.20 98.16h-2.4M284.20 83.73h-4.0M440.20 83.73h-4.0M284.20 69.29h-2.4M440.20 69.29h-2.4M284.20 54.85h-4.0M440.20 54.85h-4.0M284.20 40.41h-2.4M440.20 40.41h-2.4M284.20 25.97h-4.0M440.20 25.97h-4.0M284.20 11.54h-2.4M440.20 11.54h-2.4" stroke="#1a1a1a" stroke-width="1" fill="none"/>
<rect x="284.20" y="8.65" width="156.00" height="161.70" stroke="#1a1a1a" stroke-width="1.1" fill="none"/>
<text transform="translate(284.20 183.60) scale(1 1.08)" font-size="8.2" text-anchor="middle" font-family="Liberation Sans, sans-serif" fill="#111">-30</text>
<text transform="translate(310.20 183.60) scale(1 1.08)" font-size="8.2" text-anchor="middle" font-family="Liberation Sans, sans-serif" fill="#111">-20</text>
<text transform="translate(336.20 183.60) scale(1 1.08)" font-size="8.2" text-anchor="middle" font-family="Liberation Sans, sans-serif" fill="#111">-10</text>
<text transform="translate(362.20 183.60) scale(1 1.08)" font-size="8.2" text-anchor="middle" font-family="Liberation Sans, sans-serif" fill="#111">0</text>
<text transform="translate(388.20 183.60) scale(1 1.08)" font-size="8.2" text-anchor="middle" font-family="Liberation Sans, sans-serif" fill="#111">10</text>
<text transform="translate(414.20 183.60) scale(1 1.08)" font-size="8.2" text-anchor="middle" font-family="Liberation Sans, sans-serif" fill="#111">20</text>
<text transform="translate(440.20 183.60) scale(1 1.08)" font-size="8.2" text-anchor="middle" font-family="Liberation Sans, sans-serif" fill="#111">30</text>
<text transform="translate(277.10 173.91) scale(0.97 1.14)" font-size="10.2" text-anchor="end" font-family="Liberation Sans, sans-serif" fill="#111">0.00</text>
<text transform="translate(277.10 145.04) scale(0.97 1.14)" font-size="10.2" text-anchor="end" font-family="Liberation Sans, sans-serif" fill="#111">0.25</text>
<text transform="translate(277.10 116.16) scale(0.97 1.14)" font-size="10.2" text-anchor="end" font-family="Liberation Sans, sans-serif" fill="#111">0.50</text>
<text transform="translate(277.10 87.29) scale(0.97 1.14)" font-size="10.2" text-anchor="end" font-family="Liberation Sans, sans-serif" fill="#111">0.75</text>
<text transform="translate(277.10 58.41) scale(0.97 1.14)" font-size="10.2" text-anchor="end" font-family="Liberation Sans, sans-serif" fill="#111">1.00</text>
<text transform="translate(277.10 29.54) scale(0.97 1.14)" font-size="10.2" text-anchor="end" font-family="Liberation Sans, sans-serif" fill="#111">1.25</text>
<path d="M522.80 170.35v4.2M522.80 8.65v4.2M535.80 170.35v2.3M535.80 8.65v2.3M548.80 170.35v4.2M548.80 8.65v4.2M561.80 170.35v2.3M561.80 8.65v2.3M574.80 170.35v4.2M574.80 8.65v4.2M587.80 170.35v2.3M587.80 8.65v2.3M600.80 170.35v4.2M600.80 8.65v4.2M613.80 170.35v2.3M613.80 8.65v2.3M626.80 170.35v4.2M626.80 8.65v4.2M639.80 170.35v2.3M639.80 8.65v2.3M652.80 170.35v4.2M652.80 8.65v4.2M665.80 170.35v2.3M665.80 8.65v2.3M678.80 170.35v4.2M678.80 8.65v4.2M522.80 170.35h-4.0M678.80 170.35h-4.0M522.80 157.72h-2.4M678.80 157.72h-2.4M522.80 145.08h-4.0M678.80 145.08h-4.0M522.80 132.45h-2.4M678.80 132.45h-2.4M522.80 119.82h-4.0M678.80 119.82h-4.0M522.80 107.19h-2.4M678.80 107.19h-2.4M522.80 94.55h-4.0M678.80 94.55h-4.0M522.80 81.92h-2.4M678.80 81.92h-2.4M522.80 69.29h-4.0M678.80 69.29h-4.0M522.80 56.65h-2.4M678.80 56.65h-2.4M522.80 44.02h-4.0M678.80 44.02h-4.0M522.80 31.39h-2.4M678.80 31.39h-2.4M522.80 18.76h-4.0M678.80 18.76h-4.0" stroke="#1a1a1a" stroke-width="1" fill="none"/>
<rect x="522.80" y="8.65" width="156.00" height="161.70" stroke="#1a1a1a" stroke-width="1.1" fill="none"/>
<text transform="translate(522.80 185.00) scale(1 1.08)" font-size="10.0" text-anchor="middle" font-family="Liberation Sans, sans-serif" fill="#111">-30</text>
<text transform="translate(548.80 185.00) scale(1 1.08)" font-size="10.0" text-anchor="middle" font-family="Liberation Sans, sans-serif" fill="#111">-20</text>
<text transform="translate(574.80 185.00) scale(1 1.08)" font-size="10.0" text-anchor="middle" font-family="Liberation Sans, sans-serif" fill="#111">-10</text>
<text transform="translate(600.80 185.00) scale(1 1.08)" font-size="10.0" text-anchor="middle" font-family="Liberation Sans, sans-serif" fill="#111">0</text>
<text transform="translate(626.80 185.00) scale(1 1.08)" font-size="10.0" text-anchor="middle" font-family="Liberation Sans, sans-serif" fill="#111">10</text>
<text transform="translate(652.80 185.00) scale(1 1.08)" font-size="10.0" text-anchor="middle" font-family="Liberation Sans, sans-serif" fill="#111">20</text>
<text transform="translate(678.80 185.00) scale(1 1.08)" font-size="10.0" text-anchor="middle" font-family="Liberation Sans, sans-serif" fill="#111">30</text>
<text transform="translate(515.00 173.77) scale(0.95 1.1)" font-size="10.2" text-anchor="end" font-family="Liberation Sans, sans-serif" fill="#111">0.00</text>
<text transform="translate(515.00 148.50) scale(0.95 1.1)" font-size="10.2" text-anchor="end" font-family="Liberation Sans, sans-serif" fill="#111">0.25</text>
<text transform="translate(515.00 123.24) scale(0.95 1.1)" font-size="10.2" text-anchor="end" font-family="Liberation Sans, sans-serif" fill="#111">0.50</text>
<text transform="translate(515.00 97.97) scale(0.95 1.1)" font-size="10.2" text-anchor="end" font-family="Liberation Sans, sans-serif" fill="#111">0.75</text>
<text transform="translate(515.00 72.70) scale(0.95 1.1)" font-size="10.2" text-anchor="end" font-family="Liberation Sans, sans-serif" fill="#111">1.00</text>
<text transform="translate(515.00 47.44) scale(0.95 1.1)" font-size="10.2" text-anchor="end" font-family="Liberation Sans, sans-serif" fill="#111">1.25</text>
<text transform="translate(515.00 22.17) scale(0.95 1.1)" font-size="10.2" text-anchor="end" font-family="Liberation Sans, sans-serif" fill="#111">1.50</text>
<path d="M50.60 381.35v4.2M50.60 219.50v4.2M70.12 381.35v2.3M70.12 219.50v2.3M89.65 381.35v4.2M89.65 219.50v4.2M109.18 381.35v2.3M109.18 219.50v2.3M128.70 381.35v4.2M128.70 219.50v4.2M148.23 381.35v2.3M148.23 219.50v2.3M167.75 381.35v4.2M167.75 219.50v4.2M187.28 381.35v2.3M187.28 219.50v2.3M206.80 381.35v4.2M206.80 219.50v4.2M50.60 381.35h-4.0M206.80 381.35h-4.0M50.60 370.56h-2.4M206.80 370.56h-2.4M50.60 359.77h-4.0M206.80 359.77h-4.0M50.60 348.98h-2.4M206.80 348.98h-2.4M50.60 338.19h-4.0M206.80 338.19h-4.0M50.60 327.40h-2.4M206.80 327.40h-2.4M50.60 316.61h-4.0M206.80 316.61h-4.0M50.60 305.82h-2.4M206.80 305.82h-2.4M50.60 295.03h-4.0M206.80 295.03h-4.0M50.60 284.24h-2.4M206.80 284.24h-2.4M50.60 273.45h-4.0M206.80 273.45h-4.0M50.60 262.66h-2.4M206.80 262.66h-2.4M50.60 251.87h-4.0M206.80 251.87h-4.0M50.60 241.08h-2.4M206.80 241.08h-2.4M50.60 230.29h-4.0M206.80 230.29h-4.0M50.60 219.50h-2.4M206.80 219.50h-2.4" stroke="#1a1a1a" stroke-width="1" fill="none"/>
<rect x="50.60" y="219.50" width="156.20" height="161.85" stroke="#1a1a1a" stroke-width="1.1" fill="none"/>
<text transform="translate(50.60 394.80) scale(1 1.12)" font-size="8.2" text-anchor="middle" font-family="Liberation Sans, sans-serif" fill="#111">-10</text>
<text transform="translate(89.65 394.80) scale(1 1.12)" font-size="8.2" text-anchor="middle" font-family="Liberation Sans, sans-serif" fill="#111">-5</text>
<text transform="translate(128.70 394.80) scale(1 1.12)" font-size="8.2" text-anchor="middle" font-family="Liberation Sans, sans-serif" fill="#111">0</text>
<text transform="translate(167.75 394.80) scale(1 1.12)" font-size="8.2" text-anchor="middle" font-family="Liberation Sans, sans-serif" fill="#111">5</text>
<text transform="translate(206.80 394.80) scale(1 1.12)" font-size="8.2" text-anchor="middle" font-family="Liberation Sans, sans-serif" fill="#111">10</text>
<text transform="translate(42.80 384.49) scale(0.965 1.1)" font-size="10.0" text-anchor="end" font-family="Liberation Sans, sans-serif" fill="#111">0.0</text>
<text transform="translate(42.80 362.91) scale(0.965 1.1)" font-size="10.0" text-anchor="end" font-family="Liberation Sans, sans-serif" fill="#111">0.1</text>
<text transform="translate(42.80 341.33) scale(0.965 1.1)" font-size="10.0" text-anchor="end" font-family="Liberation Sans, sans-serif" fill="#111">0.2</text>
<text transform="translate(42.80 319.75) scale(0.965 1.1)" font-size="10.0" text-anchor="end" font-family="Liberation Sans, sans-serif" fill="#111">0.3</text>
<text transform="translate(42.80 298.17) scale(0.965 1.1)" font-size="10.0" text-anchor="end" font-family="Liberation Sans, sans-serif" fill="#111">0.4</text>
<text transform="translate(42.80 276.59) scale(0.965 1.1)" font-size="10.0" text-anchor="end" font-family="Liberation Sans, sans-serif" fill="#111">0.5</text>
<text transform="translate(42.80 255.01) scale(0.965 1.1)" font-size="10.0" text-anchor="end" font-family="Liberation Sans, sans-serif" fill="#111">0.6</text>
<text transform="translate(42.80 233.43) scale(0.965 1.1)" font-size="10.0" text-anchor="end" font-family="Liberation Sans, sans-serif" fill="#111">0.7</text>
<path d="M284.20 381.35v4.2M284.20 219.50v4.2M303.70 381.35v2.3M303.70 219.50v2.3M323.20 381.35v4.2M323.20 219.50v4.2M342.70 381.35v2.3M342.70 219.50v2.3M362.20 381.35v4.2M362.20 219.50v4.2M381.70 381.35v2.3M381.70 219.50v2.3M401.20 381.35v4.2M401.20 219.50v4.2M420.70 381.35v2.3M420.70 219.50v2.3M440.20 381.35v4.2M440.20 219.50v4.2M284.20 381.35h-4.0M440.20 381.35h-4.0M284.20 370.56h-2.4M440.20 370.56h-2.4M284.20 359.77h-4.0M440.20 359.77h-4.0M284.20 348.98h-2.4M440.20 348.98h-2.4M284.20 338.19h-4.0M440.20 338.19h-4.0M284.20 327.40h-2.4M440.20 327.40h-2.4M284.20 316.61h-4.0M440.20 316.61h-4.0M284.20 305.82h-2.4M440.20 305.82h-2.4M284.20 295.03h-4.0M440.20 295.03h-4.0M284.20 284.24h-2.4M440.20 284.24h-2.4M284.20 273.45h-4.0M440.20 273.45h-4.0M284.20 262.66h-2.4M440.20 262.66h-2.4M284.20 251.87h-4.0M440.20 251.87h-4.0M284.20 241.08h-2.4M440.20 241.08h-2.4M284.20 230.29h-4.0M440.20 230.29h-4.0M284.20 219.50h-2.4M440.20 219.50h-2.4" stroke="#1a1a1a" stroke-width="1" fill="none"/>
<rect x="284.20" y="219.50" width="156.00" height="161.85" stroke="#1a1a1a" stroke-width="1.1" fill="none"/>
<text transform="translate(284.20 394.80) scale(1 1.12)" font-size="8.2" text-anchor="middle" font-family="Liberation Sans, sans-serif" fill="#111">-10</text>
<text transform="translate(323.20 394.80) scale(1 1.12)" font-size="8.2" text-anchor="middle" font-family="Liberation Sans, sans-serif" fill="#111">-5</text>
<text transform="translate(362.20 394.80) scale(1 1.12)" font-size="8.2" text-anchor="middle" font-family="Liberation Sans, sans-serif" fill="#111">0</text>
<text transform="translate(401.20 394.80) scale(1 1.12)" font-size="8.2" text-anchor="middle" font-family="Liberation Sans, sans-serif" fill="#111">5</text>
<text transform="translate(440.20 394.80) scale(1 1.12)" font-size="8.2" text-anchor="middle" font-family="Liberation Sans, sans-serif" fill="#111">10</text>
<text transform="translate(276.40 384.49) scale(0.965 1.1)" font-size="10.0" text-anchor="end" font-family="Liberation Sans, sans-serif" fill="#111">0.0</text>
<text transform="translate(276.40 362.91) scale(0.965 1.1)" font-size="10.0" text-anchor="end" font-family="Liberation Sans, sans-serif" fill="#111">0.1</text>
<text transform="translate(276.40 341.33) scale(0.965 1.1)" font-size="10.0" text-anchor="end" font-family="Liberation Sans, sans-serif" fill="#111">0.2</text>
<text transform="translate(276.40 319.75) scale(0.965 1.1)" font-size="10.0" text-anchor="end" font-family="Liberation Sans, sans-serif" fill="#111">0.3</text>
<text transform="translate(276.40 298.17) scale(0.965 1.1)" font-size="10.0" text-anchor="end" font-family="Liberation Sans, sans-serif" fill="#111">0.4</text>
<text transform="translate(276.40 276.59) scale(0.965 1.1)" font-size="10.0" text-anchor="end" font-family="Liberation Sans, sans-serif" fill="#111">0.5</text>
<text transform="translate(276.40 255.01) scale(0.965 1.1)" font-size="10.0" text-anchor="end" font-family="Liberation Sans, sans-serif" fill="#111">0.6</text>
<text transform="translate(276.40 233.43) scale(0.965 1.1)" font-size="10.0" text-anchor="end" font-family="Liberation Sans, sans-serif" fill="#111">0.7</text>
<path d="M522.80 381.35v4.2M522.80 219.50v4.2M542.30 381.35v2.3M542.30 219.50v2.3M561.80 381.35v4.2M561.80 219.50v4.2M581.30 381.35v2.3M581.30 219.50v2.3M600.80 381.35v4.2M600.80 219.50v4.2M620.30 381.35v2.3M620.30 219.50v2.3M639.80 381.35v4.2M639.80 219.50v4.2M659.30 381.35v2.3M659.30 219.50v2.3M678.80 381.35v4.2M678.80 219.50v4.2M522.80 381.35h-4.0M678.80 381.35h-4.0M522.80 371.23h-2.4M678.80 371.23h-2.4M522.80 361.12h-4.0M678.80 361.12h-4.0M522.80 351.00h-2.4M678.80 351.00h-2.4M522.80 340.89h-4.0M678.80 340.89h-4.0M522.80 330.77h-2.4M678.80 330.77h-2.4M522.80 320.66h-4.0M678.80 320.66h-4.0M522.80 310.54h-2.4M678.80 310.54h-2.4M522.80 300.43h-4.0M678.80 300.43h-4.0M522.80 290.31h-2.4M678.80 290.31h-2.4M522.80 280.19h-4.0M678.80 280.19h-4.0M522.80 270.08h-2.4M678.80 270.08h-2.4M522.80 259.96h-4.0M678.80 259.96h-4.0M522.80 249.85h-2.4M678.80 249.85h-2.4M522.80 239.73h-4.0M678.80 239.73h-4.0M522.80 229.62h-2.4M678.80 229.62h-2.4M522.80 219.50h-4.0M678.80 219.50h-4.0" stroke="#1a1a1a" stroke-width="1" fill="none"/>
<rect x="522.80" y="219.50" width="156.00" height="161.85" stroke="#1a1a1a" stroke-width="1.1" fill="none"/>
<text transform="translate(522.80 395.70) scale(1 1.08)" font-size="10.0" text-anchor="middle" font-family="Liberation Sans, sans-serif" fill="#111">-10</text>
<text transform="translate(561.80 395.70) scale(1 1.08)" font-size="10.0" text-anchor="middle" font-family="Liberation Sans, sans-serif" fill="#111">-5</text>
<text transform="translate(600.80 395.70) scale(1 1.08)" font-size="10.0" text-anchor="middle" font-family="Liberation Sans, sans-serif" fill="#111">0</text>
<text transform="translate(639.80 395.70) scale(1 1.08)" font-size="10.0" text-anchor="middle" font-family="Liberation Sans, sans-serif" fill="#111">5</text>
<text transform="translate(678.80 395.70) scale(1 1.08)" font-size="10.0" text-anchor="middle" font-family="Liberation Sans, sans-serif" fill="#111">10</text>
<text transform="translate(515.00 374.37) scale(0.965 1.1)" font-size="10.0" text-anchor="end" font-family="Liberation Sans, sans-serif" fill="#111">0.0</text>
<text transform="translate(515.00 354.14) scale(0.965 1.1)" font-size="10.0" text-anchor="end" font-family="Liberation Sans, sans-serif" fill="#111">0.1</text>
<text transform="translate(515.00 333.91) scale(0.965 1.1)" font-size="10.0" text-anchor="end" font-family="Liberation Sans, sans-serif" fill="#111">0.2</text>
<text transform="translate(515.00 313.68) scale(0.965 1.1)" font-size="10.0" text-anchor="end" font-family="Liberation Sans, sans-serif" fill="#111">0.3</text>
<text transform="translate(515.00 293.45) scale(0.965 1.1)" font-size="10.0" text-anchor="end" font-family="Liberation Sans, sans-serif" fill="#111">0.4</text>
<text transform="translate(515.00 273.22) scale(0.965 1.1)" font-size="10.0" text-anchor="end" font-family="Liberation Sans, sans-serif" fill="#111">0.5</text>
<text transform="translate(515.00 252.98) scale(0.965 1.1)" font-size="10.0" text-anchor="end" font-family="Liberation Sans, sans-serif" fill="#111">0.6</text>
<text transform="translate(515.00 232.75) scale(0.965 1.1)" font-size="10.0" text-anchor="end" font-family="Liberation Sans, sans-serif" fill="#111">0.7</text>
<text transform="translate(85.20 198.90) scale(1 1.04)" font-size="11.2" font-family="Liberation Sans, sans-serif" fill="#262626" textLength="85.90" lengthAdjust="spacing">Time delay τ (ns)</text>
<text transform="translate(318.20 199.00) scale(1 1.04)" font-size="11.2" font-family="Liberation Sans, sans-serif" fill="#262626" textLength="85.50" lengthAdjust="spacing">Time delay τ (ns)</text>
<text transform="translate(558.20 201.60) scale(1 1.04)" font-size="11.2" font-family="Liberation Sans, sans-serif" fill="#262626" textLength="86.20" lengthAdjust="spacing">Time delay τ (ns)</text>
<text transform="translate(87.70 411.60) scale(1 1.04)" font-size="11.2" font-family="Liberation Sans, sans-serif" fill="#262626" textLength="86.00" lengthAdjust="spacing">Time delay τ (ns)</text>
<text transform="translate(318.20 411.60) scale(1 1.04)" font-size="11.2" font-family="Liberation Sans, sans-serif" fill="#262626" textLength="85.50" lengthAdjust="spacing">Time delay τ (ns)</text>
<text transform="translate(558.70 412.70) scale(1 1.04)" font-size="11.2" font-family="Liberation Sans, sans-serif" fill="#262626" textLength="85.00" lengthAdjust="spacing">Time delay τ (ns)</text>
<text transform="translate(12.80 153.50) rotate(-90)" font-size="11.2" font-family="Liberation Sans, sans-serif" fill="#262626" textLength="122.55" lengthAdjust="spacing">Autocorrelations (norm.)</text>
<text transform="translate(245.50 150.60) rotate(-90)" font-size="11.2" font-family="Liberation Sans, sans-serif" fill="#262626" textLength="122.70" lengthAdjust="spacing">Autocorrelations (norm.)</text>
<text transform="translate(477.80 153.50) rotate(-90)" font-size="11.2" font-family="Liberation Sans, sans-serif" fill="#262626" textLength="122.70" lengthAdjust="spacing">Autocorrelations (norm.)</text>
<text transform="translate(14.80 322.00) rotate(-90)" font-size="11.2" font-family="Liberation Sans, sans-serif" fill="#262626" textLength="41.50" lengthAdjust="spacing">Visibility</text>
<text transform="translate(252.00 320.20) rotate(-90)" font-size="11.2" font-family="Liberation Sans, sans-serif" fill="#262626" textLength="40.90" lengthAdjust="spacing">Visibility</text>
<text transform="translate(486.00 321.40) rotate(-90)" font-size="11.2" font-family="Liberation Sans, sans-serif" fill="#262626" textLength="40.90" lengthAdjust="spacing">Visibility</text>
<text x="0.00" y="11.90" font-size="13.5" font-family="Liberation Sans, sans-serif" fill="#111">(a)</text>
<text x="227.00" y="11.90" font-size="13.5" font-family="Liberation Sans, sans-serif" fill="#111">(b)</text>
<text x="475.00" y="11.90" font-size="13.5" font-family="Liberation Sans, sans-serif" fill="#111">(c)</text>
<text x="0.00" y="216.90" font-size="13.5" font-family="Liberation Sans, sans-serif" fill="#111">(d)</text>
<text x="227.00" y="216.90" font-size="13.5" font-family="Liberation Sans, sans-serif" fill="#111">(e)</text>
<text x="475.00" y="216.90" font-size="13.5" font-family="Liberation Sans, sans-serif" fill="#111">(f)</text>
<text transform="translate(168.40 164.10) scale(1 1.08)" font-size="10.7" font-weight="bold" font-family="Liberation Sans, sans-serif" fill="#111">0.3 P<tspan font-size="6.3" dx="-0.5" dy="3.43">sat</tspan></text>
<text transform="translate(400.40 163.90) scale(1 1.08)" font-size="10.7" font-weight="bold" font-family="Liberation Sans, sans-serif" fill="#111">3.2 P<tspan font-size="6.3" dx="-0.5" dy="3.33">sat</tspan></text>
<text transform="translate(638.60 163.80) scale(1 1.08)" font-size="10.7" font-weight="bold" font-family="Liberation Sans, sans-serif" fill="#111">25.2 P<tspan font-size="6.3" dx="-0.5" dy="3.52">sat</tspan></text>
<text transform="translate(168.70 237.00) scale(1 1.08)" font-size="10.7" font-weight="bold" font-family="Liberation Sans, sans-serif" fill="#111">0.3 P<tspan font-size="6.3" dx="-0.5" dy="3.43">sat</tspan></text>
<text transform="translate(400.40 236.90) scale(1 1.08)" font-size="10.7" font-weight="bold" font-family="Liberation Sans, sans-serif" fill="#111">3.2 P<tspan font-size="6.3" dx="-0.5" dy="3.43">sat</tspan></text>
<text transform="translate(636.00 236.80) scale(1 1.08)" font-size="10.7" font-weight="bold" font-family="Liberation Sans, sans-serif" fill="#111">25.2 P<tspan font-size="6.3" dx="-0.5" dy="3.52">sat</tspan></text>
</svg></body></html>
